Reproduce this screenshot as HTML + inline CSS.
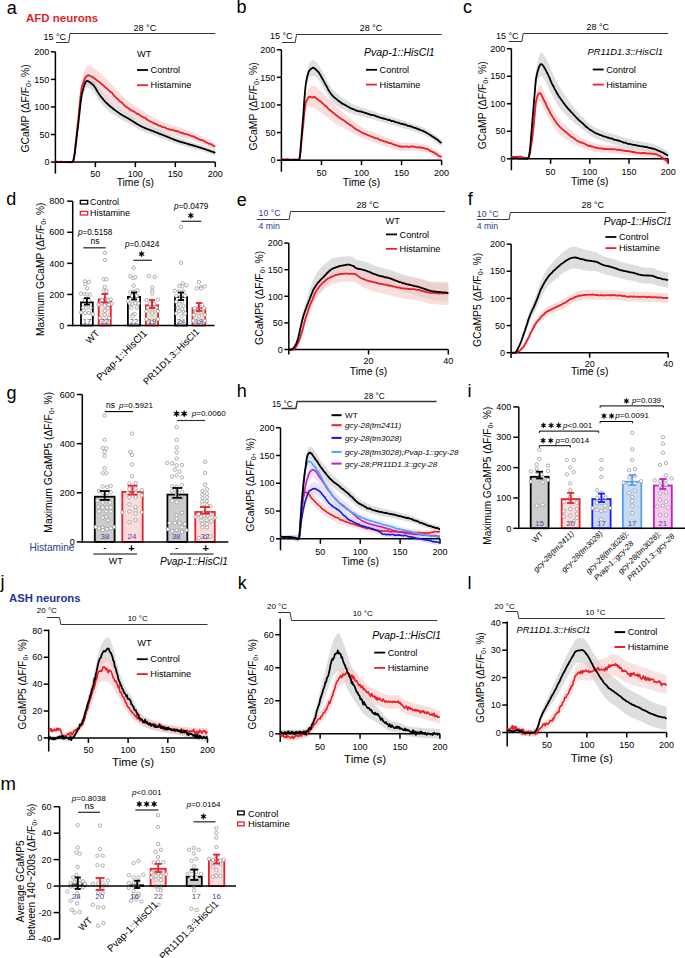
<!DOCTYPE html>
<html><head><meta charset="utf-8"><style>
html,body{margin:0;padding:0;background:#fff;width:685px;height:958px;overflow:hidden}
svg{display:block;font-family:"Liberation Sans", sans-serif}
</style></head><body>
<svg width="685" height="958" viewBox="0 0 685 958">
<text x="6.8" y="14" font-size="18" text-anchor="start" font-weight="normal" font-style="normal" fill="#000">a</text>
<text x="26" y="21.8" font-size="11.5" text-anchor="start" font-weight="bold" font-style="normal" fill="#e41f26">AFD neurons</text>
<path d="M56,42.5 L68.7,42.5 L70,33.5 L215.3,33.5" stroke="#3d3434" stroke-width="1" fill="none"/>
<text x="43.5" y="39.6" font-size="9" text-anchor="start" font-weight="normal" font-style="normal" fill="#000">15 °C</text>
<text x="144.9" y="31" font-size="9" text-anchor="middle" font-weight="normal" font-style="normal" fill="#000">28 °C</text>
<path d="M55.4,161.0 56.2,161.0 57.0,161.1 57.8,161.1 58.6,161.1 59.4,161.2 60.2,161.2 61.0,161.2 61.8,161.3 62.6,161.3 63.4,161.3 64.2,161.4 65.0,161.4 65.8,161.4 66.6,161.5 67.5,161.5 68.3,161.5 69.1,161.5 69.9,161.5 70.7,161.5 71.5,161.5 72.3,161.3 73.1,160.6 73.9,157.0 74.7,150.8 75.5,142.8 76.3,134.1 77.1,125.6 77.9,117.9 78.7,109.6 79.5,100.7 80.3,92.3 81.1,85.0 81.9,79.8 82.7,76.7 83.5,74.0 84.3,71.6 85.1,69.5 85.9,67.8 86.7,66.5 87.5,65.7 88.3,65.4 89.1,65.4 90.0,65.7 90.8,66.1 91.6,66.5 92.4,67.0 93.2,67.6 94.0,68.2 94.8,68.7 95.6,69.3 96.4,69.9 97.2,70.6 98.0,71.3 98.8,72.0 99.6,72.8 100.4,73.5 101.2,74.3 102.0,75.0 102.8,75.8 103.6,76.5 104.4,77.3 105.2,78.0 106.0,78.8 106.8,79.5 107.6,80.3 108.4,81.1 109.2,81.9 110.0,82.7 110.8,83.5 111.6,84.3 112.4,85.2 113.3,86.0 114.1,86.9 114.9,87.8 115.7,88.7 116.5,89.6 117.3,90.5 118.1,91.4 118.9,92.2 119.7,93.0 120.5,93.9 121.3,94.7 122.1,95.5 122.9,96.3 123.7,97.1 124.5,97.9 125.3,98.6 126.1,99.3 126.9,100.0 127.7,100.7 128.5,101.3 129.3,102.0 130.1,102.5 130.9,103.1 131.7,103.7 132.5,104.2 133.3,104.7 134.1,105.2 134.9,105.7 135.8,106.2 136.6,106.7 137.4,107.2 138.2,107.7 139.0,108.2 139.8,108.8 140.6,109.3 141.4,109.8 142.2,110.3 143.0,110.9 143.8,111.4 144.6,111.9 145.4,112.5 146.2,113.0 147.0,113.5 147.8,114.0 148.6,114.6 149.4,115.1 150.2,115.5 151.0,116.0 151.8,116.5 152.6,116.9 153.4,117.3 154.2,117.8 155.0,118.2 155.8,118.6 156.6,118.9 157.4,119.3 158.3,119.7 159.1,120.1 159.9,120.4 160.7,120.8 161.5,121.1 162.3,121.4 163.1,121.8 163.9,122.1 164.7,122.4 165.5,122.7 166.3,123.0 167.1,123.3 167.9,123.6 168.7,123.9 169.5,124.1 170.3,124.4 171.1,124.7 171.9,124.9 172.7,125.2 173.5,125.5 174.3,125.7 175.1,126.0 175.9,126.2 176.7,126.5 177.5,126.8 178.3,127.0 179.1,127.3 179.9,127.6 180.7,127.8 181.6,128.1 182.4,128.3 183.2,128.6 184.0,128.9 184.8,129.1 185.6,129.4 186.4,129.7 187.2,130.0 188.0,130.3 188.8,130.6 189.6,130.9 190.4,131.2 191.2,131.5 192.0,131.9 192.8,132.2 193.6,132.5 194.4,132.9 195.2,133.3 196.0,133.6 196.8,134.0 197.6,134.3 198.4,134.7 199.2,135.1 200.0,135.5 200.8,135.8 201.6,136.2 202.4,136.6 203.2,137.0 204.1,137.4 204.9,137.8 205.7,138.2 206.5,138.6 207.3,139.0 208.1,139.4 208.9,139.8 209.7,140.2 210.5,140.6 211.3,141.0 212.1,141.4 212.9,141.9 213.7,142.3 214.5,142.7 215.3,143.1 215.3,149.7 214.5,149.4 213.7,149.0 212.9,148.7 212.1,148.3 211.3,148.0 210.5,147.6 209.7,147.3 208.9,146.9 208.1,146.6 207.3,146.2 206.5,145.9 205.7,145.6 204.9,145.2 204.1,144.9 203.2,144.6 202.4,144.2 201.6,143.9 200.8,143.6 200.0,143.3 199.2,143.0 198.4,142.7 197.6,142.3 196.8,142.0 196.0,141.7 195.2,141.4 194.4,141.1 193.6,140.8 192.8,140.6 192.0,140.3 191.2,140.0 190.4,139.7 189.6,139.5 188.8,139.2 188.0,139.0 187.2,138.7 186.4,138.5 185.6,138.3 184.8,138.1 184.0,137.9 183.2,137.7 182.4,137.5 181.6,137.3 180.7,137.1 179.9,136.9 179.1,136.7 178.3,136.5 177.5,136.3 176.7,136.1 175.9,135.9 175.1,135.7 174.3,135.5 173.5,135.3 172.7,135.1 171.9,134.9 171.1,134.7 170.3,134.5 169.5,134.3 168.7,134.1 167.9,133.8 167.1,133.6 166.3,133.4 165.5,133.2 164.7,132.9 163.9,132.7 163.1,132.4 162.3,132.1 161.5,131.9 160.7,131.6 159.9,131.3 159.1,131.0 158.3,130.7 157.4,130.4 156.6,130.1 155.8,129.8 155.0,129.5 154.2,129.1 153.4,128.8 152.6,128.5 151.8,128.1 151.0,127.7 150.2,127.3 149.4,126.9 148.6,126.5 147.8,126.0 147.0,125.6 146.2,125.1 145.4,124.7 144.6,124.2 143.8,123.8 143.0,123.3 142.2,122.9 141.4,122.4 140.6,122.0 139.8,121.5 139.0,121.1 138.2,120.7 137.4,120.2 136.6,119.8 135.8,119.4 134.9,119.0 134.1,118.6 133.3,118.2 132.5,117.8 131.7,117.3 130.9,116.9 130.1,116.5 129.3,116.0 128.5,115.5 127.7,115.0 126.9,114.5 126.1,113.9 125.3,113.3 124.5,112.7 123.7,112.1 122.9,111.5 122.1,110.8 121.3,110.2 120.5,109.5 119.7,108.8 118.9,108.1 118.1,107.5 117.3,106.8 116.5,106.0 115.7,105.3 114.9,104.6 114.1,103.8 113.3,103.1 112.4,102.4 111.6,101.7 110.8,101.0 110.0,100.3 109.2,99.7 108.4,99.0 107.6,98.4 106.8,97.7 106.0,97.1 105.2,96.5 104.4,95.8 103.6,95.2 102.8,94.6 102.0,94.0 101.2,93.3 100.4,92.7 99.6,92.0 98.8,91.3 98.0,90.7 97.2,90.1 96.4,89.5 95.6,88.9 94.8,88.4 94.0,87.9 93.2,87.4 92.4,86.9 91.6,86.4 90.8,85.9 90.0,85.5 89.1,85.2 88.3,85.0 87.5,84.9 86.7,85.2 85.9,85.8 85.1,86.8 84.3,88.2 83.5,89.7 82.7,91.5 81.9,93.7 81.1,98.0 80.3,104.3 79.5,111.9 78.7,119.7 77.9,126.9 77.1,133.1 76.3,140.1 75.5,147.4 74.7,154.0 73.9,159.2 73.1,162.0 72.3,162.4 71.5,162.6 70.7,162.6 69.9,162.6 69.1,162.6 68.3,162.6 67.5,162.6 66.6,162.6 65.8,162.5 65.0,162.5 64.2,162.5 63.4,162.4 62.6,162.4 61.8,162.4 61.0,162.3 60.2,162.3 59.4,162.3 58.6,162.2 57.8,162.2 57.0,162.2 56.2,162.1 55.4,162.1Z" stroke="none" stroke-width="1" fill="#f6c6c6" fill-opacity="0.6"/>
<path d="M55.4,161.5 56.2,161.5 57.0,161.5 57.8,161.5 58.6,161.5 59.4,161.5 60.2,161.5 61.0,161.5 61.8,161.5 62.6,161.5 63.4,161.5 64.2,161.5 65.0,161.5 65.8,161.5 66.6,161.5 67.5,161.5 68.3,161.5 69.1,161.5 69.9,161.5 70.7,161.5 71.5,161.5 72.3,161.3 73.1,160.6 73.9,157.6 74.7,152.2 75.5,145.4 76.3,137.8 77.1,130.4 77.9,123.7 78.7,116.2 79.5,108.3 80.3,100.6 81.1,93.8 81.9,88.7 82.7,85.3 83.5,82.2 84.3,79.4 85.1,77.1 85.9,75.5 86.7,74.7 87.5,74.6 88.3,74.8 89.1,75.1 90.0,75.6 90.8,76.2 91.6,76.9 92.4,77.6 93.2,78.3 94.0,79.3 94.8,80.4 95.6,81.7 96.4,83.1 97.2,84.5 98.0,85.9 98.8,87.2 99.6,88.4 100.4,89.5 101.2,90.6 102.0,91.6 102.8,92.7 103.6,93.6 104.4,94.6 105.2,95.5 106.0,96.4 106.8,97.3 107.6,98.1 108.4,98.8 109.2,99.6 110.0,100.4 110.8,101.1 111.6,101.8 112.4,102.5 113.3,103.2 114.1,103.9 114.9,104.5 115.7,105.2 116.5,105.8 117.3,106.4 118.1,107.0 118.9,107.6 119.7,108.2 120.5,108.8 121.3,109.3 122.1,109.9 122.9,110.4 123.7,110.9 124.5,111.4 125.3,111.9 126.1,112.5 126.9,113.0 127.7,113.5 128.5,114.0 129.3,114.5 130.1,115.0 130.9,115.5 131.7,116.1 132.5,116.6 133.3,117.1 134.1,117.7 134.9,118.2 135.8,118.8 136.6,119.3 137.4,119.8 138.2,120.3 139.0,120.8 139.8,121.3 140.6,121.7 141.4,122.2 142.2,122.6 143.0,123.0 143.8,123.3 144.6,123.7 145.4,124.1 146.2,124.4 147.0,124.7 147.8,125.1 148.6,125.4 149.4,125.7 150.2,126.0 151.0,126.4 151.8,126.7 152.6,127.0 153.4,127.4 154.2,127.7 155.0,128.0 155.8,128.4 156.6,128.7 157.4,129.0 158.3,129.4 159.1,129.7 159.9,130.0 160.7,130.4 161.5,130.7 162.3,131.0 163.1,131.4 163.9,131.7 164.7,132.0 165.5,132.4 166.3,132.7 167.1,133.1 167.9,133.4 168.7,133.8 169.5,134.1 170.3,134.5 171.1,134.8 171.9,135.2 172.7,135.5 173.5,135.8 174.3,136.2 175.1,136.5 175.9,136.8 176.7,137.1 177.5,137.4 178.3,137.7 179.1,137.9 179.9,138.2 180.7,138.5 181.6,138.7 182.4,139.0 183.2,139.2 184.0,139.5 184.8,139.7 185.6,139.9 186.4,140.2 187.2,140.4 188.0,140.7 188.8,141.0 189.6,141.2 190.4,141.5 191.2,141.7 192.0,142.0 192.8,142.2 193.6,142.4 194.4,142.7 195.2,142.9 196.0,143.2 196.8,143.5 197.6,143.7 198.4,144.0 199.2,144.2 200.0,144.5 200.8,144.8 201.6,145.0 202.4,145.3 203.2,145.6 204.1,145.9 204.9,146.2 205.7,146.5 206.5,146.8 207.3,147.1 208.1,147.4 208.9,147.6 209.7,147.9 210.5,148.2 211.3,148.5 212.1,148.8 212.9,149.1 213.7,149.4 214.5,149.7 215.3,150.0 215.3,155.5 214.5,155.3 213.7,155.0 212.9,154.8 212.1,154.5 211.3,154.2 210.5,154.0 209.7,153.7 208.9,153.4 208.1,153.2 207.3,152.9 206.5,152.6 205.7,152.4 204.9,152.1 204.1,151.8 203.2,151.6 202.4,151.3 201.6,151.1 200.8,150.8 200.0,150.6 199.2,150.4 198.4,150.1 197.6,149.9 196.8,149.7 196.0,149.4 195.2,149.2 194.4,149.0 193.6,148.8 192.8,148.6 192.0,148.3 191.2,148.1 190.4,147.9 189.6,147.7 188.8,147.5 188.0,147.2 187.2,147.0 186.4,146.8 185.6,146.6 184.8,146.3 184.0,146.1 183.2,145.9 182.4,145.7 181.6,145.5 180.7,145.2 179.9,145.0 179.1,144.8 178.3,144.5 177.5,144.3 176.7,144.0 175.9,143.7 175.1,143.5 174.3,143.2 173.5,142.9 172.7,142.6 171.9,142.3 171.1,142.0 170.3,141.6 169.5,141.3 168.7,141.0 167.9,140.7 167.1,140.4 166.3,140.0 165.5,139.7 164.7,139.4 163.9,139.1 163.1,138.8 162.3,138.5 161.5,138.2 160.7,137.9 159.9,137.6 159.1,137.3 158.3,137.0 157.4,136.7 156.6,136.4 155.8,136.1 155.0,135.8 154.2,135.5 153.4,135.2 152.6,134.9 151.8,134.6 151.0,134.4 150.2,134.1 149.4,133.8 148.6,133.5 147.8,133.2 147.0,132.9 146.2,132.6 145.4,132.3 144.6,132.0 143.8,131.7 143.0,131.4 142.2,131.0 141.4,130.6 140.6,130.3 139.8,129.8 139.0,129.4 138.2,129.0 137.4,128.5 136.6,128.0 135.8,127.6 134.9,127.1 134.1,126.6 133.3,126.1 132.5,125.6 131.7,125.1 130.9,124.7 130.1,124.2 129.3,123.8 128.5,123.4 127.7,122.9 126.9,122.5 126.1,122.1 125.3,121.7 124.5,121.3 123.7,120.9 122.9,120.4 122.1,120.0 121.3,119.6 120.5,119.1 119.7,118.7 118.9,118.2 118.1,117.7 117.3,117.2 116.5,116.7 115.7,116.1 114.9,115.6 114.1,115.0 113.3,114.5 112.4,113.9 111.6,113.3 110.8,112.7 110.0,112.1 109.2,111.4 108.4,110.7 107.6,110.1 106.8,109.3 106.0,108.6 105.2,107.8 104.4,107.0 103.6,106.1 102.8,105.2 102.0,104.2 101.2,103.3 100.4,102.3 99.6,101.3 98.8,100.1 98.0,98.9 97.2,97.5 96.4,96.1 95.6,94.8 94.8,93.5 94.0,92.4 93.2,91.5 92.4,90.8 91.6,90.1 90.8,89.5 90.0,88.9 89.1,88.3 88.3,87.9 87.5,87.6 86.7,87.4 85.9,87.9 85.1,89.2 84.3,91.1 83.5,93.5 82.7,96.1 81.9,99.1 81.1,103.7 80.3,110.0 79.5,117.2 78.7,124.5 77.9,131.1 77.1,136.8 76.3,143.0 75.5,149.3 74.7,155.1 73.9,159.6 73.1,162.0 72.3,162.4 71.5,162.6 70.7,162.7 69.9,162.7 69.1,162.7 68.3,162.7 67.5,162.7 66.6,162.7 65.8,162.7 65.0,162.7 64.2,162.7 63.4,162.7 62.6,162.7 61.8,162.7 61.0,162.7 60.2,162.7 59.4,162.7 58.6,162.7 57.8,162.7 57.0,162.7 56.2,162.7 55.4,162.7Z" stroke="none" stroke-width="1" fill="#c8c8c8" fill-opacity="0.6"/>
<line x1="55.4" y1="51.8" x2="55.4" y2="173.6" stroke="#000" stroke-width="1.5"/>
<line x1="55.4" y1="162.1" x2="215.3" y2="162.1" stroke="#000" stroke-width="1.5"/>
<line x1="95.38" y1="162.1" x2="95.38" y2="167.1" stroke="#000" stroke-width="1.5"/>
<text x="95.38" y="176.5" font-size="9" text-anchor="middle" font-weight="normal" font-style="normal" fill="#000">50</text>
<line x1="135.35" y1="162.1" x2="135.35" y2="167.1" stroke="#000" stroke-width="1.5"/>
<text x="135.35" y="176.5" font-size="9" text-anchor="middle" font-weight="normal" font-style="normal" fill="#000">100</text>
<line x1="175.32" y1="162.1" x2="175.32" y2="167.1" stroke="#000" stroke-width="1.5"/>
<text x="175.32" y="176.5" font-size="9" text-anchor="middle" font-weight="normal" font-style="normal" fill="#000">150</text>
<line x1="215.3" y1="162.1" x2="215.3" y2="167.1" stroke="#000" stroke-width="1.5"/>
<text x="215.3" y="176.5" font-size="9" text-anchor="middle" font-weight="normal" font-style="normal" fill="#000">200</text>
<line x1="50.9" y1="162.1" x2="55.4" y2="162.1" stroke="#000" stroke-width="1.5"/>
<text x="49.4" y="165.3" font-size="9" text-anchor="end" font-weight="normal" font-style="normal" fill="#000">0</text>
<line x1="50.9" y1="134.53" x2="55.4" y2="134.53" stroke="#000" stroke-width="1.5"/>
<text x="49.4" y="137.72" font-size="9" text-anchor="end" font-weight="normal" font-style="normal" fill="#000">50</text>
<line x1="50.9" y1="106.95" x2="55.4" y2="106.95" stroke="#000" stroke-width="1.5"/>
<text x="49.4" y="110.15" font-size="9" text-anchor="end" font-weight="normal" font-style="normal" fill="#000">100</text>
<line x1="50.9" y1="79.38" x2="55.4" y2="79.38" stroke="#000" stroke-width="1.5"/>
<text x="49.4" y="82.58" font-size="9" text-anchor="end" font-weight="normal" font-style="normal" fill="#000">150</text>
<line x1="50.9" y1="51.8" x2="55.4" y2="51.8" stroke="#000" stroke-width="1.5"/>
<text x="49.4" y="55" font-size="9" text-anchor="end" font-weight="normal" font-style="normal" fill="#000">200</text>
<text x="135.35" y="185.5" font-size="10.3" text-anchor="middle" font-weight="normal" font-style="normal" fill="#000">Time (s)</text>
<text x="29.5" y="108.45" font-size="10.4" text-anchor="middle" font-weight="normal" font-style="normal" fill="#000" transform="rotate(-90 29.5 108.45)">GCaMP (ΔF/F<tspan font-size="70%" dy="2">0</tspan><tspan dy="-2">, %)</tspan></text>
<path d="M55.4,161.6 55.9,161.9 56.5,161.6 57.0,161.9 57.5,161.7 58.1,161.9 58.6,161.9 59.1,161.9 59.7,162.1 60.2,161.9 60.7,161.6 61.3,161.5 61.8,161.7 62.4,161.9 62.9,162.0 63.4,161.9 64.0,161.9 64.5,161.9 65.0,161.9 65.6,162.2 66.1,162.1 66.6,162.1 67.2,162.1 67.7,162.2 68.2,162.2 68.8,162.2 69.3,162.3 69.8,162.4 70.4,162.4 70.9,162.3 71.4,161.9 72.0,162.1 72.5,161.8 73.0,161.6 73.6,159.4 74.1,156.4 74.7,152.6 75.2,148.0 75.7,142.8 76.3,137.4 76.8,132.1 77.3,127.4 77.9,122.7 78.4,117.6 78.9,112.0 79.5,106.5 80.0,101.3 80.5,96.3 81.1,91.9 81.6,88.2 82.1,85.8 82.7,84.2 83.2,82.8 83.7,81.3 84.3,79.8 84.8,78.7 85.3,77.6 85.9,76.9 86.4,76.3 87.0,75.9 87.5,75.6 88.0,75.2 88.6,75.2 89.1,75.5 89.6,75.7 90.2,76.0 90.7,76.2 91.2,76.4 91.8,76.6 92.3,76.8 92.8,77.2 93.4,77.7 93.9,77.9 94.4,78.5 95.0,78.7 95.5,79.3 96.0,79.6 96.6,80.1 97.1,80.4 97.6,80.9 98.2,81.4 98.7,81.5 99.3,81.9 99.8,82.4 100.3,83.1 100.9,83.5 101.4,83.8 101.9,84.2 102.5,84.8 103.0,85.3 103.5,85.7 104.1,86.1 104.6,86.5 105.1,87.2 105.7,87.5 106.2,88.1 106.7,88.4 107.3,88.9 107.8,89.6 108.3,90.0 108.9,90.5 109.4,90.9 109.9,91.4 110.5,92.0 111.0,92.1 111.6,92.4 112.1,92.9 112.6,93.8 113.2,94.6 113.7,95.2 114.2,95.7 114.8,96.3 115.3,96.9 115.8,97.4 116.4,97.9 116.9,98.4 117.4,99.0 118.0,99.2 118.5,99.8 119.0,100.3 119.6,101.1 120.1,101.4 120.6,101.8 121.2,102.2 121.7,102.5 122.2,103.0 122.8,103.7 123.3,104.2 123.9,104.9 124.4,105.3 124.9,105.9 125.5,106.3 126.0,106.7 126.5,107.0 127.1,107.2 127.6,107.8 128.1,108.1 128.7,108.5 129.2,108.7 129.7,109.3 130.3,109.8 130.8,110.3 131.3,110.7 131.9,110.6 132.4,110.7 132.9,110.6 133.5,111.3 134.0,111.6 134.5,112.0 135.1,112.2 135.6,112.6 136.2,113.0 136.7,113.6 137.2,113.8 137.8,114.1 138.3,114.0 138.8,114.4 139.4,114.6 139.9,115.1 140.4,115.5 141.0,115.9 141.5,116.3 142.0,116.6 142.6,117.0 143.1,117.2 143.6,117.4 144.2,117.7 144.7,117.6 145.2,117.9 145.8,118.1 146.3,119.1 146.8,119.5 147.4,119.9 147.9,120.0 148.5,120.5 149.0,120.8 149.5,121.1 150.1,121.4 150.6,121.6 151.1,121.7 151.7,121.9 152.2,122.3 152.7,122.7 153.3,122.9 153.8,123.0 154.3,123.5 154.9,123.9 155.4,124.1 155.9,124.2 156.5,124.2 157.0,124.4 157.5,124.9 158.1,125.3 158.6,125.7 159.1,125.6 159.7,125.7 160.2,125.7 160.8,126.0 161.3,126.3 161.8,126.7 162.4,127.0 162.9,127.2 163.4,127.1 164.0,127.2 164.5,127.4 165.0,127.7 165.6,127.9 166.1,128.1 166.6,128.4 167.2,128.8 167.7,128.8 168.2,129.0 168.8,129.1 169.3,129.4 169.8,129.5 170.4,129.6 170.9,129.6 171.4,129.7 172.0,129.9 172.5,130.1 173.1,130.1 173.6,130.2 174.1,130.4 174.7,130.8 175.2,131.1 175.7,131.0 176.3,131.1 176.8,131.0 177.3,131.2 177.9,131.4 178.4,131.5 178.9,131.8 179.5,132.0 180.0,132.4 180.5,132.6 181.1,133.0 181.6,132.8 182.1,133.1 182.7,133.0 183.2,133.5 183.7,133.7 184.3,133.8 184.8,133.9 185.4,133.8 185.9,133.9 186.4,134.1 187.0,134.3 187.5,134.4 188.0,134.6 188.6,134.8 189.1,135.0 189.6,135.2 190.2,135.3 190.7,135.8 191.2,136.0 191.8,136.2 192.3,136.1 192.8,136.3 193.4,136.4 193.9,136.6 194.4,136.7 195.0,137.3 195.5,137.6 196.0,137.9 196.6,138.2 197.1,138.3 197.7,138.6 198.2,138.7 198.7,139.1 199.3,139.4 199.8,139.7 200.3,139.9 200.9,140.0 201.4,140.2 201.9,140.4 202.5,140.4 203.0,140.4 203.5,140.6 204.1,141.0 204.6,141.2 205.1,141.7 205.7,142.1 206.2,142.5 206.7,142.6 207.3,142.6 207.8,142.9 208.3,143.3 208.9,143.7 209.4,143.8 210.0,143.8 210.5,144.0 211.0,144.1 211.6,144.6 212.1,144.9 212.6,145.3 213.2,145.6 213.7,145.8 214.2,146.1 214.8,146.3 215.3,146.4" stroke="#e8212b" stroke-width="1.8" fill="none" stroke-linejoin="round"/>
<path d="M55.4,162.1 55.9,162.1 56.5,162.1 57.0,162.1 57.5,162.1 58.1,162.1 58.6,162.1 59.1,162.1 59.7,162.1 60.2,162.1 60.7,162.1 61.3,162.1 61.8,162.1 62.4,162.1 62.9,162.1 63.4,162.1 64.0,162.1 64.5,162.1 65.0,162.1 65.6,162.1 66.1,162.1 66.6,162.1 67.2,162.1 67.7,162.1 68.2,162.1 68.8,162.1 69.3,162.1 69.8,162.1 70.4,162.1 70.9,162.1 71.4,162.1 72.0,162.0 72.5,161.8 73.0,161.4 73.6,159.9 74.1,157.3 74.7,153.9 75.2,149.8 75.7,145.4 76.3,140.7 76.8,136.1 77.3,131.8 77.9,127.7 78.4,123.1 78.9,118.2 79.5,113.2 80.0,108.1 80.5,103.4 81.1,99.1 81.6,95.5 82.1,92.9 82.7,90.9 83.2,88.9 83.7,87.1 84.3,85.4 84.8,83.9 85.3,82.7 85.9,81.8 86.4,81.2 87.0,81.0 87.5,81.1 88.0,81.2 88.6,81.4 89.1,81.7 89.6,82.0 90.2,82.4 90.7,82.8 91.2,83.2 91.8,83.7 92.3,84.1 92.8,84.6 93.4,85.1 93.9,85.8 94.4,86.5 95.0,87.3 95.5,88.1 96.0,89.0 96.6,90.0 97.1,90.9 97.6,91.8 98.2,92.7 98.7,93.6 99.3,94.4 99.8,95.1 100.3,95.8 100.9,96.5 101.4,97.2 101.9,97.8 102.5,98.5 103.0,99.1 103.5,99.8 104.1,100.4 104.6,101.0 105.1,101.6 105.7,102.1 106.2,102.7 106.7,103.2 107.3,103.7 107.8,104.2 108.3,104.7 108.9,105.2 109.4,105.7 109.9,106.1 110.5,106.6 111.0,107.0 111.6,107.5 112.1,107.9 112.6,108.3 113.2,108.8 113.7,109.2 114.2,109.6 114.8,110.0 115.3,110.4 115.8,110.8 116.4,111.1 116.9,111.5 117.4,111.9 118.0,112.3 118.5,112.6 119.0,113.0 119.6,113.4 120.1,113.7 120.6,114.0 121.2,114.4 121.7,114.7 122.2,115.0 122.8,115.4 123.3,115.7 123.9,116.0 124.4,116.3 124.9,116.6 125.5,116.9 126.0,117.2 126.5,117.5 127.1,117.8 127.6,118.1 128.1,118.4 128.7,118.7 129.2,119.1 129.7,119.4 130.3,119.7 130.8,120.0 131.3,120.4 131.9,120.7 132.4,121.0 132.9,121.4 133.5,121.7 134.0,122.0 134.5,122.4 135.1,122.7 135.6,123.1 136.2,123.4 136.7,123.7 137.2,124.1 137.8,124.4 138.3,124.7 138.8,125.0 139.4,125.3 139.9,125.6 140.4,125.9 141.0,126.2 141.5,126.5 142.0,126.7 142.6,127.0 143.1,127.2 143.6,127.5 144.2,127.7 144.7,127.9 145.2,128.1 145.8,128.4 146.3,128.6 146.8,128.8 147.4,129.0 147.9,129.2 148.5,129.4 149.0,129.6 149.5,129.8 150.1,130.0 150.6,130.2 151.1,130.4 151.7,130.6 152.2,130.8 152.7,131.0 153.3,131.2 153.8,131.4 154.3,131.7 154.9,131.9 155.4,132.1 155.9,132.3 156.5,132.5 157.0,132.7 157.5,132.9 158.1,133.1 158.6,133.4 159.1,133.6 159.7,133.8 160.2,134.0 160.8,134.2 161.3,134.4 161.8,134.6 162.4,134.8 162.9,135.0 163.4,135.2 164.0,135.5 164.5,135.7 165.0,135.9 165.6,136.1 166.1,136.3 166.6,136.5 167.2,136.7 167.7,137.0 168.2,137.2 168.8,137.4 169.3,137.6 169.8,137.9 170.4,138.1 170.9,138.3 171.4,138.5 172.0,138.7 172.5,139.0 173.1,139.2 173.6,139.4 174.1,139.6 174.7,139.8 175.2,140.0 175.7,140.2 176.3,140.4 176.8,140.6 177.3,140.8 177.9,140.9 178.4,141.1 178.9,141.3 179.5,141.5 180.0,141.6 180.5,141.8 181.1,141.9 181.6,142.1 182.1,142.3 182.7,142.4 183.2,142.6 183.7,142.7 184.3,142.9 184.8,143.0 185.4,143.2 185.9,143.3 186.4,143.5 187.0,143.7 187.5,143.8 188.0,144.0 188.6,144.1 189.1,144.3 189.6,144.5 190.2,144.6 190.7,144.8 191.2,144.9 191.8,145.1 192.3,145.2 192.8,145.4 193.4,145.5 193.9,145.7 194.4,145.9 195.0,146.0 195.5,146.2 196.0,146.3 196.6,146.5 197.1,146.6 197.7,146.8 198.2,147.0 198.7,147.1 199.3,147.3 199.8,147.5 200.3,147.6 200.9,147.8 201.4,148.0 201.9,148.2 202.5,148.3 203.0,148.5 203.5,148.7 204.1,148.9 204.6,149.1 205.1,149.2 205.7,149.4 206.2,149.6 206.7,149.8 207.3,150.0 207.8,150.2 208.3,150.4 208.9,150.5 209.4,150.7 210.0,150.9 210.5,151.1 211.0,151.3 211.6,151.5 212.1,151.7 212.6,151.9 213.2,152.0 213.7,152.2 214.2,152.4 214.8,152.6 215.3,152.8" stroke="#000" stroke-width="1.8" fill="none" stroke-linejoin="round"/>
<text x="137" y="57.4" font-size="9.2" text-anchor="start" font-weight="normal" font-style="normal" fill="#000">WT</text>
<line x1="137" y1="70" x2="148" y2="70" stroke="#000" stroke-width="1.8"/>
<text x="150.5" y="73.1" font-size="9.2" text-anchor="start" font-weight="normal" font-style="normal" fill="#000">Control</text>
<line x1="137" y1="85.2" x2="148" y2="85.2" stroke="#e8212b" stroke-width="1.8"/>
<text x="150.5" y="88.3" font-size="9.2" text-anchor="start" font-weight="normal" font-style="normal" fill="#000">Histamine</text>
<text x="236.5" y="13.4" font-size="18" text-anchor="start" font-weight="normal" font-style="normal" fill="#000">b</text>
<path d="M282,42.5 L295.2,42.5 L296.5,34.5 L441.6,34.5" stroke="#3d3434" stroke-width="1" fill="none"/>
<text x="270" y="39.3" font-size="9" text-anchor="start" font-weight="normal" font-style="normal" fill="#000">15 °C</text>
<text x="371" y="31" font-size="9" text-anchor="middle" font-weight="normal" font-style="normal" fill="#000">28 °C</text>
<path d="M281.4,159.4 282.2,159.4 283.0,159.4 283.8,159.4 284.6,159.4 285.4,159.4 286.2,159.4 287.0,159.4 287.8,159.4 288.6,159.4 289.5,159.4 290.3,159.4 291.1,159.4 291.9,159.4 292.7,159.4 293.5,159.4 294.3,159.4 295.1,159.4 295.9,159.4 296.7,159.4 297.5,159.4 298.3,159.3 299.1,158.9 299.9,154.5 300.7,145.5 301.5,134.4 302.3,123.5 303.1,113.0 303.9,101.1 304.7,89.7 305.6,80.6 306.4,75.1 307.2,70.9 308.0,67.3 308.8,64.7 309.6,63.1 310.4,62.0 311.2,61.2 312.0,60.5 312.8,60.2 313.6,60.3 314.4,60.6 315.2,61.2 316.0,62.0 316.8,62.8 317.6,63.7 318.4,64.6 319.2,65.8 320.0,67.0 320.8,68.4 321.7,69.9 322.5,71.4 323.3,72.8 324.1,74.2 324.9,75.7 325.7,77.3 326.5,78.9 327.3,80.5 328.1,82.1 328.9,83.6 329.7,85.0 330.5,86.3 331.3,87.5 332.1,88.5 332.9,89.4 333.7,90.3 334.5,91.1 335.3,91.9 336.1,92.7 336.9,93.4 337.8,94.1 338.6,94.8 339.4,95.5 340.2,96.1 341.0,96.7 341.8,97.3 342.6,97.9 343.4,98.5 344.2,99.0 345.0,99.6 345.8,100.1 346.6,100.6 347.4,101.1 348.2,101.6 349.0,102.1 349.8,102.6 350.6,103.0 351.4,103.5 352.2,103.9 353.0,104.3 353.9,104.7 354.7,105.0 355.5,105.4 356.3,105.7 357.1,106.0 357.9,106.3 358.7,106.6 359.5,106.9 360.3,107.1 361.1,107.4 361.9,107.6 362.7,107.9 363.5,108.1 364.3,108.3 365.1,108.6 365.9,108.8 366.7,109.1 367.5,109.3 368.3,109.6 369.1,109.9 370.0,110.1 370.8,110.4 371.6,110.6 372.4,110.9 373.2,111.2 374.0,111.4 374.8,111.7 375.6,111.9 376.4,112.2 377.2,112.5 378.0,112.7 378.8,113.0 379.6,113.2 380.4,113.5 381.2,113.7 382.0,114.0 382.8,114.2 383.6,114.5 384.4,114.7 385.2,115.0 386.1,115.2 386.9,115.5 387.7,115.7 388.5,116.0 389.3,116.2 390.1,116.5 390.9,116.7 391.7,117.0 392.5,117.2 393.3,117.5 394.1,117.7 394.9,118.0 395.7,118.2 396.5,118.5 397.3,118.8 398.1,119.0 398.9,119.3 399.7,119.5 400.5,119.8 401.3,120.0 402.2,120.3 403.0,120.5 403.8,120.7 404.6,121.0 405.4,121.2 406.2,121.5 407.0,121.7 407.8,121.9 408.6,122.2 409.4,122.4 410.2,122.7 411.0,122.9 411.8,123.2 412.6,123.4 413.4,123.7 414.2,124.0 415.0,124.3 415.8,124.6 416.6,124.9 417.4,125.2 418.3,125.5 419.1,125.8 419.9,126.2 420.7,126.5 421.5,126.8 422.3,127.2 423.1,127.6 423.9,127.9 424.7,128.3 425.5,128.7 426.3,129.2 427.1,129.6 427.9,130.1 428.7,130.6 429.5,131.1 430.3,131.6 431.1,132.1 431.9,132.7 432.7,133.2 433.5,133.8 434.4,134.3 435.2,134.9 436.0,135.5 436.8,136.1 437.6,136.8 438.4,137.4 439.2,138.0 440.0,138.7 440.8,139.3 441.6,140.0 441.6,146.6 440.8,146.0 440.0,145.4 439.2,144.7 438.4,144.1 437.6,143.5 436.8,142.9 436.0,142.3 435.2,141.7 434.4,141.2 433.5,140.6 432.7,140.1 431.9,139.5 431.1,139.0 430.3,138.5 429.5,138.0 428.7,137.5 427.9,137.0 427.1,136.6 426.3,136.2 425.5,135.7 424.7,135.4 423.9,135.0 423.1,134.6 422.3,134.3 421.5,133.9 420.7,133.6 419.9,133.3 419.1,133.0 418.3,132.7 417.4,132.4 416.6,132.1 415.8,131.8 415.0,131.5 414.2,131.3 413.4,131.0 412.6,130.7 411.8,130.5 411.0,130.2 410.2,130.0 409.4,129.8 408.6,129.5 407.8,129.3 407.0,129.1 406.2,128.9 405.4,128.7 404.6,128.4 403.8,128.2 403.0,128.0 402.2,127.8 401.3,127.5 400.5,127.3 399.7,127.1 398.9,126.8 398.1,126.6 397.3,126.4 396.5,126.1 395.7,125.9 394.9,125.7 394.1,125.4 393.3,125.2 392.5,125.0 391.7,124.8 390.9,124.5 390.1,124.3 389.3,124.1 388.5,123.8 387.7,123.6 386.9,123.4 386.1,123.2 385.2,122.9 384.4,122.7 383.6,122.5 382.8,122.2 382.0,122.0 381.2,121.8 380.4,121.6 379.6,121.3 378.8,121.1 378.0,120.9 377.2,120.6 376.4,120.4 375.6,120.2 374.8,120.0 374.0,119.7 373.2,119.5 372.4,119.3 371.6,119.0 370.8,118.8 370.0,118.6 369.1,118.4 368.3,118.1 367.5,117.9 366.7,117.7 365.9,117.5 365.1,117.3 364.3,117.0 363.5,116.8 362.7,116.6 361.9,116.4 361.1,116.2 360.3,116.0 359.5,115.8 358.7,115.6 357.9,115.4 357.1,115.2 356.3,115.0 355.5,114.7 354.7,114.5 353.9,114.2 353.0,113.9 352.2,113.7 351.4,113.4 350.6,113.1 349.8,112.7 349.0,112.4 348.2,112.1 347.4,111.7 346.6,111.3 345.8,111.0 345.0,110.6 344.2,110.2 343.4,109.8 342.6,109.3 341.8,108.9 341.0,108.5 340.2,108.0 339.4,107.5 338.6,107.0 337.8,106.5 336.9,106.0 336.1,105.4 335.3,104.8 334.5,104.1 333.7,103.4 332.9,102.7 332.1,101.9 331.3,101.1 330.5,100.1 329.7,98.9 328.9,97.6 328.1,96.2 327.3,94.8 326.5,93.3 325.7,91.8 324.9,90.3 324.1,89.0 323.3,87.7 322.5,86.3 321.7,84.9 320.8,83.5 320.0,82.2 319.2,81.0 318.4,79.9 317.6,79.0 316.8,78.2 316.0,77.4 315.2,76.7 314.4,76.1 313.6,75.7 312.8,75.7 312.0,75.8 311.2,76.1 310.4,76.6 309.6,77.2 308.8,78.3 308.0,80.4 307.2,83.3 306.4,86.9 305.6,91.7 304.7,100.0 303.9,110.3 303.1,120.8 302.3,129.8 301.5,139.2 300.7,148.9 299.9,156.7 299.1,160.3 298.3,160.4 297.5,160.5 296.7,160.5 295.9,160.5 295.1,160.5 294.3,160.5 293.5,160.5 292.7,160.5 291.9,160.5 291.1,160.5 290.3,160.5 289.5,160.5 288.6,160.5 287.8,160.5 287.0,160.5 286.2,160.5 285.4,160.5 284.6,160.5 283.8,160.5 283.0,160.5 282.2,160.5 281.4,160.5Z" stroke="none" stroke-width="1" fill="#c8c8c8" fill-opacity="0.6"/>
<path d="M281.4,158.5 282.2,158.6 283.0,158.6 283.8,158.6 284.6,158.7 285.4,158.7 286.2,158.7 287.0,158.8 287.8,158.8 288.6,158.9 289.5,158.9 290.3,158.9 291.1,159.0 291.9,159.0 292.7,159.0 293.5,159.0 294.3,159.1 295.1,159.1 295.9,159.1 296.7,159.1 297.5,159.1 298.3,159.1 299.1,158.9 299.9,155.3 300.7,147.8 301.5,138.6 302.3,129.7 303.1,121.3 303.9,111.9 304.7,103.1 305.6,96.6 306.4,93.6 307.2,91.5 308.0,89.6 308.8,88.3 309.6,87.5 310.4,87.0 311.2,86.6 312.0,86.3 312.8,86.1 313.6,86.1 314.4,86.2 315.2,86.6 316.0,87.1 316.8,87.7 317.6,88.4 318.4,89.1 319.2,89.8 320.0,90.5 320.8,91.2 321.7,91.9 322.5,92.6 323.3,93.4 324.1,94.2 324.9,95.0 325.7,95.8 326.5,96.5 327.3,97.4 328.1,98.2 328.9,99.0 329.7,99.9 330.5,100.7 331.3,101.6 332.1,102.4 332.9,103.3 333.7,104.1 334.5,104.9 335.3,105.7 336.1,106.4 336.9,107.2 337.8,107.9 338.6,108.6 339.4,109.3 340.2,110.0 341.0,110.7 341.8,111.4 342.6,112.0 343.4,112.7 344.2,113.4 345.0,114.0 345.8,114.7 346.6,115.4 347.4,116.0 348.2,116.7 349.0,117.4 349.8,118.1 350.6,118.7 351.4,119.4 352.2,120.1 353.0,120.8 353.9,121.4 354.7,122.1 355.5,122.7 356.3,123.3 357.1,123.9 357.9,124.5 358.7,125.0 359.5,125.6 360.3,126.1 361.1,126.5 361.9,127.0 362.7,127.4 363.5,127.8 364.3,128.2 365.1,128.6 365.9,129.0 366.7,129.4 367.5,129.7 368.3,130.1 369.1,130.4 370.0,130.8 370.8,131.1 371.6,131.4 372.4,131.8 373.2,132.1 374.0,132.4 374.8,132.7 375.6,133.1 376.4,133.4 377.2,133.7 378.0,134.0 378.8,134.4 379.6,134.7 380.4,135.0 381.2,135.4 382.0,135.7 382.8,136.0 383.6,136.3 384.4,136.7 385.2,137.0 386.1,137.3 386.9,137.6 387.7,137.9 388.5,138.2 389.3,138.5 390.1,138.8 390.9,139.0 391.7,139.3 392.5,139.7 393.3,140.0 394.1,140.3 394.9,140.6 395.7,140.9 396.5,141.2 397.3,141.5 398.1,141.7 398.9,142.0 399.7,142.2 400.5,142.3 401.3,142.4 402.2,142.5 403.0,142.5 403.8,142.6 404.6,142.6 405.4,142.6 406.2,142.7 407.0,142.7 407.8,142.7 408.6,142.7 409.4,142.8 410.2,142.8 411.0,142.8 411.8,142.9 412.6,142.9 413.4,143.0 414.2,143.0 415.0,143.1 415.8,143.2 416.6,143.3 417.4,143.3 418.3,143.5 419.1,143.6 419.9,143.7 420.7,143.8 421.5,144.0 422.3,144.1 423.1,144.3 423.9,144.5 424.7,144.7 425.5,144.9 426.3,145.1 427.1,145.4 427.9,145.8 428.7,146.2 429.5,146.6 430.3,147.1 431.1,147.6 431.9,148.1 432.7,148.6 433.5,149.1 434.4,149.5 435.2,150.0 436.0,150.4 436.8,150.9 437.6,151.4 438.4,151.9 439.2,152.3 440.0,152.8 440.8,153.3 441.6,153.8 441.6,160.4 440.8,160.0 440.0,159.5 439.2,159.1 438.4,158.7 437.6,158.2 436.8,157.8 436.0,157.4 435.2,156.9 434.4,156.5 433.5,156.1 432.7,155.7 431.9,155.2 431.1,154.7 430.3,154.3 429.5,153.9 428.7,153.5 427.9,153.1 427.1,152.8 426.3,152.5 425.5,152.3 424.7,152.1 423.9,152.0 423.1,151.8 422.3,151.7 421.5,151.6 420.7,151.5 419.9,151.4 419.1,151.3 418.3,151.2 417.4,151.1 416.6,151.1 415.8,151.0 415.0,151.0 414.2,150.9 413.4,150.9 412.6,150.9 411.8,150.9 411.0,150.9 410.2,150.9 409.4,150.9 408.6,150.9 407.8,150.9 407.0,150.9 406.2,150.9 405.4,150.9 404.6,150.9 403.8,150.9 403.0,150.9 402.2,150.9 401.3,150.9 400.5,150.8 399.7,150.7 398.9,150.5 398.1,150.4 397.3,150.1 396.5,149.9 395.7,149.7 394.9,149.4 394.1,149.1 393.3,148.8 392.5,148.5 391.7,148.3 390.9,148.0 390.1,147.8 389.3,147.5 388.5,147.3 387.7,147.0 386.9,146.8 386.1,146.5 385.2,146.3 384.4,146.0 383.6,145.7 382.8,145.4 382.0,145.2 381.2,144.9 380.4,144.6 379.6,144.3 378.8,144.1 378.0,143.8 377.2,143.5 376.4,143.2 375.6,143.0 374.8,142.7 374.0,142.4 373.2,142.2 372.4,141.9 371.6,141.6 370.8,141.4 370.0,141.1 369.1,140.8 368.3,140.5 367.5,140.2 366.7,139.9 365.9,139.6 365.1,139.3 364.3,139.0 363.5,138.7 362.7,138.3 361.9,138.0 361.1,137.6 360.3,137.2 359.5,136.9 358.7,136.4 357.9,136.0 357.1,135.6 356.3,135.1 355.5,134.7 354.7,134.2 353.9,133.7 353.0,133.3 352.2,132.8 351.4,132.3 350.6,131.8 349.8,131.4 349.0,130.9 348.2,130.5 347.4,130.0 346.6,129.6 345.8,129.2 345.0,128.8 344.2,128.3 343.4,127.9 342.6,127.5 341.8,127.1 341.0,126.7 340.2,126.3 339.4,125.8 338.6,125.4 337.8,124.9 336.9,124.5 336.1,124.0 335.3,123.5 334.5,123.0 333.7,122.4 332.9,121.8 332.1,121.2 331.3,120.6 330.5,120.0 329.7,119.4 328.9,118.7 328.1,118.1 327.3,117.5 326.5,116.9 325.7,116.3 324.9,115.7 324.1,115.1 323.3,114.4 322.5,113.8 321.7,113.2 320.8,112.6 320.0,112.1 319.2,111.5 318.4,111.0 317.6,110.3 316.8,109.7 316.0,109.1 315.2,108.6 314.4,108.3 313.6,108.2 312.8,108.1 312.0,107.9 311.2,107.6 310.4,107.2 309.6,106.7 308.8,106.4 308.0,106.6 307.2,107.2 306.4,108.2 305.6,110.1 304.7,115.3 303.9,122.6 303.1,130.3 302.3,136.8 301.5,143.9 300.7,151.5 299.9,157.7 299.1,160.4 298.3,160.2 297.5,160.2 296.7,160.2 295.9,160.2 295.1,160.2 294.3,160.2 293.5,160.1 292.7,160.1 291.9,160.1 291.1,160.1 290.3,160.0 289.5,160.0 288.6,160.0 287.8,159.9 287.0,159.9 286.2,159.8 285.4,159.8 284.6,159.8 283.8,159.7 283.0,159.7 282.2,159.7 281.4,159.6Z" stroke="none" stroke-width="1" fill="#f6c6c6" fill-opacity="0.6"/>
<line x1="281.4" y1="49.7" x2="281.4" y2="171.7" stroke="#000" stroke-width="1.5"/>
<line x1="281.4" y1="160.2" x2="441.6" y2="160.2" stroke="#000" stroke-width="1.5"/>
<line x1="321.45" y1="160.2" x2="321.45" y2="165.2" stroke="#000" stroke-width="1.5"/>
<text x="321.45" y="176.3" font-size="9" text-anchor="middle" font-weight="normal" font-style="normal" fill="#000">50</text>
<line x1="361.5" y1="160.2" x2="361.5" y2="165.2" stroke="#000" stroke-width="1.5"/>
<text x="361.5" y="176.3" font-size="9" text-anchor="middle" font-weight="normal" font-style="normal" fill="#000">100</text>
<line x1="401.55" y1="160.2" x2="401.55" y2="165.2" stroke="#000" stroke-width="1.5"/>
<text x="401.55" y="176.3" font-size="9" text-anchor="middle" font-weight="normal" font-style="normal" fill="#000">150</text>
<line x1="441.6" y1="160.2" x2="441.6" y2="165.2" stroke="#000" stroke-width="1.5"/>
<text x="441.6" y="176.3" font-size="9" text-anchor="middle" font-weight="normal" font-style="normal" fill="#000">200</text>
<line x1="276.9" y1="160.2" x2="281.4" y2="160.2" stroke="#000" stroke-width="1.5"/>
<text x="275.4" y="163.4" font-size="9" text-anchor="end" font-weight="normal" font-style="normal" fill="#000">0</text>
<line x1="276.9" y1="132.57" x2="281.4" y2="132.57" stroke="#000" stroke-width="1.5"/>
<text x="275.4" y="135.77" font-size="9" text-anchor="end" font-weight="normal" font-style="normal" fill="#000">50</text>
<line x1="276.9" y1="104.95" x2="281.4" y2="104.95" stroke="#000" stroke-width="1.5"/>
<text x="275.4" y="108.15" font-size="9" text-anchor="end" font-weight="normal" font-style="normal" fill="#000">100</text>
<line x1="276.9" y1="77.33" x2="281.4" y2="77.33" stroke="#000" stroke-width="1.5"/>
<text x="275.4" y="80.53" font-size="9" text-anchor="end" font-weight="normal" font-style="normal" fill="#000">150</text>
<line x1="276.9" y1="49.7" x2="281.4" y2="49.7" stroke="#000" stroke-width="1.5"/>
<text x="275.4" y="52.9" font-size="9" text-anchor="end" font-weight="normal" font-style="normal" fill="#000">200</text>
<text x="361.5" y="186.4" font-size="10.3" text-anchor="middle" font-weight="normal" font-style="normal" fill="#000">Time (s)</text>
<text x="257" y="106.45" font-size="10.4" text-anchor="middle" font-weight="normal" font-style="normal" fill="#000" transform="rotate(-90 257 106.45)">GCaMP (ΔF/F<tspan font-size="70%" dy="2">0</tspan><tspan dy="-2">, %)</tspan></text>
<path d="M281.4,158.8 281.9,158.9 282.5,159.3 283.0,159.4 283.5,159.5 284.1,159.3 284.6,159.3 285.2,159.3 285.7,159.4 286.2,159.5 286.8,159.4 287.3,159.3 287.8,159.0 288.4,159.1 288.9,159.3 289.4,159.5 290.0,159.7 290.5,159.6 291.0,159.7 291.6,159.7 292.1,159.8 292.7,159.6 293.2,159.4 293.7,159.5 294.3,159.8 294.8,159.7 295.3,159.7 295.9,159.7 296.4,159.8 296.9,159.7 297.5,159.4 298.0,159.5 298.5,159.6 299.1,159.9 299.6,158.6 300.2,155.2 300.7,150.5 301.2,144.6 301.8,138.8 302.3,133.6 302.8,128.9 303.4,123.5 303.9,117.8 304.4,112.4 305.0,107.6 305.5,103.8 306.0,101.7 306.6,100.8 307.1,99.7 307.7,98.7 308.2,97.7 308.7,97.1 309.3,96.8 309.8,96.7 310.3,96.9 310.9,97.0 311.4,97.3 311.9,97.3 312.5,97.6 313.0,97.3 313.5,97.1 314.1,96.9 314.6,97.0 315.2,97.5 315.7,97.7 316.2,98.3 316.8,98.8 317.3,99.2 317.8,99.4 318.4,99.9 318.9,100.2 319.4,100.8 320.0,100.9 320.5,101.4 321.0,101.7 321.6,102.3 322.1,102.8 322.7,103.5 323.2,103.8 323.7,104.5 324.3,104.8 324.8,105.3 325.3,105.7 325.9,106.2 326.4,106.6 326.9,107.0 327.5,107.6 328.0,108.5 328.5,109.1 329.1,109.6 329.6,109.8 330.2,110.3 330.7,110.7 331.2,111.2 331.8,111.6 332.3,112.0 332.8,112.5 333.4,113.0 333.9,113.3 334.4,113.6 335.0,114.1 335.5,114.8 336.1,115.2 336.6,115.4 337.1,115.7 337.7,116.2 338.2,116.9 338.7,117.2 339.3,117.5 339.8,117.8 340.3,118.3 340.9,118.7 341.4,119.0 341.9,119.4 342.5,119.6 343.0,120.0 343.6,120.2 344.1,120.7 344.6,121.0 345.2,121.5 345.7,121.7 346.2,122.3 346.8,122.8 347.3,123.2 347.8,123.5 348.4,123.6 348.9,124.0 349.4,124.5 350.0,124.9 350.5,125.4 351.1,125.5 351.6,125.7 352.1,126.1 352.7,126.6 353.2,127.2 353.7,127.5 354.3,127.9 354.8,128.2 355.3,128.7 355.9,129.3 356.4,129.6 356.9,129.7 357.5,129.8 358.0,130.3 358.6,130.5 359.1,130.9 359.6,131.2 360.2,131.5 360.7,131.7 361.2,132.1 361.8,132.3 362.3,132.8 362.8,132.9 363.4,133.3 363.9,133.4 364.4,133.7 365.0,133.9 365.5,134.2 366.1,134.3 366.6,134.6 367.1,134.8 367.7,135.1 368.2,135.4 368.7,135.3 369.3,135.5 369.8,135.7 370.3,136.1 370.9,136.4 371.4,136.4 371.9,136.7 372.5,136.8 373.0,137.1 373.6,137.5 374.1,137.6 374.6,137.9 375.2,138.2 375.7,138.4 376.2,138.3 376.8,138.3 377.3,138.3 377.8,138.5 378.4,138.8 378.9,139.3 379.4,139.8 380.0,140.0 380.5,140.3 381.1,140.3 381.6,140.3 382.1,140.4 382.7,140.7 383.2,141.2 383.7,141.3 384.3,141.4 384.8,141.4 385.3,141.7 385.9,141.7 386.4,141.8 386.9,141.9 387.5,142.3 388.0,142.7 388.6,142.8 389.1,143.0 389.6,143.0 390.2,143.2 390.7,143.2 391.2,143.3 391.8,143.6 392.3,143.9 392.8,144.2 393.4,144.5 393.9,144.5 394.5,144.7 395.0,144.6 395.5,145.1 396.1,145.2 396.6,145.5 397.1,145.6 397.7,145.8 398.2,146.0 398.7,146.2 399.3,146.4 399.8,146.6 400.3,146.4 400.9,146.5 401.4,146.3 402.0,146.8 402.5,146.8 403.0,146.9 403.6,146.7 404.1,146.6 404.6,146.6 405.2,146.6 405.7,146.7 406.2,146.5 406.8,146.4 407.3,146.4 407.8,146.8 408.4,146.8 408.9,147.0 409.5,147.0 410.0,146.7 410.5,146.5 411.1,146.4 411.6,146.6 412.1,146.5 412.7,146.5 413.2,146.4 413.7,146.5 414.3,146.6 414.8,146.7 415.3,147.1 415.9,147.2 416.4,147.4 417.0,147.3 417.5,147.3 418.0,147.5 418.6,147.5 419.1,147.3 419.6,147.2 420.2,147.2 420.7,147.5 421.2,147.6 421.8,147.6 422.3,147.8 422.8,147.7 423.4,148.1 423.9,148.1 424.5,148.4 425.0,148.5 425.5,148.6 426.1,148.8 426.6,148.7 427.1,149.0 427.7,149.0 428.2,149.4 428.7,149.7 429.3,150.2 429.8,150.5 430.3,151.0 430.9,151.0 431.4,151.4 432.0,151.6 432.5,152.0 433.0,152.1 433.6,152.2 434.1,152.4 434.6,152.9 435.2,153.5 435.7,153.6 436.2,153.7 436.8,154.1 437.3,154.6 437.8,155.3 438.4,155.6 438.9,156.0 439.5,156.1 440.0,156.5 440.5,156.4 441.1,156.7 441.6,156.8" stroke="#e8212b" stroke-width="1.8" fill="none" stroke-linejoin="round"/>
<path d="M281.4,159.9 281.9,160.0 282.5,159.9 283.0,160.0 283.5,160.0 284.1,160.1 284.6,160.0 285.2,159.9 285.7,159.9 286.2,159.9 286.8,160.0 287.3,159.9 287.8,159.9 288.4,160.0 288.9,160.0 289.4,160.0 290.0,159.8 290.5,159.8 291.0,159.8 291.6,159.9 292.1,160.0 292.7,160.0 293.2,160.0 293.7,159.8 294.3,159.8 294.8,159.6 295.3,159.9 295.9,159.8 296.4,160.0 296.9,160.0 297.5,160.0 298.0,159.9 298.5,159.9 299.1,159.9 299.6,157.9 300.2,153.4 300.7,147.3 301.2,140.6 301.8,133.6 302.3,127.1 302.8,120.8 303.4,113.9 303.9,106.3 304.4,99.0 305.0,92.0 305.5,86.5 306.0,82.6 306.6,79.8 307.1,77.1 307.7,74.9 308.2,73.1 308.7,71.7 309.3,70.7 309.8,69.9 310.3,69.4 310.9,69.0 311.4,68.6 311.9,68.2 312.5,67.9 313.0,67.7 313.5,67.8 314.1,68.0 314.6,68.5 315.2,68.9 315.7,69.5 316.2,69.9 316.8,70.5 317.3,71.0 317.8,71.5 318.4,71.9 318.9,72.6 319.4,73.5 320.0,74.4 320.5,75.3 321.0,76.3 321.6,77.3 322.1,78.3 322.7,79.2 323.2,80.0 323.7,81.1 324.3,82.1 324.8,83.2 325.3,84.2 325.9,85.2 326.4,85.9 326.9,86.9 327.5,88.0 328.0,89.1 328.5,90.0 329.1,90.9 329.6,91.8 330.2,92.6 330.7,93.4 331.2,94.1 331.8,94.7 332.3,95.3 332.8,96.0 333.4,96.6 333.9,97.1 334.4,97.5 335.0,97.9 335.5,98.3 336.1,98.9 336.6,99.2 337.1,99.7 337.7,100.1 338.2,100.7 338.7,101.1 339.3,101.5 339.8,101.7 340.3,102.0 340.9,102.5 341.4,103.0 341.9,103.5 342.5,103.6 343.0,103.8 343.6,104.1 344.1,104.4 344.6,104.9 345.2,105.1 345.7,105.3 346.2,105.6 346.8,106.1 347.3,106.4 347.8,106.7 348.4,106.8 348.9,107.0 349.4,107.4 350.0,107.9 350.5,108.1 351.1,108.3 351.6,108.5 352.1,108.9 352.7,109.0 353.2,109.2 353.7,109.3 354.3,109.5 354.8,109.8 355.3,110.1 355.9,110.4 356.4,110.6 356.9,110.7 357.5,110.9 358.0,111.0 358.6,111.2 359.1,111.3 359.6,111.4 360.2,111.4 360.7,111.4 361.2,111.6 361.8,111.9 362.3,112.2 362.8,112.2 363.4,112.3 363.9,112.4 364.4,112.6 365.0,112.9 365.5,113.0 366.1,113.2 366.6,113.4 367.1,113.5 367.7,113.7 368.2,113.9 368.7,114.2 369.3,114.3 369.8,114.4 370.3,114.6 370.9,114.7 371.4,115.0 371.9,115.1 372.5,115.2 373.0,115.1 373.6,115.2 374.1,115.3 374.6,115.6 375.2,115.7 375.7,116.0 376.2,116.1 376.8,116.6 377.3,116.7 377.8,116.7 378.4,116.9 378.9,117.1 379.4,117.3 380.0,117.5 380.5,117.7 381.1,117.9 381.6,117.9 382.1,118.2 382.7,118.3 383.2,118.5 383.7,118.5 384.3,118.6 384.8,118.8 385.3,119.0 385.9,119.2 386.4,119.3 386.9,119.4 387.5,119.7 388.0,119.9 388.6,120.0 389.1,120.0 389.6,120.0 390.2,120.2 390.7,120.6 391.2,121.0 391.8,121.0 392.3,121.0 392.8,121.1 393.4,121.2 393.9,121.4 394.5,121.6 395.0,122.0 395.5,122.2 396.1,122.2 396.6,122.3 397.1,122.5 397.7,122.7 398.2,122.9 398.7,122.9 399.3,123.1 399.8,123.4 400.3,123.6 400.9,123.8 401.4,123.7 402.0,123.7 402.5,123.8 403.0,124.2 403.6,124.4 404.1,124.6 404.6,124.5 405.2,124.6 405.7,124.6 406.2,124.9 406.8,125.3 407.3,125.6 407.8,125.8 408.4,125.9 408.9,125.9 409.5,126.0 410.0,126.1 410.5,126.4 411.1,126.6 411.6,126.6 412.1,126.9 412.7,127.1 413.2,127.4 413.7,127.5 414.3,127.8 414.8,127.9 415.3,127.9 415.9,128.1 416.4,128.3 417.0,128.7 417.5,128.9 418.0,129.1 418.6,129.2 419.1,129.4 419.6,129.6 420.2,129.8 420.7,130.1 421.2,130.3 421.8,130.5 422.3,130.7 422.8,130.9 423.4,131.2 423.9,131.4 424.5,131.7 425.0,131.9 425.5,132.2 426.1,132.5 426.6,132.9 427.1,133.2 427.7,133.4 428.2,133.7 428.7,134.0 429.3,134.4 429.8,134.7 430.3,135.1 430.9,135.3 431.4,135.7 432.0,136.2 432.5,136.5 433.0,136.9 433.6,137.2 434.1,137.5 434.6,137.8 435.2,138.3 435.7,138.7 436.2,139.0 436.8,139.2 437.3,139.6 437.8,140.1 438.4,140.5 438.9,141.1 439.5,141.5 440.0,142.0 440.5,142.4 441.1,142.7 441.6,143.1" stroke="#000" stroke-width="1.8" fill="none" stroke-linejoin="round"/>
<text x="364" y="56.4" font-size="10.6" text-anchor="start" font-weight="normal" font-style="italic" fill="#000">Pvap-1::HisCl1</text>
<line x1="366" y1="69.8" x2="377" y2="69.8" stroke="#000" stroke-width="1.8"/>
<text x="379.5" y="72.9" font-size="9.2" text-anchor="start" font-weight="normal" font-style="normal" fill="#000">Control</text>
<line x1="366" y1="84.6" x2="377" y2="84.6" stroke="#e8212b" stroke-width="1.8"/>
<text x="379.5" y="87.7" font-size="9.2" text-anchor="start" font-weight="normal" font-style="normal" fill="#000">Histamine</text>
<text x="463" y="13.4" font-size="18" text-anchor="start" font-weight="normal" font-style="normal" fill="#000">c</text>
<path d="M508.7,41.5 L521.9,41.5 L523.2,33.5 L668.2,33.5" stroke="#3d3434" stroke-width="1" fill="none"/>
<text x="496" y="39.3" font-size="9" text-anchor="start" font-weight="normal" font-style="normal" fill="#000">15 °C</text>
<text x="597.7" y="29.5" font-size="9" text-anchor="middle" font-weight="normal" font-style="normal" fill="#000">28 °C</text>
<path d="M511.4,157.7 512.2,157.7 513.0,157.8 513.8,157.8 514.6,157.8 515.3,157.9 516.1,157.9 516.9,157.9 517.7,158.0 518.5,158.0 519.3,158.0 520.1,158.1 520.9,158.1 521.6,158.1 522.4,158.2 523.2,158.2 524.0,158.2 524.8,158.2 525.6,158.2 526.4,158.2 527.2,158.2 527.9,157.8 528.7,156.3 529.5,151.3 530.3,143.3 531.1,133.3 531.9,122.5 532.7,112.1 533.5,102.4 534.3,91.6 535.0,80.9 535.8,72.0 536.6,66.5 537.4,62.8 538.2,59.4 539.0,56.6 539.8,54.4 540.6,53.0 541.3,52.4 542.1,52.6 542.9,53.4 543.7,54.5 544.5,55.8 545.3,57.2 546.1,58.6 546.9,60.1 547.6,61.8 548.4,63.7 549.2,65.6 550.0,67.5 550.8,69.4 551.6,71.2 552.4,72.9 553.2,74.6 553.9,76.2 554.7,77.9 555.5,79.5 556.3,81.0 557.1,82.6 557.9,84.0 558.7,85.4 559.5,86.8 560.3,88.1 561.0,89.4 561.8,90.7 562.6,91.9 563.4,93.1 564.2,94.3 565.0,95.5 565.8,96.6 566.6,97.8 567.3,98.9 568.1,100.0 568.9,101.0 569.7,102.1 570.5,103.2 571.3,104.2 572.1,105.2 572.9,106.2 573.6,107.2 574.4,108.2 575.2,109.1 576.0,110.1 576.8,111.0 577.6,111.9 578.4,112.8 579.2,113.6 580.0,114.5 580.7,115.3 581.5,116.1 582.3,116.9 583.1,117.7 583.9,118.5 584.7,119.3 585.5,120.1 586.3,120.9 587.0,121.6 587.8,122.3 588.6,123.0 589.4,123.7 590.2,124.3 591.0,124.9 591.8,125.5 592.6,126.0 593.3,126.5 594.1,126.9 594.9,127.3 595.7,127.7 596.5,128.1 597.3,128.5 598.1,128.8 598.9,129.2 599.6,129.5 600.4,129.8 601.2,130.1 602.0,130.4 602.8,130.7 603.6,131.0 604.4,131.3 605.2,131.5 606.0,131.8 606.7,132.1 607.5,132.4 608.3,132.6 609.1,132.9 609.9,133.1 610.7,133.4 611.5,133.6 612.3,133.9 613.0,134.1 613.8,134.3 614.6,134.6 615.4,134.8 616.2,135.1 617.0,135.3 617.8,135.6 618.6,135.8 619.3,136.1 620.1,136.3 620.9,136.6 621.7,136.9 622.5,137.1 623.3,137.4 624.1,137.6 624.9,137.9 625.7,138.1 626.4,138.4 627.2,138.6 628.0,138.8 628.8,139.0 629.6,139.2 630.4,139.4 631.2,139.6 632.0,139.7 632.7,139.9 633.5,140.1 634.3,140.2 635.1,140.4 635.9,140.5 636.7,140.7 637.5,140.8 638.3,141.0 639.0,141.1 639.8,141.3 640.6,141.5 641.4,141.6 642.2,141.8 643.0,141.9 643.8,142.1 644.6,142.2 645.3,142.4 646.1,142.5 646.9,142.7 647.7,142.9 648.5,143.0 649.3,143.2 650.1,143.4 650.9,143.6 651.7,143.8 652.4,144.0 653.2,144.2 654.0,144.5 654.8,144.8 655.6,145.0 656.4,145.3 657.2,145.6 658.0,146.0 658.7,146.3 659.5,146.6 660.3,147.0 661.1,147.3 661.9,147.7 662.7,148.1 663.5,148.5 664.3,148.9 665.0,149.3 665.8,149.8 666.6,150.2 667.4,150.7 668.2,151.1 668.2,159.9 667.4,159.5 666.6,159.1 665.8,158.7 665.0,158.2 664.3,157.8 663.5,157.4 662.7,157.0 661.9,156.7 661.1,156.3 660.3,156.0 659.5,155.7 658.7,155.3 658.0,155.0 657.2,154.7 656.4,154.4 655.6,154.2 654.8,153.9 654.0,153.6 653.2,153.4 652.4,153.2 651.7,153.0 650.9,152.8 650.1,152.6 649.3,152.5 648.5,152.3 647.7,152.1 646.9,152.0 646.1,151.9 645.3,151.7 644.6,151.6 643.8,151.4 643.0,151.3 642.2,151.2 641.4,151.0 640.6,150.9 639.8,150.7 639.0,150.6 638.3,150.4 637.5,150.3 636.7,150.2 635.9,150.0 635.1,149.9 634.3,149.8 633.5,149.6 632.7,149.5 632.0,149.3 631.2,149.2 630.4,149.0 629.6,148.8 628.8,148.7 628.0,148.5 627.2,148.3 626.4,148.1 625.7,147.9 624.9,147.6 624.1,147.4 623.3,147.2 622.5,146.9 621.7,146.7 620.9,146.4 620.1,146.2 619.3,145.9 618.6,145.7 617.8,145.5 617.0,145.2 616.2,145.0 615.4,144.8 614.6,144.6 613.8,144.4 613.0,144.1 612.3,143.9 611.5,143.7 610.7,143.5 609.9,143.3 609.1,143.1 608.3,142.8 607.5,142.6 606.7,142.4 606.0,142.1 605.2,141.9 604.4,141.6 603.6,141.3 602.8,141.1 602.0,140.8 601.2,140.6 600.4,140.3 599.6,140.0 598.9,139.7 598.1,139.4 597.3,139.1 596.5,138.8 595.7,138.4 594.9,138.1 594.1,137.7 593.3,137.3 592.6,136.9 591.8,136.4 591.0,135.9 590.2,135.3 589.4,134.7 588.6,134.1 587.8,133.5 587.0,132.9 586.3,132.3 585.5,131.6 584.7,131.0 583.9,130.4 583.1,129.8 582.3,129.1 581.5,128.5 580.7,127.9 580.0,127.3 579.2,126.7 578.4,126.1 577.6,125.5 576.8,124.8 576.0,124.2 575.2,123.5 574.4,122.9 573.6,122.2 572.9,121.5 572.1,120.8 571.3,120.1 570.5,119.4 569.7,118.7 568.9,117.9 568.1,117.2 567.3,116.4 566.6,115.6 565.8,114.8 565.0,113.9 564.2,113.1 563.4,112.2 562.6,111.3 561.8,110.4 561.0,109.4 560.3,108.4 559.5,107.4 558.7,106.3 557.9,105.2 557.1,104.0 556.3,102.8 555.5,101.4 554.7,100.1 553.9,98.7 553.2,97.2 552.4,95.8 551.6,94.3 550.8,92.7 550.0,91.0 549.2,89.2 548.4,87.4 547.6,85.6 546.9,84.0 546.1,82.6 545.3,81.3 544.5,80.0 543.7,78.7 542.9,77.6 542.1,76.7 541.3,76.2 540.6,76.1 539.8,76.8 539.0,78.0 538.2,79.8 537.4,82.0 536.6,84.5 535.8,88.8 535.0,96.5 534.3,105.9 533.5,114.9 532.7,122.5 531.9,130.8 531.1,139.5 530.3,147.5 529.5,154.0 528.7,157.9 527.9,158.9 527.2,159.3 526.4,159.3 525.6,159.3 524.8,159.3 524.0,159.3 523.2,159.3 522.4,159.3 521.6,159.2 520.9,159.2 520.1,159.2 519.3,159.1 518.5,159.1 517.7,159.1 516.9,159.0 516.1,159.0 515.3,159.0 514.6,158.9 513.8,158.9 513.0,158.9 512.2,158.8 511.4,158.8Z" stroke="none" stroke-width="1" fill="#c8c8c8" fill-opacity="0.6"/>
<path d="M511.4,156.6 512.2,156.5 513.0,156.5 513.8,156.4 514.6,156.3 515.3,156.3 516.1,156.2 516.9,156.1 517.7,156.1 518.5,156.1 519.3,156.0 520.1,156.1 520.9,156.2 521.6,156.4 522.4,156.6 523.2,156.9 524.0,157.1 524.8,157.4 525.6,157.5 526.4,157.7 527.2,157.7 527.9,157.5 528.7,156.7 529.5,153.9 530.3,149.3 531.1,143.4 531.9,136.8 532.7,130.0 533.5,123.0 534.3,113.9 535.0,104.4 535.8,96.3 536.6,91.7 537.4,88.8 538.2,86.5 539.0,85.0 539.8,84.6 540.6,85.1 541.3,86.2 542.1,87.8 542.9,89.5 543.7,91.0 544.5,92.5 545.3,94.1 546.1,95.8 546.9,97.5 547.6,99.1 548.4,100.8 549.2,102.3 550.0,103.8 550.8,105.3 551.6,106.8 552.4,108.2 553.2,109.6 553.9,111.0 554.7,112.3 555.5,113.6 556.3,114.7 557.1,115.7 557.9,116.8 558.7,117.7 559.5,118.7 560.3,119.6 561.0,120.5 561.8,121.3 562.6,122.1 563.4,122.9 564.2,123.7 565.0,124.5 565.8,125.3 566.6,126.1 567.3,126.8 568.1,127.6 568.9,128.3 569.7,129.1 570.5,129.8 571.3,130.5 572.1,131.1 572.9,131.8 573.6,132.4 574.4,133.0 575.2,133.6 576.0,134.2 576.8,134.7 577.6,135.3 578.4,135.8 579.2,136.3 580.0,136.8 580.7,137.3 581.5,137.8 582.3,138.3 583.1,138.7 583.9,139.1 584.7,139.5 585.5,139.9 586.3,140.2 587.0,140.5 587.8,140.8 588.6,141.1 589.4,141.4 590.2,141.7 591.0,142.0 591.8,142.2 592.6,142.5 593.3,142.7 594.1,142.9 594.9,143.2 595.7,143.4 596.5,143.6 597.3,143.7 598.1,143.9 598.9,144.1 599.6,144.2 600.4,144.3 601.2,144.4 602.0,144.5 602.8,144.6 603.6,144.7 604.4,144.7 605.2,144.8 606.0,144.9 606.7,144.9 607.5,145.0 608.3,145.0 609.1,145.1 609.9,145.1 610.7,145.2 611.5,145.3 612.3,145.3 613.0,145.4 613.8,145.4 614.6,145.5 615.4,145.6 616.2,145.6 617.0,145.7 617.8,145.8 618.6,145.9 619.3,146.0 620.1,146.1 620.9,146.3 621.7,146.4 622.5,146.5 623.3,146.6 624.1,146.8 624.9,146.9 625.7,147.1 626.4,147.2 627.2,147.3 628.0,147.5 628.8,147.6 629.6,147.7 630.4,147.8 631.2,147.9 632.0,148.1 632.7,148.2 633.5,148.3 634.3,148.4 635.1,148.6 635.9,148.7 636.7,148.8 637.5,148.9 638.3,149.0 639.0,149.1 639.8,149.2 640.6,149.3 641.4,149.4 642.2,149.5 643.0,149.6 643.8,149.7 644.6,149.7 645.3,149.8 646.1,149.9 646.9,149.9 647.7,150.0 648.5,150.0 649.3,150.1 650.1,150.1 650.9,150.2 651.7,150.3 652.4,150.4 653.2,150.5 654.0,150.5 654.8,150.7 655.6,150.8 656.4,150.9 657.2,151.2 658.0,151.5 658.7,151.9 659.5,152.3 660.3,152.8 661.1,153.3 661.9,153.8 662.7,154.3 663.5,154.9 664.3,155.5 665.0,156.2 665.8,156.9 666.6,157.7 667.4,158.5 668.2,159.2 668.2,165.8 667.4,165.1 666.6,164.4 665.8,163.6 665.0,162.9 664.3,162.2 663.5,161.6 662.7,161.1 661.9,160.6 661.1,160.1 660.3,159.6 659.5,159.1 658.7,158.7 658.0,158.3 657.2,158.1 656.4,157.8 655.6,157.7 654.8,157.6 654.0,157.5 653.2,157.4 652.4,157.4 651.7,157.3 650.9,157.2 650.1,157.2 649.3,157.1 648.5,157.1 647.7,157.1 646.9,157.0 646.1,157.0 645.3,156.9 644.6,156.9 643.8,156.8 643.0,156.8 642.2,156.7 641.4,156.6 640.6,156.6 639.8,156.5 639.0,156.4 638.3,156.3 637.5,156.2 636.7,156.1 635.9,156.0 635.1,155.9 634.3,155.8 633.5,155.7 632.7,155.6 632.0,155.5 631.2,155.4 630.4,155.3 629.6,155.2 628.8,155.1 628.0,155.0 627.2,154.8 626.4,154.7 625.7,154.6 624.9,154.5 624.1,154.4 623.3,154.3 622.5,154.1 621.7,154.0 620.9,153.9 620.1,153.8 619.3,153.7 618.6,153.6 617.8,153.5 617.0,153.5 616.2,153.4 615.4,153.4 614.6,153.3 613.8,153.3 613.0,153.2 612.3,153.2 611.5,153.2 610.7,153.1 609.9,153.1 609.1,153.1 608.3,153.1 607.5,153.0 606.7,153.0 606.0,153.0 605.2,152.9 604.4,152.9 603.6,152.9 602.8,152.8 602.0,152.8 601.2,152.7 600.4,152.6 599.6,152.5 598.9,152.4 598.1,152.3 597.3,152.2 596.5,152.0 595.7,151.9 594.9,151.7 594.1,151.5 593.3,151.3 592.6,151.1 591.8,150.9 591.0,150.7 590.2,150.5 589.4,150.3 588.6,150.0 587.8,149.8 587.0,149.6 586.3,149.3 585.5,149.1 584.7,148.8 583.9,148.6 583.1,148.3 582.3,148.0 581.5,147.6 580.7,147.3 580.0,147.0 579.2,146.6 578.4,146.3 577.6,145.9 576.8,145.5 576.0,145.2 575.2,144.8 574.4,144.4 573.6,144.0 572.9,143.6 572.1,143.1 571.3,142.6 570.5,142.2 569.7,141.7 568.9,141.1 568.1,140.6 567.3,140.1 566.6,139.5 565.8,139.0 565.0,138.4 564.2,137.8 563.4,137.2 562.6,136.6 561.8,136.0 561.0,135.3 560.3,134.7 559.5,133.9 558.7,133.2 557.9,132.4 557.1,131.6 556.3,130.7 555.5,129.7 554.7,128.6 553.9,127.5 553.2,126.2 552.4,125.0 551.6,123.6 550.8,122.3 550.0,120.9 549.2,119.5 548.4,118.0 547.6,116.5 546.9,114.9 546.1,113.3 545.3,111.7 544.5,110.1 543.7,108.6 542.9,107.1 542.1,105.4 541.3,103.7 540.6,102.2 539.8,101.3 539.0,101.4 538.2,102.4 537.4,104.1 536.6,106.3 535.8,110.3 535.0,117.7 534.3,126.4 533.5,134.1 532.7,139.4 531.9,144.4 531.1,149.1 530.3,153.3 529.5,156.4 528.7,158.2 527.9,158.6 527.2,158.8 526.4,158.8 525.6,158.6 524.8,158.5 524.0,158.2 523.2,158.0 522.4,157.7 521.6,157.5 520.9,157.3 520.1,157.2 519.3,157.1 518.5,157.2 517.7,157.2 516.9,157.2 516.1,157.3 515.3,157.4 514.6,157.4 513.8,157.5 513.0,157.6 512.2,157.6 511.4,157.7Z" stroke="none" stroke-width="1" fill="#f6c6c6" fill-opacity="0.6"/>
<line x1="511.4" y1="48.7" x2="511.4" y2="170.3" stroke="#000" stroke-width="1.5"/>
<line x1="511.4" y1="158.8" x2="668.2" y2="158.8" stroke="#000" stroke-width="1.5"/>
<line x1="550.6" y1="158.8" x2="550.6" y2="163.8" stroke="#000" stroke-width="1.5"/>
<text x="550.6" y="174.6" font-size="9" text-anchor="middle" font-weight="normal" font-style="normal" fill="#000">50</text>
<line x1="589.8" y1="158.8" x2="589.8" y2="163.8" stroke="#000" stroke-width="1.5"/>
<text x="589.8" y="174.6" font-size="9" text-anchor="middle" font-weight="normal" font-style="normal" fill="#000">100</text>
<line x1="629" y1="158.8" x2="629" y2="163.8" stroke="#000" stroke-width="1.5"/>
<text x="629" y="174.6" font-size="9" text-anchor="middle" font-weight="normal" font-style="normal" fill="#000">150</text>
<line x1="668.2" y1="158.8" x2="668.2" y2="163.8" stroke="#000" stroke-width="1.5"/>
<text x="668.2" y="174.6" font-size="9" text-anchor="middle" font-weight="normal" font-style="normal" fill="#000">200</text>
<line x1="506.9" y1="158.8" x2="511.4" y2="158.8" stroke="#000" stroke-width="1.5"/>
<text x="505.4" y="162" font-size="9" text-anchor="end" font-weight="normal" font-style="normal" fill="#000">0</text>
<line x1="506.9" y1="131.28" x2="511.4" y2="131.28" stroke="#000" stroke-width="1.5"/>
<text x="505.4" y="134.47" font-size="9" text-anchor="end" font-weight="normal" font-style="normal" fill="#000">50</text>
<line x1="506.9" y1="103.75" x2="511.4" y2="103.75" stroke="#000" stroke-width="1.5"/>
<text x="505.4" y="106.95" font-size="9" text-anchor="end" font-weight="normal" font-style="normal" fill="#000">100</text>
<line x1="506.9" y1="76.23" x2="511.4" y2="76.23" stroke="#000" stroke-width="1.5"/>
<text x="505.4" y="79.43" font-size="9" text-anchor="end" font-weight="normal" font-style="normal" fill="#000">150</text>
<line x1="506.9" y1="48.7" x2="511.4" y2="48.7" stroke="#000" stroke-width="1.5"/>
<text x="505.4" y="51.9" font-size="9" text-anchor="end" font-weight="normal" font-style="normal" fill="#000">200</text>
<text x="589.8" y="185.4" font-size="10.3" text-anchor="middle" font-weight="normal" font-style="normal" fill="#000">Time (s)</text>
<text x="486" y="105.25" font-size="10.4" text-anchor="middle" font-weight="normal" font-style="normal" fill="#000" transform="rotate(-90 486 105.25)">GCaMP (ΔF/F<tspan font-size="70%" dy="2">0</tspan><tspan dy="-2">, %)</tspan></text>
<path d="M511.4,157.1 511.9,156.8 512.4,156.9 513.0,156.8 513.5,156.8 514.0,156.8 514.5,156.9 515.1,157.0 515.6,156.9 516.1,156.9 516.6,156.9 517.2,156.9 517.7,156.6 518.2,156.8 518.7,156.8 519.3,156.7 519.8,156.4 520.3,156.5 520.8,156.7 521.4,157.1 521.9,157.2 522.4,157.5 522.9,157.6 523.5,157.6 524.0,157.5 524.5,157.6 525.0,157.9 525.6,158.1 526.1,158.2 526.6,158.2 527.1,158.2 527.7,158.1 528.2,158.0 528.7,157.5 529.2,156.2 529.8,154.1 530.3,151.3 530.8,148.1 531.3,144.3 531.9,140.7 532.4,136.8 532.9,133.2 533.4,128.9 533.9,123.5 534.5,117.3 535.0,111.2 535.5,105.7 536.0,101.5 536.6,99.1 537.1,97.3 537.6,95.7 538.1,94.5 538.7,93.8 539.2,93.3 539.7,92.9 540.2,93.2 540.8,93.6 541.3,94.5 541.8,95.6 542.3,97.0 542.9,98.1 543.4,99.2 543.9,100.2 544.4,101.3 545.0,102.3 545.5,103.1 546.0,104.3 546.5,105.7 547.1,106.9 547.6,108.1 548.1,108.7 548.6,109.6 549.2,110.5 549.7,111.7 550.2,113.0 550.7,113.8 551.3,114.7 551.8,115.5 552.3,116.6 552.8,117.2 553.4,118.0 553.9,118.8 554.4,119.8 554.9,120.5 555.5,121.2 556.0,122.1 556.5,122.9 557.0,123.8 557.5,124.4 558.1,124.8 558.6,125.4 559.1,125.9 559.6,126.6 560.2,127.2 560.7,127.6 561.2,128.1 561.7,128.6 562.3,129.1 562.8,129.5 563.3,129.8 563.8,130.3 564.4,131.0 564.9,131.5 565.4,131.9 565.9,132.0 566.5,132.6 567.0,132.9 567.5,133.6 568.0,133.8 568.6,134.5 569.1,134.8 569.6,135.2 570.1,135.7 570.7,136.3 571.2,136.9 571.7,137.2 572.2,137.1 572.8,137.5 573.3,137.9 573.8,138.3 574.3,138.4 574.9,138.8 575.4,139.4 575.9,140.0 576.4,140.3 577.0,140.5 577.5,140.9 578.0,141.3 578.5,141.5 579.0,141.6 579.6,141.8 580.1,142.2 580.6,142.5 581.1,142.6 581.7,142.6 582.2,142.5 582.7,142.8 583.2,143.2 583.8,143.5 584.3,143.6 584.8,143.7 585.3,144.0 585.9,144.4 586.4,144.9 586.9,145.2 587.4,145.3 588.0,145.3 588.5,145.7 589.0,146.0 589.5,146.0 590.1,146.0 590.6,146.1 591.1,146.4 591.6,146.6 592.2,146.6 592.7,146.5 593.2,146.7 593.7,147.0 594.3,147.4 594.8,147.6 595.3,147.5 595.8,147.6 596.4,147.6 596.9,147.9 597.4,148.0 597.9,148.2 598.5,148.1 599.0,148.3 599.5,148.4 600.0,148.5 600.6,148.6 601.1,148.4 601.6,148.5 602.1,148.4 602.6,148.6 603.2,148.7 603.7,149.0 604.2,148.9 604.7,149.1 605.3,148.7 605.8,149.0 606.3,148.9 606.8,149.1 607.4,149.2 607.9,149.2 608.4,149.1 608.9,149.1 609.5,149.2 610.0,149.4 610.5,149.3 611.0,149.1 611.6,149.0 612.1,149.0 612.6,149.3 613.1,149.3 613.7,149.3 614.2,149.3 614.7,149.3 615.2,149.3 615.8,149.3 616.3,149.5 616.8,149.7 617.3,150.0 617.9,149.9 618.4,149.9 618.9,149.7 619.4,149.7 620.0,149.9 620.5,149.8 621.0,150.0 621.5,150.2 622.1,150.6 622.6,150.5 623.1,150.5 623.6,150.5 624.1,150.8 624.7,150.7 625.2,150.8 625.7,150.9 626.2,151.1 626.8,151.2 627.3,151.2 627.8,151.1 628.3,151.2 628.9,151.2 629.4,151.5 629.9,151.5 630.4,151.5 631.0,151.5 631.5,151.6 632.0,151.9 632.5,152.0 633.1,152.0 633.6,151.9 634.1,152.0 634.6,152.4 635.2,152.3 635.7,152.6 636.2,152.6 636.7,152.8 637.3,152.7 637.8,152.6 638.3,152.7 638.8,152.8 639.4,153.0 639.9,153.2 640.4,153.2 640.9,153.3 641.5,153.1 642.0,153.1 642.5,153.0 643.0,153.0 643.6,153.0 644.1,153.0 644.6,153.0 645.1,153.2 645.7,153.2 646.2,153.4 646.7,153.4 647.2,153.5 647.7,153.5 648.3,153.4 648.8,153.6 649.3,153.7 649.8,153.7 650.4,153.6 650.9,153.5 651.4,153.6 651.9,153.7 652.5,153.8 653.0,153.8 653.5,154.0 654.0,154.2 654.6,154.1 655.1,154.2 655.6,154.2 656.1,154.4 656.7,154.3 657.2,154.6 657.7,154.8 658.2,155.3 658.8,155.5 659.3,155.7 659.8,155.9 660.3,156.1 660.9,156.6 661.4,156.8 661.9,157.6 662.4,157.7 663.0,158.1 663.5,158.3 664.0,158.9 664.5,159.4 665.1,159.7 665.6,160.1 666.1,160.4 666.6,161.0 667.2,161.4 667.7,162.1 668.2,162.5" stroke="#e8212b" stroke-width="1.8" fill="none" stroke-linejoin="round"/>
<path d="M511.4,158.2 511.9,158.2 512.4,158.3 513.0,158.5 513.5,158.5 514.0,158.4 514.5,158.3 515.1,158.3 515.6,158.4 516.1,158.2 516.6,158.3 517.2,158.3 517.7,158.4 518.2,158.5 518.7,158.5 519.3,158.6 519.8,158.6 520.3,158.6 520.8,158.6 521.4,158.5 521.9,158.5 522.4,158.7 522.9,158.7 523.5,158.8 524.0,158.8 524.5,158.7 525.0,158.7 525.6,158.6 526.1,158.7 526.6,158.8 527.1,158.9 527.7,158.7 528.2,158.1 528.7,157.0 529.2,154.6 529.8,150.9 530.3,146.0 530.8,140.2 531.3,133.7 531.9,127.0 532.4,120.6 532.9,114.8 533.4,109.1 533.9,102.6 534.5,95.9 535.0,89.2 535.5,83.3 536.0,78.6 536.6,75.8 537.1,73.6 537.6,71.5 538.1,69.7 538.7,68.1 539.2,66.8 539.7,65.5 540.2,64.6 540.8,64.2 541.3,64.2 541.8,64.4 542.3,64.7 542.9,65.4 543.4,66.2 543.9,67.0 544.4,67.8 545.0,68.7 545.5,69.6 546.0,70.6 546.5,71.6 547.1,72.7 547.6,73.7 548.1,74.6 548.6,75.8 549.2,77.0 549.7,78.2 550.2,79.6 550.7,81.0 551.3,82.2 551.8,83.3 552.3,84.3 552.8,85.3 553.4,86.2 553.9,87.4 554.4,88.4 554.9,89.5 555.5,90.3 556.0,91.3 556.5,92.2 557.0,93.2 557.5,94.1 558.1,94.9 558.6,95.8 559.1,96.6 559.6,97.4 560.2,98.0 560.7,98.7 561.2,99.5 561.7,100.2 562.3,101.0 562.8,101.7 563.3,102.6 563.8,103.3 564.4,104.0 564.9,104.6 565.4,105.4 565.9,106.1 566.5,106.7 567.0,107.2 567.5,107.9 568.0,108.6 568.6,109.2 569.1,109.7 569.6,110.2 570.1,110.9 570.7,111.5 571.2,112.2 571.7,112.4 572.2,113.1 572.8,113.6 573.3,114.3 573.8,114.8 574.3,115.4 574.9,115.9 575.4,116.5 575.9,117.1 576.4,117.6 577.0,118.2 577.5,118.7 578.0,119.3 578.5,119.7 579.0,120.2 579.6,120.6 580.1,121.1 580.6,121.5 581.1,122.0 581.7,122.5 582.2,122.9 582.7,123.4 583.2,123.9 583.8,124.5 584.3,124.9 584.8,125.4 585.3,126.0 585.9,126.5 586.4,127.0 586.9,127.1 587.4,127.7 588.0,128.1 588.5,128.5 589.0,128.9 589.5,129.4 590.1,129.9 590.6,130.1 591.1,130.3 591.6,130.6 592.2,131.0 592.7,131.3 593.2,131.7 593.7,132.0 594.3,132.3 594.8,132.6 595.3,132.9 595.8,133.2 596.4,133.5 596.9,133.7 597.4,133.8 597.9,134.0 598.5,134.2 599.0,134.5 599.5,134.8 600.0,135.0 600.6,135.1 601.1,135.2 601.6,135.4 602.1,135.7 602.6,135.9 603.2,136.1 603.7,136.4 604.2,136.5 604.7,136.6 605.3,136.7 605.8,136.8 606.3,136.9 606.8,137.2 607.4,137.6 607.9,137.7 608.4,137.7 608.9,137.9 609.5,138.2 610.0,138.3 610.5,138.4 611.0,138.3 611.6,138.5 612.1,138.6 612.6,138.9 613.1,139.1 613.7,139.4 614.2,139.8 614.7,139.8 615.2,139.8 615.8,139.8 616.3,140.0 616.8,140.3 617.3,140.3 617.9,140.5 618.4,140.4 618.9,140.8 619.4,140.9 620.0,141.2 620.5,141.2 621.0,141.5 621.5,141.7 622.1,141.9 622.6,142.0 623.1,142.3 623.6,142.6 624.1,142.8 624.7,142.7 625.2,142.7 625.7,142.7 626.2,142.9 626.8,143.3 627.3,143.6 627.8,143.8 628.3,143.9 628.9,143.9 629.4,143.9 629.9,144.0 630.4,144.2 631.0,144.3 631.5,144.3 632.0,144.5 632.5,144.7 633.1,144.9 633.6,144.9 634.1,144.9 634.6,145.0 635.2,145.1 635.7,145.2 636.2,145.2 636.7,145.5 637.3,145.6 637.8,145.7 638.3,145.8 638.8,145.8 639.4,145.9 639.9,146.0 640.4,146.2 640.9,146.3 641.5,146.3 642.0,146.3 642.5,146.4 643.0,146.3 643.6,146.5 644.1,146.8 644.6,147.1 645.1,147.1 645.7,146.9 646.2,146.8 646.7,147.0 647.2,147.1 647.7,147.4 648.3,147.6 648.8,147.9 649.3,147.9 649.8,147.9 650.4,147.9 650.9,148.1 651.4,148.3 651.9,148.5 652.5,148.6 653.0,148.6 653.5,148.7 654.0,148.9 654.6,149.1 655.1,149.2 655.6,149.5 656.1,149.7 656.7,149.9 657.2,150.1 657.7,150.4 658.2,150.6 658.8,150.8 659.3,151.0 659.8,151.1 660.3,151.4 660.9,151.8 661.4,152.0 661.9,152.2 662.4,152.3 663.0,152.6 663.5,152.9 664.0,153.2 664.5,153.6 665.1,153.9 665.6,154.2 666.1,154.4 666.6,154.8 667.2,155.1 667.7,155.3 668.2,155.5" stroke="#000" stroke-width="1.8" fill="none" stroke-linejoin="round"/>
<text x="587.6" y="55.4" font-size="9.4" text-anchor="start" font-weight="normal" font-style="italic" fill="#000">PR11D1.3::HisCl1</text>
<line x1="592.7" y1="69.5" x2="603.7" y2="69.5" stroke="#000" stroke-width="1.8"/>
<text x="606.2" y="72.6" font-size="9.2" text-anchor="start" font-weight="normal" font-style="normal" fill="#000">Control</text>
<line x1="592.7" y1="84.6" x2="603.7" y2="84.6" stroke="#e8212b" stroke-width="1.8"/>
<text x="606.2" y="87.7" font-size="9.2" text-anchor="start" font-weight="normal" font-style="normal" fill="#000">Histamine</text>
<text x="6.3" y="205" font-size="18" text-anchor="start" font-weight="normal" font-style="normal" fill="#000">d</text>
<rect x="81" y="302.4" width="11.8" height="23.1" fill="#fff" stroke="#000" stroke-width="1.8"/>
<rect x="98.7" y="299.4" width="12.1" height="26.1" fill="#fbdcdc" stroke="#e8212b" stroke-width="1.8"/>
<rect x="127.9" y="296.8" width="12.2" height="28.7" fill="#fff" stroke="#000" stroke-width="1.8"/>
<rect x="145.9" y="305.3" width="12.2" height="20.2" fill="#e9e2c6" stroke="#e8212b" stroke-width="1.8"/>
<rect x="175" y="297.1" width="12.1" height="28.4" fill="#fff" stroke="#000" stroke-width="1.8"/>
<rect x="192.5" y="308.2" width="12.8" height="17.3" fill="#fbdcdc" stroke="#e8212b" stroke-width="1.8"/>
<circle cx="85" cy="281.4" r="1.7" fill="#fff" stroke="#959595" stroke-width="0.75"/>
<circle cx="88.9" cy="281.8" r="1.7" fill="#fff" stroke="#959595" stroke-width="0.75"/>
<circle cx="85.4" cy="284" r="1.7" fill="#fff" stroke="#959595" stroke-width="0.75"/>
<circle cx="87.1" cy="288.4" r="1.7" fill="#fff" stroke="#959595" stroke-width="0.75"/>
<circle cx="81" cy="293.6" r="1.7" fill="#fff" stroke="#959595" stroke-width="0.75"/>
<circle cx="84.5" cy="294.1" r="1.7" fill="#fff" stroke="#959595" stroke-width="0.75"/>
<circle cx="87.1" cy="294.5" r="1.7" fill="#fff" stroke="#959595" stroke-width="0.75"/>
<circle cx="89.8" cy="294.5" r="1.7" fill="#fff" stroke="#959595" stroke-width="0.75"/>
<circle cx="85" cy="299.8" r="1.7" fill="#fff" stroke="#959595" stroke-width="0.75"/>
<circle cx="88.9" cy="300.2" r="1.7" fill="#fff" stroke="#959595" stroke-width="0.75"/>
<circle cx="83.2" cy="307.7" r="1.7" fill="#fff" stroke="#959595" stroke-width="0.75"/>
<circle cx="86.3" cy="308.1" r="1.7" fill="#fff" stroke="#959595" stroke-width="0.75"/>
<circle cx="90.6" cy="307.7" r="1.7" fill="#fff" stroke="#959595" stroke-width="0.75"/>
<circle cx="81" cy="312.5" r="1.7" fill="#fff" stroke="#959595" stroke-width="0.75"/>
<circle cx="85" cy="312.9" r="1.7" fill="#fff" stroke="#959595" stroke-width="0.75"/>
<circle cx="88.9" cy="312.9" r="1.7" fill="#fff" stroke="#959595" stroke-width="0.75"/>
<circle cx="92.8" cy="314.2" r="1.7" fill="#fff" stroke="#959595" stroke-width="0.75"/>
<circle cx="105" cy="253" r="1.7" fill="#fff" stroke="#959595" stroke-width="0.75"/>
<circle cx="105" cy="260" r="1.7" fill="#fff" stroke="#959595" stroke-width="0.75"/>
<circle cx="103.8" cy="279.2" r="1.7" fill="#fff" stroke="#959595" stroke-width="0.75"/>
<circle cx="106.4" cy="279.2" r="1.7" fill="#fff" stroke="#959595" stroke-width="0.75"/>
<circle cx="104.7" cy="287.1" r="1.7" fill="#fff" stroke="#959595" stroke-width="0.75"/>
<circle cx="103.8" cy="290.6" r="1.7" fill="#fff" stroke="#959595" stroke-width="0.75"/>
<circle cx="106.4" cy="291" r="1.7" fill="#fff" stroke="#959595" stroke-width="0.75"/>
<circle cx="105.5" cy="298.9" r="1.7" fill="#fff" stroke="#959595" stroke-width="0.75"/>
<circle cx="102" cy="300.2" r="1.7" fill="#fff" stroke="#959595" stroke-width="0.75"/>
<circle cx="108.2" cy="300.2" r="1.7" fill="#fff" stroke="#959595" stroke-width="0.75"/>
<circle cx="110.8" cy="299.3" r="1.7" fill="#fff" stroke="#959595" stroke-width="0.75"/>
<circle cx="98.5" cy="304.6" r="1.7" fill="#fff" stroke="#959595" stroke-width="0.75"/>
<circle cx="102" cy="303.3" r="1.7" fill="#fff" stroke="#959595" stroke-width="0.75"/>
<circle cx="105.5" cy="303.3" r="1.7" fill="#fff" stroke="#959595" stroke-width="0.75"/>
<circle cx="109" cy="304.6" r="1.7" fill="#fff" stroke="#959595" stroke-width="0.75"/>
<circle cx="111.7" cy="303.7" r="1.7" fill="#fff" stroke="#959595" stroke-width="0.75"/>
<circle cx="104.7" cy="305.5" r="1.7" fill="#fff" stroke="#959595" stroke-width="0.75"/>
<circle cx="107.7" cy="308.1" r="1.7" fill="#fff" stroke="#959595" stroke-width="0.75"/>
<circle cx="104.7" cy="310.7" r="1.7" fill="#fff" stroke="#959595" stroke-width="0.75"/>
<circle cx="104.7" cy="314.7" r="1.7" fill="#fff" stroke="#959595" stroke-width="0.75"/>
<circle cx="100" cy="318" r="1.7" fill="#fff" stroke="#959595" stroke-width="0.75"/>
<circle cx="109" cy="318" r="1.7" fill="#fff" stroke="#959595" stroke-width="0.75"/>
<circle cx="133.69" cy="267.74" r="1.7" fill="#fff" stroke="#959595" stroke-width="0.75"/>
<circle cx="130.33" cy="276.2" r="1.7" fill="#fff" stroke="#959595" stroke-width="0.75"/>
<circle cx="133.25" cy="278.1" r="1.7" fill="#fff" stroke="#959595" stroke-width="0.75"/>
<circle cx="135.44" cy="277.23" r="1.7" fill="#fff" stroke="#959595" stroke-width="0.75"/>
<circle cx="133.69" cy="285.69" r="1.7" fill="#fff" stroke="#959595" stroke-width="0.75"/>
<circle cx="130.33" cy="292.26" r="1.7" fill="#fff" stroke="#959595" stroke-width="0.75"/>
<circle cx="133.25" cy="291.82" r="1.7" fill="#fff" stroke="#959595" stroke-width="0.75"/>
<circle cx="135.44" cy="291.53" r="1.7" fill="#fff" stroke="#959595" stroke-width="0.75"/>
<circle cx="137.63" cy="290.36" r="1.7" fill="#fff" stroke="#959595" stroke-width="0.75"/>
<circle cx="132.23" cy="295.91" r="1.7" fill="#fff" stroke="#959595" stroke-width="0.75"/>
<circle cx="129.6" cy="303.21" r="1.7" fill="#fff" stroke="#959595" stroke-width="0.75"/>
<circle cx="132.52" cy="303.94" r="1.7" fill="#fff" stroke="#959595" stroke-width="0.75"/>
<circle cx="135.44" cy="303.21" r="1.7" fill="#fff" stroke="#959595" stroke-width="0.75"/>
<circle cx="138.36" cy="303.21" r="1.7" fill="#fff" stroke="#959595" stroke-width="0.75"/>
<circle cx="128.14" cy="301.02" r="1.7" fill="#fff" stroke="#959595" stroke-width="0.75"/>
<circle cx="133.98" cy="299.56" r="1.7" fill="#fff" stroke="#959595" stroke-width="0.75"/>
<circle cx="131.06" cy="307.59" r="1.7" fill="#fff" stroke="#959595" stroke-width="0.75"/>
<circle cx="136.9" cy="307.59" r="1.7" fill="#fff" stroke="#959595" stroke-width="0.75"/>
<circle cx="133.25" cy="314.89" r="1.7" fill="#fff" stroke="#959595" stroke-width="0.75"/>
<circle cx="134.71" cy="314.16" r="1.7" fill="#fff" stroke="#959595" stroke-width="0.75"/>
<circle cx="132.52" cy="316.35" r="1.7" fill="#fff" stroke="#959595" stroke-width="0.75"/>
<circle cx="136.9" cy="295.91" r="1.7" fill="#fff" stroke="#959595" stroke-width="0.75"/>
<circle cx="148.87" cy="276.2" r="1.7" fill="#fff" stroke="#959595" stroke-width="0.75"/>
<circle cx="154.71" cy="276.93" r="1.7" fill="#fff" stroke="#959595" stroke-width="0.75"/>
<circle cx="152.23" cy="287.45" r="1.7" fill="#fff" stroke="#959595" stroke-width="0.75"/>
<circle cx="152.23" cy="291.24" r="1.7" fill="#fff" stroke="#959595" stroke-width="0.75"/>
<circle cx="152.23" cy="293.72" r="1.7" fill="#fff" stroke="#959595" stroke-width="0.75"/>
<circle cx="146.39" cy="300" r="1.7" fill="#fff" stroke="#959595" stroke-width="0.75"/>
<circle cx="152.23" cy="300.73" r="1.7" fill="#fff" stroke="#959595" stroke-width="0.75"/>
<circle cx="158.07" cy="299.56" r="1.7" fill="#fff" stroke="#959595" stroke-width="0.75"/>
<circle cx="150.04" cy="303.94" r="1.7" fill="#fff" stroke="#959595" stroke-width="0.75"/>
<circle cx="154.42" cy="303.94" r="1.7" fill="#fff" stroke="#959595" stroke-width="0.75"/>
<circle cx="147.85" cy="307.59" r="1.7" fill="#fff" stroke="#959595" stroke-width="0.75"/>
<circle cx="156.61" cy="307.59" r="1.7" fill="#fff" stroke="#959595" stroke-width="0.75"/>
<circle cx="152.23" cy="311.24" r="1.7" fill="#fff" stroke="#959595" stroke-width="0.75"/>
<circle cx="146.39" cy="311.24" r="1.7" fill="#fff" stroke="#959595" stroke-width="0.75"/>
<circle cx="158.07" cy="311.24" r="1.7" fill="#fff" stroke="#959595" stroke-width="0.75"/>
<circle cx="152.23" cy="313.43" r="1.7" fill="#fff" stroke="#959595" stroke-width="0.75"/>
<circle cx="146.39" cy="319.27" r="1.7" fill="#fff" stroke="#959595" stroke-width="0.75"/>
<circle cx="158.07" cy="319.27" r="1.7" fill="#fff" stroke="#959595" stroke-width="0.75"/>
<circle cx="152.23" cy="322.19" r="1.7" fill="#fff" stroke="#959595" stroke-width="0.75"/>
<circle cx="180.99" cy="227.01" r="1.7" fill="#fff" stroke="#959595" stroke-width="0.75"/>
<circle cx="180.99" cy="262.77" r="1.7" fill="#fff" stroke="#959595" stroke-width="0.75"/>
<circle cx="182.88" cy="283.5" r="1.7" fill="#fff" stroke="#959595" stroke-width="0.75"/>
<circle cx="179.23" cy="285.69" r="1.7" fill="#fff" stroke="#959595" stroke-width="0.75"/>
<circle cx="186.53" cy="285.4" r="1.7" fill="#fff" stroke="#959595" stroke-width="0.75"/>
<circle cx="182.45" cy="286.42" r="1.7" fill="#fff" stroke="#959595" stroke-width="0.75"/>
<circle cx="174.85" cy="290.8" r="1.7" fill="#fff" stroke="#959595" stroke-width="0.75"/>
<circle cx="179.23" cy="291.53" r="1.7" fill="#fff" stroke="#959595" stroke-width="0.75"/>
<circle cx="183.61" cy="291.53" r="1.7" fill="#fff" stroke="#959595" stroke-width="0.75"/>
<circle cx="176.31" cy="295.91" r="1.7" fill="#fff" stroke="#959595" stroke-width="0.75"/>
<circle cx="180.69" cy="296.64" r="1.7" fill="#fff" stroke="#959595" stroke-width="0.75"/>
<circle cx="185.07" cy="295.91" r="1.7" fill="#fff" stroke="#959595" stroke-width="0.75"/>
<circle cx="176.31" cy="301.75" r="1.7" fill="#fff" stroke="#959595" stroke-width="0.75"/>
<circle cx="182.15" cy="301.75" r="1.7" fill="#fff" stroke="#959595" stroke-width="0.75"/>
<circle cx="179.23" cy="303.94" r="1.7" fill="#fff" stroke="#959595" stroke-width="0.75"/>
<circle cx="183.61" cy="306.13" r="1.7" fill="#fff" stroke="#959595" stroke-width="0.75"/>
<circle cx="177.77" cy="307.59" r="1.7" fill="#fff" stroke="#959595" stroke-width="0.75"/>
<circle cx="182.15" cy="309.05" r="1.7" fill="#fff" stroke="#959595" stroke-width="0.75"/>
<circle cx="179.23" cy="311.24" r="1.7" fill="#fff" stroke="#959595" stroke-width="0.75"/>
<circle cx="183.61" cy="311.97" r="1.7" fill="#fff" stroke="#959595" stroke-width="0.75"/>
<circle cx="181.42" cy="316.35" r="1.7" fill="#fff" stroke="#959595" stroke-width="0.75"/>
<circle cx="176.31" cy="313.43" r="1.7" fill="#fff" stroke="#959595" stroke-width="0.75"/>
<circle cx="185.07" cy="313.43" r="1.7" fill="#fff" stroke="#959595" stroke-width="0.75"/>
<circle cx="180.69" cy="322.19" r="1.7" fill="#fff" stroke="#959595" stroke-width="0.75"/>
<circle cx="198.94" cy="282.04" r="1.7" fill="#fff" stroke="#959595" stroke-width="0.75"/>
<circle cx="196.75" cy="288.32" r="1.7" fill="#fff" stroke="#959595" stroke-width="0.75"/>
<circle cx="201.13" cy="287.15" r="1.7" fill="#fff" stroke="#959595" stroke-width="0.75"/>
<circle cx="204.78" cy="286.42" r="1.7" fill="#fff" stroke="#959595" stroke-width="0.75"/>
<circle cx="201.13" cy="288.61" r="1.7" fill="#fff" stroke="#959595" stroke-width="0.75"/>
<circle cx="198.94" cy="307.59" r="1.7" fill="#fff" stroke="#959595" stroke-width="0.75"/>
<circle cx="194.56" cy="308.32" r="1.7" fill="#fff" stroke="#959595" stroke-width="0.75"/>
<circle cx="204.05" cy="308.32" r="1.7" fill="#fff" stroke="#959595" stroke-width="0.75"/>
<circle cx="196.02" cy="311.97" r="1.7" fill="#fff" stroke="#959595" stroke-width="0.75"/>
<circle cx="201.13" cy="311.97" r="1.7" fill="#fff" stroke="#959595" stroke-width="0.75"/>
<circle cx="193.83" cy="314.89" r="1.7" fill="#fff" stroke="#959595" stroke-width="0.75"/>
<circle cx="204.78" cy="314.89" r="1.7" fill="#fff" stroke="#959595" stroke-width="0.75"/>
<circle cx="198.94" cy="316.35" r="1.7" fill="#fff" stroke="#959595" stroke-width="0.75"/>
<circle cx="193.1" cy="320.73" r="1.7" fill="#fff" stroke="#959595" stroke-width="0.75"/>
<circle cx="204.78" cy="320.73" r="1.7" fill="#fff" stroke="#959595" stroke-width="0.75"/>
<circle cx="198.94" cy="322.19" r="1.7" fill="#fff" stroke="#959595" stroke-width="0.75"/>
<circle cx="196.75" cy="323.65" r="1.7" fill="#fff" stroke="#959595" stroke-width="0.75"/>
<circle cx="201.13" cy="323.65" r="1.7" fill="#fff" stroke="#959595" stroke-width="0.75"/>
<circle cx="202.59" cy="304.67" r="1.7" fill="#fff" stroke="#959595" stroke-width="0.75"/>
<line x1="86.9" y1="298.2" x2="86.9" y2="304.6" stroke="#000" stroke-width="1.8"/>
<line x1="83.9" y1="298.2" x2="89.9" y2="298.2" stroke="#000" stroke-width="1.8"/>
<line x1="83.9" y1="304.6" x2="89.9" y2="304.6" stroke="#000" stroke-width="1.8"/>
<line x1="104.8" y1="294" x2="104.8" y2="302.5" stroke="#e8212b" stroke-width="1.8"/>
<line x1="101.3" y1="294" x2="108.3" y2="294" stroke="#e8212b" stroke-width="1.8"/>
<line x1="101.3" y1="302.5" x2="108.3" y2="302.5" stroke="#e8212b" stroke-width="1.8"/>
<line x1="134" y1="292.5" x2="134" y2="299.5" stroke="#000" stroke-width="1.8"/>
<line x1="131" y1="292.5" x2="137" y2="292.5" stroke="#000" stroke-width="1.8"/>
<line x1="131" y1="299.5" x2="137" y2="299.5" stroke="#000" stroke-width="1.8"/>
<line x1="152" y1="300" x2="152" y2="308" stroke="#e8212b" stroke-width="1.8"/>
<line x1="149" y1="300" x2="155" y2="300" stroke="#e8212b" stroke-width="1.8"/>
<line x1="149" y1="308" x2="155" y2="308" stroke="#e8212b" stroke-width="1.8"/>
<line x1="181" y1="292.5" x2="181" y2="300" stroke="#000" stroke-width="1.8"/>
<line x1="178" y1="292.5" x2="184" y2="292.5" stroke="#000" stroke-width="1.8"/>
<line x1="178" y1="300" x2="184" y2="300" stroke="#000" stroke-width="1.8"/>
<line x1="198.9" y1="303" x2="198.9" y2="311" stroke="#e8212b" stroke-width="1.8"/>
<line x1="195.9" y1="303" x2="201.9" y2="303" stroke="#e8212b" stroke-width="1.8"/>
<line x1="195.9" y1="311" x2="201.9" y2="311" stroke="#e8212b" stroke-width="1.8"/>
<text x="86.9" y="324" font-size="7.5" text-anchor="middle" font-weight="normal" font-style="normal" fill="#5b3f99">17</text>
<text x="104.8" y="324" font-size="7.5" text-anchor="middle" font-weight="normal" font-style="normal" fill="#5b3f99">22</text>
<text x="134" y="324" font-size="7.5" text-anchor="middle" font-weight="normal" font-style="normal" fill="#5b3f99">22</text>
<text x="152" y="324" font-size="7.5" text-anchor="middle" font-weight="normal" font-style="normal" fill="#5b3f99">19</text>
<text x="181" y="324" font-size="7.5" text-anchor="middle" font-weight="normal" font-style="normal" fill="#5b3f99">24</text>
<text x="198.9" y="324" font-size="7.5" text-anchor="middle" font-weight="normal" font-style="normal" fill="#5b3f99">19</text>
<line x1="72.7" y1="201.2" x2="72.7" y2="326.25" stroke="#000" stroke-width="1.5"/>
<line x1="71.95" y1="325.5" x2="214.5" y2="325.5" stroke="#000" stroke-width="1.5"/>
<line x1="67.2" y1="325.5" x2="72.7" y2="325.5" stroke="#000" stroke-width="1.5"/>
<text x="64.2" y="328.7" font-size="9" text-anchor="end" font-weight="normal" font-style="normal" fill="#000">0</text>
<line x1="67.2" y1="294.43" x2="72.7" y2="294.43" stroke="#000" stroke-width="1.5"/>
<text x="64.2" y="297.62" font-size="9" text-anchor="end" font-weight="normal" font-style="normal" fill="#000">200</text>
<line x1="67.2" y1="263.35" x2="72.7" y2="263.35" stroke="#000" stroke-width="1.5"/>
<text x="64.2" y="266.55" font-size="9" text-anchor="end" font-weight="normal" font-style="normal" fill="#000">400</text>
<line x1="67.2" y1="232.28" x2="72.7" y2="232.28" stroke="#000" stroke-width="1.5"/>
<text x="64.2" y="235.47" font-size="9" text-anchor="end" font-weight="normal" font-style="normal" fill="#000">600</text>
<line x1="67.2" y1="201.2" x2="72.7" y2="201.2" stroke="#000" stroke-width="1.5"/>
<text x="64.2" y="204.4" font-size="9" text-anchor="end" font-weight="normal" font-style="normal" fill="#000">800</text>
<text x="44.5" y="269.3" font-size="10.2" text-anchor="middle" font-weight="normal" font-style="normal" fill="#000" transform="rotate(-90 44.5 269.3)">Maximum GCaMP (ΔF/F<tspan font-size="70%" dy="2">0</tspan><tspan dy="-2">, %)</tspan></text>
<rect x="80.3" y="200.4" width="7.4" height="3.6" fill="none" stroke="#000" stroke-width="1.3"/>
<text x="90" y="205" font-size="9" text-anchor="start" font-weight="normal" font-style="normal" fill="#000">Control</text>
<rect x="80.3" y="211.4" width="7.4" height="3.6" fill="none" stroke="#e8212b" stroke-width="1.3"/>
<text x="90" y="216" font-size="9" text-anchor="start" font-weight="normal" font-style="normal" fill="#000">Histamine</text>
<text x="78" y="235.4" font-size="8.2" text-anchor="start"><tspan font-style="italic">p</tspan>=0.5158</text>
<text x="95" y="243.8" font-size="8.5" text-anchor="middle" font-weight="normal" font-style="normal" fill="#000">ns</text>
<line x1="83.3" y1="247.8" x2="105.8" y2="247.8" stroke="#3a3333" stroke-width="1.3"/>
<text x="125" y="247" font-size="8.2" text-anchor="start"><tspan font-style="italic">p</tspan>=0.0424</text>
<polygon points="141.60,251.00 142.23,252.91 144.20,252.50 142.86,254.00 144.20,255.50 142.23,255.09 141.60,257.00 140.97,255.09 139.00,255.50 140.34,254.00 139.00,252.50 140.97,252.91" fill="#000" stroke="#000" stroke-width="0.5" stroke-linejoin="round"/>
<line x1="133.4" y1="260.3" x2="151.8" y2="260.3" stroke="#3a3333" stroke-width="1.3"/>
<text x="174" y="209.2" font-size="8.2" text-anchor="start"><tspan font-style="italic">p</tspan>=0.0479</text>
<polygon points="190.80,212.60 191.43,214.51 193.40,214.10 192.06,215.60 193.40,217.10 191.43,216.69 190.80,218.60 190.17,216.69 188.20,217.10 189.54,215.60 188.20,214.10 190.17,214.51" fill="#000" stroke="#000" stroke-width="0.5" stroke-linejoin="round"/>
<line x1="181.4" y1="221.3" x2="201.3" y2="221.3" stroke="#3a3333" stroke-width="1.3"/>
<text x="100" y="334" font-size="9.5" text-anchor="end" font-weight="normal" font-style="normal" fill="#000" transform="rotate(-45 100 334)">WT</text>
<text x="147.6" y="334" font-size="10" text-anchor="end" font-weight="normal" font-style="normal" fill="#000" transform="rotate(-45 147.6 334)">Pvap-1::HisCl1</text>
<text x="199.8" y="332.3" font-size="9.3" text-anchor="end" font-weight="normal" font-style="normal" fill="#000" transform="rotate(-45 199.8 332.3)">PR11D1.3::HisCl1</text>
<text x="236.8" y="205.8" font-size="18" text-anchor="start" font-weight="normal" font-style="normal" fill="#000">e</text>
<path d="M256.9,219.5 L289.2,219.5 L290.5,211.5 L445,211.5" stroke="#3d3434" stroke-width="1" fill="none"/>
<text x="258.6" y="215.9" font-size="8.7" text-anchor="start" font-weight="normal" font-style="normal" fill="#2b3990">10 °C</text>
<text x="258.6" y="228.7" font-size="8.7" text-anchor="start" font-weight="normal" font-style="normal" fill="#2b3990">4 min</text>
<text x="367.7" y="207.8" font-size="9" text-anchor="middle" font-weight="normal" font-style="normal" fill="#000">28 °C</text>
<path d="M288.8,349.5 289.6,349.2 290.4,348.9 291.2,348.6 292.0,348.3 292.8,347.6 293.6,346.4 294.4,344.9 295.2,343.3 296.0,341.5 296.8,339.5 297.6,336.7 298.4,333.5 299.2,329.8 300.0,326.0 300.8,322.1 301.6,318.3 302.4,314.6 303.2,311.4 304.0,308.5 304.8,305.7 305.6,303.1 306.4,300.5 307.2,297.9 308.0,295.5 308.8,293.1 309.6,290.6 310.4,288.2 311.2,285.8 312.0,283.5 312.8,281.3 313.6,279.2 314.4,277.4 315.2,275.8 316.1,274.3 316.9,273.0 317.7,271.8 318.5,270.7 319.3,269.7 320.1,268.8 320.9,268.0 321.7,267.2 322.5,266.4 323.3,265.6 324.1,264.9 324.9,264.1 325.7,263.3 326.5,262.6 327.3,261.8 328.1,261.1 328.9,260.4 329.7,259.8 330.5,259.2 331.3,258.8 332.1,258.4 332.9,258.1 333.7,257.9 334.5,257.7 335.3,257.5 336.1,257.4 336.9,257.2 337.7,257.1 338.5,257.0 339.3,256.9 340.1,256.9 340.9,256.8 341.7,256.7 342.5,256.7 343.3,256.6 344.1,256.5 344.9,256.4 345.7,256.3 346.5,256.3 347.3,256.2 348.1,256.2 348.9,256.2 349.7,256.3 350.5,256.5 351.3,256.7 352.1,257.0 352.9,257.3 353.7,257.7 354.5,258.5 355.3,259.1 356.1,259.6 356.9,259.8 357.7,260.0 358.5,260.2 359.3,260.4 360.1,260.5 360.9,260.7 361.7,260.9 362.5,261.1 363.3,261.4 364.1,261.6 364.9,261.8 365.7,262.1 366.5,262.3 367.3,262.6 368.1,262.9 369.0,263.2 369.8,263.5 370.6,263.8 371.4,264.2 372.2,264.5 373.0,264.9 373.8,265.3 374.6,265.6 375.4,266.0 376.2,266.3 377.0,266.6 377.8,266.9 378.6,267.1 379.4,267.3 380.2,267.5 381.0,267.7 381.8,267.9 382.6,268.1 383.4,268.3 384.2,268.5 385.0,268.6 385.8,268.8 386.6,269.0 387.4,269.2 388.2,269.4 389.0,269.6 389.8,269.9 390.6,270.1 391.4,270.4 392.2,270.7 393.0,270.9 393.8,271.2 394.6,271.5 395.4,271.8 396.2,272.1 397.0,272.4 397.8,272.7 398.6,273.0 399.4,273.3 400.2,273.6 401.0,273.9 401.8,274.1 402.6,274.4 403.4,274.6 404.2,274.9 405.0,275.1 405.8,275.3 406.6,275.5 407.4,275.7 408.2,275.9 409.0,276.0 409.8,276.2 410.6,276.4 411.4,276.6 412.2,276.7 413.0,276.9 413.8,277.1 414.6,277.3 415.4,277.5 416.2,277.6 417.0,277.8 417.8,278.0 418.6,278.2 419.4,278.5 420.2,278.7 421.0,278.9 421.9,279.2 422.7,279.5 423.5,279.8 424.3,280.0 425.1,280.3 425.9,280.6 426.7,280.8 427.5,281.1 428.3,281.3 429.1,281.6 429.9,281.8 430.7,282.0 431.5,282.2 432.3,282.3 433.1,282.4 433.9,282.5 434.7,282.6 435.5,282.7 436.3,282.8 437.1,282.9 437.9,283.0 438.7,283.0 439.5,283.1 440.3,283.1 441.1,283.2 441.9,283.3 442.7,283.3 443.5,283.4 444.3,283.4 445.1,283.5 445.9,283.5 446.7,283.6 447.5,283.7 448.3,283.7 448.3,301.8 447.5,301.7 446.7,301.7 445.9,301.6 445.1,301.5 444.3,301.4 443.5,301.4 442.7,301.3 441.9,301.2 441.1,301.2 440.3,301.1 439.5,301.0 438.7,300.9 437.9,300.8 437.1,300.7 436.3,300.6 435.5,300.5 434.7,300.4 433.9,300.3 433.1,300.2 432.3,300.1 431.5,299.9 430.7,299.7 429.9,299.5 429.1,299.2 428.3,299.0 427.5,298.7 426.7,298.5 425.9,298.2 425.1,297.9 424.3,297.6 423.5,297.3 422.7,297.0 421.9,296.7 421.0,296.4 420.2,296.2 419.4,295.9 418.6,295.7 417.8,295.4 417.0,295.2 416.2,295.0 415.4,294.8 414.6,294.6 413.8,294.4 413.0,294.2 412.2,294.0 411.4,293.8 410.6,293.7 409.8,293.5 409.0,293.3 408.2,293.1 407.4,292.9 406.6,292.7 405.8,292.5 405.0,292.2 404.2,292.0 403.4,291.8 402.6,291.5 401.8,291.3 401.0,291.0 400.2,290.7 399.4,290.4 398.6,290.1 397.8,289.8 397.0,289.5 396.2,289.2 395.4,288.9 394.6,288.6 393.8,288.3 393.0,288.0 392.2,287.7 391.4,287.4 390.6,287.1 389.8,286.9 389.0,286.7 388.2,286.4 387.4,286.2 386.6,286.0 385.8,285.8 385.0,285.7 384.2,285.5 383.4,285.3 382.6,285.1 381.8,284.9 381.0,284.7 380.2,284.5 379.4,284.3 378.6,284.1 377.8,283.9 377.0,283.6 376.2,283.3 375.4,283.0 374.6,282.6 373.8,282.3 373.0,281.9 372.2,281.5 371.4,281.2 370.6,280.8 369.8,280.5 369.0,280.2 368.1,279.9 367.3,279.6 366.5,279.4 365.7,279.1 364.9,278.9 364.1,278.6 363.3,278.4 362.5,278.2 361.7,277.9 360.9,277.7 360.1,277.6 359.3,277.4 358.5,277.3 357.7,277.1 356.9,276.9 356.1,276.6 355.3,276.2 354.5,275.5 353.7,274.8 352.9,274.3 352.1,274.0 351.3,273.7 350.5,273.5 349.7,273.3 348.9,273.2 348.1,273.2 347.3,273.3 346.5,273.4 345.7,273.6 344.9,273.7 344.1,274.0 343.3,274.2 342.5,274.5 341.7,274.7 340.9,275.0 340.1,275.3 339.3,275.6 338.5,276.0 337.7,276.3 336.9,276.7 336.1,277.1 335.3,277.5 334.5,278.0 333.7,278.5 332.9,279.0 332.1,279.5 331.3,280.1 330.5,280.9 329.7,281.6 328.9,282.5 328.1,283.4 327.3,284.3 326.5,285.3 325.7,286.2 324.9,287.1 324.1,288.0 323.3,288.9 322.5,289.7 321.7,290.6 320.9,291.4 320.1,292.2 319.3,293.0 318.5,293.8 317.7,294.6 316.9,295.4 316.1,296.3 315.2,297.2 314.4,298.3 313.6,299.5 312.8,300.9 312.0,302.4 311.2,304.1 310.4,305.7 309.6,307.4 308.8,309.0 308.0,310.6 307.2,312.3 306.4,314.0 305.6,315.8 304.8,317.7 304.0,319.7 303.2,321.9 302.4,324.5 301.6,327.4 300.8,330.6 300.0,334.0 299.2,337.2 298.4,340.3 297.6,343.0 296.8,345.1 296.0,346.6 295.2,347.8 294.4,348.9 293.6,349.8 292.8,350.4 292.0,350.6 291.2,350.4 290.4,350.1 289.6,349.8 288.8,349.5Z" stroke="none" stroke-width="1" fill="#c8c8c8" fill-opacity="0.6"/>
<path d="M288.8,349.5 289.6,349.2 290.4,348.9 291.2,348.6 292.0,348.3 292.8,348.0 293.6,347.6 294.4,346.7 295.2,345.5 296.0,344.0 296.8,342.2 297.6,340.3 298.4,338.4 299.2,336.5 300.0,334.3 300.8,331.6 301.6,328.6 302.4,325.4 303.2,322.1 304.0,318.8 304.8,315.6 305.6,312.6 306.4,309.9 307.2,307.3 308.0,304.7 308.8,302.3 309.6,299.9 310.4,297.5 311.2,295.3 312.0,293.3 312.8,291.2 313.6,289.3 314.4,287.4 315.2,285.6 316.1,283.9 316.9,282.3 317.7,281.0 318.5,279.8 319.3,278.8 320.1,277.7 320.9,276.8 321.7,275.9 322.5,275.1 323.3,274.3 324.1,273.6 324.9,272.9 325.7,272.3 326.5,271.8 327.3,271.2 328.1,270.7 328.9,270.2 329.7,269.8 330.5,269.3 331.3,268.9 332.1,268.5 332.9,268.2 333.7,267.9 334.5,267.6 335.3,267.3 336.1,267.1 336.9,266.9 337.7,266.8 338.5,266.6 339.3,266.4 340.1,266.2 340.9,266.1 341.7,266.0 342.5,265.9 343.3,265.8 344.1,265.8 344.9,265.8 345.7,265.8 346.5,265.8 347.3,265.8 348.1,265.8 348.9,265.8 349.7,265.8 350.5,265.8 351.3,265.8 352.1,265.8 352.9,265.8 353.7,265.8 354.5,266.0 355.3,266.3 356.1,266.7 356.9,267.1 357.7,267.6 358.5,268.2 359.3,268.7 360.1,269.1 360.9,269.6 361.7,269.9 362.5,270.2 363.3,270.5 364.1,270.8 364.9,271.1 365.7,271.4 366.5,271.6 367.3,271.9 368.1,272.1 369.0,272.3 369.8,272.5 370.6,272.7 371.4,272.9 372.2,273.1 373.0,273.3 373.8,273.4 374.6,273.6 375.4,273.7 376.2,273.9 377.0,274.0 377.8,274.2 378.6,274.3 379.4,274.4 380.2,274.5 381.0,274.6 381.8,274.8 382.6,274.9 383.4,275.0 384.2,275.1 385.0,275.2 385.8,275.4 386.6,275.5 387.4,275.6 388.2,275.7 389.0,275.9 389.8,276.0 390.6,276.1 391.4,276.3 392.2,276.4 393.0,276.6 393.8,276.7 394.6,276.9 395.4,277.0 396.2,277.2 397.0,277.3 397.8,277.4 398.6,277.6 399.4,277.7 400.2,277.8 401.0,277.9 401.8,278.1 402.6,278.2 403.4,278.2 404.2,278.3 405.0,278.4 405.8,278.5 406.6,278.5 407.4,278.6 408.2,278.6 409.0,278.7 409.8,278.7 410.6,278.7 411.4,278.8 412.2,278.8 413.0,278.8 413.8,278.9 414.6,278.9 415.4,279.0 416.2,279.1 417.0,279.1 417.8,279.2 418.6,279.3 419.4,279.4 420.2,279.6 421.0,279.8 421.9,280.0 422.7,280.2 423.5,280.4 424.3,280.6 425.1,280.9 425.9,281.1 426.7,281.3 427.5,281.4 428.3,281.6 429.1,281.7 429.9,281.7 430.7,281.8 431.5,281.8 432.3,281.8 433.1,281.8 433.9,281.8 434.7,281.8 435.5,281.8 436.3,281.8 437.1,281.8 437.9,281.8 438.7,281.8 439.5,281.8 440.3,281.8 441.1,281.8 441.9,281.8 442.7,281.8 443.5,281.8 444.3,281.8 445.1,281.8 445.9,281.8 446.7,281.8 447.5,281.8 448.3,281.8 448.3,305.2 447.5,305.1 446.7,305.1 445.9,305.0 445.1,305.0 444.3,304.9 443.5,304.9 442.7,304.8 441.9,304.8 441.1,304.7 440.3,304.7 439.5,304.6 438.7,304.6 437.9,304.5 437.1,304.5 436.3,304.4 435.5,304.3 434.7,304.3 433.9,304.2 433.1,304.1 432.3,304.1 431.5,304.0 430.7,303.9 429.9,303.8 429.1,303.7 428.3,303.6 427.5,303.4 426.7,303.1 425.9,302.9 425.1,302.6 424.3,302.4 423.5,302.1 422.7,301.8 421.9,301.5 421.0,301.2 420.2,301.0 419.4,300.8 418.6,300.6 417.8,300.5 417.0,300.3 416.2,300.2 415.4,300.1 414.6,300.0 413.8,299.9 413.0,299.8 412.2,299.7 411.4,299.6 410.6,299.5 409.8,299.4 409.0,299.3 408.2,299.2 407.4,299.1 406.6,299.0 405.8,298.9 405.0,298.8 404.2,298.6 403.4,298.5 402.6,298.4 401.8,298.2 401.0,298.0 400.2,297.9 399.4,297.7 398.6,297.5 397.8,297.3 397.0,297.1 396.2,296.9 395.4,296.7 394.6,296.5 393.8,296.3 393.0,296.1 392.2,295.9 391.4,295.7 390.6,295.4 389.8,295.2 389.0,295.1 388.2,294.9 387.4,294.7 386.6,294.5 385.8,294.3 385.0,294.1 384.2,293.9 383.4,293.7 382.6,293.5 381.8,293.3 381.0,293.1 380.2,292.9 379.4,292.7 378.6,292.5 377.8,292.3 377.0,292.1 376.2,291.9 375.4,291.6 374.6,291.4 373.8,291.2 373.0,290.9 372.2,290.7 371.4,290.4 370.6,290.1 369.8,289.8 369.0,289.5 368.1,289.2 367.3,288.9 366.5,288.6 365.7,288.3 364.9,287.9 364.1,287.6 363.3,287.2 362.5,286.8 361.7,286.5 360.9,286.1 360.1,285.6 359.3,285.0 358.5,284.5 357.7,283.9 356.9,283.4 356.1,282.9 355.3,282.4 354.5,282.1 353.7,281.9 352.9,281.8 352.1,281.8 351.3,281.8 350.5,281.8 349.7,281.8 348.9,281.8 348.1,281.8 347.3,281.8 346.5,281.8 345.7,281.8 344.9,281.8 344.1,281.8 343.3,281.8 342.5,281.9 341.7,281.9 340.9,282.1 340.1,282.2 339.3,282.4 338.5,282.5 337.7,282.7 336.9,282.9 336.1,283.1 335.3,283.3 334.5,283.5 333.7,283.8 332.9,284.1 332.1,284.5 331.3,284.9 330.5,285.3 329.7,285.7 328.9,286.2 328.1,286.7 327.3,287.2 326.5,287.7 325.7,288.3 324.9,288.9 324.1,289.6 323.3,290.3 322.5,291.1 321.7,291.9 320.9,292.8 320.1,293.7 319.3,294.7 318.5,295.6 317.7,296.7 316.9,297.9 316.1,299.2 315.2,300.7 314.4,302.3 313.6,303.9 312.8,305.6 312.0,307.3 311.2,309.0 310.4,310.9 309.6,312.9 308.8,314.9 308.0,317.0 307.2,319.1 306.4,321.3 305.6,323.6 304.8,326.2 304.0,329.0 303.2,331.9 302.4,334.8 301.6,337.6 300.8,340.1 300.0,342.4 299.2,344.2 298.4,345.6 297.6,347.0 296.8,348.3 296.0,349.5 295.2,350.4 294.4,351.0 293.6,351.2 292.8,351.0 292.0,350.7 291.2,350.4 290.4,350.1 289.6,349.8 288.8,349.5Z" stroke="none" stroke-width="1" fill="#f6c6c6" fill-opacity="0.6"/>
<line x1="288.8" y1="243.1" x2="288.8" y2="354.5" stroke="#000" stroke-width="1.5"/>
<line x1="288.8" y1="349.5" x2="448.3" y2="349.5" stroke="#000" stroke-width="1.5"/>
<line x1="368.55" y1="349.5" x2="368.55" y2="354.5" stroke="#000" stroke-width="1.5"/>
<text x="368.55" y="364" font-size="9" text-anchor="middle" font-weight="normal" font-style="normal" fill="#000">20</text>
<line x1="448.3" y1="349.5" x2="448.3" y2="354.5" stroke="#000" stroke-width="1.5"/>
<text x="448.3" y="364" font-size="9" text-anchor="middle" font-weight="normal" font-style="normal" fill="#000">40</text>
<line x1="284.3" y1="349.5" x2="288.8" y2="349.5" stroke="#000" stroke-width="1.5"/>
<text x="282.8" y="352.7" font-size="9" text-anchor="end" font-weight="normal" font-style="normal" fill="#000">0</text>
<line x1="284.3" y1="322.9" x2="288.8" y2="322.9" stroke="#000" stroke-width="1.5"/>
<text x="282.8" y="326.1" font-size="9" text-anchor="end" font-weight="normal" font-style="normal" fill="#000">50</text>
<line x1="284.3" y1="296.3" x2="288.8" y2="296.3" stroke="#000" stroke-width="1.5"/>
<text x="282.8" y="299.5" font-size="9" text-anchor="end" font-weight="normal" font-style="normal" fill="#000">100</text>
<line x1="284.3" y1="269.7" x2="288.8" y2="269.7" stroke="#000" stroke-width="1.5"/>
<text x="282.8" y="272.9" font-size="9" text-anchor="end" font-weight="normal" font-style="normal" fill="#000">150</text>
<line x1="284.3" y1="243.1" x2="288.8" y2="243.1" stroke="#000" stroke-width="1.5"/>
<text x="282.8" y="246.3" font-size="9" text-anchor="end" font-weight="normal" font-style="normal" fill="#000">200</text>
<text x="368.55" y="374.8" font-size="10.3" text-anchor="middle" font-weight="normal" font-style="normal" fill="#000">Time (s)</text>
<text x="263" y="297.8" font-size="10.4" text-anchor="middle" font-weight="normal" font-style="normal" fill="#000" transform="rotate(-90 263 297.8)">GCaMP5 (ΔF/F<tspan font-size="70%" dy="2">0</tspan><tspan dy="-2">, %)</tspan></text>
<path d="M288.8,349.4 289.3,349.4 289.9,349.5 290.4,349.5 290.9,349.5 291.5,349.6 292.0,349.7 292.5,349.6 293.1,349.5 293.6,349.3 294.1,349.1 294.7,348.6 295.2,348.0 295.7,347.2 296.3,346.4 296.8,345.4 297.3,344.3 297.9,343.1 298.4,342.1 298.9,340.9 299.5,339.7 300.0,338.2 300.5,336.6 301.1,334.9 301.6,333.1 302.1,331.4 302.7,329.6 303.2,327.3 303.7,325.2 304.3,323.0 304.8,321.0 305.3,319.2 305.9,317.3 306.4,316.0 306.9,314.3 307.5,312.8 308.0,311.0 308.5,309.2 309.1,307.7 309.6,306.2 310.1,305.0 310.7,303.5 311.2,302.3 311.7,301.2 312.3,300.1 312.8,298.8 313.3,297.2 313.9,295.8 314.4,294.7 314.9,293.6 315.5,292.5 316.0,291.4 316.5,290.6 317.1,289.7 317.6,288.9 318.1,288.3 318.7,287.6 319.2,286.9 319.7,286.0 320.3,285.4 320.8,284.9 321.3,284.5 321.9,283.7 322.4,283.0 322.9,282.6 323.5,282.3 324.0,281.9 324.5,281.4 325.1,281.0 325.6,280.3 326.1,280.0 326.7,279.5 327.2,279.1 327.7,278.6 328.3,278.3 328.8,278.1 329.3,277.9 329.9,277.6 330.4,277.4 330.9,277.2 331.5,276.8 332.0,276.4 332.5,276.3 333.1,276.1 333.6,276.0 334.1,275.8 334.7,275.5 335.2,275.1 335.7,274.9 336.3,274.8 336.8,274.8 337.3,274.7 337.9,274.6 338.4,274.6 338.9,274.5 339.5,274.2 340.0,274.0 340.5,273.9 341.1,274.0 341.6,274.1 342.1,274.0 342.7,273.9 343.2,273.9 343.7,273.9 344.3,273.9 344.8,273.7 345.3,273.7 345.9,273.5 346.4,273.7 346.9,273.7 347.5,273.8 348.0,273.7 348.5,273.6 349.1,273.8 349.6,273.8 350.1,273.9 350.7,273.8 351.2,273.9 351.7,273.7 352.3,273.7 352.8,273.8 353.3,273.9 353.9,273.9 354.4,274.0 354.9,274.1 355.5,274.3 356.0,274.6 356.5,274.9 357.1,275.2 357.6,275.6 358.1,276.1 358.7,276.5 359.2,276.8 359.7,277.2 360.3,277.7 360.8,278.0 361.3,278.3 361.9,278.5 362.4,278.7 362.9,278.9 363.5,278.9 364.0,279.2 364.5,279.4 365.1,279.8 365.6,280.0 366.1,280.1 366.7,280.3 367.2,280.5 367.7,280.8 368.3,280.9 368.8,281.2 369.4,281.2 369.9,281.3 370.4,281.3 371.0,281.2 371.5,281.6 372.0,281.8 372.6,282.0 373.1,281.9 373.6,282.2 374.2,282.4 374.7,282.4 375.2,282.6 375.8,282.7 376.3,282.9 376.8,282.9 377.4,283.0 377.9,283.4 378.4,283.5 379.0,283.7 379.5,283.7 380.0,283.8 380.6,283.7 381.1,283.9 381.6,284.0 382.2,284.1 382.7,284.1 383.2,284.3 383.8,284.4 384.3,284.6 384.8,284.6 385.4,284.7 385.9,284.7 386.4,284.8 387.0,285.1 387.5,285.4 388.0,285.5 388.6,285.4 389.1,285.3 389.6,285.5 390.2,285.6 390.7,285.8 391.2,286.0 391.8,286.2 392.3,286.2 392.8,286.5 393.4,286.3 393.9,286.5 394.4,286.5 395.0,286.8 395.5,286.9 396.0,287.2 396.6,287.3 397.1,287.5 397.6,287.4 398.2,287.4 398.7,287.4 399.2,287.6 399.8,287.7 400.3,288.0 400.8,288.1 401.4,288.1 401.9,288.1 402.4,288.2 403.0,288.3 403.5,288.4 404.0,288.6 404.6,288.6 405.1,288.6 405.6,288.6 406.2,288.5 406.7,288.6 407.2,288.7 407.8,289.0 408.3,289.0 408.8,289.0 409.4,289.0 409.9,289.1 410.4,289.1 411.0,289.1 411.5,289.2 412.0,289.2 412.6,289.2 413.1,289.2 413.6,289.2 414.2,289.2 414.7,289.3 415.2,289.5 415.8,289.6 416.3,289.7 416.8,289.9 417.4,289.8 417.9,289.9 418.4,289.7 419.0,290.0 419.5,290.0 420.0,290.3 420.6,290.3 421.1,290.7 421.6,290.8 422.2,291.0 422.7,291.0 423.2,291.2 423.8,291.3 424.3,291.4 424.8,291.6 425.4,291.9 425.9,292.1 426.4,292.2 427.0,292.1 427.5,292.2 428.0,292.5 428.6,292.7 429.1,292.7 429.6,292.6 430.2,292.7 430.7,292.9 431.2,292.9 431.8,292.9 432.3,292.9 432.8,292.8 433.4,292.8 433.9,292.9 434.4,293.0 435.0,293.0 435.5,293.0 436.0,293.1 436.6,293.4 437.1,293.3 437.6,293.3 438.2,293.3 438.7,293.6 439.2,293.6 439.8,293.3 440.3,293.2 440.8,293.2 441.4,293.3 441.9,293.5 442.4,293.4 443.0,293.3 443.5,293.2 444.0,293.2 444.6,293.3 445.1,293.4 445.6,293.4 446.2,293.2 446.7,293.2 447.2,293.1 447.8,293.4 448.3,293.4" stroke="#e8212b" stroke-width="1.8" fill="none" stroke-linejoin="round"/>
<path d="M288.8,349.4 289.3,349.5 289.9,349.6 290.4,349.8 290.9,349.6 291.5,349.4 292.0,349.1 292.5,349.0 293.1,348.5 293.6,348.1 294.1,347.3 294.7,346.5 295.2,345.6 295.7,344.7 296.3,343.7 296.8,342.3 297.3,340.8 297.9,338.9 298.4,337.0 298.9,334.7 299.5,332.4 300.0,330.0 300.5,327.7 301.1,325.3 301.6,323.0 302.1,320.8 302.7,318.5 303.2,316.6 303.7,315.0 304.3,313.3 304.8,311.8 305.3,310.2 305.9,308.8 306.4,307.3 306.9,305.9 307.5,304.5 308.0,303.2 308.5,301.8 309.1,300.5 309.6,299.2 310.1,297.8 310.7,296.4 311.2,295.0 311.7,293.7 312.3,292.4 312.8,291.1 313.3,289.8 313.9,288.9 314.4,287.9 314.9,287.2 315.5,286.3 316.0,285.6 316.5,284.8 317.1,283.9 317.6,283.2 318.1,282.5 318.7,282.1 319.2,281.5 319.7,280.8 320.3,280.2 320.8,279.6 321.3,279.1 321.9,278.5 322.4,278.1 322.9,277.6 323.5,277.1 324.0,276.6 324.5,275.9 325.1,275.4 325.6,274.7 326.1,274.2 326.7,273.6 327.2,273.0 327.7,272.5 328.3,272.1 328.8,271.5 329.3,271.0 329.9,270.5 330.4,270.1 330.9,269.7 331.5,269.3 332.0,269.0 332.5,268.8 333.1,268.4 333.6,268.2 334.1,267.9 334.7,267.8 335.2,267.6 335.7,267.5 336.3,267.2 336.8,267.1 337.3,267.0 337.9,266.9 338.4,266.5 338.9,266.2 339.5,266.0 340.0,265.9 340.5,265.9 341.1,265.8 341.6,265.7 342.1,265.6 342.7,265.5 343.2,265.4 343.7,265.3 344.3,265.2 344.8,265.1 345.3,265.1 345.9,265.0 346.4,264.7 346.9,264.7 347.5,264.7 348.0,264.7 348.5,264.6 349.1,264.7 349.6,264.8 350.1,264.9 350.7,265.0 351.2,265.3 351.7,265.5 352.3,265.8 352.8,265.9 353.3,266.0 353.9,266.2 354.4,266.8 354.9,267.3 355.5,267.8 356.0,268.1 356.5,268.4 357.1,268.5 357.6,268.6 358.1,268.7 358.7,269.0 359.2,269.0 359.7,269.1 360.3,269.1 360.8,269.2 361.3,269.3 361.9,269.5 362.4,269.7 362.9,269.8 363.5,269.9 364.0,270.0 364.5,270.1 365.1,270.3 365.6,270.5 366.1,270.8 366.7,271.0 367.2,271.1 367.7,271.4 368.3,271.6 368.8,271.7 369.4,271.8 369.9,272.1 370.4,272.4 371.0,272.6 371.5,272.8 372.0,273.1 372.6,273.4 373.1,273.6 373.6,273.7 374.2,274.0 374.7,274.2 375.2,274.3 375.8,274.4 376.3,274.6 376.8,275.0 377.4,275.2 377.9,275.3 378.4,275.5 379.0,275.7 379.5,275.8 380.0,276.0 380.6,276.1 381.1,276.2 381.6,276.3 382.2,276.4 382.7,276.5 383.2,276.6 383.8,276.7 384.3,277.1 384.8,277.3 385.4,277.4 385.9,277.4 386.4,277.5 387.0,277.5 387.5,277.6 388.0,277.7 388.6,278.0 389.1,278.2 389.6,278.3 390.2,278.5 390.7,278.5 391.2,278.9 391.8,279.0 392.3,279.2 392.8,279.5 393.4,279.6 393.9,279.9 394.4,280.1 395.0,280.3 395.5,280.4 396.0,280.6 396.6,280.8 397.1,281.0 397.6,281.3 398.2,281.5 398.7,281.8 399.2,281.9 399.8,282.1 400.3,282.1 400.8,282.2 401.4,282.5 401.9,282.7 402.4,283.0 403.0,283.1 403.5,283.3 404.0,283.3 404.6,283.4 405.1,283.6 405.6,283.8 406.2,284.0 406.7,284.2 407.2,284.3 407.8,284.4 408.3,284.6 408.8,284.7 409.4,284.7 409.9,284.9 410.4,285.0 411.0,285.1 411.5,285.2 412.0,285.4 412.6,285.6 413.1,285.7 413.6,285.8 414.2,285.9 414.7,286.1 415.2,286.2 415.8,286.3 416.3,286.4 416.8,286.5 417.4,286.6 417.9,286.6 418.4,286.8 419.0,287.0 419.5,287.2 420.0,287.4 420.6,287.7 421.1,287.8 421.6,287.9 422.2,288.0 422.7,288.3 423.2,288.5 423.8,288.6 424.3,288.8 424.8,289.0 425.4,289.3 425.9,289.4 426.4,289.7 427.0,289.7 427.5,289.9 428.0,290.1 428.6,290.3 429.1,290.5 429.6,290.6 430.2,290.8 430.7,290.8 431.2,291.0 431.8,291.1 432.3,291.3 432.8,291.3 433.4,291.3 433.9,291.4 434.4,291.5 435.0,291.6 435.5,291.6 436.0,291.6 436.6,291.7 437.1,291.8 437.6,291.8 438.2,291.9 438.7,292.0 439.2,292.0 439.8,292.0 440.3,292.2 440.8,292.1 441.4,292.2 441.9,292.3 442.4,292.5 443.0,292.5 443.5,292.3 444.0,292.4 444.6,292.3 445.1,292.4 445.6,292.5 446.2,292.6 446.7,292.6 447.2,292.8 447.8,292.8 448.3,292.9" stroke="#000" stroke-width="1.8" fill="none" stroke-linejoin="round"/>
<text x="385.5" y="223.6" font-size="9.2" text-anchor="start" font-weight="normal" font-style="normal" fill="#000">WT</text>
<line x1="386" y1="234.4" x2="397" y2="234.4" stroke="#000" stroke-width="1.8"/>
<text x="399.5" y="237.5" font-size="9.2" text-anchor="start" font-weight="normal" font-style="normal" fill="#000">Control</text>
<line x1="386" y1="248.8" x2="397" y2="248.8" stroke="#e8212b" stroke-width="1.8"/>
<text x="399.5" y="251.9" font-size="9.2" text-anchor="start" font-weight="normal" font-style="normal" fill="#000">Histamine</text>
<text x="467.8" y="205" font-size="18" text-anchor="start" font-weight="normal" font-style="normal" fill="#000">f</text>
<path d="M476.8,219.5 L509.1,219.5 L510.4,212.5 L665.9,212.5" stroke="#3d3434" stroke-width="1" fill="none"/>
<text x="476.8" y="216.9" font-size="8.7" text-anchor="start" font-weight="normal" font-style="normal" fill="#2b3990">10 °C</text>
<text x="476.8" y="229.3" font-size="8.7" text-anchor="start" font-weight="normal" font-style="normal" fill="#2b3990">4 min</text>
<text x="592.7" y="207.8" font-size="9" text-anchor="middle" font-weight="normal" font-style="normal" fill="#000">28 °C</text>
<path d="M511.1,352.7 511.9,352.5 512.7,352.3 513.5,352.0 514.3,351.8 515.0,351.6 515.8,351.1 516.6,349.8 517.4,348.0 518.2,346.1 519.0,344.2 519.8,342.3 520.6,340.1 521.4,337.9 522.2,335.5 522.9,333.1 523.7,330.6 524.5,328.2 525.3,325.5 526.1,322.8 526.9,320.0 527.7,317.3 528.5,314.6 529.3,312.1 530.0,309.7 530.8,307.6 531.6,305.5 532.4,303.6 533.2,301.6 534.0,299.7 534.8,297.8 535.6,295.7 536.4,293.6 537.2,291.4 537.9,289.1 538.7,286.8 539.5,284.6 540.3,282.5 541.1,280.6 541.9,278.8 542.7,277.1 543.5,275.5 544.3,274.0 545.0,272.5 545.8,271.1 546.6,269.8 547.4,268.6 548.2,267.5 549.0,266.4 549.8,265.5 550.6,264.5 551.4,263.6 552.2,262.7 552.9,261.9 553.7,261.0 554.5,260.1 555.3,259.3 556.1,258.5 556.9,257.7 557.7,256.9 558.5,256.2 559.3,255.5 560.0,254.8 560.8,254.1 561.6,253.4 562.4,252.7 563.2,252.1 564.0,251.5 564.8,250.8 565.6,250.3 566.4,249.7 567.2,249.3 567.9,248.8 568.7,248.4 569.5,248.0 570.3,247.6 571.1,247.2 571.9,247.0 572.7,246.7 573.5,246.7 574.3,246.7 575.0,246.8 575.8,246.9 576.6,247.1 577.4,247.3 578.2,247.5 579.0,247.7 579.8,248.0 580.6,248.2 581.4,248.4 582.2,248.7 582.9,248.9 583.7,249.2 584.5,249.4 585.3,249.7 586.1,249.9 586.9,250.1 587.7,250.3 588.5,250.5 589.3,250.7 590.0,250.8 590.8,251.0 591.6,251.2 592.4,251.3 593.2,251.5 594.0,251.7 594.8,251.9 595.6,252.1 596.4,252.3 597.1,252.6 597.9,253.0 598.7,253.4 599.5,253.9 600.3,254.5 601.1,255.0 601.9,255.4 602.7,255.8 603.5,256.1 604.3,256.4 605.0,256.6 605.8,256.9 606.6,257.1 607.4,257.3 608.2,257.5 609.0,257.7 609.8,258.0 610.6,258.2 611.4,258.4 612.1,258.7 612.9,258.9 613.7,259.2 614.5,259.5 615.3,259.8 616.1,260.1 616.9,260.3 617.7,260.6 618.5,260.9 619.3,261.2 620.0,261.5 620.8,261.7 621.6,262.0 622.4,262.2 623.2,262.4 624.0,262.6 624.8,262.8 625.6,263.0 626.4,263.2 627.1,263.3 627.9,263.5 628.7,263.7 629.5,263.8 630.3,264.0 631.1,264.2 631.9,264.4 632.7,264.5 633.5,264.7 634.3,264.9 635.0,265.2 635.8,265.4 636.6,265.6 637.4,265.9 638.2,266.1 639.0,266.4 639.8,266.6 640.6,266.8 641.4,267.0 642.1,267.1 642.9,267.3 643.7,267.4 644.5,267.4 645.3,267.5 646.1,267.5 646.9,267.6 647.7,267.6 648.5,267.7 649.3,267.7 650.0,267.8 650.8,267.8 651.6,267.9 652.4,268.0 653.2,268.2 654.0,268.5 654.8,268.8 655.6,269.2 656.4,269.6 657.1,269.9 657.9,270.2 658.7,270.4 659.5,270.6 660.3,270.8 661.1,271.0 661.9,271.2 662.7,271.3 663.5,271.5 664.3,271.7 665.0,271.8 665.8,272.0 666.6,272.2 667.4,272.3 668.2,272.5 668.2,287.7 667.4,287.6 666.6,287.4 665.8,287.3 665.0,287.1 664.3,287.0 663.5,286.9 662.7,286.7 661.9,286.6 661.1,286.4 660.3,286.3 659.5,286.1 658.7,285.9 657.9,285.7 657.1,285.5 656.4,285.2 655.6,284.8 654.8,284.5 654.0,284.2 653.2,283.9 652.4,283.7 651.6,283.6 650.8,283.6 650.0,283.5 649.3,283.5 648.5,283.5 647.7,283.5 646.9,283.5 646.1,283.4 645.3,283.4 644.5,283.4 643.7,283.3 642.9,283.3 642.1,283.2 641.4,283.0 640.6,282.9 639.8,282.7 639.0,282.5 638.2,282.3 637.4,282.1 636.6,281.8 635.8,281.6 635.0,281.4 634.3,281.2 633.5,281.0 632.7,280.9 631.9,280.7 631.1,280.6 630.3,280.4 629.5,280.3 628.7,280.1 627.9,280.0 627.1,279.9 626.4,279.7 625.6,279.6 624.8,279.4 624.0,279.3 623.2,279.1 622.4,278.9 621.6,278.7 620.8,278.5 620.0,278.3 619.3,278.0 618.5,277.8 617.7,277.6 616.9,277.3 616.1,277.1 615.3,276.8 614.5,276.6 613.7,276.3 612.9,276.1 612.1,275.9 611.4,275.7 610.6,275.5 609.8,275.3 609.0,275.1 608.2,275.0 607.4,274.8 606.6,274.7 605.8,274.5 605.0,274.4 604.3,274.2 603.5,274.0 602.7,273.8 601.9,273.6 601.1,273.2 600.3,272.8 599.5,272.4 598.7,272.1 597.9,271.7 597.1,271.5 596.4,271.3 595.6,271.2 594.8,271.1 594.0,271.1 593.2,271.0 592.4,271.0 591.6,271.0 590.8,270.9 590.0,270.9 589.3,270.9 588.5,270.8 587.7,270.8 586.9,270.7 586.1,270.6 585.3,270.5 584.5,270.3 583.7,270.2 582.9,270.0 582.2,269.9 581.4,269.7 580.6,269.6 579.8,269.4 579.0,269.3 578.2,269.1 577.4,268.9 576.6,268.7 575.8,268.6 575.0,268.5 574.3,268.4 573.5,268.4 572.7,268.5 571.9,268.6 571.1,268.9 570.3,269.2 569.5,269.6 568.7,270.0 567.9,270.4 567.2,270.7 566.4,271.2 565.6,271.6 564.8,272.1 564.0,272.6 563.2,273.2 562.4,273.8 561.6,274.3 560.8,274.9 560.0,275.5 559.3,276.1 558.5,276.7 557.7,277.3 556.9,278.0 556.1,278.6 555.3,279.3 554.5,280.0 553.7,280.7 552.9,281.4 552.2,282.1 551.4,282.9 550.6,283.6 549.8,284.4 549.0,285.2 548.2,286.1 547.4,287.1 546.6,288.1 545.8,289.2 545.0,290.4 544.3,291.7 543.5,293.1 542.7,294.5 541.9,296.0 541.1,297.5 540.3,299.2 539.5,301.0 538.7,302.9 537.9,304.8 537.2,306.7 536.4,308.5 535.6,310.2 534.8,311.8 534.0,313.3 533.2,314.7 532.4,316.1 531.6,317.6 530.8,319.1 530.0,320.8 529.3,322.6 528.5,324.6 527.7,326.7 526.9,329.0 526.1,331.2 525.3,333.5 524.5,335.6 523.7,337.6 522.9,339.6 522.2,341.6 521.4,343.5 520.6,345.4 519.8,347.1 519.0,348.6 518.2,350.0 517.4,351.5 516.6,352.9 515.8,353.7 515.0,353.8 514.3,353.6 513.5,353.4 512.7,353.1 511.9,352.9 511.1,352.7Z" stroke="none" stroke-width="1" fill="#c8c8c8" fill-opacity="0.6"/>
<path d="M511.1,352.7 511.9,352.6 512.7,352.4 513.5,352.2 514.3,352.1 515.0,351.9 515.8,351.8 516.6,351.5 517.4,351.1 518.2,350.5 519.0,349.8 519.8,349.0 520.6,348.1 521.4,347.2 522.2,346.3 522.9,345.3 523.7,344.1 524.5,342.7 525.3,341.2 526.1,339.6 526.9,337.9 527.7,336.3 528.5,334.7 529.3,333.0 530.0,331.3 530.8,329.6 531.6,327.8 532.4,326.1 533.2,324.4 534.0,322.9 534.8,321.4 535.6,320.0 536.4,318.7 537.2,317.4 537.9,316.3 538.7,315.3 539.5,314.3 540.3,313.4 541.1,312.5 541.9,311.6 542.7,310.9 543.5,310.1 544.3,309.4 545.0,308.7 545.8,308.1 546.6,307.5 547.4,307.0 548.2,306.5 549.0,306.0 549.8,305.6 550.6,305.2 551.4,304.8 552.2,304.4 552.9,304.1 553.7,303.7 554.5,303.4 555.3,303.0 556.1,302.6 556.9,302.2 557.7,301.8 558.5,301.4 559.3,301.0 560.0,300.6 560.8,300.2 561.6,299.8 562.4,299.4 563.2,299.0 564.0,298.6 564.8,298.1 565.6,297.7 566.4,297.2 567.2,296.7 567.9,296.1 568.7,295.6 569.5,295.1 570.3,294.6 571.1,294.1 571.9,293.7 572.7,293.4 573.5,293.0 574.3,292.7 575.0,292.4 575.8,292.1 576.6,291.8 577.4,291.5 578.2,291.3 579.0,291.1 579.8,290.9 580.6,290.7 581.4,290.6 582.2,290.5 582.9,290.4 583.7,290.3 584.5,290.2 585.3,290.1 586.1,290.0 586.9,289.9 587.7,289.9 588.5,289.8 589.3,289.8 590.0,289.8 590.8,289.8 591.6,289.9 592.4,289.9 593.2,290.0 594.0,290.0 594.8,290.1 595.6,290.1 596.4,290.2 597.1,290.2 597.9,290.3 598.7,290.3 599.5,290.3 600.3,290.3 601.1,290.3 601.9,290.3 602.7,290.3 603.5,290.3 604.3,290.3 605.0,290.3 605.8,290.3 606.6,290.3 607.4,290.3 608.2,290.3 609.0,290.3 609.8,290.3 610.6,290.3 611.4,290.3 612.1,290.3 612.9,290.3 613.7,290.3 614.5,290.3 615.3,290.3 616.1,290.4 616.9,290.4 617.7,290.5 618.5,290.6 619.3,290.7 620.0,290.8 620.8,290.9 621.6,291.0 622.4,291.1 623.2,291.2 624.0,291.3 624.8,291.4 625.6,291.5 626.4,291.6 627.1,291.6 627.9,291.7 628.7,291.7 629.5,291.7 630.3,291.8 631.1,291.8 631.9,291.8 632.7,291.8 633.5,291.8 634.3,291.8 635.0,291.9 635.8,291.9 636.6,291.9 637.4,291.9 638.2,291.9 639.0,291.9 639.8,291.9 640.6,291.9 641.4,291.9 642.1,292.0 642.9,292.0 643.7,292.0 644.5,292.0 645.3,292.0 646.1,292.1 646.9,292.1 647.7,292.1 648.5,292.2 649.3,292.2 650.0,292.2 650.8,292.3 651.6,292.3 652.4,292.3 653.2,292.4 654.0,292.4 654.8,292.5 655.6,292.5 656.4,292.5 657.1,292.6 657.9,292.6 658.7,292.7 659.5,292.7 660.3,292.8 661.1,292.8 661.9,292.9 662.7,292.9 663.5,292.9 664.3,293.0 665.0,293.0 665.8,293.1 666.6,293.1 667.4,293.1 668.2,293.2 668.2,303.0 667.4,302.9 666.6,302.9 665.8,302.8 665.0,302.8 664.3,302.8 663.5,302.7 662.7,302.7 661.9,302.6 661.1,302.6 660.3,302.5 659.5,302.5 658.7,302.5 657.9,302.4 657.1,302.4 656.4,302.3 655.6,302.3 654.8,302.2 654.0,302.2 653.2,302.2 652.4,302.1 651.6,302.1 650.8,302.0 650.0,302.0 649.3,302.0 648.5,301.9 647.7,301.9 646.9,301.9 646.1,301.8 645.3,301.8 644.5,301.8 643.7,301.8 642.9,301.8 642.1,301.7 641.4,301.7 640.6,301.7 639.8,301.7 639.0,301.7 638.2,301.7 637.4,301.7 636.6,301.6 635.8,301.6 635.0,301.6 634.3,301.6 633.5,301.6 632.7,301.6 631.9,301.6 631.1,301.6 630.3,301.5 629.5,301.5 628.7,301.5 627.9,301.5 627.1,301.4 626.4,301.3 625.6,301.2 624.8,301.2 624.0,301.1 623.2,301.0 622.4,300.8 621.6,300.7 620.8,300.6 620.0,300.5 619.3,300.4 618.5,300.3 617.7,300.3 616.9,300.2 616.1,300.1 615.3,300.1 614.5,300.1 613.7,300.1 612.9,300.1 612.1,300.1 611.4,300.1 610.6,300.1 609.8,300.1 609.0,300.1 608.2,300.1 607.4,300.1 606.6,300.1 605.8,300.1 605.0,300.1 604.3,300.1 603.5,300.1 602.7,300.1 601.9,300.1 601.1,300.1 600.3,300.1 599.5,300.1 598.7,300.1 597.9,300.1 597.1,300.0 596.4,300.0 595.6,299.9 594.8,299.9 594.0,299.8 593.2,299.7 592.4,299.7 591.6,299.6 590.8,299.6 590.0,299.6 589.3,299.6 588.5,299.6 587.7,299.6 586.9,299.7 586.1,299.8 585.3,299.8 584.5,299.9 583.7,300.0 582.9,300.1 582.2,300.2 581.4,300.3 580.6,300.4 579.8,300.6 579.0,300.8 578.2,301.0 577.4,301.2 576.6,301.5 575.8,301.8 575.0,302.1 574.3,302.4 573.5,302.7 572.7,303.0 571.9,303.4 571.1,303.7 570.3,304.2 569.5,304.7 568.7,305.2 567.9,305.7 567.2,306.2 566.4,306.7 565.6,307.2 564.8,307.6 564.0,308.0 563.2,308.4 562.4,308.8 561.6,309.2 560.8,309.6 560.0,310.0 559.3,310.3 558.5,310.7 557.7,311.1 556.9,311.4 556.1,311.8 555.3,312.2 554.5,312.5 553.7,312.9 552.9,313.2 552.2,313.5 551.4,313.9 550.6,314.2 549.8,314.6 549.0,315.0 548.2,315.4 547.4,315.9 546.6,316.4 545.8,316.9 545.0,317.5 544.3,318.2 543.5,318.8 542.7,319.5 541.9,320.3 541.1,321.1 540.3,321.9 539.5,322.7 538.7,323.6 537.9,324.5 537.2,325.5 536.4,326.6 535.6,327.8 534.8,329.0 534.0,330.3 533.2,331.6 532.4,333.1 531.6,334.6 530.8,336.2 530.0,337.7 529.3,339.2 528.5,340.6 527.7,342.0 526.9,343.4 526.1,344.9 525.3,346.3 524.5,347.5 523.7,348.7 522.9,349.6 522.2,350.4 521.4,351.1 520.6,351.8 519.8,352.4 519.0,352.9 518.2,353.3 517.4,353.6 516.6,353.7 515.8,353.6 515.0,353.5 514.3,353.3 513.5,353.2 512.7,353.0 511.9,352.8 511.1,352.7Z" stroke="none" stroke-width="1" fill="#f6c6c6" fill-opacity="0.6"/>
<line x1="511.1" y1="244.1" x2="511.1" y2="357.9" stroke="#000" stroke-width="1.5"/>
<line x1="511.1" y1="352.7" x2="668.2" y2="352.7" stroke="#000" stroke-width="1.5"/>
<line x1="589.65" y1="352.7" x2="589.65" y2="357.7" stroke="#000" stroke-width="1.5"/>
<text x="589.65" y="366.8" font-size="9" text-anchor="middle" font-weight="normal" font-style="normal" fill="#000">20</text>
<line x1="668.2" y1="352.7" x2="668.2" y2="357.7" stroke="#000" stroke-width="1.5"/>
<text x="668.2" y="366.8" font-size="9" text-anchor="middle" font-weight="normal" font-style="normal" fill="#000">40</text>
<line x1="506.6" y1="352.7" x2="511.1" y2="352.7" stroke="#000" stroke-width="1.5"/>
<text x="505.1" y="355.9" font-size="9" text-anchor="end" font-weight="normal" font-style="normal" fill="#000">0</text>
<line x1="506.6" y1="325.55" x2="511.1" y2="325.55" stroke="#000" stroke-width="1.5"/>
<text x="505.1" y="328.75" font-size="9" text-anchor="end" font-weight="normal" font-style="normal" fill="#000">50</text>
<line x1="506.6" y1="298.4" x2="511.1" y2="298.4" stroke="#000" stroke-width="1.5"/>
<text x="505.1" y="301.6" font-size="9" text-anchor="end" font-weight="normal" font-style="normal" fill="#000">100</text>
<line x1="506.6" y1="271.25" x2="511.1" y2="271.25" stroke="#000" stroke-width="1.5"/>
<text x="505.1" y="274.45" font-size="9" text-anchor="end" font-weight="normal" font-style="normal" fill="#000">150</text>
<line x1="506.6" y1="244.1" x2="511.1" y2="244.1" stroke="#000" stroke-width="1.5"/>
<text x="505.1" y="247.3" font-size="9" text-anchor="end" font-weight="normal" font-style="normal" fill="#000">200</text>
<text x="589.65" y="375" font-size="10.3" text-anchor="middle" font-weight="normal" font-style="normal" fill="#000">Time (s)</text>
<text x="481.5" y="299.9" font-size="10.4" text-anchor="middle" font-weight="normal" font-style="normal" fill="#000" transform="rotate(-90 481.5 299.9)">GCaMP5 (ΔF/F<tspan font-size="70%" dy="2">0</tspan><tspan dy="-2">, %)</tspan></text>
<path d="M511.1,352.7 511.6,352.8 512.2,352.8 512.7,352.8 513.2,352.8 513.7,352.9 514.3,352.9 514.8,352.9 515.3,352.8 515.8,352.7 516.4,352.5 516.9,352.3 517.4,352.1 517.9,351.8 518.5,351.5 519.0,351.0 519.5,350.8 520.0,350.4 520.6,349.9 521.1,349.3 521.6,348.7 522.1,348.2 522.7,347.7 523.2,347.0 523.7,346.4 524.2,345.6 524.8,344.7 525.3,343.8 525.8,343.0 526.3,342.0 526.9,340.7 527.4,339.7 527.9,338.8 528.4,338.1 529.0,336.8 529.5,335.6 530.0,334.4 530.5,333.2 531.1,332.1 531.6,331.1 532.1,330.1 532.6,329.3 533.2,328.1 533.7,327.2 534.2,326.3 534.7,325.2 535.3,324.3 535.8,323.5 536.3,322.7 536.8,322.0 537.4,321.2 537.9,320.7 538.4,320.1 538.9,319.6 539.5,319.0 540.0,318.3 540.5,317.5 541.0,316.9 541.6,316.4 542.1,315.6 542.6,315.3 543.2,315.0 543.7,314.7 544.2,314.1 544.7,313.2 545.3,312.8 545.8,312.5 546.3,312.3 546.8,311.6 547.4,311.4 547.9,311.0 548.4,311.0 548.9,310.6 549.5,310.4 550.0,310.1 550.5,309.8 551.0,309.6 551.6,309.3 552.1,308.9 552.6,308.7 553.1,308.6 553.7,308.4 554.2,308.0 554.7,307.8 555.2,307.4 555.8,307.2 556.3,307.1 556.8,306.9 557.3,306.7 557.9,306.3 558.4,306.1 558.9,305.7 559.4,305.5 560.0,305.2 560.5,305.2 561.0,304.8 561.5,304.6 562.1,304.2 562.6,303.9 563.1,303.6 563.6,303.3 564.2,303.1 564.7,302.8 565.2,302.7 565.7,302.5 566.3,302.1 566.8,301.6 567.3,301.1 567.8,300.8 568.4,300.5 568.9,300.1 569.4,299.7 569.9,299.4 570.5,299.1 571.0,298.9 571.5,298.6 572.0,298.5 572.6,298.5 573.1,298.3 573.6,298.0 574.2,297.4 574.7,297.3 575.2,297.0 575.7,297.0 576.3,296.7 576.8,296.7 577.3,296.3 577.8,296.1 578.4,295.7 578.9,295.8 579.4,295.7 579.9,295.9 580.5,295.7 581.0,295.5 581.5,295.4 582.0,295.3 582.6,295.1 583.1,295.1 583.6,295.2 584.1,295.1 584.7,295.0 585.2,294.8 585.7,294.9 586.2,294.9 586.8,294.9 587.3,294.9 587.8,294.8 588.3,294.8 588.9,294.7 589.4,294.7 589.9,294.6 590.4,294.7 591.0,294.8 591.5,294.8 592.0,294.6 592.5,294.5 593.1,294.6 593.6,294.8 594.1,294.9 594.6,294.9 595.2,294.9 595.7,294.9 596.2,295.0 596.7,295.0 597.3,295.1 597.8,295.2 598.3,295.4 598.8,295.3 599.4,295.3 599.9,295.3 600.4,295.5 600.9,295.2 601.5,295.0 602.0,294.9 602.5,295.3 603.0,295.5 603.6,295.5 604.1,295.4 604.6,295.3 605.1,295.3 605.7,295.3 606.2,295.3 606.7,295.1 607.3,295.1 607.8,295.2 608.3,295.2 608.8,295.2 609.4,295.3 609.9,295.2 610.4,295.3 610.9,295.1 611.5,295.3 612.0,295.2 612.5,295.4 613.0,295.1 613.6,295.2 614.1,295.2 614.6,295.2 615.1,295.3 615.7,295.3 616.2,295.5 616.7,295.6 617.2,295.6 617.8,295.6 618.3,295.5 618.8,295.4 619.3,295.3 619.9,295.3 620.4,295.4 620.9,295.6 621.4,295.9 622.0,296.1 622.5,296.1 623.0,296.0 623.5,296.1 624.1,296.0 624.6,296.0 625.1,296.0 625.6,296.3 626.2,296.5 626.7,296.6 627.2,296.7 627.7,296.8 628.3,296.7 628.8,296.8 629.3,296.7 629.8,296.6 630.4,296.3 630.9,296.3 631.4,296.5 631.9,296.8 632.5,296.8 633.0,296.6 633.5,296.4 634.0,296.6 634.6,296.5 635.1,296.8 635.6,296.8 636.1,296.8 636.7,296.7 637.2,296.7 637.7,296.7 638.3,296.8 638.8,296.9 639.3,297.1 639.8,297.1 640.4,296.8 640.9,296.8 641.4,296.7 641.9,296.8 642.5,296.7 643.0,296.6 643.5,296.7 644.0,296.7 644.6,296.9 645.1,296.8 645.6,296.9 646.1,296.9 646.7,297.2 647.2,297.3 647.7,297.2 648.2,296.9 648.8,296.7 649.3,296.8 649.8,296.9 650.3,297.1 650.9,297.1 651.4,297.3 651.9,297.4 652.4,297.3 653.0,297.3 653.5,297.2 654.0,297.3 654.5,297.1 655.1,297.1 655.6,297.1 656.1,297.3 656.6,297.4 657.2,297.4 657.7,297.5 658.2,297.4 658.7,297.6 659.3,297.5 659.8,297.4 660.3,297.4 660.8,297.4 661.4,297.6 661.9,297.7 662.4,297.8 662.9,297.8 663.5,298.0 664.0,298.0 664.5,297.8 665.0,297.9 665.6,297.9 666.1,298.1 666.6,298.0 667.1,298.0 667.7,298.1 668.2,298.2" stroke="#e8212b" stroke-width="1.8" fill="none" stroke-linejoin="round"/>
<path d="M511.1,352.6 511.6,352.7 512.2,352.7 512.7,352.8 513.2,352.7 513.7,352.7 514.3,352.7 514.8,352.7 515.3,352.7 515.8,352.4 516.4,351.7 516.9,350.8 517.4,349.7 517.9,348.6 518.5,347.4 519.0,346.4 519.5,345.3 520.0,344.1 520.6,342.8 521.1,341.5 521.6,340.3 522.1,338.8 522.7,337.1 523.2,335.5 523.7,333.9 524.2,332.6 524.8,331.0 525.3,329.5 525.8,327.8 526.3,326.3 526.9,324.6 527.4,323.0 527.9,321.3 528.4,319.6 529.0,318.1 529.5,316.6 530.0,315.3 530.5,314.0 531.1,312.8 531.6,311.6 532.1,310.5 532.6,309.4 533.2,308.3 533.7,307.3 534.2,306.1 534.7,304.9 535.3,303.7 535.8,302.4 536.3,301.1 536.8,299.8 537.4,298.5 537.9,297.1 538.4,295.7 538.9,294.2 539.5,292.8 540.0,291.4 540.5,290.2 541.0,289.0 541.6,288.0 542.1,287.0 542.6,286.0 543.2,284.9 543.7,283.9 544.2,282.9 544.7,282.1 545.3,281.1 545.8,280.3 546.3,279.5 546.8,278.8 547.4,277.9 547.9,277.2 548.4,276.5 548.9,275.9 549.5,275.2 550.0,274.5 550.5,274.1 551.0,273.5 551.6,273.1 552.1,272.6 552.6,272.0 553.1,271.3 553.7,270.8 554.2,270.4 554.7,270.0 555.2,269.5 555.8,269.0 556.3,268.5 556.8,267.9 557.3,267.5 557.9,267.0 558.4,266.5 558.9,266.0 559.4,265.7 560.0,265.2 560.5,264.7 561.0,264.3 561.5,263.9 562.1,263.5 562.6,263.2 563.1,262.8 563.6,262.5 564.2,262.1 564.7,261.7 565.2,261.2 565.7,260.8 566.3,260.6 566.8,260.2 567.3,259.8 567.8,259.6 568.4,259.4 568.9,259.2 569.4,258.7 569.9,258.5 570.5,258.3 571.0,258.2 571.5,258.0 572.0,257.8 572.6,257.6 573.1,257.6 573.6,257.6 574.2,257.7 574.7,257.6 575.2,257.5 575.7,257.4 576.3,257.6 576.8,257.8 577.3,258.0 577.8,258.0 578.4,258.2 578.9,258.3 579.4,258.6 579.9,258.8 580.5,258.9 581.0,259.1 581.5,259.2 582.0,259.2 582.6,259.3 583.1,259.3 583.6,259.5 584.1,259.6 584.7,259.9 585.2,260.1 585.7,260.3 586.2,260.3 586.8,260.3 587.3,260.4 587.8,260.6 588.3,260.7 588.9,260.7 589.4,260.7 589.9,260.8 590.4,260.8 591.0,260.9 591.5,261.0 592.0,261.1 592.5,261.2 593.1,261.3 593.6,261.3 594.1,261.5 594.6,261.5 595.2,261.7 595.7,261.6 596.2,261.7 596.7,262.0 597.3,262.2 597.8,262.5 598.3,262.7 598.8,262.9 599.4,263.2 599.9,263.5 600.4,263.8 600.9,264.0 601.5,264.2 602.0,264.5 602.5,264.8 603.0,265.0 603.6,265.1 604.1,265.1 604.6,265.3 605.1,265.6 605.7,265.8 606.2,265.9 606.7,265.9 607.3,265.9 607.8,266.0 608.3,266.1 608.8,266.4 609.4,266.5 609.9,266.6 610.4,266.7 610.9,266.9 611.5,267.1 612.0,267.3 612.5,267.5 613.0,267.5 613.6,267.6 614.1,267.8 614.6,268.0 615.1,268.3 615.7,268.4 616.2,268.5 616.7,268.7 617.2,268.9 617.8,269.2 618.3,269.5 618.8,269.6 619.3,269.7 619.9,269.8 620.4,270.1 620.9,270.3 621.4,270.3 622.0,270.4 622.5,270.5 623.0,270.7 623.5,270.9 624.1,271.1 624.6,271.1 625.1,271.2 625.6,271.1 626.2,271.3 626.7,271.4 627.2,271.6 627.7,271.7 628.3,271.9 628.8,272.0 629.3,272.0 629.8,272.2 630.4,272.3 630.9,272.3 631.4,272.5 631.9,272.6 632.5,272.7 633.0,272.7 633.5,272.9 634.0,273.0 634.6,273.1 635.1,273.3 635.6,273.5 636.1,273.6 636.7,273.8 637.2,273.9 637.7,274.2 638.3,274.4 638.8,274.6 639.3,274.7 639.8,274.7 640.4,274.8 640.9,274.9 641.4,275.0 641.9,275.0 642.5,275.2 643.0,275.3 643.5,275.4 644.0,275.4 644.6,275.3 645.1,275.4 645.6,275.4 646.1,275.5 646.7,275.5 647.2,275.5 647.7,275.5 648.2,275.4 648.8,275.6 649.3,275.7 649.8,275.7 650.3,275.7 650.9,275.7 651.4,275.7 651.9,275.8 652.4,275.9 653.0,276.0 653.5,276.1 654.0,276.4 654.5,276.7 655.1,276.9 655.6,277.0 656.1,277.3 656.6,277.4 657.2,277.7 657.7,277.9 658.2,278.1 658.7,278.2 659.3,278.2 659.8,278.2 660.3,278.4 660.8,278.5 661.4,278.7 661.9,278.8 662.4,279.1 662.9,279.2 663.5,279.4 664.0,279.3 664.5,279.4 665.0,279.4 665.6,279.5 666.1,279.6 666.6,279.8 667.1,279.9 667.7,279.9 668.2,280.0" stroke="#000" stroke-width="1.8" fill="none" stroke-linejoin="round"/>
<text x="603.8" y="225.3" font-size="10.2" text-anchor="start" font-weight="normal" font-style="italic" fill="#000">Pvap-1::HisCl1</text>
<line x1="605.4" y1="237" x2="616.4" y2="237" stroke="#000" stroke-width="1.8"/>
<text x="618.9" y="240.1" font-size="9.2" text-anchor="start" font-weight="normal" font-style="normal" fill="#000">Control</text>
<line x1="605.4" y1="248.1" x2="616.4" y2="248.1" stroke="#e8212b" stroke-width="1.8"/>
<text x="618.9" y="251.2" font-size="9.2" text-anchor="start" font-weight="normal" font-style="normal" fill="#000">Histamine</text>
<text x="6.5" y="398.5" font-size="18" text-anchor="start" font-weight="normal" font-style="normal" fill="#000">g</text>
<rect x="94.8" y="496.7" width="19.8" height="45.2" fill="#cccccc" stroke="#000" stroke-width="1.8"/>
<rect x="122.3" y="491.9" width="20.4" height="50" fill="#fbdcdc" stroke="#e8212b" stroke-width="1.8"/>
<rect x="167.4" y="494.6" width="19.9" height="47.3" fill="#cccccc" stroke="#000" stroke-width="1.8"/>
<rect x="195.3" y="512" width="19.5" height="29.9" fill="#fbdcdc" stroke="#e8212b" stroke-width="1.8"/>
<circle cx="104.54" cy="415.52" r="1.7" fill="#fff" stroke="#959595" stroke-width="0.75"/>
<circle cx="104.54" cy="439.86" r="1.7" fill="#fff" stroke="#959595" stroke-width="0.75"/>
<circle cx="102.76" cy="448.03" r="1.7" fill="#fff" stroke="#959595" stroke-width="0.75"/>
<circle cx="106.31" cy="448.38" r="1.7" fill="#fff" stroke="#959595" stroke-width="0.75"/>
<circle cx="104.54" cy="451.94" r="1.7" fill="#fff" stroke="#959595" stroke-width="0.75"/>
<circle cx="104.54" cy="456.02" r="1.7" fill="#fff" stroke="#959595" stroke-width="0.75"/>
<circle cx="104.54" cy="468.28" r="1.7" fill="#fff" stroke="#959595" stroke-width="0.75"/>
<circle cx="102.76" cy="473.25" r="1.7" fill="#fff" stroke="#959595" stroke-width="0.75"/>
<circle cx="106.31" cy="473.25" r="1.7" fill="#fff" stroke="#959595" stroke-width="0.75"/>
<circle cx="102.76" cy="486.57" r="1.7" fill="#fff" stroke="#959595" stroke-width="0.75"/>
<circle cx="107.2" cy="487.1" r="1.7" fill="#fff" stroke="#959595" stroke-width="0.75"/>
<circle cx="110.75" cy="485.68" r="1.7" fill="#fff" stroke="#959595" stroke-width="0.75"/>
<circle cx="99.21" cy="491.01" r="1.7" fill="#fff" stroke="#959595" stroke-width="0.75"/>
<circle cx="102.76" cy="492.79" r="1.7" fill="#fff" stroke="#959595" stroke-width="0.75"/>
<circle cx="107.2" cy="492.79" r="1.7" fill="#fff" stroke="#959595" stroke-width="0.75"/>
<circle cx="110.75" cy="492.26" r="1.7" fill="#fff" stroke="#959595" stroke-width="0.75"/>
<circle cx="97.43" cy="500.78" r="1.7" fill="#fff" stroke="#959595" stroke-width="0.75"/>
<circle cx="102.76" cy="502.56" r="1.7" fill="#fff" stroke="#959595" stroke-width="0.75"/>
<circle cx="109.87" cy="502.56" r="1.7" fill="#fff" stroke="#959595" stroke-width="0.75"/>
<circle cx="98.32" cy="507" r="1.7" fill="#fff" stroke="#959595" stroke-width="0.75"/>
<circle cx="102.76" cy="507.53" r="1.7" fill="#fff" stroke="#959595" stroke-width="0.75"/>
<circle cx="107.2" cy="507.53" r="1.7" fill="#fff" stroke="#959595" stroke-width="0.75"/>
<circle cx="110.75" cy="507.53" r="1.7" fill="#fff" stroke="#959595" stroke-width="0.75"/>
<circle cx="99.21" cy="511.44" r="1.7" fill="#fff" stroke="#959595" stroke-width="0.75"/>
<circle cx="106.31" cy="511.44" r="1.7" fill="#fff" stroke="#959595" stroke-width="0.75"/>
<circle cx="110.75" cy="511.44" r="1.7" fill="#fff" stroke="#959595" stroke-width="0.75"/>
<circle cx="106.31" cy="516.77" r="1.7" fill="#fff" stroke="#959595" stroke-width="0.75"/>
<circle cx="102.76" cy="517.66" r="1.7" fill="#fff" stroke="#959595" stroke-width="0.75"/>
<circle cx="108.09" cy="520.32" r="1.7" fill="#fff" stroke="#959595" stroke-width="0.75"/>
<circle cx="95.66" cy="527.07" r="1.7" fill="#fff" stroke="#959595" stroke-width="0.75"/>
<circle cx="102.76" cy="527.42" r="1.7" fill="#fff" stroke="#959595" stroke-width="0.75"/>
<circle cx="107.2" cy="528.85" r="1.7" fill="#fff" stroke="#959595" stroke-width="0.75"/>
<circle cx="110.75" cy="528.31" r="1.7" fill="#fff" stroke="#959595" stroke-width="0.75"/>
<circle cx="114.31" cy="527.07" r="1.7" fill="#fff" stroke="#959595" stroke-width="0.75"/>
<circle cx="102.76" cy="530.09" r="1.7" fill="#fff" stroke="#959595" stroke-width="0.75"/>
<circle cx="99.21" cy="528.31" r="1.7" fill="#fff" stroke="#959595" stroke-width="0.75"/>
<circle cx="132.07" cy="433.64" r="1.7" fill="#fff" stroke="#959595" stroke-width="0.75"/>
<circle cx="130.29" cy="451.94" r="1.7" fill="#fff" stroke="#959595" stroke-width="0.75"/>
<circle cx="132.07" cy="454.96" r="1.7" fill="#fff" stroke="#959595" stroke-width="0.75"/>
<circle cx="132.07" cy="464.37" r="1.7" fill="#fff" stroke="#959595" stroke-width="0.75"/>
<circle cx="132.07" cy="476.27" r="1.7" fill="#fff" stroke="#959595" stroke-width="0.75"/>
<circle cx="129.4" cy="483.37" r="1.7" fill="#fff" stroke="#959595" stroke-width="0.75"/>
<circle cx="135.62" cy="483.02" r="1.7" fill="#fff" stroke="#959595" stroke-width="0.75"/>
<circle cx="129.4" cy="488.7" r="1.7" fill="#fff" stroke="#959595" stroke-width="0.75"/>
<circle cx="135.62" cy="488.7" r="1.7" fill="#fff" stroke="#959595" stroke-width="0.75"/>
<circle cx="141.84" cy="490.12" r="1.7" fill="#fff" stroke="#959595" stroke-width="0.75"/>
<circle cx="127.63" cy="492.79" r="1.7" fill="#fff" stroke="#959595" stroke-width="0.75"/>
<circle cx="135.62" cy="492.79" r="1.7" fill="#fff" stroke="#959595" stroke-width="0.75"/>
<circle cx="141.84" cy="495.45" r="1.7" fill="#fff" stroke="#959595" stroke-width="0.75"/>
<circle cx="135.62" cy="497.23" r="1.7" fill="#fff" stroke="#959595" stroke-width="0.75"/>
<circle cx="129.4" cy="504.33" r="1.7" fill="#fff" stroke="#959595" stroke-width="0.75"/>
<circle cx="135.62" cy="507" r="1.7" fill="#fff" stroke="#959595" stroke-width="0.75"/>
<circle cx="135.62" cy="510.55" r="1.7" fill="#fff" stroke="#959595" stroke-width="0.75"/>
<circle cx="129.4" cy="511.44" r="1.7" fill="#fff" stroke="#959595" stroke-width="0.75"/>
<circle cx="122.3" cy="512.33" r="1.7" fill="#fff" stroke="#959595" stroke-width="0.75"/>
<circle cx="141.84" cy="512.33" r="1.7" fill="#fff" stroke="#959595" stroke-width="0.75"/>
<circle cx="135.62" cy="513.57" r="1.7" fill="#fff" stroke="#959595" stroke-width="0.75"/>
<circle cx="129.4" cy="522.1" r="1.7" fill="#fff" stroke="#959595" stroke-width="0.75"/>
<circle cx="135.62" cy="519.96" r="1.7" fill="#fff" stroke="#959595" stroke-width="0.75"/>
<circle cx="129.4" cy="497.23" r="1.7" fill="#fff" stroke="#959595" stroke-width="0.75"/>
<circle cx="176.65" cy="427.07" r="1.7" fill="#fff" stroke="#959595" stroke-width="0.75"/>
<circle cx="176.65" cy="439.86" r="1.7" fill="#fff" stroke="#959595" stroke-width="0.75"/>
<circle cx="176.65" cy="447.5" r="1.7" fill="#fff" stroke="#959595" stroke-width="0.75"/>
<circle cx="176.65" cy="452.47" r="1.7" fill="#fff" stroke="#959595" stroke-width="0.75"/>
<circle cx="176.65" cy="458.69" r="1.7" fill="#fff" stroke="#959595" stroke-width="0.75"/>
<circle cx="167.24" cy="462.95" r="1.7" fill="#fff" stroke="#959595" stroke-width="0.75"/>
<circle cx="172.21" cy="463.48" r="1.7" fill="#fff" stroke="#959595" stroke-width="0.75"/>
<circle cx="176.65" cy="465.26" r="1.7" fill="#fff" stroke="#959595" stroke-width="0.75"/>
<circle cx="181.98" cy="464.9" r="1.7" fill="#fff" stroke="#959595" stroke-width="0.75"/>
<circle cx="174.87" cy="469.7" r="1.7" fill="#fff" stroke="#959595" stroke-width="0.75"/>
<circle cx="179.67" cy="471.47" r="1.7" fill="#fff" stroke="#959595" stroke-width="0.75"/>
<circle cx="172.21" cy="476.45" r="1.7" fill="#fff" stroke="#959595" stroke-width="0.75"/>
<circle cx="176.65" cy="475.38" r="1.7" fill="#fff" stroke="#959595" stroke-width="0.75"/>
<circle cx="181.98" cy="477.34" r="1.7" fill="#fff" stroke="#959595" stroke-width="0.75"/>
<circle cx="172.21" cy="486.22" r="1.7" fill="#fff" stroke="#959595" stroke-width="0.75"/>
<circle cx="176.65" cy="486.57" r="1.7" fill="#fff" stroke="#959595" stroke-width="0.75"/>
<circle cx="181.98" cy="484.8" r="1.7" fill="#fff" stroke="#959595" stroke-width="0.75"/>
<circle cx="172.21" cy="491.01" r="1.7" fill="#fff" stroke="#959595" stroke-width="0.75"/>
<circle cx="176.65" cy="491.01" r="1.7" fill="#fff" stroke="#959595" stroke-width="0.75"/>
<circle cx="181.98" cy="491.9" r="1.7" fill="#fff" stroke="#959595" stroke-width="0.75"/>
<circle cx="172.21" cy="500.78" r="1.7" fill="#fff" stroke="#959595" stroke-width="0.75"/>
<circle cx="176.65" cy="502.2" r="1.7" fill="#fff" stroke="#959595" stroke-width="0.75"/>
<circle cx="181.98" cy="497.58" r="1.7" fill="#fff" stroke="#959595" stroke-width="0.75"/>
<circle cx="176.65" cy="494.03" r="1.7" fill="#fff" stroke="#959595" stroke-width="0.75"/>
<circle cx="181.98" cy="512.86" r="1.7" fill="#fff" stroke="#959595" stroke-width="0.75"/>
<circle cx="176.65" cy="515.35" r="1.7" fill="#fff" stroke="#959595" stroke-width="0.75"/>
<circle cx="176.65" cy="518.54" r="1.7" fill="#fff" stroke="#959595" stroke-width="0.75"/>
<circle cx="169.55" cy="522.98" r="1.7" fill="#fff" stroke="#959595" stroke-width="0.75"/>
<circle cx="174.87" cy="522.98" r="1.7" fill="#fff" stroke="#959595" stroke-width="0.75"/>
<circle cx="179.67" cy="522.98" r="1.7" fill="#fff" stroke="#959595" stroke-width="0.75"/>
<circle cx="184.64" cy="523.87" r="1.7" fill="#fff" stroke="#959595" stroke-width="0.75"/>
<circle cx="167.77" cy="529.2" r="1.7" fill="#fff" stroke="#959595" stroke-width="0.75"/>
<circle cx="172.21" cy="530.98" r="1.7" fill="#fff" stroke="#959595" stroke-width="0.75"/>
<circle cx="176.65" cy="530.09" r="1.7" fill="#fff" stroke="#959595" stroke-width="0.75"/>
<circle cx="181.98" cy="527.42" r="1.7" fill="#fff" stroke="#959595" stroke-width="0.75"/>
<circle cx="186.42" cy="530.09" r="1.7" fill="#fff" stroke="#959595" stroke-width="0.75"/>
<circle cx="181.98" cy="531.87" r="1.7" fill="#fff" stroke="#959595" stroke-width="0.75"/>
<circle cx="176.65" cy="496.34" r="1.7" fill="#fff" stroke="#959595" stroke-width="0.75"/>
<circle cx="205.07" cy="461.71" r="1.7" fill="#fff" stroke="#959595" stroke-width="0.75"/>
<circle cx="205.07" cy="472.9" r="1.7" fill="#fff" stroke="#959595" stroke-width="0.75"/>
<circle cx="205.07" cy="484.8" r="1.7" fill="#fff" stroke="#959595" stroke-width="0.75"/>
<circle cx="202.4" cy="491.01" r="1.7" fill="#fff" stroke="#959595" stroke-width="0.75"/>
<circle cx="206.85" cy="489.24" r="1.7" fill="#fff" stroke="#959595" stroke-width="0.75"/>
<circle cx="202.4" cy="494.56" r="1.7" fill="#fff" stroke="#959595" stroke-width="0.75"/>
<circle cx="206.85" cy="493.68" r="1.7" fill="#fff" stroke="#959595" stroke-width="0.75"/>
<circle cx="202.4" cy="498.12" r="1.7" fill="#fff" stroke="#959595" stroke-width="0.75"/>
<circle cx="206.85" cy="497.23" r="1.7" fill="#fff" stroke="#959595" stroke-width="0.75"/>
<circle cx="202.4" cy="501.67" r="1.7" fill="#fff" stroke="#959595" stroke-width="0.75"/>
<circle cx="206.85" cy="501.14" r="1.7" fill="#fff" stroke="#959595" stroke-width="0.75"/>
<circle cx="202.4" cy="504.33" r="1.7" fill="#fff" stroke="#959595" stroke-width="0.75"/>
<circle cx="206.85" cy="505.22" r="1.7" fill="#fff" stroke="#959595" stroke-width="0.75"/>
<circle cx="210.4" cy="506.11" r="1.7" fill="#fff" stroke="#959595" stroke-width="0.75"/>
<circle cx="204.18" cy="512.33" r="1.7" fill="#fff" stroke="#959595" stroke-width="0.75"/>
<circle cx="198.85" cy="514.1" r="1.7" fill="#fff" stroke="#959595" stroke-width="0.75"/>
<circle cx="210.4" cy="514.1" r="1.7" fill="#fff" stroke="#959595" stroke-width="0.75"/>
<circle cx="195.3" cy="516.77" r="1.7" fill="#fff" stroke="#959595" stroke-width="0.75"/>
<circle cx="200.63" cy="516.77" r="1.7" fill="#fff" stroke="#959595" stroke-width="0.75"/>
<circle cx="204.18" cy="515.88" r="1.7" fill="#fff" stroke="#959595" stroke-width="0.75"/>
<circle cx="207.73" cy="515.88" r="1.7" fill="#fff" stroke="#959595" stroke-width="0.75"/>
<circle cx="214.84" cy="517.66" r="1.7" fill="#fff" stroke="#959595" stroke-width="0.75"/>
<circle cx="201.52" cy="520.32" r="1.7" fill="#fff" stroke="#959595" stroke-width="0.75"/>
<circle cx="206.85" cy="520.32" r="1.7" fill="#fff" stroke="#959595" stroke-width="0.75"/>
<circle cx="211.29" cy="521.21" r="1.7" fill="#fff" stroke="#959595" stroke-width="0.75"/>
<circle cx="202.4" cy="523.87" r="1.7" fill="#fff" stroke="#959595" stroke-width="0.75"/>
<circle cx="206.85" cy="523.87" r="1.7" fill="#fff" stroke="#959595" stroke-width="0.75"/>
<circle cx="202.4" cy="527.42" r="1.7" fill="#fff" stroke="#959595" stroke-width="0.75"/>
<circle cx="206.85" cy="527.42" r="1.7" fill="#fff" stroke="#959595" stroke-width="0.75"/>
<circle cx="198.85" cy="538.08" r="1.7" fill="#fff" stroke="#959595" stroke-width="0.75"/>
<circle cx="210.4" cy="536.31" r="1.7" fill="#fff" stroke="#959595" stroke-width="0.75"/>
<circle cx="205.07" cy="537.19" r="1.7" fill="#fff" stroke="#959595" stroke-width="0.75"/>
<line x1="104.7" y1="491" x2="104.7" y2="499.9" stroke="#000" stroke-width="1.8"/>
<line x1="99.7" y1="491" x2="109.7" y2="491" stroke="#000" stroke-width="1.8"/>
<line x1="99.7" y1="499.9" x2="109.7" y2="499.9" stroke="#000" stroke-width="1.8"/>
<line x1="132.5" y1="485.7" x2="132.5" y2="494.6" stroke="#e8212b" stroke-width="1.8"/>
<line x1="127.5" y1="485.7" x2="137.5" y2="485.7" stroke="#e8212b" stroke-width="1.8"/>
<line x1="127.5" y1="494.6" x2="137.5" y2="494.6" stroke="#e8212b" stroke-width="1.8"/>
<line x1="177.3" y1="488" x2="177.3" y2="497.8" stroke="#000" stroke-width="1.8"/>
<line x1="172.3" y1="488" x2="182.3" y2="488" stroke="#000" stroke-width="1.8"/>
<line x1="172.3" y1="497.8" x2="182.3" y2="497.8" stroke="#000" stroke-width="1.8"/>
<line x1="205" y1="507" x2="205" y2="513.6" stroke="#e8212b" stroke-width="1.8"/>
<line x1="200" y1="507" x2="210" y2="507" stroke="#e8212b" stroke-width="1.8"/>
<line x1="200" y1="513.6" x2="210" y2="513.6" stroke="#e8212b" stroke-width="1.8"/>
<text x="104.9" y="539" font-size="8" text-anchor="middle" font-weight="normal" font-style="normal" fill="#5b3f99">38</text>
<text x="132" y="539" font-size="8" text-anchor="middle" font-weight="normal" font-style="normal" fill="#5b3f99">24</text>
<text x="176.1" y="539" font-size="8" text-anchor="middle" font-weight="normal" font-style="normal" fill="#5b3f99">38</text>
<text x="205" y="539" font-size="8" text-anchor="middle" font-weight="normal" font-style="normal" fill="#5b3f99">32</text>
<line x1="82.3" y1="394.5" x2="82.3" y2="542.65" stroke="#000" stroke-width="1.5"/>
<line x1="81.55" y1="541.9" x2="228.3" y2="541.9" stroke="#000" stroke-width="1.5"/>
<line x1="76.8" y1="541.9" x2="82.3" y2="541.9" stroke="#000" stroke-width="1.5"/>
<text x="74.8" y="545.1" font-size="9" text-anchor="end" font-weight="normal" font-style="normal" fill="#000">0</text>
<line x1="76.8" y1="492.77" x2="82.3" y2="492.77" stroke="#000" stroke-width="1.5"/>
<text x="74.8" y="495.97" font-size="9" text-anchor="end" font-weight="normal" font-style="normal" fill="#000">200</text>
<line x1="76.8" y1="443.63" x2="82.3" y2="443.63" stroke="#000" stroke-width="1.5"/>
<text x="74.8" y="446.83" font-size="9" text-anchor="end" font-weight="normal" font-style="normal" fill="#000">400</text>
<line x1="76.8" y1="394.5" x2="82.3" y2="394.5" stroke="#000" stroke-width="1.5"/>
<text x="74.8" y="397.7" font-size="9" text-anchor="end" font-weight="normal" font-style="normal" fill="#000">600</text>
<text x="52" y="462.3" font-size="10.3" text-anchor="middle" font-weight="normal" font-style="normal" fill="#000" transform="rotate(-90 52 462.3)">Maximum GCaMP5 (ΔF/F<tspan font-size="70%" dy="2">0</tspan><tspan dy="-2">, %)</tspan></text>
<text x="106" y="408.4" font-size="8.5" text-anchor="start" font-weight="normal" font-style="normal" fill="#000">ns</text>
<text x="119.1" y="408.4" font-size="8.1" text-anchor="start"><tspan font-style="italic">p</tspan>=0.5921</text>
<line x1="104.9" y1="411.6" x2="133" y2="411.6" stroke="#000" stroke-width="1.1"/>
<polygon points="176.60,410.45 177.28,412.52 179.41,412.07 177.97,413.70 179.41,415.32 177.28,414.88 176.60,416.95 175.92,414.88 173.79,415.32 175.23,413.70 173.79,412.07 175.92,412.52" fill="#000" stroke="#000" stroke-width="0.5" stroke-linejoin="round"/>
<polygon points="184.20,410.45 184.88,412.52 187.01,412.07 185.56,413.70 187.01,415.32 184.88,414.88 184.20,416.95 183.52,414.88 181.39,415.32 182.83,413.70 181.39,412.07 183.52,412.52" fill="#000" stroke="#000" stroke-width="0.5" stroke-linejoin="round"/>
<text x="191.7" y="415.5" font-size="8.1" text-anchor="start"><tspan font-style="italic">p</tspan>=0.0060</text>
<line x1="177.2" y1="420.5" x2="205" y2="420.5" stroke="#3a3333" stroke-width="1.2"/>
<text x="29.5" y="551.3" font-size="10.1" text-anchor="start" font-weight="normal" font-style="normal" fill="#2b3990">Histamine</text>
<text x="104.9" y="551" font-size="10" text-anchor="middle" font-weight="normal" font-style="normal" fill="#000">-</text>
<text x="131.5" y="551.5" font-size="11" text-anchor="middle" font-weight="bold" font-style="normal" fill="#000">+</text>
<text x="176.6" y="551" font-size="10" text-anchor="middle" font-weight="normal" font-style="normal" fill="#000">-</text>
<text x="205.6" y="551.5" font-size="11" text-anchor="middle" font-weight="bold" font-style="normal" fill="#000">+</text>
<line x1="93.3" y1="554" x2="137" y2="554" stroke="#000" stroke-width="1"/>
<line x1="169.9" y1="554" x2="213.6" y2="554" stroke="#000" stroke-width="1"/>
<text x="115.8" y="564" font-size="9" text-anchor="middle" font-weight="normal" font-style="normal" fill="#000">WT</text>
<text x="159.9" y="565.4" font-size="10.2" text-anchor="start" font-weight="normal" font-style="italic" fill="#000">Pvap-1::HisCl1</text>
<text x="236.8" y="396.8" font-size="18" text-anchor="start" font-weight="normal" font-style="normal" fill="#000">h</text>
<path d="M281.4,408.5 L295.9,408.5 L297.2,401.5 L436.6,401.5" stroke="#3d3434" stroke-width="1.4" fill="none"/>
<text x="272" y="406.9" font-size="8.2" text-anchor="start" font-weight="normal" font-style="normal" fill="#000">15 °C</text>
<text x="374.4" y="399.2" font-size="8.2" text-anchor="middle" font-weight="normal" font-style="normal" fill="#000">28 °C</text>
<path d="M280.5,536.0 281.3,535.9 282.1,535.9 282.9,535.8 283.7,535.7 284.5,535.6 285.3,535.5 286.1,535.4 286.9,535.4 287.7,535.3 288.5,535.2 289.3,535.2 290.1,535.1 290.9,535.1 291.7,535.1 292.5,535.1 293.3,535.1 294.1,535.2 294.9,535.2 295.7,535.2 296.5,535.3 297.3,535.4 298.1,535.5 298.9,535.0 299.7,528.5 300.5,517.4 301.3,505.0 302.1,494.8 302.9,486.2 303.7,477.9 304.5,470.3 305.3,463.8 306.1,457.8 306.9,452.7 307.8,449.6 308.6,447.8 309.4,446.6 310.2,446.5 311.0,446.7 311.8,447.3 312.6,448.2 313.4,449.3 314.2,450.5 315.0,451.8 315.8,453.0 316.6,454.2 317.4,455.3 318.2,456.4 319.0,457.7 319.8,458.9 320.6,460.2 321.4,461.3 322.2,462.4 323.0,463.5 323.8,464.6 324.6,465.7 325.4,466.8 326.2,467.8 327.0,468.9 327.8,469.8 328.6,470.8 329.4,471.7 330.2,472.6 331.0,473.4 331.8,474.2 332.6,474.9 333.4,475.7 334.2,476.4 335.0,477.1 335.8,477.8 336.6,478.5 337.4,479.2 338.2,480.0 339.0,480.7 339.8,481.4 340.6,482.1 341.4,482.8 342.2,483.4 343.0,484.1 343.8,484.8 344.6,485.5 345.4,486.1 346.2,486.8 347.0,487.5 347.8,488.2 348.6,489.0 349.4,489.7 350.2,490.5 351.0,491.3 351.8,492.1 352.6,492.9 353.4,493.8 354.2,494.6 355.0,495.4 355.8,496.2 356.6,496.9 357.4,497.6 358.2,498.3 359.0,498.9 359.8,499.4 360.7,499.9 361.5,500.4 362.3,500.9 363.1,501.4 363.9,501.8 364.7,502.2 365.5,502.6 366.3,503.0 367.1,503.4 367.9,503.8 368.7,504.1 369.5,504.5 370.3,504.8 371.1,505.1 371.9,505.4 372.7,505.7 373.5,506.0 374.3,506.2 375.1,506.5 375.9,506.7 376.7,507.0 377.5,507.2 378.3,507.5 379.1,507.7 379.9,507.9 380.7,508.1 381.5,508.3 382.3,508.5 383.1,508.7 383.9,508.9 384.7,509.0 385.5,509.2 386.3,509.4 387.1,509.5 387.9,509.7 388.7,509.9 389.5,510.0 390.3,510.2 391.1,510.4 391.9,510.6 392.7,510.8 393.5,511.0 394.3,511.2 395.1,511.4 395.9,511.6 396.7,511.8 397.5,512.0 398.3,512.2 399.1,512.4 399.9,512.6 400.7,512.9 401.5,513.1 402.3,513.3 403.1,513.5 403.9,513.7 404.7,513.9 405.5,514.1 406.3,514.3 407.1,514.6 407.9,514.8 408.7,515.0 409.5,515.2 410.3,515.5 411.1,515.7 411.9,516.0 412.7,516.3 413.6,516.5 414.4,516.9 415.2,517.2 416.0,517.5 416.8,517.9 417.6,518.2 418.4,518.6 419.2,519.0 420.0,519.3 420.8,519.7 421.6,520.0 422.4,520.3 423.2,520.6 424.0,520.9 424.8,521.2 425.6,521.5 426.4,521.8 427.2,522.1 428.0,522.4 428.8,522.7 429.6,523.0 430.4,523.3 431.2,523.6 432.0,523.8 432.8,524.1 433.6,524.4 434.4,524.6 435.2,524.9 436.0,525.1 436.8,525.3 437.6,525.5 438.4,525.7 439.2,525.9 440.0,526.1 440.0,531.7 439.2,531.5 438.4,531.3 437.6,531.2 436.8,531.0 436.0,530.8 435.2,530.6 434.4,530.4 433.6,530.2 432.8,529.9 432.0,529.7 431.2,529.5 430.4,529.2 429.6,529.0 428.8,528.7 428.0,528.5 427.2,528.2 426.4,527.9 425.6,527.7 424.8,527.4 424.0,527.1 423.2,526.8 422.4,526.5 421.6,526.3 420.8,525.9 420.0,525.6 419.2,525.3 418.4,525.0 417.6,524.6 416.8,524.3 416.0,524.0 415.2,523.7 414.4,523.4 413.6,523.1 412.7,522.8 411.9,522.6 411.1,522.4 410.3,522.1 409.5,521.9 408.7,521.7 407.9,521.5 407.1,521.3 406.3,521.2 405.5,521.0 404.7,520.8 403.9,520.6 403.1,520.4 402.3,520.3 401.5,520.1 400.7,519.9 399.9,519.7 399.1,519.5 398.3,519.3 397.5,519.2 396.7,519.0 395.9,518.8 395.1,518.6 394.3,518.5 393.5,518.3 392.7,518.1 391.9,518.0 391.1,517.8 390.3,517.6 389.5,517.5 388.7,517.4 387.9,517.2 387.1,517.1 386.3,517.0 385.5,516.8 384.7,516.7 383.9,516.6 383.1,516.4 382.3,516.3 381.5,516.1 380.7,515.9 379.9,515.8 379.1,515.6 378.3,515.4 377.5,515.2 376.7,515.0 375.9,514.8 375.1,514.6 374.3,514.4 373.5,514.1 372.7,513.9 371.9,513.6 371.1,513.4 370.3,513.1 369.5,512.8 368.7,512.5 367.9,512.2 367.1,511.9 366.3,511.6 365.5,511.2 364.7,510.9 363.9,510.5 363.1,510.1 362.3,509.7 361.5,509.2 360.7,508.8 359.8,508.3 359.0,507.8 358.2,507.3 357.4,506.7 356.6,506.1 355.8,505.4 355.0,504.7 354.2,503.9 353.4,503.2 352.6,502.4 351.8,501.7 351.0,501.0 350.2,500.2 349.4,499.5 348.6,498.9 347.8,498.3 347.0,497.7 346.2,497.1 345.4,496.5 344.6,495.9 343.8,495.3 343.0,494.7 342.2,494.2 341.4,493.6 340.6,493.0 339.8,492.4 339.0,491.8 338.2,491.2 337.4,490.6 336.6,490.0 335.8,489.4 335.0,488.8 334.2,488.1 333.4,487.5 332.6,486.9 331.8,486.2 331.0,485.5 330.2,484.8 329.4,484.0 328.6,483.2 327.8,482.3 327.0,481.4 326.2,480.5 325.4,479.5 324.6,478.5 323.8,477.5 323.0,476.4 322.2,475.4 321.4,474.3 320.6,473.2 319.8,472.0 319.0,470.8 318.2,469.6 317.4,468.5 316.6,467.4 315.8,466.3 315.0,465.1 314.2,463.8 313.4,462.6 312.6,461.6 311.8,460.6 311.0,459.8 310.2,459.1 309.4,458.8 308.6,459.4 307.8,460.7 306.9,463.2 306.1,467.7 305.3,473.2 304.5,479.2 303.7,486.5 302.9,494.5 302.1,502.8 301.3,512.6 300.5,524.7 299.7,535.6 298.9,541.7 298.1,542.0 297.3,541.6 296.5,541.2 295.7,540.9 294.9,540.6 294.1,540.4 293.3,540.1 292.5,539.8 291.7,539.6 290.9,539.3 290.1,539.1 289.3,539.0 288.5,538.8 287.7,538.6 286.9,538.4 286.1,538.3 285.3,538.1 284.5,538.0 283.7,537.8 282.9,537.6 282.1,537.5 281.3,537.3 280.5,537.1Z" stroke="none" stroke-width="1" fill="#cfcfcf" fill-opacity="0.7"/>
<path d="M280.5,536.6 281.3,536.5 282.1,536.3 282.9,536.2 283.7,536.1 284.5,536.0 285.3,535.9 286.1,535.8 286.9,535.6 287.7,535.5 288.5,535.4 289.3,535.3 290.1,535.2 290.9,535.1 291.7,535.1 292.5,535.1 293.3,535.2 294.1,535.2 294.9,535.3 295.7,535.4 296.5,535.4 297.3,535.5 298.1,535.6 298.9,535.2 299.7,529.9 300.5,520.9 301.3,511.2 302.1,503.5 302.9,497.4 303.7,491.6 304.5,486.2 305.3,481.5 306.1,477.6 306.9,474.3 307.8,471.2 308.6,468.6 309.4,466.3 310.2,464.7 311.0,463.3 311.8,462.3 312.6,461.8 313.4,461.9 314.2,462.3 315.0,462.9 315.8,463.8 316.6,464.8 317.4,465.9 318.2,467.1 319.0,468.4 319.8,469.6 320.6,470.8 321.4,471.9 322.2,473.1 323.0,474.3 323.8,475.6 324.6,476.9 325.4,478.3 326.2,479.6 327.0,481.0 327.8,482.3 328.6,483.5 329.4,484.7 330.2,485.8 331.0,486.8 331.8,487.9 332.6,488.9 333.4,489.9 334.2,490.9 335.0,491.9 335.8,492.8 336.6,493.7 337.4,494.6 338.2,495.4 339.0,496.2 339.8,497.0 340.6,497.8 341.4,498.5 342.2,499.2 343.0,499.9 343.8,500.6 344.6,501.3 345.4,502.0 346.2,502.6 347.0,503.3 347.8,504.0 348.6,504.7 349.4,505.4 350.2,506.2 351.0,506.9 351.8,507.7 352.6,508.4 353.4,509.2 354.2,510.0 355.0,510.7 355.8,511.5 356.6,512.2 357.4,512.9 358.2,513.6 359.0,514.3 359.8,514.9 360.7,515.5 361.5,516.0 362.3,516.5 363.1,517.0 363.9,517.3 364.7,517.7 365.5,518.1 366.3,518.4 367.1,518.7 367.9,519.0 368.7,519.3 369.5,519.6 370.3,519.9 371.1,520.1 371.9,520.4 372.7,520.7 373.5,520.9 374.3,521.1 375.1,521.4 375.9,521.6 376.7,521.8 377.5,522.0 378.3,522.3 379.1,522.5 379.9,522.7 380.7,522.9 381.5,523.1 382.3,523.3 383.1,523.6 383.9,523.8 384.7,524.0 385.5,524.3 386.3,524.5 387.1,524.7 387.9,525.0 388.7,525.2 389.5,525.5 390.3,525.7 391.1,526.0 391.9,526.2 392.7,526.5 393.5,526.7 394.3,526.9 395.1,527.2 395.9,527.4 396.7,527.6 397.5,527.8 398.3,528.1 399.1,528.3 399.9,528.5 400.7,528.7 401.5,528.8 402.3,529.0 403.1,529.2 403.9,529.4 404.7,529.5 405.5,529.7 406.3,529.8 407.1,529.9 407.9,530.0 408.7,530.2 409.5,530.3 410.3,530.4 411.1,530.5 411.9,530.6 412.7,530.7 413.6,530.8 414.4,530.9 415.2,531.0 416.0,531.1 416.8,531.2 417.6,531.3 418.4,531.4 419.2,531.4 420.0,531.5 420.8,531.6 421.6,531.7 422.4,531.8 423.2,531.9 424.0,532.0 424.8,532.0 425.6,532.1 426.4,532.2 427.2,532.3 428.0,532.4 428.8,532.5 429.6,532.5 430.4,532.6 431.2,532.7 432.0,532.8 432.8,532.8 433.6,532.9 434.4,533.0 435.2,533.1 436.0,533.1 436.8,533.2 437.6,533.3 438.4,533.4 439.2,533.4 440.0,533.5 440.0,539.1 439.2,539.0 438.4,539.0 437.6,538.9 436.8,538.9 436.0,538.9 435.2,538.8 434.4,538.8 433.6,538.7 432.8,538.7 432.0,538.6 431.2,538.6 430.4,538.5 429.6,538.5 428.8,538.4 428.0,538.4 427.2,538.3 426.4,538.3 425.6,538.2 424.8,538.2 424.0,538.1 423.2,538.1 422.4,538.0 421.6,537.9 420.8,537.9 420.0,537.8 419.2,537.8 418.4,537.7 417.6,537.6 416.8,537.6 416.0,537.5 415.2,537.5 414.4,537.4 413.6,537.3 412.7,537.2 411.9,537.2 411.1,537.1 410.3,537.0 409.5,536.9 408.7,536.8 407.9,536.7 407.1,536.6 406.3,536.5 405.5,536.4 404.7,536.3 403.9,536.2 403.1,536.1 402.3,535.9 401.5,535.8 400.7,535.6 399.9,535.4 399.1,535.3 398.3,535.1 397.5,534.9 396.7,534.7 395.9,534.5 395.1,534.3 394.3,534.1 393.5,533.9 392.7,533.7 391.9,533.5 391.1,533.3 390.3,533.1 389.5,532.8 388.7,532.6 387.9,532.4 387.1,532.2 386.3,532.0 385.5,531.8 384.7,531.6 383.9,531.4 383.1,531.2 382.3,531.0 381.5,530.8 380.7,530.7 379.9,530.5 379.1,530.3 378.3,530.1 377.5,529.9 376.7,529.8 375.9,529.6 375.1,529.4 374.3,529.2 373.5,529.0 372.7,528.8 371.9,528.6 371.1,528.4 370.3,528.2 369.5,527.9 368.7,527.7 367.9,527.4 367.1,527.2 366.3,526.9 365.5,526.6 364.7,526.3 363.9,526.0 363.1,525.7 362.3,525.3 361.5,524.8 360.7,524.3 359.8,523.8 359.0,523.3 358.2,522.7 357.4,522.1 356.6,521.4 355.8,520.8 355.0,520.1 354.2,519.5 353.4,518.8 352.6,518.1 351.8,517.5 351.0,516.8 350.2,516.2 349.4,515.6 348.6,515.0 347.8,514.5 347.0,513.9 346.2,513.4 345.4,512.9 344.6,512.3 343.8,511.8 343.0,511.2 342.2,510.7 341.4,510.1 340.6,509.6 339.8,508.9 339.0,508.3 338.2,507.7 337.4,507.0 336.6,506.3 335.8,505.5 335.0,504.7 334.2,503.9 333.4,503.1 332.6,502.2 331.8,501.4 331.0,500.5 330.2,499.5 329.4,498.6 328.6,497.5 327.8,496.4 327.0,495.2 326.2,494.0 325.4,492.8 324.6,491.6 323.8,490.4 323.0,489.2 322.2,488.0 321.4,487.0 320.6,485.9 319.8,484.8 319.0,483.7 318.2,482.5 317.4,481.3 316.6,480.2 315.8,479.3 315.0,478.4 314.2,477.8 313.4,477.5 312.6,477.4 311.8,477.7 311.0,478.4 310.2,479.2 309.4,480.1 308.6,481.4 307.8,483.2 306.9,485.4 306.1,487.9 305.3,491.0 304.5,495.1 303.7,500.1 302.9,505.6 302.1,511.3 301.3,518.6 300.5,528.1 299.7,536.7 298.9,541.7 298.1,541.9 297.3,541.5 296.5,541.1 295.7,540.8 294.9,540.5 294.1,540.2 293.3,539.9 292.5,539.6 291.7,539.4 290.9,539.2 290.1,539.0 289.3,538.9 288.5,538.8 287.7,538.7 286.9,538.6 286.1,538.5 285.3,538.4 284.5,538.3 283.7,538.2 282.9,538.1 282.1,537.9 281.3,537.8 280.5,537.7Z" stroke="none" stroke-width="1" fill="#e8d0ec" fill-opacity="0.6"/>
<path d="M280.5,536.6 281.3,536.4 282.1,536.3 282.9,536.2 283.7,536.1 284.5,535.9 285.3,535.8 286.1,535.7 286.9,535.5 287.7,535.4 288.5,535.2 289.3,535.1 290.1,535.0 290.9,534.9 291.7,534.8 292.5,534.8 293.3,534.8 294.1,534.9 294.9,534.9 295.7,535.0 296.5,535.1 297.3,535.2 298.1,535.3 298.9,534.5 299.7,525.6 300.5,511.8 301.3,500.3 302.1,491.2 302.9,482.4 303.7,475.0 304.5,469.8 305.3,465.7 306.1,462.0 306.9,458.9 307.8,456.8 308.6,456.0 309.4,456.0 310.2,456.3 311.0,456.8 311.8,457.5 312.6,458.4 313.4,459.3 314.2,460.4 315.0,461.5 315.8,462.6 316.6,463.7 317.4,464.8 318.2,466.0 319.0,467.3 319.8,468.7 320.6,470.2 321.4,471.8 322.2,473.4 323.0,474.9 323.8,476.5 324.6,477.9 325.4,479.3 326.2,480.6 327.0,482.0 327.8,483.3 328.6,484.6 329.4,485.9 330.2,487.2 331.0,488.4 331.8,489.6 332.6,490.7 333.4,491.8 334.2,492.9 335.0,493.8 335.8,494.8 336.6,495.7 337.4,496.6 338.2,497.5 339.0,498.3 339.8,499.1 340.6,499.9 341.4,500.6 342.2,501.4 343.0,502.1 343.8,502.8 344.6,503.5 345.4,504.1 346.2,504.8 347.0,505.4 347.8,506.0 348.6,506.6 349.4,507.2 350.2,507.7 351.0,508.3 351.8,508.8 352.6,509.3 353.4,509.8 354.2,510.3 355.0,510.8 355.8,511.2 356.6,511.7 357.4,512.1 358.2,512.6 359.0,513.0 359.8,513.4 360.7,513.8 361.5,514.1 362.3,514.5 363.1,514.8 363.9,515.1 364.7,515.5 365.5,515.8 366.3,516.1 367.1,516.3 367.9,516.6 368.7,516.9 369.5,517.1 370.3,517.4 371.1,517.7 371.9,517.9 372.7,518.1 373.5,518.4 374.3,518.6 375.1,518.9 375.9,519.1 376.7,519.3 377.5,519.6 378.3,519.8 379.1,520.0 379.9,520.3 380.7,520.5 381.5,520.8 382.3,521.0 383.1,521.3 383.9,521.5 384.7,521.7 385.5,522.0 386.3,522.2 387.1,522.5 387.9,522.7 388.7,522.9 389.5,523.2 390.3,523.4 391.1,523.6 391.9,523.8 392.7,524.1 393.5,524.3 394.3,524.5 395.1,524.7 395.9,525.0 396.7,525.2 397.5,525.4 398.3,525.6 399.1,525.8 399.9,526.0 400.7,526.3 401.5,526.5 402.3,526.7 403.1,526.9 403.9,527.1 404.7,527.3 405.5,527.5 406.3,527.7 407.1,527.9 407.9,528.1 408.7,528.3 409.5,528.5 410.3,528.7 411.1,528.9 411.9,529.1 412.7,529.3 413.6,529.5 414.4,529.7 415.2,529.9 416.0,530.0 416.8,530.2 417.6,530.4 418.4,530.6 419.2,530.8 420.0,531.0 420.8,531.1 421.6,531.3 422.4,531.5 423.2,531.7 424.0,531.8 424.8,532.0 425.6,532.2 426.4,532.3 427.2,532.5 428.0,532.6 428.8,532.8 429.6,532.9 430.4,533.1 431.2,533.2 432.0,533.3 432.8,533.5 433.6,533.6 434.4,533.7 435.2,533.8 436.0,534.0 436.8,534.1 437.6,534.2 438.4,534.4 439.2,534.5 440.0,534.6 440.0,540.2 439.2,540.1 438.4,539.9 437.6,539.8 436.8,539.7 436.0,539.6 435.2,539.5 434.4,539.3 433.6,539.2 432.8,539.1 432.0,539.0 431.2,538.9 430.4,538.7 429.6,538.6 428.8,538.5 428.0,538.3 427.2,538.2 426.4,538.0 425.6,537.9 424.8,537.7 424.0,537.6 423.2,537.4 422.4,537.3 421.6,537.1 420.8,536.9 420.0,536.8 419.2,536.6 418.4,536.4 417.6,536.2 416.8,536.1 416.0,535.9 415.2,535.7 414.4,535.5 413.6,535.3 412.7,535.1 411.9,535.0 411.1,534.8 410.3,534.6 409.5,534.4 408.7,534.2 407.9,534.0 407.1,533.8 406.3,533.6 405.5,533.4 404.7,533.2 403.9,533.0 403.1,532.8 402.3,532.6 401.5,532.4 400.7,532.2 399.9,532.0 399.1,531.8 398.3,531.6 397.5,531.4 396.7,531.2 395.9,531.0 395.1,530.8 394.3,530.6 393.5,530.4 392.7,530.1 391.9,529.9 391.1,529.7 390.3,529.5 389.5,529.3 388.7,529.1 387.9,528.8 387.1,528.6 386.3,528.4 385.5,528.2 384.7,527.9 383.9,527.7 383.1,527.5 382.3,527.2 381.5,527.0 380.7,526.8 379.9,526.5 379.1,526.3 378.3,526.1 377.5,525.9 376.7,525.7 375.9,525.4 375.1,525.2 374.3,525.0 373.5,524.8 372.7,524.5 371.9,524.3 371.1,524.1 370.3,523.8 369.5,523.6 368.7,523.4 367.9,523.1 367.1,522.8 366.3,522.6 365.5,522.3 364.7,522.0 363.9,521.7 363.1,521.4 362.3,521.1 361.5,520.8 360.7,520.4 359.8,520.1 359.0,519.7 358.2,519.3 357.4,518.9 356.6,518.5 355.8,518.1 355.0,517.7 354.2,517.3 353.4,516.8 352.6,516.4 351.8,516.0 351.0,515.5 350.2,515.1 349.4,514.6 348.6,514.1 347.8,513.6 347.0,513.1 346.2,512.5 345.4,512.0 344.6,511.4 343.8,510.8 343.0,510.2 342.2,509.6 341.4,509.0 340.6,508.4 339.8,507.7 339.0,507.0 338.2,506.3 337.4,505.5 336.6,504.7 335.8,503.9 335.0,503.1 334.2,502.2 333.4,501.3 332.6,500.3 331.8,499.2 331.0,498.1 330.2,497.0 329.4,495.8 328.6,494.6 327.8,493.4 327.0,492.2 326.2,490.9 325.4,489.7 324.6,488.4 323.8,487.0 323.0,485.5 322.2,484.0 321.4,482.5 320.6,481.0 319.8,479.6 319.0,478.2 318.2,476.9 317.4,475.8 316.6,474.7 315.8,473.7 315.0,472.6 314.2,471.5 313.4,470.5 312.6,469.5 311.8,468.6 311.0,467.8 310.2,467.1 309.4,466.6 308.6,466.4 307.8,466.9 306.9,468.7 306.1,471.4 305.3,474.9 304.5,478.8 303.7,483.7 302.9,490.9 302.1,499.4 301.3,508.3 300.5,519.5 299.7,533.0 298.9,541.7 298.1,542.2 297.3,541.8 296.5,541.5 295.7,541.2 294.9,540.8 294.1,540.5 293.3,540.2 292.5,539.9 291.7,539.7 290.9,539.5 290.1,539.3 289.3,539.2 288.5,539.0 287.7,538.9 286.9,538.7 286.1,538.6 285.3,538.5 284.5,538.3 283.7,538.2 282.9,538.1 282.1,538.0 281.3,537.8 280.5,537.7Z" stroke="none" stroke-width="1" fill="#d6e4f6" fill-opacity="0.6"/>
<path d="M280.5,536.6 281.3,536.4 282.1,536.3 282.9,536.2 283.7,536.1 284.5,536.0 285.3,535.8 286.1,535.7 286.9,535.6 287.7,535.5 288.5,535.4 289.3,535.3 290.1,535.1 290.9,535.1 291.7,535.0 292.5,535.0 293.3,535.1 294.1,535.1 294.9,535.2 295.7,535.2 296.5,535.3 297.3,535.4 298.1,535.5 298.9,535.2 299.7,531.3 300.5,524.7 301.3,517.6 302.1,512.0 302.9,507.6 303.7,503.5 304.5,499.7 305.3,496.3 306.1,493.5 306.9,491.0 307.8,488.6 308.6,486.6 309.4,485.0 310.2,484.0 311.0,483.4 311.8,482.8 312.6,482.5 313.4,482.2 314.2,482.1 315.0,482.1 315.8,482.2 316.6,482.6 317.4,483.1 318.2,483.7 319.0,484.4 319.8,485.2 320.6,486.0 321.4,486.7 322.2,487.6 323.0,488.6 323.8,489.6 324.6,490.8 325.4,492.0 326.2,493.2 327.0,494.4 327.8,495.5 328.6,496.6 329.4,497.5 330.2,498.4 331.0,499.1 331.8,499.8 332.6,500.5 333.4,501.2 334.2,501.8 335.0,502.4 335.8,503.1 336.6,503.7 337.4,504.4 338.2,505.1 339.0,505.9 339.8,506.7 340.6,507.5 341.4,508.4 342.2,509.2 343.0,510.1 343.8,510.9 344.6,511.8 345.4,512.6 346.2,513.4 347.0,514.1 347.8,514.8 348.6,515.4 349.4,516.0 350.2,516.5 351.0,517.0 351.8,517.5 352.6,518.0 353.4,518.5 354.2,518.9 355.0,519.4 355.8,519.8 356.6,520.2 357.4,520.5 358.2,520.9 359.0,521.2 359.8,521.6 360.7,521.9 361.5,522.2 362.3,522.4 363.1,522.7 363.9,523.0 364.7,523.2 365.5,523.5 366.3,523.7 367.1,523.9 367.9,524.2 368.7,524.4 369.5,524.6 370.3,524.9 371.1,525.1 371.9,525.4 372.7,525.6 373.5,525.9 374.3,526.2 375.1,526.5 375.9,526.8 376.7,527.1 377.5,527.5 378.3,528.0 379.1,528.5 379.9,529.0 380.7,529.5 381.5,529.9 382.3,530.3 383.1,530.7 383.9,531.0 384.7,531.1 385.5,531.2 386.3,531.3 387.1,531.4 387.9,531.5 388.7,531.5 389.5,531.6 390.3,531.6 391.1,531.7 391.9,531.7 392.7,531.8 393.5,531.8 394.3,531.8 395.1,531.9 395.9,531.9 396.7,532.0 397.5,532.0 398.3,532.1 399.1,532.1 399.9,532.2 400.7,532.2 401.5,532.3 402.3,532.4 403.1,532.5 403.9,532.6 404.7,532.7 405.5,532.9 406.3,533.0 407.1,533.1 407.9,533.3 408.7,533.5 409.5,533.6 410.3,533.8 411.1,534.0 411.9,534.1 412.7,534.3 413.6,534.5 414.4,534.7 415.2,534.8 416.0,535.0 416.8,535.2 417.6,535.3 418.4,535.5 419.2,535.6 420.0,535.8 420.8,536.0 421.6,536.1 422.4,536.3 423.2,536.4 424.0,536.6 424.8,536.8 425.6,536.9 426.4,537.1 427.2,537.3 428.0,537.4 428.8,537.6 429.6,537.8 430.4,537.9 431.2,538.1 432.0,538.3 432.8,538.4 433.6,538.6 434.4,538.8 435.2,538.9 436.0,539.1 436.8,539.2 437.6,539.4 438.4,539.6 439.2,539.7 440.0,539.9 440.0,545.5 439.2,545.3 438.4,545.2 437.6,545.0 436.8,544.8 436.0,544.7 435.2,544.5 434.4,544.4 433.6,544.2 432.8,544.1 432.0,543.9 431.2,543.8 430.4,543.6 429.6,543.4 428.8,543.3 428.0,543.1 427.2,543.0 426.4,542.8 425.6,542.7 424.8,542.5 424.0,542.4 423.2,542.2 422.4,542.0 421.6,541.9 420.8,541.7 420.0,541.6 419.2,541.4 418.4,541.3 417.6,541.1 416.8,541.0 416.0,540.8 415.2,540.7 414.4,540.5 413.6,540.3 412.7,540.2 411.9,540.0 411.1,539.8 410.3,539.7 409.5,539.5 408.7,539.3 407.9,539.2 407.1,539.1 406.3,538.9 405.5,538.8 404.7,538.7 403.9,538.6 403.1,538.4 402.3,538.4 401.5,538.3 400.7,538.2 399.9,538.2 399.1,538.1 398.3,538.1 397.5,538.0 396.7,538.0 395.9,537.9 395.1,537.9 394.3,537.9 393.5,537.9 392.7,537.8 391.9,537.8 391.1,537.8 390.3,537.7 389.5,537.7 388.7,537.6 387.9,537.6 387.1,537.5 386.3,537.4 385.5,537.4 384.7,537.3 383.9,537.1 383.1,536.9 382.3,536.5 381.5,536.1 380.7,535.7 379.9,535.2 379.1,534.7 378.3,534.2 377.5,533.8 376.7,533.4 375.9,533.1 375.1,532.8 374.3,532.5 373.5,532.2 372.7,532.0 371.9,531.8 371.1,531.5 370.3,531.3 369.5,531.1 368.7,530.9 367.9,530.6 367.1,530.4 366.3,530.2 365.5,530.0 364.7,529.8 363.9,529.5 363.1,529.3 362.3,529.1 361.5,528.8 360.7,528.5 359.8,528.2 359.0,527.9 358.2,527.6 357.4,527.3 356.6,527.0 355.8,526.7 355.0,526.4 354.2,526.0 353.4,525.7 352.6,525.3 351.8,524.9 351.0,524.5 350.2,524.1 349.4,523.7 348.6,523.2 347.8,522.8 347.0,522.2 346.2,521.6 345.4,521.0 344.6,520.3 343.8,519.6 343.0,518.9 342.2,518.2 341.4,517.5 340.6,516.8 339.8,516.2 339.0,515.5 338.2,514.9 337.4,514.4 336.6,513.8 335.8,513.3 335.0,512.9 334.2,512.4 333.4,511.9 332.6,511.4 331.8,510.9 331.0,510.3 330.2,509.7 329.4,509.1 328.6,508.3 327.8,507.3 327.0,506.3 326.2,505.3 325.4,504.2 324.6,503.1 323.8,502.1 323.0,501.1 322.2,500.2 321.4,499.5 320.6,498.8 319.8,498.1 319.0,497.5 318.2,496.8 317.4,496.2 316.6,495.8 315.8,495.5 315.0,495.3 314.2,495.4 313.4,495.5 312.6,495.8 311.8,496.1 311.0,496.4 310.2,496.7 309.4,497.2 308.6,498.2 307.8,499.7 306.9,501.4 306.1,503.4 305.3,505.7 304.5,508.6 303.7,512.1 302.9,515.9 302.1,520.0 301.3,525.2 300.5,532.0 299.7,538.3 298.9,541.9 298.1,542.0 297.3,541.6 296.5,541.2 295.7,540.9 294.9,540.6 294.1,540.3 293.3,540.0 292.5,539.7 291.7,539.5 290.9,539.3 290.1,539.1 289.3,539.0 288.5,538.9 287.7,538.8 286.9,538.7 286.1,538.5 285.3,538.4 284.5,538.3 283.7,538.2 282.9,538.1 282.1,537.9 281.3,537.8 280.5,537.7Z" stroke="none" stroke-width="1" fill="#d4d4f4" fill-opacity="0.6"/>
<path d="M280.5,536.6 281.3,536.4 282.1,536.3 282.9,536.2 283.7,536.1 284.5,535.9 285.3,535.8 286.1,535.7 286.9,535.5 287.7,535.4 288.5,535.2 289.3,535.1 290.1,535.0 290.9,534.9 291.7,534.8 292.5,534.8 293.3,534.8 294.1,534.9 294.9,534.9 295.7,535.0 296.5,535.1 297.3,535.2 298.1,535.3 298.9,534.7 299.7,528.0 300.5,517.7 301.3,508.9 302.1,501.5 302.9,494.8 303.7,490.8 304.5,488.4 305.3,487.3 306.1,487.4 306.9,487.7 307.8,488.2 308.6,489.0 309.4,489.8 310.2,490.8 311.0,491.7 311.8,492.7 312.6,493.6 313.4,494.4 314.2,495.2 315.0,496.1 315.8,496.9 316.6,497.8 317.4,498.6 318.2,499.5 319.0,500.3 319.8,501.0 320.6,501.8 321.4,502.5 322.2,503.2 323.0,503.8 323.8,504.5 324.6,505.1 325.4,505.7 326.2,506.4 327.0,507.0 327.8,507.5 328.6,508.1 329.4,508.7 330.2,509.2 331.0,509.7 331.8,510.3 332.6,510.8 333.4,511.3 334.2,511.8 335.0,512.3 335.8,512.8 336.6,513.3 337.4,513.7 338.2,514.2 339.0,514.6 339.8,515.0 340.6,515.5 341.4,515.9 342.2,516.2 343.0,516.6 343.8,517.0 344.6,517.3 345.4,517.7 346.2,518.0 347.0,518.3 347.8,518.6 348.6,519.0 349.4,519.3 350.2,519.6 351.0,519.8 351.8,520.1 352.6,520.4 353.4,520.7 354.2,521.0 355.0,521.2 355.8,521.5 356.6,521.8 357.4,522.1 358.2,522.3 359.0,522.6 359.8,522.9 360.7,523.1 361.5,523.4 362.3,523.7 363.1,523.9 363.9,524.1 364.7,524.4 365.5,524.6 366.3,524.8 367.1,525.0 367.9,525.2 368.7,525.4 369.5,525.6 370.3,525.8 371.1,525.9 371.9,526.1 372.7,526.2 373.5,526.4 374.3,526.5 375.1,526.7 375.9,526.8 376.7,526.9 377.5,527.1 378.3,527.2 379.1,527.3 379.9,527.4 380.7,527.5 381.5,527.6 382.3,527.7 383.1,527.8 383.9,527.9 384.7,527.9 385.5,528.0 386.3,528.1 387.1,528.1 387.9,528.2 388.7,528.2 389.5,528.3 390.3,528.3 391.1,528.4 391.9,528.4 392.7,528.5 393.5,528.5 394.3,528.5 395.1,528.6 395.9,528.6 396.7,528.7 397.5,528.7 398.3,528.7 399.1,528.8 399.9,528.8 400.7,528.8 401.5,528.9 402.3,528.9 403.1,529.0 403.9,529.0 404.7,529.1 405.5,529.1 406.3,529.1 407.1,529.2 407.9,529.3 408.7,529.3 409.5,529.4 410.3,529.4 411.1,529.5 411.9,529.6 412.7,529.6 413.6,529.7 414.4,529.8 415.2,529.8 416.0,529.9 416.8,530.0 417.6,530.0 418.4,530.1 419.2,530.1 420.0,530.1 420.8,530.2 421.6,530.2 422.4,530.2 423.2,530.2 424.0,530.2 424.8,530.2 425.6,530.1 426.4,530.1 427.2,530.0 428.0,530.0 428.8,529.9 429.6,529.8 430.4,529.7 431.2,529.6 432.0,529.6 432.8,529.5 433.6,529.4 434.4,529.3 435.2,529.2 436.0,529.1 436.8,529.0 437.6,528.9 438.4,528.8 439.2,528.7 440.0,528.6 440.0,534.2 439.2,534.3 438.4,534.4 437.6,534.5 436.8,534.6 436.0,534.7 435.2,534.8 434.4,534.9 433.6,535.0 432.8,535.1 432.0,535.2 431.2,535.3 430.4,535.4 429.6,535.5 428.8,535.6 428.0,535.7 427.2,535.7 426.4,535.8 425.6,535.9 424.8,535.9 424.0,535.9 423.2,536.0 422.4,536.0 421.6,536.0 420.8,535.9 420.0,535.9 419.2,535.9 418.4,535.9 417.6,535.8 416.8,535.8 416.0,535.7 415.2,535.7 414.4,535.6 413.6,535.6 412.7,535.5 411.9,535.4 411.1,535.4 410.3,535.3 409.5,535.3 408.7,535.2 407.9,535.2 407.1,535.1 406.3,535.1 405.5,535.0 404.7,535.0 403.9,535.0 403.1,534.9 402.3,534.9 401.5,534.9 400.7,534.8 399.9,534.8 399.1,534.8 398.3,534.7 397.5,534.7 396.7,534.7 395.9,534.7 395.1,534.6 394.3,534.6 393.5,534.6 392.7,534.5 391.9,534.5 391.1,534.5 390.3,534.4 389.5,534.4 388.7,534.4 387.9,534.3 387.1,534.3 386.3,534.2 385.5,534.2 384.7,534.1 383.9,534.1 383.1,534.0 382.3,533.9 381.5,533.8 380.7,533.8 379.9,533.7 379.1,533.6 378.3,533.5 377.5,533.4 376.7,533.2 375.9,533.1 375.1,533.0 374.3,532.9 373.5,532.7 372.7,532.6 371.9,532.5 371.1,532.3 370.3,532.2 369.5,532.1 368.7,531.9 367.9,531.7 367.1,531.5 366.3,531.4 365.5,531.2 364.7,530.9 363.9,530.7 363.1,530.5 362.3,530.3 361.5,530.0 360.7,529.8 359.8,529.6 359.0,529.3 358.2,529.1 357.4,528.8 356.6,528.6 355.8,528.4 355.0,528.2 354.2,527.9 353.4,527.7 352.6,527.5 351.8,527.3 351.0,527.1 350.2,526.9 349.4,526.7 348.6,526.5 347.8,526.2 347.0,526.0 346.2,525.8 345.4,525.5 344.6,525.3 343.8,525.0 343.0,524.8 342.2,524.5 341.4,524.2 340.6,523.9 339.8,523.6 339.0,523.3 338.2,523.0 337.4,522.6 336.6,522.3 335.8,521.9 335.0,521.5 334.2,521.1 333.4,520.7 332.6,520.3 331.8,519.9 331.0,519.5 330.2,519.0 329.4,518.6 328.6,518.1 327.8,517.6 327.0,517.2 326.2,516.6 325.4,516.1 324.6,515.6 323.8,515.0 323.0,514.4 322.2,513.8 321.4,513.2 320.6,512.6 319.8,511.9 319.0,511.2 318.2,510.4 317.4,509.6 316.6,508.8 315.8,508.0 315.0,507.1 314.2,506.3 313.4,505.5 312.6,504.7 311.8,503.8 311.0,502.7 310.2,501.6 309.4,500.4 308.6,499.3 307.8,498.3 306.9,497.4 306.1,496.8 305.3,496.5 304.5,497.3 303.7,499.4 302.9,503.3 302.1,509.7 301.3,516.9 300.5,525.4 299.7,535.5 298.9,541.9 298.1,542.2 297.3,541.8 296.5,541.5 295.7,541.2 294.9,540.8 294.1,540.5 293.3,540.2 292.5,539.9 291.7,539.7 290.9,539.5 290.1,539.3 289.3,539.2 288.5,539.0 287.7,538.9 286.9,538.7 286.1,538.6 285.3,538.5 284.5,538.3 283.7,538.2 282.9,538.1 282.1,538.0 281.3,537.8 280.5,537.7Z" stroke="none" stroke-width="1" fill="#f6c6c6" fill-opacity="0.5"/>
<line x1="280.5" y1="427.7" x2="280.5" y2="550.3" stroke="#000" stroke-width="1.5"/>
<line x1="280.5" y1="538.8" x2="440" y2="538.8" stroke="#000" stroke-width="1.5"/>
<line x1="320.38" y1="538.8" x2="320.38" y2="543.8" stroke="#000" stroke-width="1.5"/>
<text x="320.38" y="554.6" font-size="9" text-anchor="middle" font-weight="normal" font-style="normal" fill="#000">50</text>
<line x1="360.25" y1="538.8" x2="360.25" y2="543.8" stroke="#000" stroke-width="1.5"/>
<text x="360.25" y="554.6" font-size="9" text-anchor="middle" font-weight="normal" font-style="normal" fill="#000">100</text>
<line x1="400.12" y1="538.8" x2="400.12" y2="543.8" stroke="#000" stroke-width="1.5"/>
<text x="400.12" y="554.6" font-size="9" text-anchor="middle" font-weight="normal" font-style="normal" fill="#000">150</text>
<line x1="440" y1="538.8" x2="440" y2="543.8" stroke="#000" stroke-width="1.5"/>
<text x="440" y="554.6" font-size="9" text-anchor="middle" font-weight="normal" font-style="normal" fill="#000">200</text>
<line x1="276" y1="538.8" x2="280.5" y2="538.8" stroke="#000" stroke-width="1.5"/>
<text x="274.5" y="542" font-size="9" text-anchor="end" font-weight="normal" font-style="normal" fill="#000">0</text>
<line x1="276" y1="511.02" x2="280.5" y2="511.02" stroke="#000" stroke-width="1.5"/>
<text x="274.5" y="514.23" font-size="9" text-anchor="end" font-weight="normal" font-style="normal" fill="#000">50</text>
<line x1="276" y1="483.25" x2="280.5" y2="483.25" stroke="#000" stroke-width="1.5"/>
<text x="274.5" y="486.45" font-size="9" text-anchor="end" font-weight="normal" font-style="normal" fill="#000">100</text>
<line x1="276" y1="455.47" x2="280.5" y2="455.47" stroke="#000" stroke-width="1.5"/>
<text x="274.5" y="458.67" font-size="9" text-anchor="end" font-weight="normal" font-style="normal" fill="#000">150</text>
<line x1="276" y1="427.7" x2="280.5" y2="427.7" stroke="#000" stroke-width="1.5"/>
<text x="274.5" y="430.9" font-size="9" text-anchor="end" font-weight="normal" font-style="normal" fill="#000">200</text>
<text x="360.25" y="565.4" font-size="10.3" text-anchor="middle" font-weight="normal" font-style="normal" fill="#000">Time (s)</text>
<text x="253.5" y="484.75" font-size="10.4" text-anchor="middle" font-weight="normal" font-style="normal" fill="#000" transform="rotate(-90 253.5 484.75)">GCaMP5 (ΔF/F<tspan font-size="70%" dy="2">0</tspan><tspan dy="-2">, %)</tspan></text>
<path d="M280.5,537.0 281.0,537.0 281.6,537.5 282.1,537.5 282.6,537.5 283.2,537.2 283.7,537.2 284.2,537.1 284.8,537.2 285.3,537.3 285.8,537.4 286.4,537.2 286.9,537.0 287.4,537.1 288.0,537.3 288.5,537.3 289.0,537.0 289.6,536.9 290.1,537.0 290.6,537.1 291.2,537.2 291.7,537.1 292.2,537.1 292.8,537.1 293.3,537.3 293.8,537.5 294.4,537.7 294.9,537.9 295.4,538.2 296.0,538.2 296.5,538.4 297.0,538.5 297.6,538.7 298.1,538.8 298.6,538.8 299.2,537.0 299.7,531.9 300.2,525.4 300.8,518.5 301.3,513.3 301.8,508.4 302.4,503.7 302.9,499.4 303.4,496.1 304.0,494.4 304.5,492.9 305.0,492.1 305.6,492.1 306.1,492.4 306.6,492.6 307.2,492.7 307.7,493.0 308.2,493.5 308.8,494.2 309.3,494.9 309.8,495.6 310.4,496.4 310.9,497.1 311.4,497.9 312.0,498.6 312.5,499.1 313.0,499.7 313.6,500.1 314.1,500.6 314.6,501.1 315.2,501.7 315.7,502.4 316.2,503.0 316.8,503.5 317.3,504.2 317.8,504.5 318.4,505.0 318.9,505.5 319.4,505.9 320.0,506.3 320.5,506.8 321.0,507.5 321.6,508.1 322.1,508.8 322.6,509.1 323.2,509.6 323.7,509.7 324.2,510.0 324.8,510.3 325.3,510.9 325.8,511.5 326.4,511.7 326.9,512.1 327.4,512.4 328.0,512.9 328.5,513.2 329.0,513.3 329.6,513.7 330.1,514.0 330.6,514.5 331.2,514.6 331.7,515.1 332.2,515.3 332.8,515.6 333.3,515.7 333.8,516.1 334.4,516.6 334.9,517.1 335.4,517.3 336.0,517.4 336.5,517.6 337.0,517.8 337.6,517.8 338.1,518.1 338.6,518.3 339.2,519.0 339.7,519.5 340.2,519.9 340.8,519.9 341.3,519.9 341.8,520.1 342.4,520.3 342.9,520.5 343.4,520.8 344.0,521.1 344.5,521.4 345.0,521.6 345.6,521.4 346.1,521.8 346.6,522.0 347.2,522.4 347.7,522.5 348.2,522.5 348.8,522.5 349.3,522.8 349.8,523.1 350.4,523.2 350.9,523.4 351.4,523.7 352.0,523.7 352.5,523.7 353.0,523.8 353.6,524.2 354.1,524.5 354.6,524.8 355.2,524.8 355.7,524.9 356.2,524.9 356.8,525.3 357.3,525.6 357.8,525.8 358.4,525.8 358.9,525.9 359.4,526.1 360.0,526.2 360.5,526.3 361.1,526.6 361.6,527.0 362.1,527.2 362.7,527.2 363.2,527.2 363.7,527.2 364.3,527.6 364.8,527.9 365.3,528.1 365.9,528.2 366.4,528.2 366.9,528.4 367.5,528.4 368.0,528.3 368.5,528.2 369.1,528.2 369.6,528.5 370.1,528.7 370.7,529.0 371.2,529.0 371.7,529.2 372.3,529.3 372.8,529.6 373.3,529.6 373.9,529.6 374.4,529.6 374.9,529.9 375.5,530.0 376.0,530.3 376.5,530.0 377.1,530.2 377.6,530.1 378.1,530.3 378.7,530.5 379.2,530.8 379.7,530.8 380.3,530.6 380.8,530.6 381.3,530.7 381.9,531.0 382.4,531.1 382.9,531.3 383.5,531.3 384.0,531.2 384.5,531.1 385.1,530.9 385.6,531.0 386.1,530.9 386.7,531.0 387.2,530.8 387.7,531.0 388.3,531.3 388.8,531.4 389.3,531.4 389.9,531.5 390.4,531.8 390.9,531.8 391.5,531.9 392.0,531.7 392.5,531.5 393.1,531.2 393.6,531.2 394.1,531.6 394.7,531.8 395.2,531.9 395.7,531.6 396.3,531.7 396.8,531.8 397.3,531.9 397.9,532.1 398.4,532.0 398.9,532.0 399.5,531.8 400.0,531.6 400.5,531.9 401.1,531.9 401.6,532.0 402.1,531.8 402.7,531.8 403.2,532.0 403.7,532.0 404.3,532.0 404.8,532.0 405.3,532.2 405.9,532.3 406.4,532.3 406.9,532.1 407.5,532.1 408.0,531.9 408.5,532.0 409.1,532.0 409.6,532.2 410.1,532.5 410.7,532.6 411.2,532.7 411.7,532.6 412.3,532.7 412.8,532.6 413.3,532.7 413.9,532.7 414.4,532.8 414.9,532.7 415.5,532.5 416.0,532.6 416.5,532.8 417.1,533.0 417.6,533.0 418.1,532.8 418.7,532.8 419.2,532.6 419.7,532.6 420.3,532.7 420.8,532.9 421.3,533.1 421.9,533.0 422.4,533.0 422.9,532.9 423.5,532.9 424.0,532.7 424.5,532.7 425.1,532.9 425.6,533.2 426.1,533.1 426.7,532.9 427.2,532.8 427.7,533.0 428.3,533.0 428.8,533.0 429.3,532.9 429.9,532.9 430.4,532.7 430.9,532.5 431.5,532.4 432.0,532.2 432.5,532.2 433.1,532.1 433.6,532.1 434.1,531.9 434.7,531.8 435.2,531.6 435.7,531.8 436.3,531.7 436.8,531.8 437.3,531.7 437.9,532.0 438.4,531.8 438.9,531.8 439.5,531.5 440.0,531.6" stroke="#ee1c24" stroke-width="1.6" fill="none" stroke-linejoin="round"/>
<path d="M280.5,537.2 281.0,537.1 281.6,537.4 282.1,537.2 282.6,537.4 283.2,537.2 283.7,537.3 284.2,537.2 284.8,536.9 285.3,537.0 285.8,536.8 286.4,537.0 286.9,537.1 287.4,537.0 288.0,537.1 288.5,536.9 289.0,537.1 289.6,537.2 290.1,537.2 290.6,537.1 291.2,537.0 291.7,537.1 292.2,537.2 292.8,537.4 293.3,537.8 293.8,538.2 294.4,538.4 294.9,538.5 295.4,538.5 296.0,538.5 296.5,538.4 297.0,538.4 297.6,538.6 298.1,538.8 298.6,538.9 299.2,538.0 299.7,535.2 300.2,531.1 300.8,526.4 301.3,521.8 301.8,517.9 302.4,514.7 302.9,511.8 303.4,509.1 304.0,506.8 304.5,504.4 305.0,501.9 305.6,500.3 306.1,498.6 306.6,497.3 307.2,495.4 307.7,494.3 308.2,492.8 308.8,491.8 309.3,490.8 309.8,490.5 310.4,490.3 310.9,490.0 311.4,489.7 312.0,489.3 312.5,489.0 313.0,488.8 313.6,488.7 314.1,488.6 314.6,488.5 315.2,488.8 315.7,488.9 316.2,489.2 316.8,489.4 317.3,489.9 317.8,490.1 318.4,490.2 318.9,490.9 319.4,491.2 320.0,491.7 320.5,492.0 321.0,492.7 321.6,493.4 322.1,494.0 322.6,494.7 323.2,495.5 323.7,496.1 324.2,496.7 324.8,497.0 325.3,497.9 325.8,498.9 326.4,499.8 326.9,500.5 327.4,501.0 328.0,501.7 328.5,502.5 329.0,503.2 329.6,503.6 330.1,503.9 330.6,504.4 331.2,504.9 331.7,505.5 332.2,505.8 332.8,506.3 333.3,506.7 333.8,507.1 334.4,507.5 334.9,507.7 335.4,508.0 336.0,508.4 336.5,508.9 337.0,509.4 337.6,509.4 338.1,509.8 338.6,510.0 339.2,510.8 339.7,511.1 340.2,511.6 340.8,512.0 341.3,512.7 341.8,513.5 342.4,514.0 342.9,514.6 343.4,515.1 344.0,515.6 344.5,515.8 345.0,516.1 345.6,516.8 346.1,517.5 346.6,517.9 347.2,518.4 347.7,518.9 348.2,519.4 348.8,519.6 349.3,520.0 349.8,520.3 350.4,520.7 350.9,520.6 351.4,520.8 352.0,521.1 352.5,521.4 353.0,521.8 353.6,522.1 354.1,522.5 354.6,522.5 355.2,522.7 355.7,523.3 356.2,523.6 356.8,523.8 357.3,523.7 357.8,524.0 358.4,524.1 358.9,524.3 359.4,524.7 360.0,525.3 360.5,525.5 361.1,525.6 361.6,525.7 362.1,526.0 362.7,526.0 363.2,526.1 363.7,526.1 364.3,526.4 364.8,526.5 365.3,526.7 365.9,527.0 366.4,527.2 366.9,527.6 367.5,527.6 368.0,527.7 368.5,527.5 369.1,527.6 369.6,528.0 370.1,528.2 370.7,528.5 371.2,528.5 371.7,528.7 372.3,528.6 372.8,528.8 373.3,529.1 373.9,529.3 374.4,529.5 374.9,529.7 375.5,530.1 376.0,530.4 376.5,530.4 377.1,530.5 377.6,530.6 378.1,531.1 378.7,531.5 379.2,531.8 379.7,531.8 380.3,532.2 380.8,532.6 381.3,533.1 381.9,533.5 382.4,533.9 382.9,534.2 383.5,534.2 384.0,534.2 384.5,534.3 385.1,534.3 385.6,534.4 386.1,534.6 386.7,534.6 387.2,534.6 387.7,534.4 388.3,534.6 388.8,534.4 389.3,534.7 389.9,534.8 390.4,534.9 390.9,534.6 391.5,534.5 392.0,534.5 392.5,534.5 393.1,534.4 393.6,534.6 394.1,535.0 394.7,535.3 395.2,535.4 395.7,535.1 396.3,535.0 396.8,535.0 397.3,535.1 397.9,535.3 398.4,535.2 398.9,535.3 399.5,535.0 400.0,535.1 400.5,535.1 401.1,535.4 401.6,535.6 402.1,535.6 402.7,535.7 403.2,535.6 403.7,535.6 404.3,535.5 404.8,535.5 405.3,535.4 405.9,535.5 406.4,535.5 406.9,535.9 407.5,536.2 408.0,536.4 408.5,536.6 409.1,536.9 409.6,537.0 410.1,536.9 410.7,536.8 411.2,536.8 411.7,537.0 412.3,537.0 412.8,537.4 413.3,537.4 413.9,537.5 414.4,537.6 414.9,537.9 415.5,538.0 416.0,538.2 416.5,538.4 417.1,538.5 417.6,538.3 418.1,538.5 418.7,538.4 419.2,538.7 419.7,538.7 420.3,538.9 420.8,539.0 421.3,539.0 421.9,539.0 422.4,539.1 422.9,539.4 423.5,539.6 424.0,539.6 424.5,539.5 425.1,539.8 425.6,540.1 426.1,540.0 426.7,539.7 427.2,539.8 427.7,540.1 428.3,540.2 428.8,540.4 429.3,540.5 429.9,540.5 430.4,540.7 430.9,540.6 431.5,541.1 432.0,541.2 432.5,541.6 433.1,541.5 433.6,541.6 434.1,541.6 434.7,541.9 435.2,541.9 435.7,541.8 436.3,541.9 436.8,541.9 437.3,542.2 437.9,542.3 438.4,542.4 438.9,542.4 439.5,542.7 440.0,542.8" stroke="#1515e8" stroke-width="1.6" fill="none" stroke-linejoin="round"/>
<path d="M280.5,537.1 281.0,537.1 281.6,537.0 282.1,537.0 282.6,537.0 283.2,536.9 283.7,536.9 284.2,536.9 284.8,537.0 285.3,537.2 285.8,537.4 286.4,537.2 286.9,537.2 287.4,537.0 288.0,537.1 288.5,537.0 289.0,536.9 289.6,536.9 290.1,536.9 290.6,537.2 291.2,537.2 291.7,537.2 292.2,537.3 292.8,537.4 293.3,537.6 293.8,537.8 294.4,537.9 294.9,537.9 295.4,538.1 296.0,538.1 296.5,538.2 297.0,538.3 297.6,538.5 298.1,538.8 298.6,538.8 299.2,537.4 299.7,533.7 300.2,528.2 300.8,521.8 301.3,515.4 301.8,509.8 302.4,505.7 302.9,501.7 303.4,497.9 304.0,494.2 304.5,490.9 305.0,487.9 305.6,485.2 306.1,482.9 306.6,480.9 307.2,479.0 307.7,477.4 308.2,475.9 308.8,474.4 309.3,473.1 309.8,472.1 310.4,471.5 310.9,470.9 311.4,470.3 312.0,469.9 312.5,469.7 313.0,469.8 313.6,470.0 314.1,470.2 314.6,470.4 315.2,470.8 315.7,471.4 316.2,472.1 316.8,472.6 317.3,473.4 317.8,474.3 318.4,475.3 318.9,476.0 319.4,476.8 320.0,477.5 320.5,478.4 321.0,479.0 321.6,479.8 322.1,480.5 322.6,481.2 323.2,482.1 323.7,483.0 324.2,483.8 324.8,484.5 325.3,485.3 325.8,486.4 326.4,487.2 326.9,488.1 327.4,488.8 328.0,489.8 328.5,490.5 329.0,491.1 329.6,491.6 330.1,492.3 330.6,493.1 331.2,493.8 331.7,494.6 332.2,495.3 332.8,496.0 333.3,496.6 333.8,497.2 334.4,497.8 334.9,498.3 335.4,498.9 336.0,499.4 336.5,500.0 337.0,500.5 337.6,501.1 338.1,501.6 338.6,502.1 339.2,502.6 339.7,503.1 340.2,503.5 340.8,503.7 341.3,504.2 341.8,504.7 342.4,505.1 342.9,505.5 343.4,505.8 344.0,506.2 344.5,506.6 345.0,507.0 345.6,507.5 346.1,508.0 346.6,508.5 347.2,508.8 347.7,509.2 348.2,509.5 348.8,510.1 349.3,510.5 349.8,511.1 350.4,511.4 350.9,511.8 351.4,512.2 352.0,512.8 352.5,513.3 353.0,513.9 353.6,514.2 354.1,514.6 354.6,515.0 355.2,515.5 355.7,516.0 356.2,516.5 356.8,517.2 357.3,517.6 357.8,518.0 358.4,518.3 358.9,518.7 359.4,519.1 360.0,519.3 360.5,519.8 361.1,520.2 361.6,520.6 362.1,520.9 362.7,521.0 363.2,521.3 363.7,521.5 364.3,521.9 364.8,522.1 365.3,522.2 365.9,522.5 366.4,522.8 366.9,523.1 367.5,523.2 368.0,523.2 368.5,523.4 369.1,523.6 369.6,523.9 370.1,524.1 370.7,524.2 371.2,524.3 371.7,524.5 372.3,524.6 372.8,524.7 373.3,524.9 373.9,525.0 374.4,525.2 374.9,525.3 375.5,525.4 376.0,525.6 376.5,525.7 377.1,525.9 377.6,526.1 378.1,526.3 378.7,526.4 379.2,526.4 379.7,526.5 380.3,526.6 380.8,526.8 381.3,526.9 381.9,527.1 382.4,527.1 382.9,527.2 383.5,527.5 384.0,527.7 384.5,527.9 385.1,527.9 385.6,528.0 386.1,528.1 386.7,528.2 387.2,528.4 387.7,528.7 388.3,528.9 388.8,529.1 389.3,528.9 389.9,529.1 390.4,529.2 390.9,529.7 391.5,529.9 392.0,530.0 392.5,530.2 393.1,530.4 393.6,530.6 394.1,530.6 394.7,530.6 395.2,530.8 395.7,530.8 396.3,531.1 396.8,531.2 397.3,531.5 397.9,531.5 398.4,531.6 398.9,531.9 399.5,531.9 400.0,532.1 400.5,532.0 401.1,532.3 401.6,532.3 402.1,532.5 402.7,532.5 403.2,532.6 403.7,532.7 404.3,532.9 404.8,533.1 405.3,533.3 405.9,533.2 406.4,533.2 406.9,533.2 407.5,533.3 408.0,533.4 408.5,533.5 409.1,533.7 409.6,533.7 410.1,533.7 410.7,533.8 411.2,533.8 411.7,533.9 412.3,533.9 412.8,534.1 413.3,534.1 413.9,534.1 414.4,534.1 414.9,534.2 415.5,534.4 416.0,534.3 416.5,534.5 417.1,534.3 417.6,534.4 418.1,534.3 418.7,534.5 419.2,534.4 419.7,534.5 420.3,534.7 420.8,534.8 421.3,534.9 421.9,534.9 422.4,535.0 422.9,535.1 423.5,535.0 424.0,535.0 424.5,535.1 425.1,535.1 425.6,535.2 426.1,535.3 426.7,535.3 427.2,535.4 427.7,535.2 428.3,535.2 428.8,535.3 429.3,535.5 429.9,535.6 430.4,535.6 430.9,535.6 431.5,535.8 432.0,535.9 432.5,535.8 433.1,535.6 433.6,535.5 434.1,535.7 434.7,535.8 435.2,535.9 435.7,535.9 436.3,535.9 436.8,536.0 437.3,536.1 437.9,536.2 438.4,536.3 438.9,536.3 439.5,536.2 440.0,536.1" stroke="#c21fc6" stroke-width="1.6" fill="none" stroke-linejoin="round"/>
<path d="M280.5,537.0 281.0,537.0 281.6,537.1 282.1,537.3 282.6,537.3 283.2,537.4 283.7,537.2 284.2,537.3 284.8,537.1 285.3,537.1 285.8,537.1 286.4,537.2 286.9,537.2 287.4,537.2 288.0,537.1 288.5,537.0 289.0,537.0 289.6,537.0 290.1,537.2 290.6,537.4 291.2,537.4 291.7,537.2 292.2,537.1 292.8,537.3 293.3,537.5 293.8,537.7 294.4,537.7 294.9,537.8 295.4,538.0 296.0,538.2 296.5,538.4 297.0,538.4 297.6,538.6 298.1,538.7 298.6,538.9 299.2,536.5 299.7,530.0 300.2,521.1 300.8,512.0 301.3,504.8 301.8,498.8 302.4,492.7 302.9,487.1 303.4,481.9 304.0,477.6 304.5,474.3 305.0,471.6 305.6,469.0 306.1,466.9 306.6,465.0 307.2,463.5 307.7,462.2 308.2,461.4 308.8,461.3 309.3,461.4 309.8,461.4 310.4,461.7 310.9,462.1 311.4,462.8 312.0,463.4 312.5,464.1 313.0,464.7 313.6,465.4 314.1,465.9 314.6,466.5 315.2,467.2 315.7,468.0 316.2,468.7 316.8,469.6 317.3,470.3 317.8,471.1 318.4,471.7 318.9,472.5 319.4,473.5 320.0,474.6 320.5,475.5 321.0,476.5 321.6,477.6 322.1,478.7 322.6,479.8 323.2,480.8 323.7,481.7 324.2,482.7 324.8,483.6 325.3,484.6 325.8,485.3 326.4,486.1 326.9,486.9 327.4,487.9 328.0,488.8 328.5,489.6 329.0,490.3 329.6,491.1 330.1,492.0 330.6,492.8 331.2,493.6 331.7,494.3 332.2,495.0 332.8,496.0 333.3,496.7 333.8,497.3 334.4,497.8 334.9,498.3 335.4,498.9 336.0,499.6 336.5,500.1 337.0,500.7 337.6,501.1 338.1,501.7 338.6,502.2 339.2,502.9 339.7,503.5 340.2,504.1 340.8,504.5 341.3,504.8 341.8,505.5 342.4,505.9 342.9,506.4 343.4,506.5 344.0,507.0 344.5,507.4 345.0,507.9 345.6,508.2 346.1,508.7 346.6,509.2 347.2,509.5 347.7,509.8 348.2,510.0 348.8,510.3 349.3,510.8 349.8,511.2 350.4,511.7 350.9,511.9 351.4,512.2 352.0,512.5 352.5,512.7 353.0,512.9 353.6,513.2 354.1,513.6 354.6,513.8 355.2,514.0 355.7,514.5 356.2,514.9 356.8,515.5 357.3,515.8 357.8,516.1 358.4,516.1 358.9,516.3 359.4,516.4 360.0,516.7 360.5,517.0 361.1,517.3 361.6,517.6 362.1,517.7 362.7,518.0 363.2,518.0 363.7,518.2 364.3,518.5 364.8,518.9 365.3,519.1 365.9,519.3 366.4,519.5 366.9,519.6 367.5,519.8 368.0,520.0 368.5,520.2 369.1,520.3 369.6,520.5 370.1,520.6 370.7,520.8 371.2,520.9 371.7,521.1 372.3,521.1 372.8,521.5 373.3,521.5 373.9,521.8 374.4,521.7 374.9,522.0 375.5,522.1 376.0,522.4 376.5,522.5 377.1,522.7 377.6,522.9 378.1,522.9 378.7,523.1 379.2,523.3 379.7,523.4 380.3,523.5 380.8,523.5 381.3,524.0 381.9,524.2 382.4,524.5 382.9,524.6 383.5,524.7 384.0,524.8 384.5,524.9 385.1,525.0 385.6,525.2 386.1,525.3 386.7,525.3 387.2,525.5 387.7,525.5 388.3,525.8 388.8,525.9 389.3,526.2 389.9,526.4 390.4,526.5 390.9,526.6 391.5,526.6 392.0,526.8 392.5,526.9 393.1,527.1 393.6,527.2 394.1,527.7 394.7,527.9 395.2,528.0 395.7,528.0 396.3,528.4 396.8,528.7 397.3,528.7 397.9,528.8 398.4,528.9 398.9,529.0 399.5,529.1 400.0,529.2 400.5,529.3 401.1,529.4 401.6,529.5 402.1,529.7 402.7,529.8 403.2,529.9 403.7,530.0 404.3,530.3 404.8,530.2 405.3,530.4 405.9,530.5 406.4,530.7 406.9,530.7 407.5,530.9 408.0,531.0 408.5,531.3 409.1,531.4 409.6,531.6 410.1,531.6 410.7,531.8 411.2,531.7 411.7,531.9 412.3,532.2 412.8,532.5 413.3,532.6 413.9,532.5 414.4,532.5 414.9,532.6 415.5,532.8 416.0,533.0 416.5,533.2 417.1,533.3 417.6,533.3 418.1,533.5 418.7,533.6 419.2,533.8 419.7,533.8 420.3,533.8 420.8,534.0 421.3,534.2 421.9,534.6 422.4,534.5 422.9,534.5 423.5,534.6 424.0,534.7 424.5,534.8 425.1,534.8 425.6,535.0 426.1,535.1 426.7,535.3 427.2,535.5 427.7,535.6 428.3,535.5 428.8,535.6 429.3,535.8 429.9,536.0 430.4,536.3 430.9,536.5 431.5,536.4 432.0,536.3 432.5,536.3 433.1,536.4 433.6,536.3 434.1,536.3 434.7,536.5 435.2,536.5 435.7,536.5 436.3,536.6 436.8,536.8 437.3,537.0 437.9,537.0 438.4,537.2 438.9,537.1 439.5,537.2 440.0,537.3" stroke="#52a2f0" stroke-width="1.6" fill="none" stroke-linejoin="round"/>
<path d="M280.5,536.6 281.0,536.6 281.6,536.7 282.1,536.7 282.6,536.9 283.2,537.0 283.7,537.1 284.2,537.0 284.8,537.0 285.3,536.9 285.8,536.9 286.4,536.8 286.9,536.8 287.4,536.9 288.0,536.9 288.5,537.0 289.0,536.9 289.6,536.9 290.1,536.9 290.6,537.1 291.2,537.4 291.7,537.4 292.2,537.6 292.8,537.6 293.3,537.8 293.8,538.0 294.4,538.0 294.9,537.8 295.4,537.6 296.0,538.1 296.5,538.4 297.0,538.8 297.6,539.0 298.1,539.0 298.6,539.0 299.2,537.2 299.7,532.5 300.2,525.6 300.8,517.4 301.3,509.1 301.8,502.0 302.4,496.3 302.9,490.8 303.4,485.2 304.0,479.9 304.5,475.0 305.0,470.7 305.6,467.0 306.1,462.9 306.6,459.3 307.2,456.6 307.7,454.9 308.2,454.1 308.8,453.2 309.3,452.8 309.8,452.6 310.4,452.8 310.9,453.2 311.4,453.5 312.0,454.1 312.5,454.9 313.0,455.7 313.6,456.5 314.1,457.1 314.6,458.1 315.2,458.9 315.7,459.7 316.2,460.3 316.8,460.7 317.3,461.5 317.8,462.6 318.4,463.5 318.9,464.3 319.4,464.9 320.0,465.9 320.5,466.8 321.0,467.4 321.6,468.0 322.1,468.7 322.6,469.4 323.2,470.2 323.7,471.0 324.2,471.7 324.8,472.4 325.3,472.8 325.8,473.5 326.4,474.3 326.9,475.0 327.4,475.6 328.0,476.2 328.5,477.0 329.0,477.5 329.6,478.2 330.1,478.6 330.6,479.3 331.2,479.7 331.7,480.2 332.2,480.7 332.8,481.1 333.3,481.6 333.8,482.2 334.4,482.6 334.9,482.8 335.4,483.3 336.0,483.6 336.5,484.2 337.0,484.4 337.6,484.8 338.1,485.0 338.6,485.6 339.2,486.1 339.7,486.6 340.2,486.9 340.8,487.5 341.3,488.1 341.8,488.6 342.4,488.8 342.9,489.1 343.4,489.4 344.0,490.1 344.5,490.6 345.0,491.1 345.6,491.5 346.1,491.9 346.6,492.4 347.2,492.7 347.7,493.2 348.2,493.7 348.8,494.1 349.3,494.5 349.8,495.2 350.4,495.7 350.9,496.3 351.4,496.6 352.0,497.0 352.5,497.5 353.0,498.0 353.6,498.7 354.1,499.2 354.6,499.8 355.2,500.3 355.7,500.9 356.2,501.3 356.8,501.7 357.3,502.2 357.8,502.7 358.4,503.1 358.9,503.5 359.4,503.6 360.0,503.9 360.5,504.2 361.1,504.6 361.6,505.0 362.1,505.2 362.7,505.4 363.2,505.5 363.7,505.9 364.3,506.3 364.8,506.7 365.3,506.8 365.9,507.1 366.4,507.4 366.9,508.1 367.5,508.4 368.0,508.5 368.5,508.5 369.1,508.4 369.6,508.5 370.1,508.6 370.7,509.1 371.2,509.2 371.7,509.5 372.3,509.8 372.8,510.0 373.3,510.2 373.9,510.3 374.4,510.3 374.9,510.5 375.5,510.7 376.0,511.2 376.5,511.3 377.1,511.2 377.6,511.0 378.1,511.3 378.7,511.6 379.2,511.8 379.7,511.9 380.3,511.9 380.8,512.0 381.3,512.0 381.9,512.2 382.4,512.4 382.9,512.6 383.5,512.7 384.0,512.7 384.5,512.9 385.1,512.9 385.6,513.1 386.1,513.0 386.7,513.1 387.2,513.2 387.7,513.5 388.3,513.7 388.8,513.7 389.3,513.8 389.9,513.8 390.4,513.9 390.9,514.0 391.5,514.1 392.0,514.4 392.5,514.4 393.1,514.5 393.6,514.5 394.1,514.6 394.7,514.8 395.2,514.8 395.7,515.0 396.3,515.2 396.8,515.4 397.3,515.6 397.9,515.7 398.4,515.8 398.9,516.0 399.5,516.1 400.0,516.2 400.5,516.1 401.1,516.3 401.6,516.5 402.1,516.9 402.7,517.0 403.2,517.0 403.7,517.1 404.3,517.2 404.8,517.5 405.3,517.6 405.9,517.9 406.4,517.9 406.9,518.0 407.5,518.0 408.0,518.0 408.5,518.1 409.1,518.3 409.6,518.6 410.1,518.7 410.7,518.8 411.2,518.9 411.7,519.0 412.3,519.3 412.8,519.7 413.3,520.1 413.9,520.2 414.4,520.4 414.9,520.5 415.5,520.6 416.0,520.7 416.5,520.9 417.1,521.2 417.6,521.4 418.1,521.5 418.7,521.9 419.2,522.3 419.7,522.6 420.3,522.8 420.8,522.7 421.3,522.8 421.9,523.0 422.4,523.3 422.9,523.4 423.5,523.7 424.0,524.2 424.5,524.2 425.1,524.4 425.6,524.4 426.1,524.8 426.7,525.0 427.2,525.2 427.7,525.6 428.3,525.6 428.8,525.8 429.3,525.9 429.9,526.1 430.4,526.2 430.9,526.2 431.5,526.4 432.0,526.7 432.5,527.0 433.1,527.1 433.6,527.0 434.1,527.3 434.7,527.6 435.2,527.9 435.7,527.9 436.3,528.0 436.8,528.0 437.3,528.1 437.9,528.2 438.4,528.5 438.9,528.9 439.5,529.1 440.0,529.1" stroke="#000" stroke-width="1.8" fill="none" stroke-linejoin="round"/>
<line x1="331.5" y1="415.2" x2="341.6" y2="415.2" stroke="#000" stroke-width="2"/>
<text x="345.1" y="418.1" font-size="8.1" text-anchor="start" font-weight="normal" font-style="normal" fill="#000">WT</text>
<line x1="331.5" y1="425.2" x2="341.6" y2="425.2" stroke="#ee1c24" stroke-width="2"/>
<text x="345.1" y="428.1" font-size="8.1" text-anchor="start" font-weight="normal" font-style="normal" fill="#000"><tspan font-style="italic">gcy-28(tm2411)</tspan></text>
<line x1="331.5" y1="437.9" x2="341.6" y2="437.9" stroke="#1515e8" stroke-width="2"/>
<text x="345.1" y="440.8" font-size="8.1" text-anchor="start" font-weight="normal" font-style="normal" fill="#000"><tspan font-style="italic">gcy-28(tm3028)</tspan></text>
<line x1="331.5" y1="451.9" x2="341.6" y2="451.9" stroke="#52a2f0" stroke-width="2"/>
<text x="345.1" y="454.8" font-size="8.1" text-anchor="start" font-weight="normal" font-style="normal" fill="#000"><tspan font-style="italic">gcy-28(tm3028);Pvap-1::gcy-28</tspan></text>
<line x1="331.5" y1="463.6" x2="341.6" y2="463.6" stroke="#c21fc6" stroke-width="2"/>
<text x="345.1" y="466.5" font-size="8.1" text-anchor="start" font-weight="normal" font-style="normal" fill="#000"><tspan font-style="italic">gcy-28;PR11D1.3::gcy-28</tspan></text>
<text x="467.5" y="396.8" font-size="18" text-anchor="start" font-weight="normal" font-style="normal" fill="#000">i</text>
<rect x="530.7" y="476.8" width="17.9" height="51.5" fill="#cccccc" stroke="#000" stroke-width="1.8"/>
<rect x="561.7" y="499.1" width="17.9" height="29.2" fill="#fbdcdc" stroke="#e8212b" stroke-width="1.8"/>
<rect x="592.3" y="499.1" width="18.3" height="29.2" fill="#c9d7f2" stroke="#1a1aff" stroke-width="1.8"/>
<rect x="622.9" y="481.7" width="18.4" height="46.6" fill="#c6daf3" stroke="#5aa2f0" stroke-width="1.8"/>
<rect x="653.9" y="485.5" width="17.9" height="42.8" fill="#f3c9ee" stroke="#c21fc6" stroke-width="1.8"/>
<circle cx="539.36" cy="449.76" r="1.7" fill="#fff" stroke="#959595" stroke-width="0.75"/>
<circle cx="539.36" cy="458.84" r="1.7" fill="#fff" stroke="#959595" stroke-width="0.75"/>
<circle cx="536.64" cy="464.43" r="1.7" fill="#fff" stroke="#959595" stroke-width="0.75"/>
<circle cx="547.99" cy="465.64" r="1.7" fill="#fff" stroke="#959595" stroke-width="0.75"/>
<circle cx="536.64" cy="468.67" r="1.7" fill="#fff" stroke="#959595" stroke-width="0.75"/>
<circle cx="530.89" cy="471.39" r="1.7" fill="#fff" stroke="#959595" stroke-width="0.75"/>
<circle cx="536.64" cy="471.69" r="1.7" fill="#fff" stroke="#959595" stroke-width="0.75"/>
<circle cx="547.99" cy="470.94" r="1.7" fill="#fff" stroke="#959595" stroke-width="0.75"/>
<circle cx="541.18" cy="474.72" r="1.7" fill="#fff" stroke="#959595" stroke-width="0.75"/>
<circle cx="542.69" cy="477.44" r="1.7" fill="#fff" stroke="#959595" stroke-width="0.75"/>
<circle cx="530.89" cy="481.53" r="1.7" fill="#fff" stroke="#959595" stroke-width="0.75"/>
<circle cx="542.69" cy="482.28" r="1.7" fill="#fff" stroke="#959595" stroke-width="0.75"/>
<circle cx="547.99" cy="480.02" r="1.7" fill="#fff" stroke="#959595" stroke-width="0.75"/>
<circle cx="536.64" cy="505.73" r="1.7" fill="#fff" stroke="#959595" stroke-width="0.75"/>
<circle cx="542.69" cy="504.67" r="1.7" fill="#fff" stroke="#959595" stroke-width="0.75"/>
<circle cx="566.9" cy="459.89" r="1.7" fill="#fff" stroke="#959595" stroke-width="0.75"/>
<circle cx="573.71" cy="459.89" r="1.7" fill="#fff" stroke="#959595" stroke-width="0.75"/>
<circle cx="570.23" cy="467.46" r="1.7" fill="#fff" stroke="#959595" stroke-width="0.75"/>
<circle cx="573.71" cy="472.15" r="1.7" fill="#fff" stroke="#959595" stroke-width="0.75"/>
<circle cx="566.9" cy="474.42" r="1.7" fill="#fff" stroke="#959595" stroke-width="0.75"/>
<circle cx="570.23" cy="483.49" r="1.7" fill="#fff" stroke="#959595" stroke-width="0.75"/>
<circle cx="570.23" cy="490.15" r="1.7" fill="#fff" stroke="#959595" stroke-width="0.75"/>
<circle cx="570.23" cy="496.66" r="1.7" fill="#fff" stroke="#959595" stroke-width="0.75"/>
<circle cx="563.87" cy="501.95" r="1.7" fill="#fff" stroke="#959595" stroke-width="0.75"/>
<circle cx="570.23" cy="501.2" r="1.7" fill="#fff" stroke="#959595" stroke-width="0.75"/>
<circle cx="576.73" cy="502.71" r="1.7" fill="#fff" stroke="#959595" stroke-width="0.75"/>
<circle cx="563.87" cy="511.03" r="1.7" fill="#fff" stroke="#959595" stroke-width="0.75"/>
<circle cx="570.23" cy="509.06" r="1.7" fill="#fff" stroke="#959595" stroke-width="0.75"/>
<circle cx="576.73" cy="509.06" r="1.7" fill="#fff" stroke="#959595" stroke-width="0.75"/>
<circle cx="563.87" cy="516.32" r="1.7" fill="#fff" stroke="#959595" stroke-width="0.75"/>
<circle cx="570.23" cy="515.57" r="1.7" fill="#fff" stroke="#959595" stroke-width="0.75"/>
<circle cx="576.73" cy="513.75" r="1.7" fill="#fff" stroke="#959595" stroke-width="0.75"/>
<circle cx="576.73" cy="517.84" r="1.7" fill="#fff" stroke="#959595" stroke-width="0.75"/>
<circle cx="573.71" cy="521.32" r="1.7" fill="#fff" stroke="#959595" stroke-width="0.75"/>
<circle cx="570.23" cy="523.13" r="1.7" fill="#fff" stroke="#959595" stroke-width="0.75"/>
<circle cx="601.34" cy="459.89" r="1.7" fill="#fff" stroke="#959595" stroke-width="0.75"/>
<circle cx="601.34" cy="468.97" r="1.7" fill="#fff" stroke="#959595" stroke-width="0.75"/>
<circle cx="601.34" cy="476.99" r="1.7" fill="#fff" stroke="#959595" stroke-width="0.75"/>
<circle cx="597.1" cy="490.15" r="1.7" fill="#fff" stroke="#959595" stroke-width="0.75"/>
<circle cx="601.34" cy="492.87" r="1.7" fill="#fff" stroke="#959595" stroke-width="0.75"/>
<circle cx="597.1" cy="497.72" r="1.7" fill="#fff" stroke="#959595" stroke-width="0.75"/>
<circle cx="601.34" cy="498.17" r="1.7" fill="#fff" stroke="#959595" stroke-width="0.75"/>
<circle cx="605.42" cy="497.41" r="1.7" fill="#fff" stroke="#959595" stroke-width="0.75"/>
<circle cx="597.1" cy="502.71" r="1.7" fill="#fff" stroke="#959595" stroke-width="0.75"/>
<circle cx="601.34" cy="503.16" r="1.7" fill="#fff" stroke="#959595" stroke-width="0.75"/>
<circle cx="605.42" cy="505.73" r="1.7" fill="#fff" stroke="#959595" stroke-width="0.75"/>
<circle cx="592.56" cy="508" r="1.7" fill="#fff" stroke="#959595" stroke-width="0.75"/>
<circle cx="597.1" cy="509.97" r="1.7" fill="#fff" stroke="#959595" stroke-width="0.75"/>
<circle cx="601.34" cy="511.03" r="1.7" fill="#fff" stroke="#959595" stroke-width="0.75"/>
<circle cx="605.42" cy="510.27" r="1.7" fill="#fff" stroke="#959595" stroke-width="0.75"/>
<circle cx="609.96" cy="508" r="1.7" fill="#fff" stroke="#959595" stroke-width="0.75"/>
<circle cx="601.34" cy="519.35" r="1.7" fill="#fff" stroke="#959595" stroke-width="0.75"/>
<circle cx="632.2" cy="432.81" r="1.7" fill="#fff" stroke="#959595" stroke-width="0.75"/>
<circle cx="632.2" cy="449.3" r="1.7" fill="#fff" stroke="#959595" stroke-width="0.75"/>
<circle cx="632.2" cy="459.89" r="1.7" fill="#fff" stroke="#959595" stroke-width="0.75"/>
<circle cx="629.18" cy="470.18" r="1.7" fill="#fff" stroke="#959595" stroke-width="0.75"/>
<circle cx="634.92" cy="468.97" r="1.7" fill="#fff" stroke="#959595" stroke-width="0.75"/>
<circle cx="629.18" cy="477.44" r="1.7" fill="#fff" stroke="#959595" stroke-width="0.75"/>
<circle cx="634.92" cy="475.93" r="1.7" fill="#fff" stroke="#959595" stroke-width="0.75"/>
<circle cx="623.58" cy="482.59" r="1.7" fill="#fff" stroke="#959595" stroke-width="0.75"/>
<circle cx="629.18" cy="483.8" r="1.7" fill="#fff" stroke="#959595" stroke-width="0.75"/>
<circle cx="634.92" cy="483.49" r="1.7" fill="#fff" stroke="#959595" stroke-width="0.75"/>
<circle cx="640.98" cy="481.23" r="1.7" fill="#fff" stroke="#959595" stroke-width="0.75"/>
<circle cx="629.18" cy="492.87" r="1.7" fill="#fff" stroke="#959595" stroke-width="0.75"/>
<circle cx="634.92" cy="490.61" r="1.7" fill="#fff" stroke="#959595" stroke-width="0.75"/>
<circle cx="632.2" cy="497.11" r="1.7" fill="#fff" stroke="#959595" stroke-width="0.75"/>
<circle cx="632.2" cy="501.2" r="1.7" fill="#fff" stroke="#959595" stroke-width="0.75"/>
<circle cx="632.2" cy="505.73" r="1.7" fill="#fff" stroke="#959595" stroke-width="0.75"/>
<circle cx="632.2" cy="512.84" r="1.7" fill="#fff" stroke="#959595" stroke-width="0.75"/>
<circle cx="662.91" cy="437.2" r="1.7" fill="#fff" stroke="#959595" stroke-width="0.75"/>
<circle cx="662.91" cy="443.71" r="1.7" fill="#fff" stroke="#959595" stroke-width="0.75"/>
<circle cx="662.91" cy="452.78" r="1.7" fill="#fff" stroke="#959595" stroke-width="0.75"/>
<circle cx="659.89" cy="464.89" r="1.7" fill="#fff" stroke="#959595" stroke-width="0.75"/>
<circle cx="665.94" cy="463.07" r="1.7" fill="#fff" stroke="#959595" stroke-width="0.75"/>
<circle cx="665.94" cy="475.48" r="1.7" fill="#fff" stroke="#959595" stroke-width="0.75"/>
<circle cx="654.59" cy="480.32" r="1.7" fill="#fff" stroke="#959595" stroke-width="0.75"/>
<circle cx="659.89" cy="481.23" r="1.7" fill="#fff" stroke="#959595" stroke-width="0.75"/>
<circle cx="665.94" cy="480.47" r="1.7" fill="#fff" stroke="#959595" stroke-width="0.75"/>
<circle cx="671.54" cy="478.5" r="1.7" fill="#fff" stroke="#959595" stroke-width="0.75"/>
<circle cx="659.89" cy="485.61" r="1.7" fill="#fff" stroke="#959595" stroke-width="0.75"/>
<circle cx="665.94" cy="484.55" r="1.7" fill="#fff" stroke="#959595" stroke-width="0.75"/>
<circle cx="659.89" cy="493.33" r="1.7" fill="#fff" stroke="#959595" stroke-width="0.75"/>
<circle cx="665.94" cy="492.57" r="1.7" fill="#fff" stroke="#959595" stroke-width="0.75"/>
<circle cx="659.89" cy="499.68" r="1.7" fill="#fff" stroke="#959595" stroke-width="0.75"/>
<circle cx="665.94" cy="501.65" r="1.7" fill="#fff" stroke="#959595" stroke-width="0.75"/>
<circle cx="657.31" cy="506.49" r="1.7" fill="#fff" stroke="#959595" stroke-width="0.75"/>
<circle cx="662.91" cy="505.73" r="1.7" fill="#fff" stroke="#959595" stroke-width="0.75"/>
<circle cx="668.51" cy="507.7" r="1.7" fill="#fff" stroke="#959595" stroke-width="0.75"/>
<circle cx="659.89" cy="514.81" r="1.7" fill="#fff" stroke="#959595" stroke-width="0.75"/>
<circle cx="665.94" cy="514.81" r="1.7" fill="#fff" stroke="#959595" stroke-width="0.75"/>
<line x1="539.6" y1="471.7" x2="539.6" y2="478.5" stroke="#000" stroke-width="1.8"/>
<line x1="536.1" y1="471.7" x2="543.1" y2="471.7" stroke="#000" stroke-width="1.8"/>
<line x1="536.1" y1="478.5" x2="543.1" y2="478.5" stroke="#000" stroke-width="1.8"/>
<line x1="570.6" y1="492.9" x2="570.6" y2="503" stroke="#e8212b" stroke-width="1.8"/>
<line x1="567.1" y1="492.9" x2="574.1" y2="492.9" stroke="#e8212b" stroke-width="1.8"/>
<line x1="567.1" y1="503" x2="574.1" y2="503" stroke="#e8212b" stroke-width="1.8"/>
<line x1="601.4" y1="493.6" x2="601.4" y2="502" stroke="#1a1aff" stroke-width="1.8"/>
<line x1="597.9" y1="493.6" x2="604.9" y2="493.6" stroke="#1a1aff" stroke-width="1.8"/>
<line x1="597.9" y1="502" x2="604.9" y2="502" stroke="#1a1aff" stroke-width="1.8"/>
<line x1="632.1" y1="475" x2="632.1" y2="485" stroke="#5aa2f0" stroke-width="1.8"/>
<line x1="628.6" y1="475" x2="635.6" y2="475" stroke="#5aa2f0" stroke-width="1.8"/>
<line x1="628.6" y1="485" x2="635.6" y2="485" stroke="#5aa2f0" stroke-width="1.8"/>
<line x1="662.8" y1="479" x2="662.8" y2="489" stroke="#c21fc6" stroke-width="1.8"/>
<line x1="659.3" y1="479" x2="666.3" y2="479" stroke="#c21fc6" stroke-width="1.8"/>
<line x1="659.3" y1="489" x2="666.3" y2="489" stroke="#c21fc6" stroke-width="1.8"/>
<text x="539.6" y="525.8" font-size="8" text-anchor="middle" font-weight="normal" font-style="normal" fill="#5b3f99">15</text>
<text x="570.6" y="525.8" font-size="8" text-anchor="middle" font-weight="normal" font-style="normal" fill="#5b3f99">20</text>
<text x="601.4" y="525.8" font-size="8" text-anchor="middle" font-weight="normal" font-style="normal" fill="#5b3f99">17</text>
<text x="632.1" y="525.8" font-size="8" text-anchor="middle" font-weight="normal" font-style="normal" fill="#5b3f99">17</text>
<text x="662.8" y="525.8" font-size="8" text-anchor="middle" font-weight="normal" font-style="normal" fill="#5b3f99">21</text>
<line x1="518.8" y1="406.9" x2="518.8" y2="529.05" stroke="#000" stroke-width="1.5"/>
<line x1="518.05" y1="528.3" x2="685" y2="528.3" stroke="#000" stroke-width="1.5"/>
<line x1="513.3" y1="528.3" x2="518.8" y2="528.3" stroke="#000" stroke-width="1.5"/>
<text x="511.3" y="531.5" font-size="9" text-anchor="end" font-weight="normal" font-style="normal" fill="#000">0</text>
<line x1="513.3" y1="497.95" x2="518.8" y2="497.95" stroke="#000" stroke-width="1.5"/>
<text x="511.3" y="501.15" font-size="9" text-anchor="end" font-weight="normal" font-style="normal" fill="#000">100</text>
<line x1="513.3" y1="467.6" x2="518.8" y2="467.6" stroke="#000" stroke-width="1.5"/>
<text x="511.3" y="470.8" font-size="9" text-anchor="end" font-weight="normal" font-style="normal" fill="#000">200</text>
<line x1="513.3" y1="437.25" x2="518.8" y2="437.25" stroke="#000" stroke-width="1.5"/>
<text x="511.3" y="440.45" font-size="9" text-anchor="end" font-weight="normal" font-style="normal" fill="#000">300</text>
<line x1="513.3" y1="406.9" x2="518.8" y2="406.9" stroke="#000" stroke-width="1.5"/>
<text x="511.3" y="410.1" font-size="9" text-anchor="end" font-weight="normal" font-style="normal" fill="#000">400</text>
<text x="491.5" y="475.7" font-size="10.1" text-anchor="middle" font-weight="normal" font-style="normal" fill="#000" transform="rotate(-90 491.5 475.7)">Maximum GCaMP5 (ΔF/F<tspan font-size="70%" dy="2">0</tspan><tspan dy="-2">, %)</tspan></text>
<path d="M539.4,447.5 L539.4,445.7 L570.4,445.7 L570.4,447.5" stroke="#000" stroke-width="1" fill="none"/>
<polygon points="543.10,437.85 543.68,439.60 545.48,439.23 544.25,440.60 545.48,441.98 543.68,441.60 543.10,443.35 542.52,441.60 540.72,441.98 541.95,440.60 540.72,439.23 542.52,439.60" fill="#000" stroke="#000" stroke-width="0.5" stroke-linejoin="round"/>
<polygon points="550.70,437.85 551.28,439.60 553.08,439.23 551.86,440.60 553.08,441.98 551.28,441.60 550.70,443.35 550.12,441.60 548.32,441.98 549.55,440.60 548.32,439.23 550.12,439.60" fill="#000" stroke="#000" stroke-width="0.5" stroke-linejoin="round"/>
<text x="555.5" y="443" font-size="8" text-anchor="start"><tspan font-style="italic">p</tspan>=0.0014</text>
<path d="M539.4,432.9 L539.4,431.1 L598.7,431.1 L598.7,432.9" stroke="#000" stroke-width="1" fill="none"/>
<polygon points="543.50,422.65 544.08,424.40 545.88,424.02 544.65,425.40 545.88,426.77 544.08,426.40 543.50,428.15 542.92,426.40 541.12,426.77 542.35,425.40 541.12,424.02 542.92,424.40" fill="#000" stroke="#000" stroke-width="0.5" stroke-linejoin="round"/>
<polygon points="551.10,422.65 551.68,424.40 553.48,424.02 552.25,425.40 553.48,426.77 551.68,426.40 551.10,428.15 550.52,426.40 548.72,426.77 549.95,425.40 548.72,424.02 550.52,424.40" fill="#000" stroke="#000" stroke-width="0.5" stroke-linejoin="round"/>
<polygon points="558.70,422.65 559.28,424.40 561.08,424.02 559.86,425.40 561.08,426.77 559.28,426.40 558.70,428.15 558.12,426.40 556.32,426.77 557.55,425.40 556.32,424.02 558.12,424.40" fill="#000" stroke="#000" stroke-width="0.5" stroke-linejoin="round"/>
<text x="563.1" y="427.8" font-size="8" text-anchor="start"><tspan font-style="italic">p</tspan>&lt;0.001</text>
<path d="M600.1,423.3 L600.1,421.5 L632.7,421.5 L632.7,423.3" stroke="#000" stroke-width="1" fill="none"/>
<polygon points="604.00,413.25 604.58,415.00 606.38,414.62 605.15,416.00 606.38,417.38 604.58,417.00 604.00,418.75 603.42,417.00 601.62,417.38 602.85,416.00 601.62,414.62 603.42,415.00" fill="#000" stroke="#000" stroke-width="0.5" stroke-linejoin="round"/>
<polygon points="611.60,413.25 612.18,415.00 613.98,414.62 612.75,416.00 613.98,417.38 612.18,417.00 611.60,418.75 611.02,417.00 609.22,417.38 610.45,416.00 609.22,414.62 611.02,415.00" fill="#000" stroke="#000" stroke-width="0.5" stroke-linejoin="round"/>
<text x="615.3" y="418.4" font-size="8" text-anchor="start"><tspan font-style="italic">p</tspan>=0.0091</text>
<path d="M600.1,407.7 L600.1,405.9 L663.4,405.9 L663.4,407.7" stroke="#000" stroke-width="1" fill="none"/>
<polygon points="626.40,398.25 626.98,400.00 628.78,399.62 627.55,401.00 628.78,402.38 626.98,402.00 626.40,403.75 625.82,402.00 624.02,402.38 625.25,401.00 624.02,399.62 625.82,400.00" fill="#000" stroke="#000" stroke-width="0.5" stroke-linejoin="round"/>
<text x="631.9" y="402.9" font-size="8" text-anchor="start"><tspan font-style="italic">p</tspan>=0.039</text>
<text x="543.5" y="535" font-size="7.8" text-anchor="end" font-weight="normal" font-style="normal" fill="#000" transform="rotate(-45 543.5 535)">WT</text>
<text x="574.6" y="534.2" font-size="7.8" text-anchor="end" font-weight="normal" font-style="italic" fill="#000" transform="rotate(-45 574.6 534.2)">gcy-28(tm2411)</text>
<text x="603" y="534.2" font-size="7.8" text-anchor="end" font-weight="normal" font-style="italic" fill="#000" transform="rotate(-45 603 534.2)">gcy-28(tm3028)</text>
<text x="629.1" y="534.2" font-size="7.8" text-anchor="end" font-weight="normal" font-style="italic" fill="#000" transform="rotate(-45 629.1 534.2)">gcy-28(tm3028);</text>
<text x="634" y="544" font-size="7.8" text-anchor="end" font-weight="normal" font-style="italic" fill="#000" transform="rotate(-45 634 544)">Pvap-1::gcy-28</text>
<text x="661.4" y="534.2" font-size="7.8" text-anchor="end" font-weight="normal" font-style="italic" fill="#000" transform="rotate(-45 661.4 534.2)">gcy-28(tm3028);</text>
<text x="675" y="536.6" font-size="7.8" text-anchor="end" font-weight="normal" font-style="italic" fill="#000" transform="rotate(-45 675 536.6)">PR11D1.3::gcy-28</text>
<text x="0.5" y="588" font-size="18" text-anchor="start" font-weight="normal" font-style="normal" fill="#000">j</text>
<text x="9" y="602.4" font-size="11.3" text-anchor="start" font-weight="bold" font-style="normal" fill="#23349a">ASH neurons</text>
<path d="M47,617.5 L59.5,617.5 L60.8,624.5 L207.5,624.5" stroke="#3d3434" stroke-width="1" fill="none"/>
<text x="36.8" y="613.4" font-size="8" text-anchor="start" font-weight="normal" font-style="normal" fill="#000">20 °C</text>
<text x="137.7" y="621" font-size="8" text-anchor="middle" font-weight="normal" font-style="normal" fill="#000">10 °C</text>
<path d="M48.7,735.9 49.5,735.9 50.3,736.0 51.1,736.1 51.9,736.1 52.7,736.2 53.5,736.2 54.3,736.2 55.1,736.2 55.9,736.0 56.7,735.7 57.5,735.4 58.3,735.0 59.1,734.8 59.9,734.6 60.7,734.6 61.5,734.6 62.3,734.7 63.1,734.7 63.9,734.8 64.7,734.9 65.5,735.0 66.3,735.1 67.1,735.2 67.9,735.2 68.6,735.2 69.4,735.2 70.2,735.1 71.0,734.9 71.8,734.5 72.6,734.0 73.4,733.4 74.2,732.6 75.0,731.2 75.8,729.6 76.6,728.0 77.4,726.4 78.2,725.0 79.0,723.7 79.8,722.3 80.6,720.9 81.4,719.3 82.2,717.4 83.0,715.3 83.8,712.8 84.6,710.1 85.4,707.1 86.2,704.0 87.0,700.9 87.8,697.8 88.6,694.7 89.4,691.6 90.2,688.5 91.0,685.3 91.8,682.1 92.6,678.9 93.4,675.7 94.2,672.4 95.0,669.1 95.8,665.4 96.6,661.7 97.4,658.0 98.2,654.5 99.0,651.4 99.8,648.8 100.6,646.6 101.4,644.5 102.2,642.8 103.0,641.4 103.8,640.4 104.6,639.5 105.4,638.7 106.2,638.1 107.0,637.6 107.8,637.3 108.5,637.3 109.3,638.1 110.1,639.5 110.9,641.5 111.7,643.8 112.5,646.2 113.3,648.6 114.1,651.2 114.9,654.3 115.7,657.7 116.5,661.3 117.3,664.8 118.1,668.1 118.9,671.1 119.7,673.6 120.5,675.9 121.3,678.0 122.1,680.1 122.9,682.0 123.7,683.8 124.5,685.5 125.3,687.1 126.1,688.6 126.9,690.0 127.7,691.2 128.5,692.3 129.3,693.3 130.1,694.3 130.9,695.6 131.7,697.3 132.5,699.1 133.3,701.0 134.1,702.7 134.9,704.1 135.7,705.5 136.5,706.9 137.3,708.2 138.1,709.4 138.9,710.6 139.7,711.7 140.5,712.8 141.3,713.7 142.1,714.5 142.9,715.2 143.7,715.9 144.5,716.4 145.3,717.0 146.1,717.5 146.9,718.0 147.7,718.5 148.4,719.0 149.2,719.4 150.0,719.8 150.8,720.2 151.6,720.6 152.4,720.9 153.2,721.2 154.0,721.5 154.8,721.8 155.6,722.1 156.4,722.4 157.2,722.6 158.0,722.9 158.8,723.1 159.6,723.3 160.4,723.5 161.2,723.6 162.0,723.8 162.8,724.0 163.6,724.1 164.4,724.3 165.2,724.4 166.0,724.6 166.8,724.7 167.6,724.9 168.4,725.0 169.2,725.2 170.0,725.3 170.8,725.5 171.6,725.6 172.4,725.8 173.2,725.9 174.0,726.1 174.8,726.2 175.6,726.4 176.4,726.6 177.2,726.7 178.0,726.9 178.8,727.1 179.6,727.2 180.4,727.4 181.2,727.6 182.0,727.8 182.8,728.0 183.6,728.2 184.4,728.5 185.2,728.7 186.0,729.0 186.8,729.2 187.6,729.5 188.3,729.7 189.1,730.0 189.9,730.2 190.7,730.5 191.5,730.7 192.3,730.9 193.1,731.1 193.9,731.3 194.7,731.5 195.5,731.7 196.3,731.8 197.1,732.0 197.9,732.2 198.7,732.3 199.5,732.4 200.3,732.6 201.1,732.7 201.9,732.9 202.7,733.0 203.5,733.2 204.3,733.3 205.1,733.4 205.9,733.6 206.7,733.7 207.5,733.9 207.5,741.9 206.7,741.8 205.9,741.6 205.1,741.5 204.3,741.4 203.5,741.2 202.7,741.1 201.9,740.9 201.1,740.8 200.3,740.7 199.5,740.5 198.7,740.4 197.9,740.2 197.1,740.1 196.3,739.9 195.5,739.7 194.7,739.6 193.9,739.4 193.1,739.2 192.3,739.0 191.5,738.8 190.7,738.5 189.9,738.3 189.1,738.0 188.3,737.8 187.6,737.5 186.8,737.3 186.0,737.0 185.2,736.8 184.4,736.5 183.6,736.3 182.8,736.1 182.0,735.9 181.2,735.7 180.4,735.5 179.6,735.3 178.8,735.1 178.0,735.0 177.2,734.8 176.4,734.6 175.6,734.5 174.8,734.3 174.0,734.2 173.2,734.0 172.4,733.8 171.6,733.7 170.8,733.5 170.0,733.4 169.2,733.2 168.4,733.1 167.6,732.9 166.8,732.8 166.0,732.6 165.2,732.5 164.4,732.4 163.6,732.3 162.8,732.1 162.0,732.0 161.2,731.9 160.4,731.8 159.6,731.6 158.8,731.5 158.0,731.3 157.2,731.2 156.4,731.0 155.6,730.8 154.8,730.6 154.0,730.4 153.2,730.2 152.4,729.9 151.6,729.7 150.8,729.4 150.0,729.1 149.2,728.8 148.4,728.5 147.7,728.2 146.9,727.8 146.1,727.4 145.3,727.0 144.5,726.6 143.7,726.1 142.9,725.7 142.1,725.1 141.3,724.4 140.5,723.6 139.7,722.7 138.9,721.7 138.1,720.7 137.3,719.6 136.5,718.5 135.7,717.3 134.9,716.1 134.1,714.8 133.3,713.3 132.5,711.6 131.7,709.9 130.9,708.4 130.1,707.3 129.3,706.4 128.5,705.6 127.7,704.8 126.9,703.8 126.1,702.7 125.3,701.6 124.5,700.4 123.7,699.2 122.9,697.9 122.1,696.5 121.3,695.1 120.5,693.5 119.7,691.8 118.9,689.9 118.1,687.6 117.3,684.8 116.5,681.9 115.7,678.9 114.9,676.0 114.1,673.4 113.3,671.2 112.5,669.3 111.7,667.2 110.9,665.2 110.1,663.5 109.3,662.2 108.5,661.5 107.8,661.5 107.0,661.7 106.2,662.0 105.4,662.4 104.6,662.9 103.8,663.4 103.0,664.0 102.2,665.0 101.4,666.3 100.6,667.9 99.8,669.7 99.0,671.7 98.2,674.3 97.4,677.4 96.6,680.6 95.8,683.9 95.0,687.1 94.2,689.9 93.4,692.6 92.6,695.2 91.8,697.8 91.0,700.3 90.2,702.8 89.4,705.3 88.6,707.7 87.8,710.1 87.0,712.6 86.2,715.1 85.4,717.6 84.6,720.0 83.8,722.3 83.0,724.3 82.2,726.1 81.4,727.6 80.6,729.0 79.8,730.2 79.0,731.4 78.2,732.6 77.4,733.8 76.6,735.2 75.8,736.8 75.0,738.2 74.2,739.4 73.4,740.1 72.6,740.6 71.8,741.0 71.0,741.3 70.2,741.4 69.4,741.4 68.6,741.3 67.9,741.2 67.1,741.0 66.3,740.9 65.5,740.7 64.7,740.6 63.9,740.4 63.1,740.2 62.3,740.1 61.5,740.0 60.7,739.9 59.9,739.8 59.1,739.9 58.3,740.1 57.5,740.3 56.7,740.6 55.9,740.8 55.1,740.9 54.3,740.9 53.5,740.8 52.7,740.7 51.9,740.5 51.1,740.4 50.3,740.2 49.5,740.1 48.7,739.9Z" stroke="none" stroke-width="1" fill="#c8c8c8" fill-opacity="0.6"/>
<path d="M48.7,727.1 49.5,727.3 50.3,727.4 51.1,727.6 51.9,727.7 52.7,727.9 53.5,728.0 54.3,728.0 55.1,728.0 55.9,727.9 56.7,727.6 57.5,727.3 58.3,727.0 59.1,726.7 59.9,726.6 60.7,727.6 61.5,729.9 62.3,732.1 63.1,732.6 63.9,732.5 64.7,732.4 65.5,732.3 66.3,732.1 67.1,731.9 67.9,731.7 68.6,731.4 69.4,731.2 70.2,730.9 71.0,730.5 71.8,730.0 72.6,729.5 73.4,728.9 74.2,728.2 75.0,727.5 75.8,726.8 76.6,726.1 77.4,725.4 78.2,724.6 79.0,723.9 79.8,723.1 80.6,722.2 81.4,721.1 82.2,719.8 83.0,718.1 83.8,715.8 84.6,713.1 85.4,710.1 86.2,707.0 87.0,703.8 87.8,700.6 88.6,697.6 89.4,694.7 90.2,691.6 91.0,688.6 91.8,685.6 92.6,682.6 93.4,679.7 94.2,676.9 95.0,674.1 95.8,671.0 96.6,667.9 97.4,664.9 98.2,662.3 99.0,660.5 99.8,659.6 100.6,659.0 101.4,658.5 102.2,658.1 103.0,657.8 103.8,657.5 104.6,657.3 105.4,657.1 106.2,657.1 107.0,657.3 107.8,657.7 108.5,658.2 109.3,658.8 110.1,659.6 110.9,660.8 111.7,662.2 112.5,663.9 113.3,665.8 114.1,667.7 114.9,669.6 115.7,671.5 116.5,673.3 117.3,675.1 118.1,677.0 118.9,678.9 119.7,680.8 120.5,682.7 121.3,684.7 122.1,686.6 122.9,688.5 123.7,690.5 124.5,692.4 125.3,694.3 126.1,696.0 126.9,697.5 127.7,698.9 128.5,700.2 129.3,701.5 130.1,702.7 130.9,703.9 131.7,705.0 132.5,706.0 133.3,707.0 134.1,707.9 134.9,708.8 135.7,709.6 136.5,710.4 137.3,711.2 138.1,712.0 138.9,712.7 139.7,713.4 140.5,714.1 141.3,714.7 142.1,715.3 142.9,715.9 143.7,716.3 144.5,716.8 145.3,717.2 146.1,717.5 146.9,717.9 147.7,718.2 148.4,718.5 149.2,718.8 150.0,719.1 150.8,719.4 151.6,719.6 152.4,719.9 153.2,720.1 154.0,720.4 154.8,720.6 155.6,720.9 156.4,721.2 157.2,721.4 158.0,721.7 158.8,722.0 159.6,722.3 160.4,722.6 161.2,722.9 162.0,723.2 162.8,723.5 163.6,723.8 164.4,724.0 165.2,724.3 166.0,724.5 166.8,724.7 167.6,724.9 168.4,725.0 169.2,725.2 170.0,725.3 170.8,725.4 171.6,725.5 172.4,725.5 173.2,725.6 174.0,725.7 174.8,725.8 175.6,725.8 176.4,725.9 177.2,726.0 178.0,726.0 178.8,726.1 179.6,726.2 180.4,726.2 181.2,726.3 182.0,726.4 182.8,726.5 183.6,726.6 184.4,726.7 185.2,726.8 186.0,726.9 186.8,727.0 187.6,727.1 188.3,727.2 189.1,727.3 189.9,727.4 190.7,727.4 191.5,727.5 192.3,727.6 193.1,727.6 193.9,727.7 194.7,727.7 195.5,727.8 196.3,727.8 197.1,727.8 197.9,727.8 198.7,727.9 199.5,727.9 200.3,727.9 201.1,727.9 201.9,727.9 202.7,728.0 203.5,728.0 204.3,728.0 205.1,728.0 205.9,728.0 206.7,728.1 207.5,728.1 207.5,736.2 206.7,736.1 205.9,736.1 205.1,736.1 204.3,736.1 203.5,736.0 202.7,736.0 201.9,736.0 201.1,736.0 200.3,736.0 199.5,735.9 198.7,735.9 197.9,735.9 197.1,735.9 196.3,735.8 195.5,735.8 194.7,735.8 193.9,735.8 193.1,735.7 192.3,735.7 191.5,735.6 190.7,735.5 189.9,735.4 189.1,735.3 188.3,735.2 187.6,735.1 186.8,735.0 186.0,734.9 185.2,734.8 184.4,734.7 183.6,734.6 182.8,734.5 182.0,734.5 181.2,734.4 180.4,734.3 179.6,734.2 178.8,734.2 178.0,734.1 177.2,734.0 176.4,734.0 175.6,733.9 174.8,733.8 174.0,733.8 173.2,733.7 172.4,733.6 171.6,733.5 170.8,733.4 170.0,733.3 169.2,733.2 168.4,733.1 167.6,732.9 166.8,732.8 166.0,732.6 165.2,732.4 164.4,732.1 163.6,731.9 162.8,731.7 162.0,731.4 161.2,731.2 160.4,730.9 159.6,730.7 158.8,730.4 158.0,730.2 157.2,730.0 156.4,729.8 155.6,729.6 154.8,729.4 154.0,729.2 153.2,729.1 152.4,728.9 151.6,728.7 150.8,728.6 150.0,728.4 149.2,728.2 148.4,728.1 147.7,727.9 146.9,727.7 146.1,727.4 145.3,727.2 144.5,726.9 143.7,726.6 142.9,726.3 142.1,725.9 141.3,725.4 140.5,724.9 139.7,724.4 138.9,723.9 138.1,723.3 137.3,722.7 136.5,722.0 135.7,721.4 134.9,720.7 134.1,720.0 133.3,719.3 132.5,718.5 131.7,717.6 130.9,716.7 130.1,715.7 129.3,714.7 128.5,713.6 127.7,712.5 126.9,711.3 126.1,710.1 125.3,708.8 124.5,707.3 123.7,705.9 122.9,704.4 122.1,703.0 121.3,701.7 120.5,700.4 119.7,699.0 118.9,697.7 118.1,696.4 117.3,695.1 116.5,693.9 115.7,692.6 114.9,691.3 114.1,689.9 113.3,688.4 112.5,687.0 111.7,685.7 110.9,684.5 110.1,683.5 109.3,682.9 108.5,682.4 107.8,681.8 107.0,681.4 106.2,681.2 105.4,681.1 104.6,681.1 103.8,681.2 103.0,681.3 102.2,681.4 101.4,681.7 100.6,681.9 99.8,682.2 99.0,682.9 98.2,684.5 97.4,686.8 96.6,689.5 95.8,692.3 95.0,694.9 94.2,697.2 93.4,699.4 92.6,701.6 91.8,703.8 91.0,706.0 90.2,708.2 89.4,710.4 88.6,712.4 87.8,714.5 87.0,716.8 86.2,719.2 85.4,721.5 84.6,723.7 83.8,725.7 83.0,727.4 82.2,728.6 81.4,729.5 80.6,730.3 79.8,731.0 79.0,731.6 78.2,732.2 77.4,732.7 76.6,733.3 75.8,733.9 75.0,734.5 74.2,735.1 73.4,735.6 72.6,736.1 71.8,736.5 71.0,736.9 70.2,737.1 69.4,737.3 68.6,737.5 67.9,737.6 67.1,737.8 66.3,737.9 65.5,738.0 64.7,738.0 63.9,738.1 63.1,738.1 62.3,737.4 61.5,735.2 60.7,732.8 59.9,731.7 59.1,731.8 58.3,732.0 57.5,732.2 56.7,732.5 55.9,732.7 55.1,732.7 54.3,732.7 53.5,732.5 52.7,732.4 51.9,732.1 51.1,731.9 50.3,731.6 49.5,731.4 48.7,731.2Z" stroke="none" stroke-width="1" fill="#f6c6c6" fill-opacity="0.6"/>
<line x1="48.7" y1="629.6" x2="48.7" y2="751.5" stroke="#000" stroke-width="1.5"/>
<line x1="48.7" y1="737.9" x2="207.5" y2="737.9" stroke="#000" stroke-width="1.5"/>
<line x1="88.4" y1="737.9" x2="88.4" y2="742.9" stroke="#000" stroke-width="1.5"/>
<text x="88.4" y="752.8" font-size="9" text-anchor="middle" font-weight="normal" font-style="normal" fill="#000">50</text>
<line x1="128.1" y1="737.9" x2="128.1" y2="742.9" stroke="#000" stroke-width="1.5"/>
<text x="128.1" y="752.8" font-size="9" text-anchor="middle" font-weight="normal" font-style="normal" fill="#000">100</text>
<line x1="167.8" y1="737.9" x2="167.8" y2="742.9" stroke="#000" stroke-width="1.5"/>
<text x="167.8" y="752.8" font-size="9" text-anchor="middle" font-weight="normal" font-style="normal" fill="#000">150</text>
<line x1="207.5" y1="737.9" x2="207.5" y2="742.9" stroke="#000" stroke-width="1.5"/>
<text x="207.5" y="752.8" font-size="9" text-anchor="middle" font-weight="normal" font-style="normal" fill="#000">200</text>
<line x1="43.7" y1="737.9" x2="48.7" y2="737.9" stroke="#000" stroke-width="1.5"/>
<text x="42.2" y="741.1" font-size="9" text-anchor="end" font-weight="normal" font-style="normal" fill="#000">0</text>
<line x1="43.7" y1="711.02" x2="48.7" y2="711.02" stroke="#000" stroke-width="1.5"/>
<text x="42.2" y="714.23" font-size="9" text-anchor="end" font-weight="normal" font-style="normal" fill="#000">20</text>
<line x1="43.7" y1="684.15" x2="48.7" y2="684.15" stroke="#000" stroke-width="1.5"/>
<text x="42.2" y="687.35" font-size="9" text-anchor="end" font-weight="normal" font-style="normal" fill="#000">40</text>
<line x1="43.7" y1="657.27" x2="48.7" y2="657.27" stroke="#000" stroke-width="1.5"/>
<text x="42.2" y="660.48" font-size="9" text-anchor="end" font-weight="normal" font-style="normal" fill="#000">60</text>
<line x1="43.7" y1="630.4" x2="48.7" y2="630.4" stroke="#000" stroke-width="1.5"/>
<text x="42.2" y="633.6" font-size="9" text-anchor="end" font-weight="normal" font-style="normal" fill="#000">80</text>
<text x="133.1" y="766.4" font-size="11.6" text-anchor="middle" font-weight="normal" font-style="normal" fill="#000">Time (s)</text>
<text x="26" y="684.15" font-size="10" text-anchor="middle" font-weight="normal" font-style="normal" fill="#000" transform="rotate(-90 26 684.15)">GCaMP5 (ΔF/F<tspan font-size="70%" dy="2">0</tspan><tspan dy="-2">, %)</tspan></text>
<path d="M48.7,729.2 49.4,729.4 50.2,728.5 50.9,730.9 51.6,729.2 52.3,731.7 53.1,730.4 53.8,730.5 54.5,729.3 55.2,730.4 56.0,730.8 56.7,728.7 57.4,728.3 58.1,730.2 58.9,728.7 59.6,729.6 60.3,729.3 61.0,731.0 61.8,734.7 62.5,735.0 63.2,736.3 63.9,736.2 64.7,735.7 65.4,737.0 66.1,736.4 66.8,734.7 67.6,734.1 68.3,733.7 69.0,734.8 69.7,733.5 70.5,732.5 71.2,732.5 71.9,734.5 72.6,734.4 73.4,731.9 74.1,730.6 74.8,731.2 75.5,729.7 76.3,729.8 77.0,729.2 77.7,728.5 78.4,728.0 79.2,728.0 79.9,725.2 80.6,725.4 81.3,725.9 82.1,724.7 82.8,724.2 83.5,721.1 84.2,720.9 85.0,717.6 85.7,714.2 86.4,711.8 87.1,709.3 87.9,708.5 88.6,704.4 89.3,702.9 90.0,699.2 90.8,698.4 91.5,694.2 92.2,693.0 92.9,690.3 93.7,689.1 94.4,686.8 95.1,684.4 95.8,680.5 96.6,679.2 97.3,676.3 98.0,672.8 98.7,671.6 99.5,671.3 100.2,670.4 100.9,671.6 101.6,671.4 102.4,669.3 103.1,666.9 103.8,667.4 104.5,666.8 105.3,668.6 106.0,669.6 106.7,668.3 107.4,670.7 108.2,672.7 108.9,670.1 109.6,670.1 110.3,671.1 111.1,671.3 111.8,673.3 112.5,675.1 113.2,677.9 114.0,678.5 114.7,681.1 115.4,681.8 116.1,681.0 116.9,684.0 117.6,685.3 118.3,687.7 119.0,686.1 119.8,691.9 120.5,692.4 121.2,692.1 121.9,695.1 122.7,696.7 123.4,697.0 124.1,698.3 124.8,699.9 125.6,702.8 126.3,702.7 127.0,705.7 127.7,706.6 128.5,707.8 129.2,707.6 129.9,709.3 130.6,710.8 131.4,710.8 132.1,712.7 132.8,713.1 133.5,713.7 134.3,714.7 135.0,715.8 135.7,716.7 136.4,715.2 137.2,718.8 137.9,717.2 138.6,718.9 139.3,719.3 140.1,720.9 140.8,719.8 141.5,720.8 142.2,719.7 143.0,721.6 143.7,722.5 144.4,723.0 145.1,721.2 145.9,721.9 146.6,723.0 147.3,721.4 148.0,722.9 148.8,723.7 149.5,723.1 150.2,724.8 150.9,723.9 151.7,725.3 152.4,723.8 153.1,724.0 153.8,724.9 154.6,723.9 155.3,725.8 156.0,724.8 156.7,725.7 157.5,726.9 158.2,725.4 158.9,724.7 159.6,723.6 160.4,726.7 161.1,726.5 161.8,725.6 162.5,728.5 163.3,726.3 164.0,729.5 164.7,729.3 165.4,728.6 166.2,728.9 166.9,727.8 167.6,729.9 168.3,729.2 169.1,729.5 169.8,729.1 170.5,728.8 171.2,728.6 172.0,729.2 172.7,729.2 173.4,729.6 174.1,731.2 174.9,731.5 175.6,729.5 176.3,731.2 177.0,730.7 177.8,729.8 178.5,730.4 179.2,730.9 179.9,731.1 180.7,730.3 181.4,729.0 182.1,732.0 182.8,730.7 183.6,729.7 184.3,730.4 185.0,731.3 185.7,730.8 186.5,730.6 187.2,730.1 187.9,732.7 188.6,732.1 189.4,731.1 190.1,731.0 190.8,731.3 191.5,731.2 192.3,730.8 193.0,731.2 193.7,729.3 194.4,732.4 195.2,732.1 195.9,733.2 196.6,731.3 197.3,731.6 198.1,732.0 198.8,733.0 199.5,730.1 200.2,731.5 201.0,731.2 201.7,733.2 202.4,731.7 203.1,731.5 203.9,730.4 204.6,731.5 205.3,731.1 206.0,733.5 206.8,732.3 207.5,732.0" stroke="#ee1c24" stroke-width="1.6" fill="none" stroke-linejoin="round"/>
<path d="M48.7,738.0 49.4,739.2 50.2,737.2 50.9,738.4 51.6,738.7 52.3,739.2 53.1,737.7 53.8,739.4 54.5,738.1 55.2,739.0 56.0,738.4 56.7,738.4 57.4,737.4 58.1,737.0 58.9,738.2 59.6,736.4 60.3,736.6 61.0,736.4 61.8,736.1 62.5,738.6 63.2,736.0 63.9,738.9 64.7,738.3 65.4,737.6 66.1,737.1 66.8,737.6 67.6,737.9 68.3,737.8 69.0,739.2 69.7,738.3 70.5,736.2 71.2,740.0 71.9,737.9 72.6,737.4 73.4,737.5 74.1,736.3 74.8,735.1 75.5,734.0 76.3,732.4 77.0,731.8 77.7,729.2 78.4,729.0 79.2,728.2 79.9,724.5 80.6,725.4 81.3,724.0 82.1,723.7 82.8,720.1 83.5,719.3 84.2,716.8 85.0,713.3 85.7,711.0 86.4,709.5 87.1,705.9 87.9,703.4 88.6,701.4 89.3,699.5 90.0,695.9 90.8,694.9 91.5,690.8 92.2,688.4 92.9,686.8 93.7,684.0 94.4,678.4 95.1,679.2 95.8,674.4 96.6,671.5 97.3,667.7 98.0,664.8 98.7,661.6 99.5,659.4 100.2,658.2 100.9,657.6 101.6,655.1 102.4,653.1 103.1,652.1 103.8,650.9 104.5,651.3 105.3,651.6 106.0,650.6 106.7,649.5 107.4,648.7 108.2,648.5 108.9,649.0 109.6,651.5 110.3,652.3 111.1,653.2 111.8,655.4 112.5,657.0 113.2,660.6 114.0,661.3 114.7,666.5 115.4,667.4 116.1,669.9 116.9,673.2 117.6,675.1 118.3,678.7 119.0,680.8 119.8,682.3 120.5,685.3 121.2,685.1 121.9,688.4 122.7,688.9 123.4,690.7 124.1,692.6 124.8,693.5 125.6,694.5 126.3,696.3 127.0,695.3 127.7,698.9 128.5,698.9 129.2,698.8 129.9,700.2 130.6,700.7 131.4,704.2 132.1,704.7 132.8,706.1 133.5,706.7 134.3,709.8 135.0,710.3 135.7,709.9 136.4,712.3 137.2,713.4 137.9,714.9 138.6,714.9 139.3,718.3 140.1,718.4 140.8,719.0 141.5,719.2 142.2,720.0 143.0,722.2 143.7,720.9 144.4,722.2 145.1,719.7 145.9,722.6 146.6,721.9 147.3,723.6 148.0,723.7 148.8,724.6 149.5,723.5 150.2,723.5 150.9,725.9 151.7,724.7 152.4,724.8 153.1,724.5 153.8,726.3 154.6,724.9 155.3,727.2 156.0,726.3 156.7,727.0 157.5,727.1 158.2,726.1 158.9,726.7 159.6,725.0 160.4,727.5 161.1,728.2 161.8,726.8 162.5,727.7 163.3,728.4 164.0,727.1 164.7,727.1 165.4,729.6 166.2,728.8 166.9,727.7 167.6,729.4 168.3,727.5 169.1,729.1 169.8,728.8 170.5,729.2 171.2,730.3 172.0,729.7 172.7,730.3 173.4,730.2 174.1,729.1 174.9,729.6 175.6,730.5 176.3,730.2 177.0,729.4 177.8,730.8 178.5,731.2 179.2,730.5 179.9,731.7 180.7,732.4 181.4,730.0 182.1,732.6 182.8,731.8 183.6,731.8 184.3,732.6 185.0,731.0 185.7,731.2 186.5,732.7 187.2,734.5 187.9,733.2 188.6,735.1 189.4,733.5 190.1,733.5 190.8,734.1 191.5,733.6 192.3,734.7 193.0,735.8 193.7,735.6 194.4,734.5 195.2,737.3 195.9,735.5 196.6,736.9 197.3,734.2 198.1,737.4 198.8,738.2 199.5,735.7 200.2,735.9 201.0,737.4 201.7,737.1 202.4,738.2 203.1,737.4 203.9,736.7 204.6,737.2 205.3,737.7 206.0,738.2 206.8,736.9 207.5,736.5" stroke="#000" stroke-width="1.8" fill="none" stroke-linejoin="round"/>
<text x="137.3" y="646" font-size="9.2" text-anchor="start" font-weight="normal" font-style="normal" fill="#000">WT</text>
<line x1="136.8" y1="659.2" x2="147.8" y2="659.2" stroke="#000" stroke-width="1.8"/>
<text x="150.3" y="662.3" font-size="9.2" text-anchor="start" font-weight="normal" font-style="normal" fill="#000">Control</text>
<line x1="136.8" y1="674.1" x2="147.8" y2="674.1" stroke="#e8212b" stroke-width="1.8"/>
<text x="150.3" y="677.2" font-size="9.2" text-anchor="start" font-weight="normal" font-style="normal" fill="#000">Histamine</text>
<text x="237.8" y="588.5" font-size="18" text-anchor="start" font-weight="normal" font-style="normal" fill="#000">k</text>
<path d="M278,612.5 L290.2,612.5 L291.5,620.5 L437.2,620.5" stroke="#3d3434" stroke-width="1" fill="none"/>
<text x="267" y="608.6" font-size="8" text-anchor="start" font-weight="normal" font-style="normal" fill="#000">20 °C</text>
<text x="362.7" y="616.3" font-size="8" text-anchor="middle" font-weight="normal" font-style="normal" fill="#000">10 °C</text>
<path d="M280.2,729.5 281.0,729.5 281.8,729.6 282.6,729.6 283.4,729.7 284.2,729.7 285.0,729.8 285.8,729.8 286.6,729.9 287.4,729.9 288.2,729.9 289.0,729.9 289.8,729.9 290.6,729.9 291.4,729.8 292.2,729.8 293.0,729.7 293.8,729.7 294.6,729.6 295.4,729.6 296.3,729.5 297.1,729.5 297.9,729.4 298.7,729.4 299.5,729.3 300.3,729.3 301.1,729.2 301.9,729.2 302.7,729.1 303.5,729.0 304.3,728.8 305.1,728.4 305.9,727.9 306.7,727.3 307.5,726.6 308.3,725.7 309.1,724.8 309.9,723.8 310.7,722.8 311.5,721.6 312.3,719.9 313.1,717.8 313.9,715.3 314.7,712.6 315.5,709.9 316.3,707.0 317.1,703.9 317.9,700.6 318.7,697.1 319.5,693.5 320.3,690.0 321.1,686.6 321.9,683.3 322.7,680.1 323.5,676.9 324.3,673.7 325.1,670.6 325.9,667.6 326.7,664.5 327.5,661.5 328.4,658.3 329.2,655.0 330.0,651.7 330.8,648.5 331.6,645.6 332.4,643.2 333.2,641.2 334.0,639.3 334.8,637.6 335.6,636.0 336.4,634.7 337.2,633.7 338.0,633.2 338.8,633.1 339.6,633.9 340.4,635.4 341.2,637.3 342.0,639.4 342.8,641.4 343.6,643.4 344.4,645.7 345.2,648.1 346.0,650.6 346.8,653.2 347.6,655.7 348.4,658.2 349.2,660.5 350.0,662.6 350.8,664.7 351.6,666.8 352.4,668.7 353.2,670.7 354.0,672.6 354.8,674.5 355.6,676.3 356.4,678.1 357.2,679.9 358.0,681.8 358.8,683.5 359.6,685.2 360.5,686.9 361.3,688.5 362.1,689.9 362.9,691.4 363.7,692.6 364.5,693.8 365.3,694.9 366.1,695.8 366.9,696.7 367.7,697.6 368.5,698.4 369.3,699.2 370.1,700.0 370.9,700.8 371.7,701.6 372.5,702.4 373.3,703.3 374.1,704.1 374.9,704.9 375.7,705.8 376.5,706.6 377.3,707.4 378.1,708.3 378.9,709.1 379.7,710.0 380.5,710.9 381.3,711.8 382.1,712.8 382.9,713.7 383.7,714.7 384.5,715.6 385.3,716.4 386.1,717.2 386.9,718.0 387.7,718.8 388.5,719.5 389.3,720.1 390.1,720.5 390.9,720.8 391.7,721.1 392.6,721.3 393.4,721.5 394.2,721.6 395.0,721.8 395.8,721.9 396.6,722.1 397.4,722.3 398.2,722.5 399.0,722.7 399.8,723.0 400.6,723.4 401.4,723.7 402.2,724.1 403.0,724.4 403.8,724.8 404.6,725.1 405.4,725.4 406.2,725.7 407.0,726.0 407.8,726.2 408.6,726.3 409.4,726.5 410.2,726.6 411.0,726.7 411.8,726.8 412.6,727.0 413.4,727.1 414.2,727.2 415.0,727.3 415.8,727.4 416.6,727.4 417.4,727.5 418.2,727.6 419.0,727.7 419.8,727.8 420.6,727.8 421.4,727.9 422.2,727.9 423.0,728.0 423.8,728.1 424.7,728.1 425.5,728.2 426.3,728.2 427.1,728.3 427.9,728.3 428.7,728.3 429.5,728.4 430.3,728.4 431.1,728.5 431.9,728.5 432.7,728.5 433.5,728.6 434.3,728.6 435.1,728.6 435.9,728.7 436.7,728.7 437.5,728.7 438.3,728.8 439.1,728.8 439.9,728.8 439.9,738.8 439.1,738.7 438.3,738.7 437.5,738.6 436.7,738.6 435.9,738.6 435.1,738.5 434.3,738.5 433.5,738.5 432.7,738.4 431.9,738.4 431.1,738.4 430.3,738.3 429.5,738.3 428.7,738.2 427.9,738.2 427.1,738.2 426.3,738.1 425.5,738.1 424.7,738.0 423.8,738.0 423.0,737.9 422.2,737.9 421.4,737.8 420.6,737.7 419.8,737.7 419.0,737.6 418.2,737.5 417.4,737.4 416.6,737.4 415.8,737.3 415.0,737.2 414.2,737.1 413.4,737.0 412.6,736.9 411.8,736.7 411.0,736.6 410.2,736.5 409.4,736.4 408.6,736.2 407.8,736.1 407.0,735.9 406.2,735.6 405.4,735.4 404.6,735.0 403.8,734.7 403.0,734.3 402.2,734.0 401.4,733.6 400.6,733.3 399.8,732.9 399.0,732.7 398.2,732.4 397.4,732.3 396.6,732.2 395.8,732.1 395.0,732.0 394.2,732.0 393.4,731.9 392.6,731.9 391.7,731.8 390.9,731.7 390.1,731.6 389.3,731.4 388.5,731.0 387.7,730.5 386.9,729.9 386.1,729.3 385.3,728.7 384.5,728.2 383.7,727.6 382.9,726.9 382.1,726.2 381.3,725.6 380.5,724.9 379.7,724.3 378.9,723.8 378.1,723.2 377.3,722.7 376.5,722.2 375.7,721.7 374.9,721.2 374.1,720.7 373.3,720.3 372.5,719.8 371.7,719.3 370.9,718.8 370.1,718.4 369.3,718.0 368.5,717.6 367.7,717.1 366.9,716.6 366.1,716.1 365.3,715.5 364.5,714.9 363.7,714.1 362.9,713.2 362.1,712.1 361.3,711.0 360.5,709.8 359.6,708.6 358.8,707.3 358.0,706.0 357.2,704.7 356.4,703.5 355.6,702.3 354.8,701.2 354.0,700.0 353.2,698.8 352.4,697.6 351.6,696.4 350.8,695.1 350.0,693.7 349.2,692.3 348.4,690.8 347.6,689.0 346.8,687.2 346.0,685.3 345.2,683.4 344.4,681.5 343.6,679.7 342.8,678.2 342.0,676.5 341.2,674.8 340.4,673.1 339.6,671.8 338.8,671.1 338.0,671.1 337.2,671.5 336.4,672.1 335.6,673.0 334.8,674.0 334.0,675.0 333.2,676.2 332.4,677.3 331.6,678.9 330.8,680.9 330.0,683.3 329.2,685.8 328.4,688.3 327.5,690.7 326.7,692.8 325.9,694.8 325.1,696.8 324.3,698.8 323.5,700.7 322.7,702.7 321.9,704.7 321.1,706.7 320.3,708.8 319.5,711.1 318.7,713.5 317.9,715.8 317.1,718.1 316.3,720.2 315.5,722.1 314.7,724.1 313.9,726.2 313.1,728.1 312.3,729.9 311.5,731.3 310.7,732.3 309.9,733.1 309.1,733.9 308.3,734.6 307.5,735.3 306.7,735.8 305.9,736.3 305.1,736.6 304.3,736.8 303.5,736.9 302.7,736.9 301.9,736.8 301.1,736.7 300.3,736.7 299.5,736.6 298.7,736.6 297.9,736.5 297.1,736.5 296.3,736.4 295.4,736.4 294.6,736.3 293.8,736.3 293.0,736.2 292.2,736.2 291.4,736.1 290.6,736.1 289.8,736.0 289.0,736.0 288.2,735.9 287.4,735.8 286.6,735.7 285.8,735.5 285.0,735.4 284.2,735.2 283.4,735.1 282.6,734.9 281.8,734.8 281.0,734.6 280.2,734.5Z" stroke="none" stroke-width="1" fill="#c8c8c8" fill-opacity="0.6"/>
<path d="M280.2,732.6 281.0,732.7 281.8,732.9 282.6,733.0 283.4,733.2 284.2,733.3 285.0,733.4 285.8,733.6 286.6,733.7 287.4,733.8 288.2,733.9 289.0,733.9 289.8,733.9 290.6,733.8 291.4,733.8 292.2,733.6 293.0,733.5 293.8,733.4 294.6,733.2 295.4,733.0 296.3,732.8 297.1,732.5 297.9,732.3 298.7,732.0 299.5,731.7 300.3,731.5 301.1,731.2 301.9,730.9 302.7,730.6 303.5,730.3 304.3,730.0 305.1,729.7 305.9,729.3 306.7,728.9 307.5,728.4 308.3,727.9 309.1,727.2 309.9,726.3 310.7,725.2 311.5,724.0 312.3,722.7 313.1,721.4 313.9,720.1 314.7,718.8 315.5,717.5 316.3,716.4 317.1,715.4 317.9,714.4 318.7,713.5 319.5,712.5 320.3,711.6 321.1,710.6 321.9,709.6 322.7,708.5 323.5,707.3 324.3,706.0 325.1,704.7 325.9,703.3 326.7,701.8 327.5,700.2 328.4,698.6 329.2,696.9 330.0,695.1 330.8,693.2 331.6,691.3 332.4,688.9 333.2,686.1 334.0,683.2 334.8,680.3 335.6,677.5 336.4,675.1 337.2,673.1 338.0,671.9 338.8,670.9 339.6,670.1 340.4,669.4 341.2,668.8 342.0,668.2 342.8,667.6 343.6,667.1 344.4,666.5 345.2,665.8 346.0,665.3 346.8,665.1 347.6,665.3 348.4,665.7 349.2,666.2 350.0,666.8 350.8,667.4 351.6,668.1 352.4,668.7 353.2,669.4 354.0,670.2 354.8,671.0 355.6,671.9 356.4,672.8 357.2,673.7 358.0,674.7 358.8,675.5 359.6,676.4 360.5,677.2 361.3,678.1 362.1,679.0 362.9,679.9 363.7,680.8 364.5,681.7 365.3,682.6 366.1,683.5 366.9,684.3 367.7,685.0 368.5,685.7 369.3,686.4 370.1,686.9 370.9,687.5 371.7,688.0 372.5,688.5 373.3,689.0 374.1,689.5 374.9,689.9 375.7,690.3 376.5,690.7 377.3,691.1 378.1,691.5 378.9,691.8 379.7,692.1 380.5,692.4 381.3,692.8 382.1,693.1 382.9,693.4 383.7,693.7 384.5,694.0 385.3,694.3 386.1,694.5 386.9,694.7 387.7,694.9 388.5,695.0 389.3,695.1 390.1,695.2 390.9,695.2 391.7,695.2 392.6,695.2 393.4,695.3 394.2,695.3 395.0,695.3 395.8,695.3 396.6,695.3 397.4,695.3 398.2,695.3 399.0,695.3 399.8,695.6 400.6,696.5 401.4,697.5 402.2,698.5 403.0,699.2 403.8,699.6 404.6,700.0 405.4,700.4 406.2,700.7 407.0,701.0 407.8,701.3 408.6,701.6 409.4,701.8 410.2,702.1 411.0,702.3 411.8,702.5 412.6,702.8 413.4,703.0 414.2,703.3 415.0,703.5 415.8,703.7 416.6,703.9 417.4,704.1 418.2,704.3 419.0,704.5 419.8,704.7 420.6,704.9 421.4,705.1 422.2,705.3 423.0,705.5 423.8,705.7 424.7,705.9 425.5,706.1 426.3,706.3 427.1,706.5 427.9,706.7 428.7,707.0 429.5,707.2 430.3,707.4 431.1,707.7 431.9,708.0 432.7,708.2 433.5,708.5 434.3,708.8 435.1,709.0 435.9,709.3 436.7,709.6 437.5,709.9 438.3,710.1 439.1,710.4 439.9,710.7 439.9,723.9 439.1,723.6 438.3,723.4 437.5,723.1 436.7,722.8 435.9,722.5 435.1,722.3 434.3,722.0 433.5,721.7 432.7,721.4 431.9,721.2 431.1,720.9 430.3,720.7 429.5,720.4 428.7,720.2 427.9,719.9 427.1,719.7 426.3,719.5 425.5,719.3 424.7,719.1 423.8,718.9 423.0,718.7 422.2,718.5 421.4,718.3 420.6,718.1 419.8,717.9 419.0,717.7 418.2,717.5 417.4,717.3 416.6,717.1 415.8,716.9 415.0,716.7 414.2,716.5 413.4,716.2 412.6,716.0 411.8,715.7 411.0,715.5 410.2,715.3 409.4,715.0 408.6,714.8 407.8,714.5 407.0,714.2 406.2,713.9 405.4,713.6 404.6,713.2 403.8,712.8 403.0,712.4 402.2,711.8 401.4,710.8 400.6,709.7 399.8,708.8 399.0,708.5 398.2,708.5 397.4,708.5 396.6,708.5 395.8,708.6 395.0,708.6 394.2,708.6 393.4,708.6 392.6,708.6 391.7,708.6 390.9,708.6 390.1,708.7 389.3,708.7 388.5,708.6 387.7,708.5 386.9,708.4 386.1,708.2 385.3,708.0 384.5,707.8 383.7,707.6 382.9,707.3 382.1,707.1 381.3,706.8 380.5,706.6 379.7,706.3 378.9,706.1 378.1,705.8 377.3,705.5 376.5,705.2 375.7,704.9 374.9,704.5 374.1,704.1 373.3,703.8 372.5,703.3 371.7,702.9 370.9,702.4 370.1,702.0 369.3,701.5 368.5,700.9 367.7,700.3 366.9,699.6 366.1,698.8 365.3,698.1 364.5,697.2 363.7,696.4 362.9,695.6 362.1,694.7 361.3,693.9 360.5,693.1 359.6,692.3 358.8,691.5 358.0,690.7 357.2,689.8 356.4,688.9 355.6,688.1 354.8,687.2 354.0,686.4 353.2,685.7 352.4,685.0 351.6,684.4 350.8,683.8 350.0,683.2 349.2,682.6 348.4,682.1 347.6,681.8 346.8,681.6 346.0,681.8 345.2,682.3 344.4,683.0 343.6,683.6 342.8,684.1 342.0,684.6 341.2,685.2 340.4,685.7 339.6,686.4 338.8,687.1 338.0,687.9 337.2,689.1 336.4,690.9 335.6,693.1 334.8,695.8 334.0,698.5 333.2,701.3 332.4,703.9 331.6,706.1 330.8,707.8 330.0,709.5 329.2,711.1 328.4,712.6 327.5,714.0 326.7,715.3 325.9,716.6 325.1,717.8 324.3,718.9 323.5,720.0 322.7,720.9 321.9,721.8 321.1,722.6 320.3,723.4 319.5,724.1 318.7,724.9 317.9,725.6 317.1,726.4 316.3,727.2 315.5,728.1 314.7,729.2 313.9,730.3 313.1,731.5 312.3,732.7 311.5,733.8 310.7,734.9 309.9,735.8 309.1,736.6 308.3,737.1 307.5,737.5 306.7,737.8 305.9,738.1 305.1,738.4 304.3,738.6 303.5,738.8 302.7,738.9 301.9,739.1 301.1,739.3 300.3,739.4 299.5,739.6 298.7,739.7 297.9,739.9 297.1,740.0 296.3,740.1 295.4,740.2 294.6,740.3 293.8,740.4 293.0,740.4 292.2,740.4 291.4,740.4 290.6,740.4 289.8,740.3 289.0,740.2 288.2,740.0 287.4,739.8 286.6,739.6 285.8,739.4 285.0,739.1 284.2,738.9 283.4,738.6 282.6,738.3 281.8,738.1 281.0,737.8 280.2,737.6Z" stroke="none" stroke-width="1" fill="#f6c6c6" fill-opacity="0.6"/>
<line x1="280.2" y1="618.8" x2="280.2" y2="742" stroke="#000" stroke-width="1.5"/>
<line x1="280.2" y1="733.8" x2="439.9" y2="733.8" stroke="#000" stroke-width="1.5"/>
<line x1="320.12" y1="733.8" x2="320.12" y2="738.8" stroke="#000" stroke-width="1.5"/>
<text x="320.12" y="749.6" font-size="9" text-anchor="middle" font-weight="normal" font-style="normal" fill="#000">50</text>
<line x1="360.05" y1="733.8" x2="360.05" y2="738.8" stroke="#000" stroke-width="1.5"/>
<text x="360.05" y="749.6" font-size="9" text-anchor="middle" font-weight="normal" font-style="normal" fill="#000">100</text>
<line x1="399.98" y1="733.8" x2="399.98" y2="738.8" stroke="#000" stroke-width="1.5"/>
<text x="399.98" y="749.6" font-size="9" text-anchor="middle" font-weight="normal" font-style="normal" fill="#000">150</text>
<line x1="439.9" y1="733.8" x2="439.9" y2="738.8" stroke="#000" stroke-width="1.5"/>
<text x="439.9" y="749.6" font-size="9" text-anchor="middle" font-weight="normal" font-style="normal" fill="#000">200</text>
<line x1="275.2" y1="733.8" x2="280.2" y2="733.8" stroke="#000" stroke-width="1.5"/>
<text x="273.7" y="737" font-size="9" text-anchor="end" font-weight="normal" font-style="normal" fill="#000">0</text>
<line x1="275.2" y1="700.77" x2="280.2" y2="700.77" stroke="#000" stroke-width="1.5"/>
<text x="273.7" y="703.97" font-size="9" text-anchor="end" font-weight="normal" font-style="normal" fill="#000">20</text>
<line x1="275.2" y1="667.73" x2="280.2" y2="667.73" stroke="#000" stroke-width="1.5"/>
<text x="273.7" y="670.93" font-size="9" text-anchor="end" font-weight="normal" font-style="normal" fill="#000">40</text>
<line x1="275.2" y1="634.7" x2="280.2" y2="634.7" stroke="#000" stroke-width="1.5"/>
<text x="273.7" y="637.9" font-size="9" text-anchor="end" font-weight="normal" font-style="normal" fill="#000">60</text>
<text x="365.05" y="763.2" font-size="11.6" text-anchor="middle" font-weight="normal" font-style="normal" fill="#000">Time (s)</text>
<text x="255.5" y="684.25" font-size="10" text-anchor="middle" font-weight="normal" font-style="normal" fill="#000" transform="rotate(-90 255.5 684.25)">GCaMP5 (ΔF/F<tspan font-size="70%" dy="2">0</tspan><tspan dy="-2">, %)</tspan></text>
<path d="M280.2,734.6 280.9,735.3 281.7,736.1 282.4,734.8 283.1,735.2 283.8,736.9 284.6,736.5 285.3,737.3 286.0,737.6 286.8,735.2 287.5,737.1 288.2,736.4 289.0,736.8 289.7,737.0 290.4,738.0 291.1,737.9 291.9,736.7 292.6,736.1 293.3,738.4 294.1,737.6 294.8,736.9 295.5,735.7 296.2,736.0 297.0,735.6 297.7,735.9 298.4,736.7 299.2,735.9 299.9,734.5 300.6,735.2 301.3,736.2 302.1,733.8 302.8,734.4 303.5,733.9 304.3,732.7 305.0,734.5 305.7,734.3 306.5,735.5 307.2,733.0 307.9,732.2 308.6,732.3 309.4,731.6 310.1,730.0 310.8,729.5 311.6,728.5 312.3,727.8 313.0,726.6 313.7,724.6 314.5,724.4 315.2,723.6 315.9,722.7 316.7,721.5 317.4,720.4 318.1,719.4 318.8,718.9 319.6,718.5 320.3,718.9 321.0,716.2 321.8,716.7 322.5,715.1 323.2,713.1 324.0,712.8 324.7,712.6 325.4,710.2 326.1,709.8 326.9,708.7 327.6,706.0 328.3,705.0 329.1,701.5 329.8,703.5 330.5,701.0 331.2,699.1 332.0,696.4 332.7,695.5 333.4,691.5 334.2,690.0 334.9,688.2 335.6,685.3 336.4,683.0 337.1,681.4 337.8,680.6 338.5,679.4 339.3,677.7 340.0,677.1 340.7,675.7 341.5,677.4 342.2,677.1 342.9,674.0 343.6,675.0 344.4,674.4 345.1,674.8 345.8,673.3 346.6,673.3 347.3,673.4 348.0,672.7 348.7,674.7 349.5,674.4 350.2,676.6 350.9,675.3 351.7,677.2 352.4,675.3 353.1,678.6 353.9,676.8 354.6,679.6 355.3,681.0 356.0,680.3 356.8,681.1 357.5,682.8 358.2,683.9 359.0,685.6 359.7,684.6 360.4,684.8 361.1,687.6 361.9,686.6 362.6,686.1 363.3,689.7 364.1,688.6 364.8,689.4 365.5,691.1 366.2,691.1 367.0,692.9 367.7,692.3 368.4,691.9 369.2,694.1 369.9,694.8 370.6,696.5 371.4,693.7 372.1,694.1 372.8,696.5 373.5,696.4 374.3,697.0 375.0,696.1 375.7,698.9 376.5,697.4 377.2,700.1 377.9,698.0 378.6,699.5 379.4,698.0 380.1,698.9 380.8,700.1 381.6,700.5 382.3,701.1 383.0,699.0 383.7,699.8 384.5,701.4 385.2,702.2 385.9,700.9 386.7,701.5 387.4,702.1 388.1,701.7 388.9,701.3 389.6,701.9 390.3,701.4 391.0,701.9 391.8,701.7 392.5,702.4 393.2,701.3 394.0,701.8 394.7,702.2 395.4,701.8 396.1,702.1 396.9,702.1 397.6,701.5 398.3,701.2 399.1,703.3 399.8,702.4 400.5,702.9 401.3,704.9 402.0,704.6 402.7,705.8 403.4,706.5 404.2,707.9 404.9,708.0 405.6,707.0 406.4,705.9 407.1,708.0 407.8,709.7 408.5,707.1 409.3,708.2 410.0,707.6 410.7,709.3 411.5,708.3 412.2,709.0 412.9,710.5 413.6,710.0 414.4,709.8 415.1,710.8 415.8,709.3 416.6,710.8 417.3,710.0 418.0,711.1 418.8,710.5 419.5,710.8 420.2,713.0 420.9,711.8 421.7,711.1 422.4,712.2 423.1,710.8 423.9,711.2 424.6,713.1 425.3,712.5 426.0,712.4 426.8,713.6 427.5,711.8 428.2,712.8 429.0,713.6 429.7,714.5 430.4,714.8 431.1,714.9 431.9,713.9 432.6,715.5 433.3,714.3 434.1,713.4 434.8,716.6 435.5,716.3 436.3,715.1 437.0,716.0 437.7,717.3 438.4,716.8 439.2,717.1 439.9,716.7" stroke="#ee1c24" stroke-width="1.6" fill="none" stroke-linejoin="round"/>
<path d="M280.2,730.8 280.9,732.8 281.7,732.4 282.4,733.1 283.1,733.3 283.8,733.7 284.6,732.0 285.3,732.3 286.0,734.2 286.8,732.6 287.5,732.2 288.2,731.2 289.0,732.1 289.7,732.9 290.4,733.4 291.1,732.2 291.9,731.7 292.6,732.0 293.3,732.8 294.1,732.5 294.8,734.2 295.5,732.5 296.2,731.7 297.0,733.0 297.7,732.9 298.4,731.9 299.2,733.0 299.9,731.5 300.6,732.7 301.3,732.0 302.1,733.3 302.8,732.5 303.5,731.4 304.3,734.0 305.0,731.3 305.7,734.1 306.5,731.8 307.2,730.6 307.9,731.1 308.6,729.6 309.4,727.9 310.1,728.0 310.8,729.2 311.6,725.6 312.3,724.0 313.0,723.1 313.7,721.2 314.5,719.0 315.2,718.4 315.9,715.1 316.7,711.0 317.4,709.1 318.1,706.9 318.8,705.2 319.6,702.4 320.3,698.9 321.0,696.9 321.8,694.5 322.5,692.6 323.2,689.4 324.0,688.1 324.7,685.4 325.4,682.1 326.1,682.3 326.9,677.9 327.6,676.9 328.3,675.7 329.1,671.9 329.8,669.1 330.5,664.7 331.2,662.3 332.0,659.1 332.7,660.0 333.4,658.5 334.2,657.0 334.9,654.1 335.6,653.8 336.4,653.4 337.1,653.4 337.8,650.4 338.5,653.5 339.3,652.7 340.0,653.7 340.7,654.4 341.5,657.9 342.2,657.2 342.9,660.2 343.6,662.6 344.4,664.2 345.1,665.5 345.8,668.0 346.6,668.7 347.3,672.4 348.0,673.1 348.7,673.5 349.5,676.7 350.2,677.7 350.9,679.3 351.7,683.3 352.4,682.0 353.1,684.7 353.9,685.2 354.6,686.3 355.3,688.3 356.0,689.9 356.8,692.6 357.5,692.1 358.2,694.1 359.0,695.2 359.7,696.1 360.4,699.3 361.1,698.6 361.9,699.5 362.6,702.2 363.3,704.5 364.1,701.9 364.8,704.1 365.5,705.0 366.2,706.1 367.0,707.3 367.7,708.0 368.4,707.8 369.2,708.4 369.9,709.4 370.6,710.4 371.4,710.0 372.1,711.8 372.8,712.9 373.5,713.3 374.3,714.1 375.0,712.6 375.7,714.5 376.5,713.7 377.2,714.7 377.9,714.0 378.6,715.6 379.4,716.2 380.1,718.0 380.8,719.9 381.6,718.4 382.3,718.7 383.0,720.8 383.7,721.6 384.5,722.2 385.2,723.1 385.9,722.1 386.7,723.9 387.4,723.7 388.1,724.7 388.9,726.3 389.6,724.1 390.3,726.3 391.0,727.0 391.8,725.2 392.5,726.0 393.2,727.0 394.0,727.7 394.7,728.2 395.4,727.9 396.1,726.7 396.9,728.0 397.6,726.4 398.3,727.9 399.1,727.0 399.8,728.8 400.5,728.2 401.3,728.5 402.0,729.1 402.7,729.3 403.4,730.0 404.2,730.1 404.9,728.5 405.6,730.3 406.4,729.5 407.1,729.7 407.8,730.6 408.5,730.1 409.3,731.0 410.0,731.5 410.7,731.9 411.5,732.3 412.2,732.6 412.9,730.2 413.6,732.0 414.4,732.1 415.1,731.4 415.8,734.9 416.6,732.1 417.3,732.2 418.0,732.4 418.8,733.1 419.5,733.0 420.2,731.7 420.9,731.5 421.7,732.2 422.4,732.7 423.1,732.9 423.9,733.2 424.6,734.1 425.3,732.8 426.0,733.9 426.8,734.8 427.5,733.4 428.2,733.7 429.0,733.6 429.7,733.6 430.4,734.6 431.1,733.9 431.9,734.0 432.6,735.0 433.3,733.2 434.1,732.8 434.8,733.8 435.5,733.8 436.3,733.7 437.0,733.5 437.7,734.8 438.4,733.8 439.2,734.2 439.9,734.8" stroke="#000" stroke-width="1.8" fill="none" stroke-linejoin="round"/>
<text x="372.2" y="639.3" font-size="10.3" text-anchor="start" font-weight="normal" font-style="italic" fill="#000">Pvap-1::HisCl1</text>
<line x1="374.2" y1="652.6" x2="385.2" y2="652.6" stroke="#000" stroke-width="1.8"/>
<text x="387.7" y="655.7" font-size="9.2" text-anchor="start" font-weight="normal" font-style="normal" fill="#000">Control</text>
<line x1="374.2" y1="667.9" x2="385.2" y2="667.9" stroke="#e8212b" stroke-width="1.8"/>
<text x="387.7" y="671" font-size="9.2" text-anchor="start" font-weight="normal" font-style="normal" fill="#000">Histamine</text>
<text x="467.5" y="588.5" font-size="18" text-anchor="start" font-weight="normal" font-style="normal" fill="#000">l</text>
<path d="M505.4,611.5 L517.5,611.5 L518.8,618.5 L664.8,618.5" stroke="#3d3434" stroke-width="1" fill="none"/>
<text x="494.6" y="608.6" font-size="8" text-anchor="start" font-weight="normal" font-style="normal" fill="#000">20 °C</text>
<text x="595.4" y="615.3" font-size="8" text-anchor="middle" font-weight="normal" font-style="normal" fill="#000">10 °C</text>
<path d="M507.2,727.8 508.0,728.0 508.8,728.1 509.6,728.3 510.4,728.4 511.2,728.6 512.0,728.6 512.8,728.6 513.6,728.5 514.4,728.3 515.2,728.0 516.0,727.7 516.8,727.5 517.6,727.3 518.4,727.3 519.2,727.6 520.0,728.1 520.8,728.6 521.6,729.1 522.4,729.4 523.2,729.5 524.0,729.6 524.8,729.6 525.6,729.7 526.4,729.7 527.2,729.7 528.0,729.7 528.8,729.7 529.6,729.7 530.4,729.6 531.2,729.6 532.0,729.4 532.8,729.1 533.6,728.7 534.4,728.3 535.2,727.7 536.0,727.1 536.8,725.7 537.6,723.5 538.4,720.9 539.2,718.0 540.0,715.3 540.8,712.9 541.6,711.0 542.4,709.1 543.2,707.2 544.0,705.4 544.8,703.6 545.6,701.9 546.4,700.1 547.3,698.4 548.1,696.6 548.9,694.8 549.7,693.0 550.5,691.2 551.3,689.4 552.1,687.6 552.9,685.9 553.7,684.1 554.5,682.3 555.3,680.5 556.1,678.7 556.9,676.9 557.7,675.1 558.5,673.2 559.3,671.4 560.1,669.5 560.9,667.7 561.7,665.9 562.5,664.2 563.3,662.5 564.1,660.9 564.9,659.3 565.7,657.7 566.5,656.1 567.3,654.5 568.1,652.9 568.9,651.4 569.7,649.9 570.5,648.5 571.3,647.1 572.1,645.6 572.9,644.0 573.7,642.4 574.5,640.9 575.3,639.7 576.1,638.9 576.9,638.6 577.7,638.5 578.5,638.4 579.3,638.3 580.1,638.2 580.9,638.1 581.7,638.0 582.5,638.1 583.3,638.5 584.1,639.0 584.9,639.7 585.7,640.5 586.5,641.4 587.3,642.3 588.1,643.4 588.9,644.7 589.7,646.1 590.5,647.7 591.3,649.3 592.1,650.8 592.9,652.3 593.7,653.6 594.5,654.9 595.3,656.2 596.1,657.4 596.9,658.7 597.7,659.9 598.5,661.1 599.3,662.3 600.1,663.5 600.9,664.7 601.7,665.8 602.5,666.8 603.3,667.9 604.1,669.0 604.9,670.0 605.7,671.0 606.5,671.9 607.3,672.7 608.1,673.4 608.9,674.1 609.7,674.8 610.5,675.4 611.3,676.0 612.1,676.6 612.9,677.2 613.7,677.7 614.5,678.3 615.3,678.8 616.1,679.4 616.9,680.0 617.7,680.6 618.5,681.3 619.3,682.0 620.1,682.6 620.9,683.3 621.7,684.0 622.5,684.7 623.3,685.4 624.1,686.0 624.9,686.7 625.7,687.3 626.5,687.9 627.4,688.5 628.2,689.0 629.0,689.5 629.8,689.9 630.6,690.4 631.4,690.8 632.2,691.3 633.0,691.7 633.8,692.1 634.6,692.5 635.4,692.9 636.2,693.3 637.0,693.7 637.8,694.1 638.6,694.5 639.4,694.9 640.2,695.3 641.0,695.8 641.8,696.2 642.6,696.7 643.4,697.1 644.2,697.6 645.0,698.0 645.8,698.5 646.6,699.0 647.4,699.4 648.2,699.9 649.0,700.3 649.8,700.7 650.6,701.1 651.4,701.5 652.2,701.9 653.0,702.2 653.8,702.5 654.6,702.9 655.4,703.2 656.2,703.4 657.0,703.7 657.8,704.0 658.6,704.2 659.4,704.5 660.2,704.7 661.0,705.0 661.8,705.2 662.6,705.5 663.4,705.7 664.2,705.9 665.0,706.2 665.8,706.4 666.6,706.7 666.6,730.3 665.8,730.1 665.0,729.9 664.2,729.7 663.4,729.5 662.6,729.3 661.8,729.2 661.0,729.0 660.2,728.8 659.4,728.6 658.6,728.4 657.8,728.2 657.0,728.0 656.2,727.8 655.4,727.6 654.6,727.4 653.8,727.1 653.0,726.9 652.2,726.6 651.4,726.3 650.6,726.0 649.8,725.6 649.0,725.3 648.2,724.9 647.4,724.5 646.6,724.1 645.8,723.8 645.0,723.4 644.2,723.0 643.4,722.6 642.6,722.2 641.8,721.8 641.0,721.4 640.2,721.1 639.4,720.7 638.6,720.4 637.8,720.0 637.0,719.7 636.2,719.4 635.4,719.0 634.6,718.7 633.8,718.3 633.0,718.0 632.2,717.6 631.4,717.3 630.6,716.9 629.8,716.5 629.0,716.1 628.2,715.6 627.4,715.2 626.5,714.7 625.7,714.1 624.9,713.5 624.1,712.9 623.3,712.3 622.5,711.7 621.7,711.0 620.9,710.4 620.1,709.7 619.3,709.1 618.5,708.5 617.7,707.9 616.9,707.3 616.1,706.7 615.3,706.1 614.5,705.6 613.7,705.1 612.9,704.5 612.1,704.0 611.3,703.4 610.5,702.8 609.7,702.2 608.9,701.6 608.1,700.9 607.3,700.1 606.5,699.3 605.7,698.4 604.9,697.4 604.1,696.4 603.3,695.3 602.5,694.2 601.7,693.0 600.9,691.9 600.1,690.7 599.3,689.4 598.5,688.1 597.7,686.8 596.9,685.5 596.1,684.2 595.3,682.8 594.5,681.4 593.7,680.0 592.9,678.6 592.1,677.0 591.3,675.4 590.5,673.7 589.7,672.0 588.9,670.4 588.1,669.0 587.3,667.8 586.5,666.8 585.7,665.8 584.9,664.9 584.1,664.1 583.3,663.4 582.5,663.0 581.7,662.8 580.9,662.8 580.1,662.7 579.3,662.7 578.5,662.7 577.7,662.7 576.9,662.8 576.1,662.9 575.3,663.6 574.5,664.8 573.7,666.2 572.9,667.7 572.1,669.2 571.3,670.5 570.5,671.8 569.7,673.1 568.9,674.5 568.1,675.9 567.3,677.3 566.5,678.7 565.7,680.2 564.9,681.6 564.1,683.1 563.3,684.6 562.5,686.0 561.7,687.5 560.9,689.0 560.1,690.5 559.3,691.9 558.5,693.3 557.7,694.7 556.9,696.1 556.1,697.4 555.3,698.6 554.5,699.9 553.7,701.1 552.9,702.2 552.1,703.4 551.3,704.6 550.5,705.8 549.7,707.0 548.9,708.2 548.1,709.4 547.3,710.6 546.4,711.8 545.6,713.1 544.8,714.3 544.0,715.6 543.2,717.0 542.4,718.4 541.6,720.0 540.8,721.7 540.0,723.8 539.2,726.3 538.4,729.0 537.6,731.5 536.8,733.5 536.0,734.8 535.2,735.3 534.4,735.7 533.6,736.0 532.8,736.2 532.0,736.4 531.2,736.5 530.4,736.4 529.6,736.4 528.8,736.3 528.0,736.2 527.2,736.1 526.4,736.0 525.6,735.9 524.8,735.8 524.0,735.7 523.2,735.5 522.4,735.3 521.6,734.9 520.8,734.3 520.0,733.7 519.2,733.2 518.4,732.9 517.6,732.8 516.8,732.8 516.0,733.0 515.2,733.2 514.4,733.4 513.6,733.6 512.8,733.6 512.0,733.5 511.2,733.4 510.4,733.2 509.6,733.0 508.8,732.7 508.0,732.4 507.2,732.2Z" stroke="none" stroke-width="1" fill="#c8c8c8" fill-opacity="0.6"/>
<path d="M507.2,727.8 508.0,727.3 508.8,726.8 509.6,726.2 510.4,725.7 511.2,725.2 512.0,724.9 512.8,724.8 513.6,724.8 514.4,725.0 515.2,725.4 516.0,725.8 516.8,726.2 517.6,726.6 518.4,726.9 519.2,727.3 520.0,727.7 520.8,728.1 521.6,728.5 522.4,728.7 523.2,728.9 524.0,729.0 524.8,729.2 525.6,729.3 526.4,729.4 527.2,729.4 528.0,729.5 528.8,729.5 529.6,729.5 530.4,729.5 531.2,729.5 532.0,729.4 532.8,729.3 533.6,729.1 534.4,729.0 535.2,728.8 536.0,728.5 536.8,728.0 537.6,727.1 538.4,726.1 539.2,724.9 540.0,723.9 540.8,723.1 541.6,722.5 542.4,721.9 543.2,721.5 544.0,721.0 544.8,720.6 545.6,720.1 546.4,719.7 547.3,719.2 548.1,718.6 548.9,718.0 549.7,717.2 550.5,716.4 551.3,715.5 552.1,714.5 552.9,713.4 553.7,712.3 554.5,711.2 555.3,710.0 556.1,708.8 556.9,707.6 557.7,706.2 558.5,704.8 559.3,703.2 560.1,701.7 560.9,700.0 561.7,698.4 562.5,696.8 563.3,695.2 564.1,693.6 564.9,692.1 565.7,690.6 566.5,689.0 567.3,687.5 568.1,686.0 568.9,684.4 569.7,682.8 570.5,681.2 571.3,679.4 572.1,677.5 572.9,675.1 573.7,672.6 574.5,670.1 575.3,668.0 576.1,666.4 576.9,665.5 577.7,664.9 578.5,664.4 579.3,663.9 580.1,663.6 580.9,663.3 581.7,663.1 582.5,662.9 583.3,662.8 584.1,662.7 584.9,662.6 585.7,662.5 586.5,662.4 587.3,662.3 588.1,662.2 588.9,662.1 589.7,662.0 590.5,661.9 591.3,661.7 592.1,661.5 592.9,661.3 593.7,661.0 594.5,660.8 595.3,660.5 596.1,660.3 596.9,660.0 597.7,659.8 598.5,659.6 599.3,659.4 600.1,659.3 600.9,659.1 601.7,658.9 602.5,658.8 603.3,658.6 604.1,658.4 604.9,658.2 605.7,658.0 606.5,657.7 607.3,657.2 608.1,656.6 608.9,656.0 609.7,655.4 610.5,654.8 611.3,654.3 612.1,654.0 612.9,653.7 613.7,653.7 614.5,653.9 615.3,654.1 616.1,654.5 616.9,654.9 617.7,655.2 618.5,655.7 619.3,656.2 620.1,656.8 620.9,657.4 621.7,658.0 622.5,658.7 623.3,659.3 624.1,659.9 624.9,660.3 625.7,660.8 626.5,661.1 627.4,661.5 628.2,661.8 629.0,662.2 629.8,662.5 630.6,662.8 631.4,663.1 632.2,663.4 633.0,663.7 633.8,664.0 634.6,664.3 635.4,664.6 636.2,664.9 637.0,665.2 637.8,665.4 638.6,665.7 639.4,666.0 640.2,666.2 641.0,666.5 641.8,666.8 642.6,667.0 643.4,667.3 644.2,667.6 645.0,667.8 645.8,668.1 646.6,668.4 647.4,668.7 648.2,668.9 649.0,669.2 649.8,669.5 650.6,669.8 651.4,670.2 652.2,670.5 653.0,670.8 653.8,671.1 654.6,671.4 655.4,671.7 656.2,672.0 657.0,672.3 657.8,672.6 658.6,672.9 659.4,673.2 660.2,673.4 661.0,673.6 661.8,673.9 662.6,674.1 663.4,674.3 664.2,674.5 665.0,674.7 665.8,674.9 666.6,675.1 666.6,693.8 665.8,693.6 665.0,693.5 664.2,693.3 663.4,693.2 662.6,693.0 661.8,692.9 661.0,692.7 660.2,692.5 659.4,692.3 658.6,692.1 657.8,691.9 657.0,691.7 656.2,691.4 655.4,691.2 654.6,691.0 653.8,690.7 653.0,690.5 652.2,690.2 651.4,689.9 650.6,689.7 649.8,689.5 649.0,689.2 648.2,689.0 647.4,688.8 646.6,688.6 645.8,688.4 645.0,688.2 644.2,688.0 643.4,687.8 642.6,687.6 641.8,687.4 641.0,687.2 640.2,687.0 639.4,686.7 638.6,686.5 637.8,686.3 637.0,686.1 636.2,685.9 635.4,685.6 634.6,685.4 633.8,685.2 633.0,684.9 632.2,684.7 631.4,684.4 630.6,684.2 629.8,683.9 629.0,683.7 628.2,683.4 627.4,683.1 626.5,682.7 625.7,682.4 624.9,682.0 624.1,681.6 623.3,681.0 622.5,680.5 621.7,679.9 620.9,679.2 620.1,678.6 619.3,678.1 618.5,677.6 617.7,677.1 616.9,676.8 616.1,676.4 615.3,676.1 614.5,675.8 613.7,675.7 612.9,675.7 612.1,675.9 611.3,676.3 610.5,676.7 609.7,677.3 608.9,677.8 608.1,678.4 607.3,678.9 606.5,679.3 605.7,679.5 604.9,679.7 604.1,679.8 603.3,679.8 602.5,679.9 601.7,679.9 600.9,680.0 600.1,680.0 599.3,680.0 598.5,680.0 597.7,680.1 596.9,680.2 596.1,680.3 595.3,680.3 594.5,680.4 593.7,680.5 592.9,680.6 592.1,680.7 591.3,680.7 590.5,680.7 589.7,680.6 588.9,680.6 588.1,680.5 587.3,680.5 586.5,680.4 585.7,680.3 584.9,680.3 584.1,680.2 583.3,680.1 582.5,680.1 581.7,680.1 580.9,680.1 580.1,680.2 579.3,680.5 578.5,680.8 577.7,681.2 576.9,681.6 576.1,682.3 575.3,683.8 574.5,685.8 573.7,688.1 572.9,690.4 572.1,692.6 571.3,694.4 570.5,695.9 569.7,697.4 568.9,698.9 568.1,700.3 567.3,701.6 566.5,703.0 565.7,704.3 564.9,705.6 564.1,707.0 563.3,708.4 562.5,709.8 561.7,711.2 560.9,712.7 560.1,714.1 559.3,715.5 558.5,716.8 557.7,718.1 556.9,719.3 556.1,720.4 555.3,721.4 554.5,722.4 553.7,723.3 552.9,724.3 552.1,725.1 551.3,725.9 550.5,726.7 549.7,727.4 548.9,727.9 548.1,728.4 547.3,728.9 546.4,729.2 545.6,729.5 544.8,729.8 544.0,730.1 543.2,730.4 542.4,730.7 541.6,731.1 540.8,731.6 540.0,732.3 539.2,733.2 538.4,734.2 537.6,735.1 536.8,735.9 536.0,736.3 535.2,736.4 534.4,736.5 533.6,736.6 532.8,736.6 532.0,736.6 531.2,736.6 530.4,736.6 529.6,736.5 528.8,736.4 528.0,736.3 527.2,736.1 526.4,735.9 525.6,735.7 524.8,735.5 524.0,735.3 523.2,735.1 522.4,734.8 521.6,734.5 520.8,734.0 520.0,733.5 519.2,733.1 518.4,732.6 517.6,732.1 516.8,731.7 516.0,731.2 515.2,730.7 514.4,730.3 513.6,730.0 512.8,729.8 512.0,729.9 511.2,730.1 510.4,730.5 509.6,730.9 508.8,731.4 508.0,731.8 507.2,732.2Z" stroke="none" stroke-width="1" fill="#f6c6c6" fill-opacity="0.5"/>
<line x1="507.2" y1="621.4" x2="507.2" y2="746.6" stroke="#000" stroke-width="1.5"/>
<line x1="507.2" y1="732.5" x2="666.6" y2="732.5" stroke="#000" stroke-width="1.5"/>
<line x1="547.05" y1="732.5" x2="547.05" y2="737.5" stroke="#000" stroke-width="1.5"/>
<text x="547.05" y="748.4" font-size="9" text-anchor="middle" font-weight="normal" font-style="normal" fill="#000">50</text>
<line x1="586.9" y1="732.5" x2="586.9" y2="737.5" stroke="#000" stroke-width="1.5"/>
<text x="586.9" y="748.4" font-size="9" text-anchor="middle" font-weight="normal" font-style="normal" fill="#000">100</text>
<line x1="626.75" y1="732.5" x2="626.75" y2="737.5" stroke="#000" stroke-width="1.5"/>
<text x="626.75" y="748.4" font-size="9" text-anchor="middle" font-weight="normal" font-style="normal" fill="#000">150</text>
<line x1="666.6" y1="732.5" x2="666.6" y2="737.5" stroke="#000" stroke-width="1.5"/>
<text x="666.6" y="748.4" font-size="9" text-anchor="middle" font-weight="normal" font-style="normal" fill="#000">200</text>
<line x1="502.2" y1="732.5" x2="507.2" y2="732.5" stroke="#000" stroke-width="1.5"/>
<text x="500.7" y="735.7" font-size="9" text-anchor="end" font-weight="normal" font-style="normal" fill="#000">0</text>
<line x1="502.2" y1="705.05" x2="507.2" y2="705.05" stroke="#000" stroke-width="1.5"/>
<text x="500.7" y="708.25" font-size="9" text-anchor="end" font-weight="normal" font-style="normal" fill="#000">10</text>
<line x1="502.2" y1="677.6" x2="507.2" y2="677.6" stroke="#000" stroke-width="1.5"/>
<text x="500.7" y="680.8" font-size="9" text-anchor="end" font-weight="normal" font-style="normal" fill="#000">20</text>
<line x1="502.2" y1="650.15" x2="507.2" y2="650.15" stroke="#000" stroke-width="1.5"/>
<text x="500.7" y="653.35" font-size="9" text-anchor="end" font-weight="normal" font-style="normal" fill="#000">30</text>
<line x1="502.2" y1="622.7" x2="507.2" y2="622.7" stroke="#000" stroke-width="1.5"/>
<text x="500.7" y="625.9" font-size="9" text-anchor="end" font-weight="normal" font-style="normal" fill="#000">40</text>
<text x="591.9" y="761.9" font-size="11.6" text-anchor="middle" font-weight="normal" font-style="normal" fill="#000">Time (s)</text>
<text x="484" y="677.6" font-size="10" text-anchor="middle" font-weight="normal" font-style="normal" fill="#000" transform="rotate(-90 484 677.6)">GCaMP5 (ΔF/F<tspan font-size="70%" dy="2">0</tspan><tspan dy="-2">, %)</tspan></text>
<path d="M507.2,729.8 507.9,728.6 508.7,730.0 509.4,729.3 510.1,729.2 510.8,728.0 511.6,728.1 512.3,725.6 513.0,729.3 513.8,726.6 514.5,728.6 515.2,728.3 515.9,726.4 516.7,730.1 517.4,729.2 518.1,730.8 518.8,728.8 519.6,731.4 520.3,729.8 521.0,731.6 521.8,729.3 522.5,734.3 523.2,729.3 523.9,731.5 524.7,733.8 525.4,734.4 526.1,732.1 526.9,733.0 527.6,733.3 528.3,731.0 529.0,732.8 529.8,734.8 530.5,731.5 531.2,732.7 531.9,732.6 532.7,732.6 533.4,732.7 534.1,733.4 534.9,732.4 535.6,734.4 536.3,732.2 537.0,733.6 537.8,730.7 538.5,730.7 539.2,728.7 540.0,728.7 540.7,727.7 541.4,727.5 542.1,726.4 542.9,724.2 543.6,724.7 544.3,723.8 545.0,725.7 545.8,723.2 546.5,723.3 547.2,724.4 548.0,724.1 548.7,722.8 549.4,722.7 550.1,720.7 550.9,720.4 551.6,720.5 552.3,721.0 553.1,718.3 553.8,718.8 554.5,716.4 555.2,715.3 556.0,714.2 556.7,713.2 557.4,713.2 558.1,711.7 558.9,712.1 559.6,708.0 560.3,706.3 561.1,705.8 561.8,705.5 562.5,702.7 563.2,702.3 564.0,700.5 564.7,697.3 565.4,697.9 566.2,697.4 566.9,694.9 567.6,694.2 568.3,694.0 569.1,691.4 569.8,689.1 570.5,689.2 571.3,685.9 572.0,685.9 572.7,685.1 573.4,681.2 574.2,680.2 574.9,676.4 575.6,676.3 576.3,674.5 577.1,674.3 577.8,673.2 578.5,672.4 579.3,672.5 580.0,673.6 580.7,671.0 581.4,671.2 582.2,673.6 582.9,670.5 583.6,672.0 584.4,671.4 585.1,670.9 585.8,670.0 586.5,671.4 587.3,671.7 588.0,671.2 588.7,670.7 589.4,672.6 590.2,671.9 590.9,671.4 591.6,671.8 592.4,671.2 593.1,670.7 593.8,670.7 594.5,669.3 595.3,671.0 596.0,669.8 596.7,669.8 597.5,668.3 598.2,667.5 598.9,670.0 599.6,669.5 600.4,669.9 601.1,669.4 601.8,669.4 602.5,669.6 603.3,670.0 604.0,669.4 604.7,670.9 605.5,667.5 606.2,669.3 606.9,669.8 607.6,666.9 608.4,667.5 609.1,664.9 609.8,667.3 610.6,665.4 611.3,666.0 612.0,664.8 612.7,665.4 613.5,664.9 614.2,665.3 614.9,665.3 615.7,663.6 616.4,665.5 617.1,664.8 617.8,666.7 618.6,665.8 619.3,668.2 620.0,668.4 620.7,667.3 621.5,668.9 622.2,671.4 622.9,670.1 623.7,671.3 624.4,670.4 625.1,671.3 625.8,671.0 626.6,671.9 627.3,673.2 628.0,674.4 628.8,674.1 629.5,674.1 630.2,676.3 630.9,673.3 631.7,675.8 632.4,673.6 633.1,674.0 633.8,672.6 634.6,674.5 635.3,675.7 636.0,675.5 636.8,674.7 637.5,674.1 638.2,676.8 638.9,674.9 639.7,674.8 640.4,677.9 641.1,678.7 641.9,679.1 642.6,677.7 643.3,675.7 644.0,678.2 644.8,679.4 645.5,676.8 646.2,680.4 646.9,679.8 647.7,677.9 648.4,678.3 649.1,680.5 649.9,678.4 650.6,680.1 651.3,679.2 652.0,679.5 652.8,679.2 653.5,679.7 654.2,682.1 655.0,681.7 655.7,681.5 656.4,682.4 657.1,682.1 657.9,682.1 658.6,681.6 659.3,680.9 660.0,682.8 660.8,682.5 661.5,685.7 662.2,683.9 663.0,683.7 663.7,683.9 664.4,684.3 665.1,683.7 665.9,685.0 666.6,685.1" stroke="#ee1c24" stroke-width="1.6" fill="none" stroke-linejoin="round"/>
<path d="M507.2,730.0 508.0,730.5 508.8,730.6 509.6,730.4 510.4,730.7 511.2,731.0 512.0,731.0 512.8,731.4 513.6,731.5 514.4,730.9 515.2,730.5 516.0,730.6 516.8,730.2 517.6,730.0 518.4,730.4 519.2,730.7 520.0,731.2 520.8,731.1 521.6,731.4 522.4,731.9 523.2,732.2 524.0,732.6 524.8,732.8 525.6,732.8 526.4,732.5 527.2,732.6 528.0,732.8 528.8,732.9 529.6,733.0 530.4,732.9 531.2,732.7 532.0,732.9 532.8,733.0 533.6,732.5 534.4,732.3 535.2,731.6 536.0,730.5 536.8,729.4 537.6,727.5 538.4,725.1 539.2,722.2 540.0,719.4 540.8,717.3 541.6,715.6 542.4,713.7 543.2,712.1 544.0,710.6 544.8,709.2 545.6,707.7 546.4,706.1 547.3,704.7 548.1,703.1 548.9,701.5 549.7,700.1 550.5,698.6 551.3,696.9 552.1,695.4 552.9,694.4 553.7,692.9 554.5,691.1 555.3,689.7 556.1,688.4 556.9,686.7 557.7,684.6 558.5,683.2 559.3,682.0 560.1,680.1 560.9,678.2 561.7,676.6 562.5,674.9 563.3,673.3 564.1,672.1 564.9,670.5 565.7,668.9 566.5,667.2 567.3,665.8 568.1,664.6 568.9,662.9 569.7,661.5 570.5,660.1 571.3,658.6 572.1,657.3 572.9,656.1 573.7,654.6 574.5,652.9 575.3,651.7 576.1,651.1 576.9,650.9 577.7,650.7 578.5,650.4 579.3,650.5 580.1,650.3 580.9,650.0 581.7,650.1 582.5,650.1 583.3,650.4 584.1,651.1 584.9,652.0 585.7,653.1 586.5,654.1 587.3,655.1 588.1,656.3 588.9,657.8 589.7,659.2 590.5,661.0 591.3,662.4 592.1,663.7 592.9,665.7 593.7,667.3 594.5,668.4 595.3,669.6 596.1,670.8 596.9,672.1 597.7,673.3 598.5,674.5 599.3,676.0 600.1,677.3 600.9,678.4 601.7,679.5 602.5,680.5 603.3,681.9 604.1,683.1 604.9,684.0 605.7,684.6 606.5,685.2 607.3,686.4 608.1,687.4 608.9,688.4 609.7,688.7 610.5,689.0 611.3,689.8 612.1,690.5 612.9,690.8 613.7,691.3 614.5,692.2 615.3,692.8 616.1,693.3 616.9,693.8 617.7,694.3 618.5,695.1 619.3,695.7 620.1,696.0 620.9,696.6 621.7,697.6 622.5,698.3 623.3,699.0 624.1,699.4 624.9,699.9 625.7,700.7 626.5,701.4 627.4,701.6 628.2,701.8 629.0,702.7 629.8,703.4 630.6,703.6 631.4,704.0 632.2,704.7 633.0,705.0 633.8,705.1 634.6,705.5 635.4,706.2 636.2,706.3 637.0,706.8 637.8,707.0 638.6,707.2 639.4,707.8 640.2,708.0 641.0,708.5 641.8,709.3 642.6,709.6 643.4,710.0 644.2,710.4 645.0,710.5 645.8,711.1 646.6,711.5 647.4,711.7 648.2,712.5 649.0,712.8 649.8,712.9 650.6,713.5 651.4,713.9 652.2,713.8 653.0,714.2 653.8,714.9 654.6,714.8 655.4,715.1 656.2,715.7 657.0,715.9 657.8,716.2 658.6,716.5 659.4,716.6 660.2,716.6 661.0,716.8 661.8,717.2 662.6,717.5 663.4,717.4 664.2,717.4 665.0,717.6 665.8,718.2 666.6,718.8" stroke="#000" stroke-width="1.8" fill="none" stroke-linejoin="round"/>
<text x="516.6" y="633.4" font-size="9.2" text-anchor="start" font-weight="normal" font-style="italic" fill="#000">PR11D1.3::HisCl1</text>
<line x1="614.5" y1="632.1" x2="625.2" y2="632.1" stroke="#000" stroke-width="2"/>
<text x="627.7" y="635.4" font-size="9.2" text-anchor="start" font-weight="normal" font-style="normal" fill="#000">Control</text>
<line x1="614.5" y1="647" x2="625.2" y2="647" stroke="#ee1c24" stroke-width="2"/>
<text x="627.7" y="650.3" font-size="9.2" text-anchor="start" font-weight="normal" font-style="normal" fill="#000">Histamine</text>
<text x="0.5" y="789.5" font-size="18.5" text-anchor="start" font-weight="normal" font-style="normal" fill="#000">m</text>
<rect x="69.9" y="884" width="15.7" height="2.1" fill="#fff" stroke="#000" stroke-width="1.4"/>
<rect x="131.1" y="885.1" width="12.3" height="1" fill="#fff" stroke="#000" stroke-width="1.4"/>
<rect x="150.6" y="868.8" width="15.1" height="17.3" fill="#fbdcdc" stroke="#e8212b" stroke-width="1.8"/>
<rect x="186.7" y="876.8" width="15.1" height="9.3" fill="#cccccc" stroke="#000" stroke-width="1.8"/>
<rect x="208.9" y="859.9" width="15.4" height="26.2" fill="#fbdcdc" stroke="#e8212b" stroke-width="1.8"/>
<circle cx="77.74" cy="825.22" r="1.7" fill="#fff" stroke="#959595" stroke-width="0.75"/>
<circle cx="77.74" cy="847.56" r="1.7" fill="#fff" stroke="#959595" stroke-width="0.75"/>
<circle cx="76.43" cy="852.42" r="1.7" fill="#fff" stroke="#959595" stroke-width="0.75"/>
<circle cx="79.71" cy="853.73" r="1.7" fill="#fff" stroke="#959595" stroke-width="0.75"/>
<circle cx="77.74" cy="866.87" r="1.7" fill="#fff" stroke="#959595" stroke-width="0.75"/>
<circle cx="76.43" cy="874.76" r="1.7" fill="#fff" stroke="#959595" stroke-width="0.75"/>
<circle cx="73.14" cy="877.39" r="1.7" fill="#fff" stroke="#959595" stroke-width="0.75"/>
<circle cx="76.43" cy="880.01" r="1.7" fill="#fff" stroke="#959595" stroke-width="0.75"/>
<circle cx="79.71" cy="880.67" r="1.7" fill="#fff" stroke="#959595" stroke-width="0.75"/>
<circle cx="83" cy="881.33" r="1.7" fill="#fff" stroke="#959595" stroke-width="0.75"/>
<circle cx="70.51" cy="883.3" r="1.7" fill="#fff" stroke="#959595" stroke-width="0.75"/>
<circle cx="74.45" cy="881.98" r="1.7" fill="#fff" stroke="#959595" stroke-width="0.75"/>
<circle cx="79.71" cy="883.3" r="1.7" fill="#fff" stroke="#959595" stroke-width="0.75"/>
<circle cx="84.97" cy="883.96" r="1.7" fill="#fff" stroke="#959595" stroke-width="0.75"/>
<circle cx="70.51" cy="886.58" r="1.7" fill="#fff" stroke="#959595" stroke-width="0.75"/>
<circle cx="74.45" cy="886.98" r="1.7" fill="#fff" stroke="#959595" stroke-width="0.75"/>
<circle cx="79.71" cy="887.24" r="1.7" fill="#fff" stroke="#959595" stroke-width="0.75"/>
<circle cx="83" cy="887.24" r="1.7" fill="#fff" stroke="#959595" stroke-width="0.75"/>
<circle cx="77.08" cy="893.15" r="1.7" fill="#fff" stroke="#959595" stroke-width="0.75"/>
<circle cx="100.08" cy="825.48" r="1.7" fill="#fff" stroke="#959595" stroke-width="0.75"/>
<circle cx="100.08" cy="849.13" r="1.7" fill="#fff" stroke="#959595" stroke-width="0.75"/>
<circle cx="97.45" cy="855.7" r="1.7" fill="#fff" stroke="#959595" stroke-width="0.75"/>
<circle cx="102.71" cy="855.7" r="1.7" fill="#fff" stroke="#959595" stroke-width="0.75"/>
<circle cx="97.45" cy="865.16" r="1.7" fill="#fff" stroke="#959595" stroke-width="0.75"/>
<circle cx="102.71" cy="865.56" r="1.7" fill="#fff" stroke="#959595" stroke-width="0.75"/>
<circle cx="107.96" cy="880.41" r="1.7" fill="#fff" stroke="#959595" stroke-width="0.75"/>
<circle cx="92.85" cy="883.96" r="1.7" fill="#fff" stroke="#959595" stroke-width="0.75"/>
<circle cx="98.11" cy="883.56" r="1.7" fill="#fff" stroke="#959595" stroke-width="0.75"/>
<circle cx="102.71" cy="882.64" r="1.7" fill="#fff" stroke="#959595" stroke-width="0.75"/>
<circle cx="102.71" cy="886.58" r="1.7" fill="#fff" stroke="#959595" stroke-width="0.75"/>
<circle cx="106.65" cy="885.27" r="1.7" fill="#fff" stroke="#959595" stroke-width="0.75"/>
<circle cx="98.11" cy="893.15" r="1.7" fill="#fff" stroke="#959595" stroke-width="0.75"/>
<circle cx="102.71" cy="893.15" r="1.7" fill="#fff" stroke="#959595" stroke-width="0.75"/>
<circle cx="77.08" cy="896.78" r="1.7" fill="#fff" stroke="#959595" stroke-width="0.75"/>
<circle cx="77.08" cy="903.35" r="1.7" fill="#fff" stroke="#959595" stroke-width="0.75"/>
<circle cx="74.45" cy="912.55" r="1.7" fill="#fff" stroke="#959595" stroke-width="0.75"/>
<circle cx="79.71" cy="912.02" r="1.7" fill="#fff" stroke="#959595" stroke-width="0.75"/>
<circle cx="70.51" cy="900.73" r="1.7" fill="#fff" stroke="#959595" stroke-width="0.75"/>
<circle cx="98.1" cy="925.69" r="1.7" fill="#fff" stroke="#959595" stroke-width="0.75"/>
<circle cx="103.35" cy="923.06" r="1.7" fill="#fff" stroke="#959595" stroke-width="0.75"/>
<circle cx="92.84" cy="904.67" r="1.7" fill="#fff" stroke="#959595" stroke-width="0.75"/>
<circle cx="98.1" cy="907.29" r="1.7" fill="#fff" stroke="#959595" stroke-width="0.75"/>
<circle cx="103.35" cy="907.29" r="1.7" fill="#fff" stroke="#959595" stroke-width="0.75"/>
<circle cx="130.94" cy="900.73" r="1.7" fill="#fff" stroke="#959595" stroke-width="0.75"/>
<circle cx="136.2" cy="899.41" r="1.7" fill="#fff" stroke="#959595" stroke-width="0.75"/>
<circle cx="141.45" cy="901.51" r="1.7" fill="#fff" stroke="#959595" stroke-width="0.75"/>
<circle cx="138.82" cy="895.47" r="1.7" fill="#fff" stroke="#959595" stroke-width="0.75"/>
<circle cx="158.53" cy="904.67" r="1.7" fill="#fff" stroke="#959595" stroke-width="0.75"/>
<circle cx="191.37" cy="908.61" r="1.7" fill="#fff" stroke="#959595" stroke-width="0.75"/>
<circle cx="196.63" cy="909.92" r="1.7" fill="#fff" stroke="#959595" stroke-width="0.75"/>
<circle cx="194" cy="920.43" r="1.7" fill="#fff" stroke="#959595" stroke-width="0.75"/>
<circle cx="67.36" cy="891.53" r="1.7" fill="#fff" stroke="#959595" stroke-width="0.75"/>
<circle cx="71.82" cy="909.92" r="1.7" fill="#fff" stroke="#959595" stroke-width="0.75"/>
<circle cx="133.65" cy="863.07" r="1.7" fill="#fff" stroke="#959595" stroke-width="0.75"/>
<circle cx="138.47" cy="860.98" r="1.7" fill="#fff" stroke="#959595" stroke-width="0.75"/>
<circle cx="128.83" cy="875.11" r="1.7" fill="#fff" stroke="#959595" stroke-width="0.75"/>
<circle cx="133.65" cy="877.52" r="1.7" fill="#fff" stroke="#959595" stroke-width="0.75"/>
<circle cx="138.47" cy="877.52" r="1.7" fill="#fff" stroke="#959595" stroke-width="0.75"/>
<circle cx="143.29" cy="874.79" r="1.7" fill="#fff" stroke="#959595" stroke-width="0.75"/>
<circle cx="128.83" cy="883.14" r="1.7" fill="#fff" stroke="#959595" stroke-width="0.75"/>
<circle cx="133.65" cy="882.34" r="1.7" fill="#fff" stroke="#959595" stroke-width="0.75"/>
<circle cx="138.47" cy="881.54" r="1.7" fill="#fff" stroke="#959595" stroke-width="0.75"/>
<circle cx="133.65" cy="886.35" r="1.7" fill="#fff" stroke="#959595" stroke-width="0.75"/>
<circle cx="138.47" cy="886.35" r="1.7" fill="#fff" stroke="#959595" stroke-width="0.75"/>
<circle cx="128.83" cy="887.96" r="1.7" fill="#fff" stroke="#959595" stroke-width="0.75"/>
<circle cx="133.65" cy="891.17" r="1.7" fill="#fff" stroke="#959595" stroke-width="0.75"/>
<circle cx="138.47" cy="893.58" r="1.7" fill="#fff" stroke="#959595" stroke-width="0.75"/>
<circle cx="133.65" cy="895.99" r="1.7" fill="#fff" stroke="#959595" stroke-width="0.75"/>
<circle cx="158.06" cy="815.21" r="1.7" fill="#fff" stroke="#959595" stroke-width="0.75"/>
<circle cx="158.06" cy="826.94" r="1.7" fill="#fff" stroke="#959595" stroke-width="0.75"/>
<circle cx="158.06" cy="844.12" r="1.7" fill="#fff" stroke="#959595" stroke-width="0.75"/>
<circle cx="155.65" cy="851.83" r="1.7" fill="#fff" stroke="#959595" stroke-width="0.75"/>
<circle cx="160.95" cy="849.74" r="1.7" fill="#fff" stroke="#959595" stroke-width="0.75"/>
<circle cx="158.06" cy="857.13" r="1.7" fill="#fff" stroke="#959595" stroke-width="0.75"/>
<circle cx="153.72" cy="862.59" r="1.7" fill="#fff" stroke="#959595" stroke-width="0.75"/>
<circle cx="158.06" cy="861.94" r="1.7" fill="#fff" stroke="#959595" stroke-width="0.75"/>
<circle cx="163.36" cy="862.27" r="1.7" fill="#fff" stroke="#959595" stroke-width="0.75"/>
<circle cx="151.32" cy="872.7" r="1.7" fill="#fff" stroke="#959595" stroke-width="0.75"/>
<circle cx="155.65" cy="871.9" r="1.7" fill="#fff" stroke="#959595" stroke-width="0.75"/>
<circle cx="160.95" cy="871.9" r="1.7" fill="#fff" stroke="#959595" stroke-width="0.75"/>
<circle cx="166.25" cy="874.31" r="1.7" fill="#fff" stroke="#959595" stroke-width="0.75"/>
<circle cx="155.65" cy="875.92" r="1.7" fill="#fff" stroke="#959595" stroke-width="0.75"/>
<circle cx="160.95" cy="875.92" r="1.7" fill="#fff" stroke="#959595" stroke-width="0.75"/>
<circle cx="155.65" cy="879.93" r="1.7" fill="#fff" stroke="#959595" stroke-width="0.75"/>
<circle cx="160.95" cy="879.93" r="1.7" fill="#fff" stroke="#959595" stroke-width="0.75"/>
<circle cx="155.65" cy="886.35" r="1.7" fill="#fff" stroke="#959595" stroke-width="0.75"/>
<circle cx="160.95" cy="886.35" r="1.7" fill="#fff" stroke="#959595" stroke-width="0.75"/>
<circle cx="158.06" cy="889.57" r="1.7" fill="#fff" stroke="#959595" stroke-width="0.75"/>
<circle cx="160.95" cy="890.37" r="1.7" fill="#fff" stroke="#959595" stroke-width="0.75"/>
<circle cx="151.32" cy="877.52" r="1.7" fill="#fff" stroke="#959595" stroke-width="0.75"/>
<circle cx="189.05" cy="849.74" r="1.7" fill="#fff" stroke="#959595" stroke-width="0.75"/>
<circle cx="193.87" cy="847.81" r="1.7" fill="#fff" stroke="#959595" stroke-width="0.75"/>
<circle cx="198.69" cy="849.74" r="1.7" fill="#fff" stroke="#959595" stroke-width="0.75"/>
<circle cx="193.87" cy="853.43" r="1.7" fill="#fff" stroke="#959595" stroke-width="0.75"/>
<circle cx="196.28" cy="858.73" r="1.7" fill="#fff" stroke="#959595" stroke-width="0.75"/>
<circle cx="191.46" cy="860.66" r="1.7" fill="#fff" stroke="#959595" stroke-width="0.75"/>
<circle cx="193.87" cy="866.28" r="1.7" fill="#fff" stroke="#959595" stroke-width="0.75"/>
<circle cx="187.45" cy="873.83" r="1.7" fill="#fff" stroke="#959595" stroke-width="0.75"/>
<circle cx="191.46" cy="871.1" r="1.7" fill="#fff" stroke="#959595" stroke-width="0.75"/>
<circle cx="196.28" cy="871.9" r="1.7" fill="#fff" stroke="#959595" stroke-width="0.75"/>
<circle cx="201.1" cy="873.83" r="1.7" fill="#fff" stroke="#959595" stroke-width="0.75"/>
<circle cx="191.46" cy="877.52" r="1.7" fill="#fff" stroke="#959595" stroke-width="0.75"/>
<circle cx="196.28" cy="877.52" r="1.7" fill="#fff" stroke="#959595" stroke-width="0.75"/>
<circle cx="193.87" cy="886.35" r="1.7" fill="#fff" stroke="#959595" stroke-width="0.75"/>
<circle cx="193.87" cy="890.37" r="1.7" fill="#fff" stroke="#959595" stroke-width="0.75"/>
<circle cx="216.35" cy="828.22" r="1.7" fill="#fff" stroke="#959595" stroke-width="0.75"/>
<circle cx="216.35" cy="833.04" r="1.7" fill="#fff" stroke="#959595" stroke-width="0.75"/>
<circle cx="216.35" cy="837.86" r="1.7" fill="#fff" stroke="#959595" stroke-width="0.75"/>
<circle cx="216.35" cy="847.01" r="1.7" fill="#fff" stroke="#959595" stroke-width="0.75"/>
<circle cx="216.35" cy="855.84" r="1.7" fill="#fff" stroke="#959595" stroke-width="0.75"/>
<circle cx="209.13" cy="859.05" r="1.7" fill="#fff" stroke="#959595" stroke-width="0.75"/>
<circle cx="213.14" cy="859.86" r="1.7" fill="#fff" stroke="#959595" stroke-width="0.75"/>
<circle cx="216.35" cy="858.73" r="1.7" fill="#fff" stroke="#959595" stroke-width="0.75"/>
<circle cx="220.37" cy="860.66" r="1.7" fill="#fff" stroke="#959595" stroke-width="0.75"/>
<circle cx="223.58" cy="859.86" r="1.7" fill="#fff" stroke="#959595" stroke-width="0.75"/>
<circle cx="213.14" cy="863.07" r="1.7" fill="#fff" stroke="#959595" stroke-width="0.75"/>
<circle cx="220.37" cy="863.87" r="1.7" fill="#fff" stroke="#959595" stroke-width="0.75"/>
<circle cx="212.82" cy="866.76" r="1.7" fill="#fff" stroke="#959595" stroke-width="0.75"/>
<circle cx="216.35" cy="870.3" r="1.7" fill="#fff" stroke="#959595" stroke-width="0.75"/>
<circle cx="212.82" cy="876.72" r="1.7" fill="#fff" stroke="#959595" stroke-width="0.75"/>
<circle cx="220.37" cy="875.92" r="1.7" fill="#fff" stroke="#959595" stroke-width="0.75"/>
<circle cx="216.35" cy="875.92" r="1.7" fill="#fff" stroke="#959595" stroke-width="0.75"/>
<line x1="77.8" y1="877.4" x2="77.8" y2="889" stroke="#000" stroke-width="1.8"/>
<line x1="74.8" y1="877.4" x2="80.8" y2="877.4" stroke="#000" stroke-width="1.8"/>
<line x1="74.8" y1="889" x2="80.8" y2="889" stroke="#000" stroke-width="1.8"/>
<line x1="100.1" y1="878" x2="100.1" y2="889.9" stroke="#e8212b" stroke-width="1.8"/>
<line x1="95.6" y1="878" x2="104.6" y2="878" stroke="#e8212b" stroke-width="1.8"/>
<line x1="95.6" y1="889.9" x2="104.6" y2="889.9" stroke="#e8212b" stroke-width="1.8"/>
<line x1="137.2" y1="880.7" x2="137.2" y2="888" stroke="#000" stroke-width="1.8"/>
<line x1="134.2" y1="880.7" x2="140.2" y2="880.7" stroke="#000" stroke-width="1.8"/>
<line x1="134.2" y1="888" x2="140.2" y2="888" stroke="#000" stroke-width="1.8"/>
<line x1="158.2" y1="863.9" x2="158.2" y2="872" stroke="#e8212b" stroke-width="1.8"/>
<line x1="154.7" y1="863.9" x2="161.7" y2="863.9" stroke="#e8212b" stroke-width="1.8"/>
<line x1="154.7" y1="872" x2="161.7" y2="872" stroke="#e8212b" stroke-width="1.8"/>
<line x1="194.3" y1="869.5" x2="194.3" y2="880" stroke="#000" stroke-width="1.8"/>
<line x1="190.3" y1="869.5" x2="198.3" y2="869.5" stroke="#000" stroke-width="1.8"/>
<line x1="190.3" y1="880" x2="198.3" y2="880" stroke="#000" stroke-width="1.8"/>
<line x1="216.6" y1="854.6" x2="216.6" y2="863.5" stroke="#e8212b" stroke-width="1.8"/>
<line x1="213.1" y1="854.6" x2="220.1" y2="854.6" stroke="#e8212b" stroke-width="1.8"/>
<line x1="213.1" y1="863.5" x2="220.1" y2="863.5" stroke="#e8212b" stroke-width="1.8"/>
<line x1="59.6" y1="806.7" x2="59.6" y2="939" stroke="#000" stroke-width="1.5"/>
<line x1="58.85" y1="886.1" x2="236" y2="886.1" stroke="#000" stroke-width="1.5"/>
<line x1="53.6" y1="806.7" x2="59.6" y2="806.7" stroke="#000" stroke-width="1.5"/>
<text x="51.6" y="809.9" font-size="9" text-anchor="end" font-weight="normal" font-style="normal" fill="#000">60</text>
<line x1="53.6" y1="833.17" x2="59.6" y2="833.17" stroke="#000" stroke-width="1.5"/>
<text x="51.6" y="836.37" font-size="9" text-anchor="end" font-weight="normal" font-style="normal" fill="#000">40</text>
<line x1="53.6" y1="859.63" x2="59.6" y2="859.63" stroke="#000" stroke-width="1.5"/>
<text x="51.6" y="862.83" font-size="9" text-anchor="end" font-weight="normal" font-style="normal" fill="#000">20</text>
<line x1="53.6" y1="886.1" x2="59.6" y2="886.1" stroke="#000" stroke-width="1.5"/>
<text x="51.6" y="889.3" font-size="9" text-anchor="end" font-weight="normal" font-style="normal" fill="#000">0</text>
<line x1="53.6" y1="912.57" x2="59.6" y2="912.57" stroke="#000" stroke-width="1.5"/>
<text x="51.6" y="915.77" font-size="9" text-anchor="end" font-weight="normal" font-style="normal" fill="#000">-20</text>
<line x1="53.6" y1="939.03" x2="59.6" y2="939.03" stroke="#000" stroke-width="1.5"/>
<text x="51.6" y="942.23" font-size="9" text-anchor="end" font-weight="normal" font-style="normal" fill="#000">-40</text>
<text x="76.3" y="899.3" font-size="8" text-anchor="middle" font-weight="normal" font-style="normal" fill="#5b3f99">24</text>
<text x="99.8" y="899.3" font-size="8" text-anchor="middle" font-weight="normal" font-style="normal" fill="#5b3f99">20</text>
<text x="134.5" y="899.3" font-size="8" text-anchor="middle" font-weight="normal" font-style="normal" fill="#5b3f99">16</text>
<text x="158.2" y="899.3" font-size="8" text-anchor="middle" font-weight="normal" font-style="normal" fill="#5b3f99">22</text>
<text x="196.3" y="899.3" font-size="8" text-anchor="middle" font-weight="normal" font-style="normal" fill="#5b3f99">17</text>
<text x="216.4" y="899.3" font-size="8" text-anchor="middle" font-weight="normal" font-style="normal" fill="#5b3f99">16</text>
<text x="24.5" y="881.3" font-size="10.1" text-anchor="middle" font-weight="normal" font-style="normal" fill="#000" transform="rotate(-90 24.5 881.3)">Average GCaMP5</text>
<text x="35.3" y="872" font-size="10.2" text-anchor="middle" font-weight="normal" font-style="normal" fill="#000" transform="rotate(-90 35.3 872)">between 140~200s (ΔF/F<tspan font-size="70%" dy="2">0</tspan><tspan dy="-2">, %)</tspan></text>
<text x="71.8" y="801.2" font-size="8.1" text-anchor="start"><tspan font-style="italic">p</tspan>=0.8038</text>
<text x="89.3" y="809" font-size="9" text-anchor="middle" font-weight="normal" font-style="normal" fill="#000">ns</text>
<line x1="78.1" y1="812.3" x2="100.1" y2="812.3" stroke="#3a3333" stroke-width="1.3"/>
<text x="132" y="794.8" font-size="8.1" text-anchor="start"><tspan font-style="italic">p</tspan>&lt;0.001</text>
<polygon points="139.30,801.10 139.93,803.01 141.90,802.60 140.56,804.10 141.90,805.60 139.93,805.19 139.30,807.10 138.67,805.19 136.70,805.60 138.04,804.10 136.70,802.60 138.67,803.01" fill="#000" stroke="#000" stroke-width="0.5" stroke-linejoin="round"/>
<polygon points="146.70,801.10 147.33,803.01 149.30,802.60 147.96,804.10 149.30,805.60 147.33,805.19 146.70,807.10 146.07,805.19 144.10,805.60 145.44,804.10 144.10,802.60 146.07,803.01" fill="#000" stroke="#000" stroke-width="0.5" stroke-linejoin="round"/>
<polygon points="154.10,801.10 154.73,803.01 156.70,802.60 155.36,804.10 156.70,805.60 154.73,805.19 154.10,807.10 153.47,805.19 151.50,805.60 152.84,804.10 151.50,802.60 153.47,803.01" fill="#000" stroke="#000" stroke-width="0.5" stroke-linejoin="round"/>
<line x1="135.3" y1="810" x2="158.5" y2="810" stroke="#3a3333" stroke-width="1.3"/>
<text x="186.6" y="806.9" font-size="8.1" text-anchor="start"><tspan font-style="italic">p</tspan>=0.0164</text>
<polygon points="203.50,813.50 204.13,815.41 206.10,815.00 204.76,816.50 206.10,818.00 204.13,817.59 203.50,819.50 202.87,817.59 200.90,818.00 202.24,816.50 200.90,815.00 202.87,815.41" fill="#000" stroke="#000" stroke-width="0.5" stroke-linejoin="round"/>
<line x1="193.5" y1="821.8" x2="215.5" y2="821.8" stroke="#3a3333" stroke-width="1.3"/>
<rect x="237.7" y="811" width="6.5" height="3.8" fill="none" stroke="#000" stroke-width="1.3"/>
<text x="248" y="816.7" font-size="9.4" text-anchor="start" font-weight="normal" font-style="normal" fill="#000">Control</text>
<rect x="237.7" y="822" width="6.5" height="3.8" fill="none" stroke="#e8212b" stroke-width="1.3"/>
<text x="248" y="827.2" font-size="9.4" text-anchor="start" font-weight="normal" font-style="normal" fill="#000">Histamine</text>
<text x="92.8" y="921" font-size="9.5" text-anchor="end" font-weight="normal" font-style="normal" fill="#000" transform="rotate(-45 92.8 921)">WT</text>
<text x="158.4" y="905.4" font-size="10" text-anchor="end" font-weight="normal" font-style="normal" fill="#000" transform="rotate(-45 158.4 905.4)">Pvap-1::HisCl1</text>
<text x="219.1" y="904.6" font-size="9.8" text-anchor="end" font-weight="normal" font-style="normal" fill="#000" transform="rotate(-45 219.1 904.6)">PR11D1.3::HisCl1</text>
</svg></body></html>
